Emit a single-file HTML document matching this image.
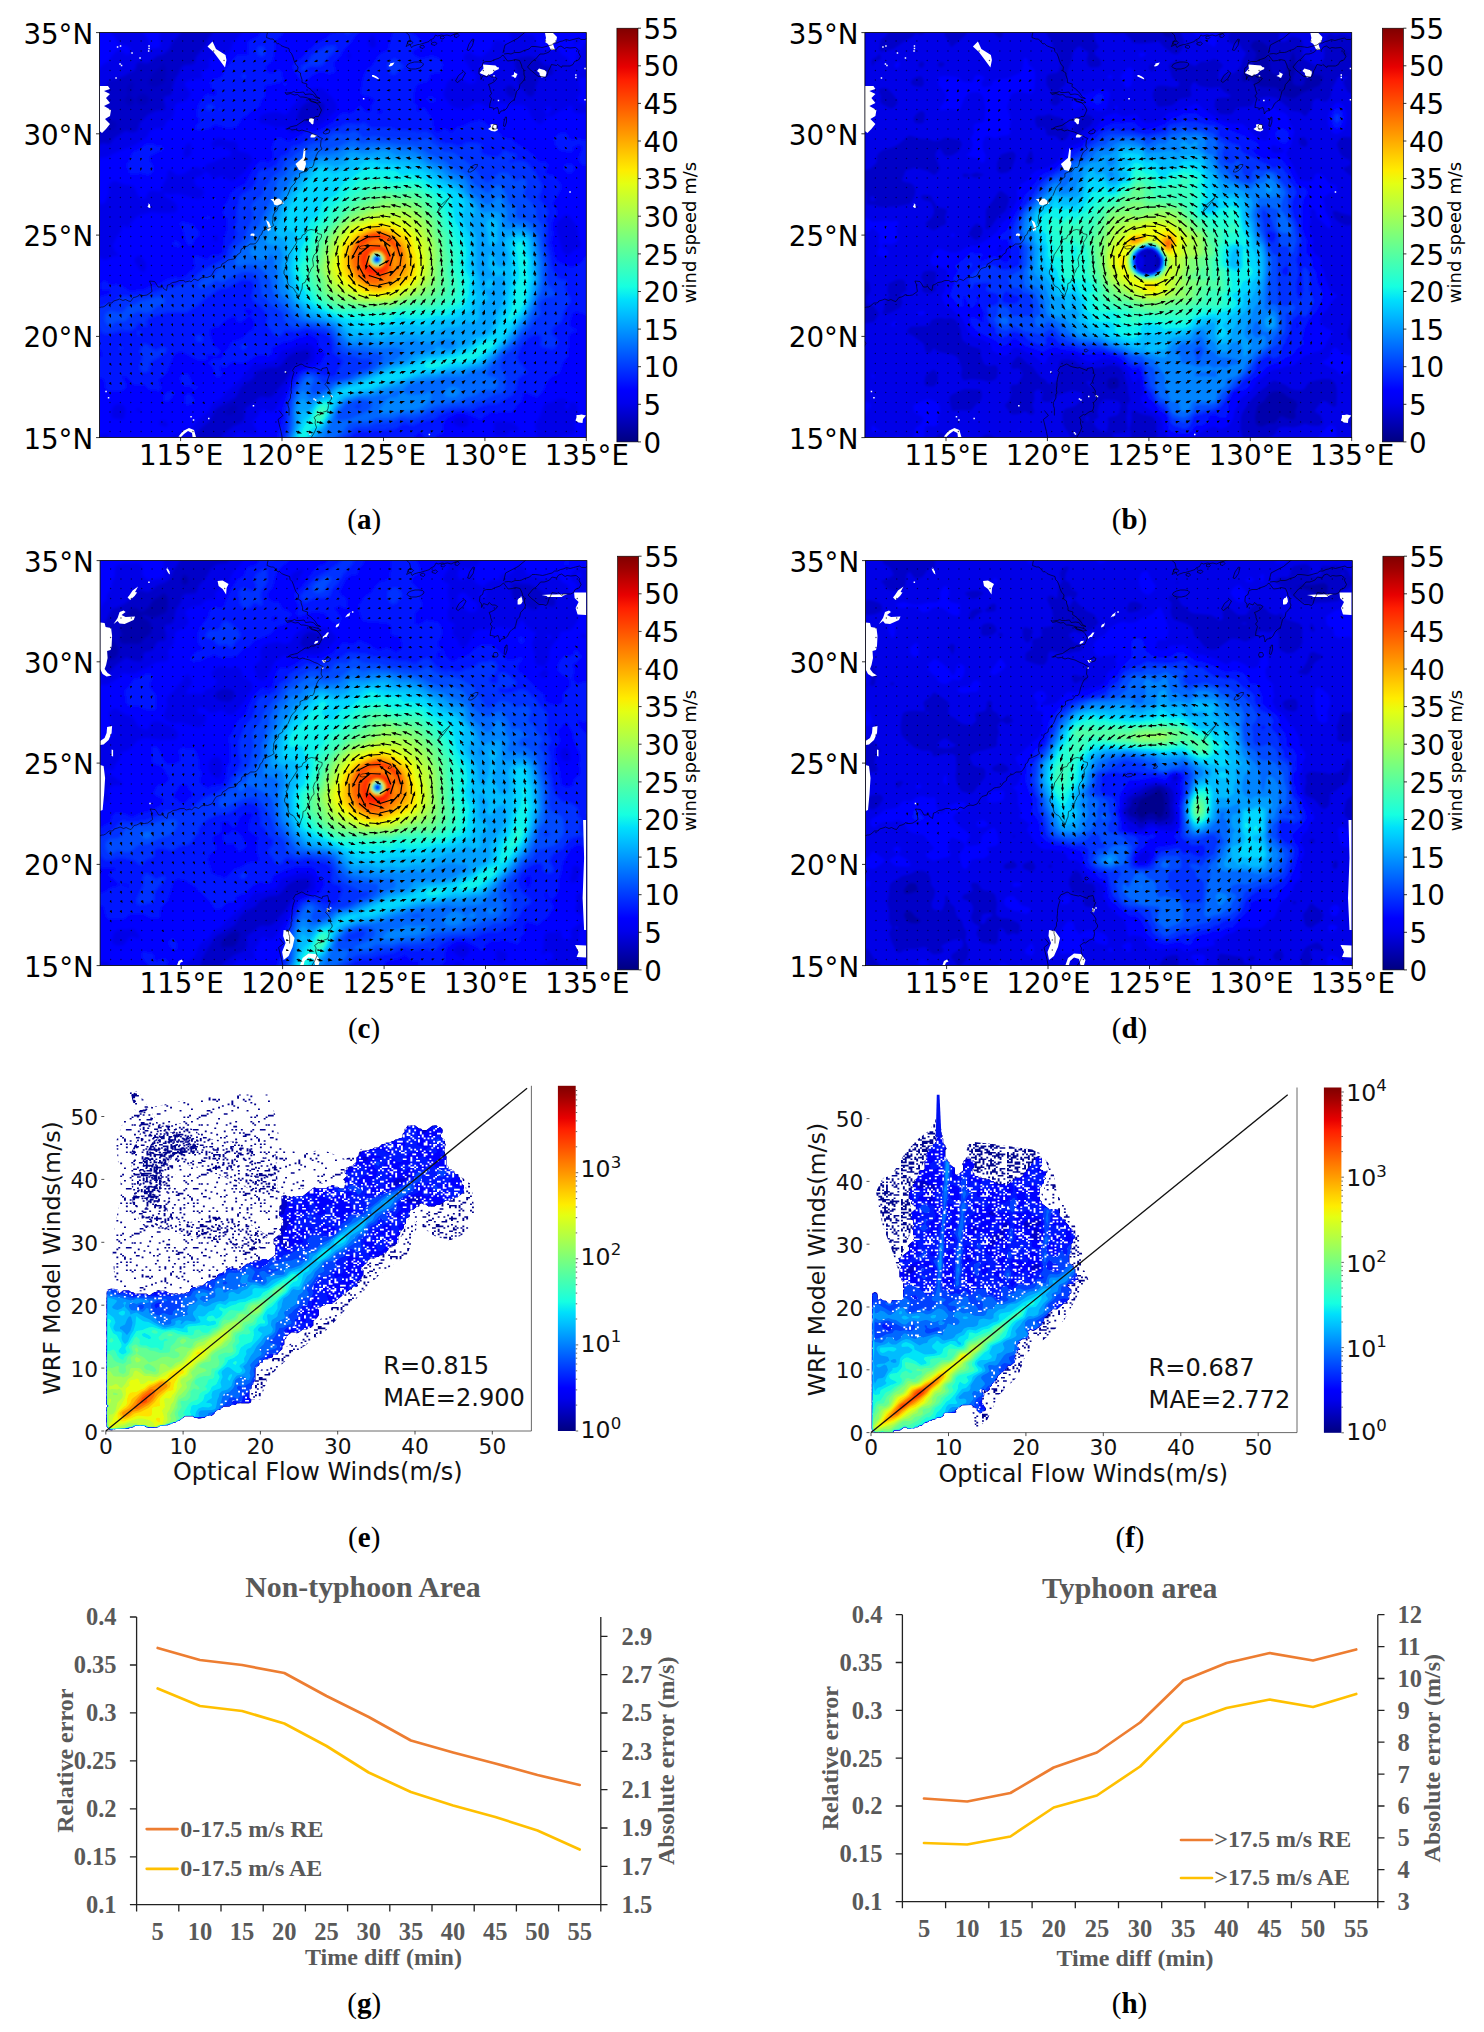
<!DOCTYPE html><html><head><meta charset="utf-8"><title>Figure</title><style>html,body{margin:0;padding:0;background:#fff}svg{display:block}</style></head><body><svg width="1484" height="2032" viewBox="0 0 1484 2032"><defs><linearGradient id="jg" x1="0" y1="0" x2="0" y2="1"><stop offset="0%" stop-color="#800000"/><stop offset="3.1%" stop-color="#9f0000"/><stop offset="6.2%" stop-color="#c40000"/><stop offset="9.4%" stop-color="#e80000"/><stop offset="12.5%" stop-color="#ff1e00"/><stop offset="15.6%" stop-color="#ff3b00"/><stop offset="18.8%" stop-color="#ff5900"/><stop offset="21.9%" stop-color="#ff7700"/><stop offset="25%" stop-color="#ff9400"/><stop offset="28.1%" stop-color="#ffb200"/><stop offset="31.2%" stop-color="#ffd000"/><stop offset="34.4%" stop-color="#feed00"/><stop offset="37.5%" stop-color="#e4ff13"/><stop offset="40.6%" stop-color="#caff2c"/><stop offset="43.8%" stop-color="#b1ff46"/><stop offset="46.9%" stop-color="#97ff60"/><stop offset="50%" stop-color="#7dff7a"/><stop offset="53.1%" stop-color="#63ff94"/><stop offset="56.2%" stop-color="#49ffad"/><stop offset="59.4%" stop-color="#30ffc7"/><stop offset="62.5%" stop-color="#16ffe1"/><stop offset="65.6%" stop-color="#00e0fb"/><stop offset="68.8%" stop-color="#00c0ff"/><stop offset="71.9%" stop-color="#00a0ff"/><stop offset="75%" stop-color="#0080ff"/><stop offset="78.1%" stop-color="#0060ff"/><stop offset="81.2%" stop-color="#0040ff"/><stop offset="84.4%" stop-color="#0020ff"/><stop offset="87.5%" stop-color="#0000ff"/><stop offset="90.6%" stop-color="#0000ed"/><stop offset="93.8%" stop-color="#0000c8"/><stop offset="96.9%" stop-color="#0000a4"/><stop offset="100%" stop-color="#000080"/></linearGradient></defs><rect width="1484" height="2032" fill="#fff"/><g transform="translate(0 0)">
<clipPath id="cpa"><rect x="99.5" y="32.6" width="486.79999999999995" height="405.0"/></clipPath><filter id="bla" x="-5%" y="-5%" width="110%" height="110%"><feGaussianBlur stdDeviation="1.6"/></filter><g clip-path="url(#cpa)"><g filter="url(#bla)" fill-rule="evenodd"><rect x="85.5" y="18.6" width="514.8" height="433" fill="#0000bb"/><path fill="#0000c8" d="M89.5 450l509 0 0-429.5-511 0 0 429.5zM204.5 443.5l0-2 .5-.5 1.5 .5zM225.5 413.5l.5-2 3.5-4.5 2-1.5 2-.5 2.5 0 1 2-.5 2.5-3 4-2 1.5-2 0-2 0zM108 130l-2.5-2-1-2 .5-2.5 2.5-3.5 2-.5 2 .5 3 1.5 2 2 0 2.5-1 2-2.5 2-3.5 0zM129 105.5l-1-.5-2-2-1-1.5-.5-2 1.5-2.5 1.5-1.5 .5-2-1.5-4 1.5-4 2-2 2-1 1 .5 .5 2.5-.5 2-3 5.5-1 .5 4.5 6 .5 2-.5 2-1.5 2-2 .5zM138.5 103.5l-2-2 0-2 .5-2 1.5-2 3.5-1.5 2 0 3 1.5 1.5 2 0 2 0 2-1.5 2-3 1.5-2 .5-2-.5zM153.5 87.5l-1.5-.5-2.5-1.5-1-2.5 .5-2 3-6.5 2.5-2.5 4-3 4-5 2 0 2 9-2 9-2 2-2 1-4 2z"/><path fill="#0000e8" d="M89.5 450l98 0-1.5-6.5 .5-2 2-3 8.5-6 4-4.5 8-7 2-2.5 4-8 2-2.5 18.5-10.5 5.5-10.5 4.5-4 7-4 1.5-2 1.5-4.5 2-1.5 10.5-3 2-.5 6 0 2-.5 4-3 5.5-7.5 3-2 5.5-2.5 10.5-2 2 1 1 1.5 .5 4-1.5 3-4 2.5-8.5 3.5-3.5 3.5-3 4-5.5 9.5-6 6.5-4.5 6-1.5 1.5-4 1-6-1-2.5 .5-2 1.5-4.5 4.5-6.5 4-1.5 2.5-.5 8-1.5 4-3.5 2-6 2.5-6 5-4 2.5-4.5 8.5-4 4.5-4 3.5 387.5 0 0-429.5-372.5 0-2.5 2-6.5 2.5-2.5 5.5-6.5 8-3.5 8.5-7 8-1.5 2-1.5 6-1.5 1-2 .5-6.5 .5-3 2-1 2-1.5 4-4.5 7-2.5 9.5 0 4-1.5 1.5-4 1-2.5 1.5-.5 2 2 8-1 2.5-8 .5-8.5 4-7 7-1.5 2-1.5 6.5-2 1.5-4 1-6-2-2 1-9.5 6.5-2 2-3 4.5-6-1.5-2 .5-6 3-2 .5-2-.5-1-.5 .5-6-3.5-2 0 312zM303 121.5l-5.5-2-.5-2 3.5-9.5 4-4 2-1.5 4-1.5 10 1 2 .5 1.5 1 1 2-1.5 6-1 2-6 6.5-4 2.5-4 0zM510.5 97.5l-2.5-2-2.5-4-.5-2 .5-2 3.5-2.5 2.5 .5 4 4 1 2 0 2-1 3-2 1zM527.5 95.5l-4-6-3.5-2-1-2-1-4.5 1-8-3.5-5.5-1-4.5 1-3.5 2-1.5 8-1.5 4-.5 9 3 5 5.5 2 1 4.5 .5 1.5 1 1 2 1 4-1.5 2-2 .5-2.5-.5-4-2-2 .5-2 3-3.5 9-1.5 8-1 2-2 1-2 0zM88.5 117.5l2-2 .5-2-1.5-6 1-2 7-4 2-2 5.5-10 2.5-6.5 1.5-2 2.5-1.5 6.5-1 6-2.5 6-3.5 3.5-1.5 2-2 .5-4 2-2.5 2-.5 6 1.5 2-.5 2-1 6.5-6 6-1.5 2.5-1.5 4.5-4 3-7.5 5.5-5 5.5-8 1-1 2-1 4.5-.5 1.5-1.5 1.5-4-106.5 0 0 98.5z"/><path fill="#0000ff" d="M97.5 450l71.5 0-.5-8.5 1-2 1.5-2 2-2 5.5-2 4-3.5 8.5-2 2-1.5 7.5-9 6.5-4.5 1.5-1.5 4.5-8.5 8-4 4.5-6 15.5-14 4.5-6 8-9 2-1 6.5 1 6-2 6-1 3-2.5 3-6 2-1.5 8-2.5 8.5-4 4-1 8 1 2 1 2 3 .5 2 .5 6-1 4-1.5 2-6.5 4-8 3-4 3.5-6 10-4.5 12-4.5 6-3.5 7.5-2 2.5-2 1-2 .5-6-3.5-2 .5-2.5 1.5-1.5 4.5-3.5 4-1 2 0 3 3 5 0 2-1 3.5-14-3-4 0-6 6-8.5 6-2 2.5-1.5 3.5 130 0 5.5-2.5 2.5 0 2.5 2.5 97.5 0 1-3.5 2-2 2.5-1 3.5 0 2 .5 1.5 1.5 0 4.5 65 0 2-6.5 1-4-1.5-4 .5-4-2-6 .5-2 4-6 4-12 2-2.5 6.5-1 6-3 4-.5 3 .5 2.5 2 .5 2-2 1.5-1 2.5 1 1.5 2 .5 1.5-2-1-4 5.5-1 2 1 1 2 1 4.5-.5 4 1 6-.5 .5-4 2.5-.5 1 1.5 4 0 4-1 2-2 1-10 1.5-2 1.5-3 4-5 3.5-2 1-4.5-1-2 0-2 2.5-.5 2.5 57.5 0 0-68.5-1.5-.5-1-2 2.5-2 0-303.5-8 3-10.5 2-1.5 2.5 2 8.5 .5 2-1 2-2 4-1 2 .5 2 2.5 .5 4.5 3 2 2.5 1 2-.5 2-2.5 1.5-2.5 .5-6-.5-2.5-1.5-1-2 0-4-2.5 0-5.5 4-4.5 1-2 1.5-6 4.5-2 0-2-1 2.5-4 .5-4-1-1-2 0-2 1-1.5 2 1 3.5 2.5 2.5-2.5 1.5-2 4.5-2 2.5-2 0-2-1-4-3.5-2-2-3-8-3-3-2-1.5-4-.5-6 1-12.5-2.5-2 .5-6 3.5-4 0-2 0-6-3.5-4-.5-2.5 .5-6 4.5-2 .5-8 0-5-1-3-2-2.5-4-3.5-4-1-4 3.5-10.5 1.5-2 4-3 2-.5 4 1 10 5 2 .5 3.5-1 2-2 .5-2-.5-4-1.5-2-4-3-4-7.5-3-3.5 0-2 1-2.5 4-2.5 2 0 3 3 3.5 1 4 1 2-1 8-7 2.5-6.5 1.5-2 2-.5 4 1 5.5 4 2.5 0 2.5-2.5 .5-2-2.5-6 0-2 2-2 5-2 5-4 2 0 2 2 0 2-1.5 2 0 2 1.5 1.5 2 1 4-.5 3 2 1 3 .5 5.5 1.5 2.5 2 1.5 6 1 12.5-1 2 2 .5 2 1.5 2 5 2 1 2 1 4 1 1 2 0 2 0 1-1 1-2 .5-6 1-2 4-4 3-5.5 1.5-1 4.5-.5 4 .5 1 2.5 .5 2 .5 6-.5 2-5 4-1 2 0 2 1 2 2 2 5.5 2 0-48.5-45 0-1.5 4-4 4-6.5 1.5-2-.5-1-3 1-2 3-4-60 0-5.5 8-2.5 1-2-.5-2-1.5-2-2.5-2-.5-7.5 4-4.5 5-4-2-6-4.5-1.5-2.5-.5-4-145.5 0-.5 2-1.5 2-3 1-2.5-1-1.5-2-.5-2-38 0 .5 6-.5 1.5-.5 .5-5.5 2.5-2 1.5-2.5 4-6 6-3 8.5-2.5 3-2 .5-4.5-.5-2 .5-4 2.5-4 1-1.5 1-.5 2 .5 6-.5 1-1.5 1-6 2-.5 2 1 2 0 2-1 1.5-2 .5-4 0-4 .5-4 1.5-2.5 2 .5 2.5 4.5 6 1 2-.5 2-3 4-2.5 1.5-6 1.5-2 1-1.5 2-.5 2-1 8-1 2-4 2.5-2 1.5-2 5-1 1.5-7 0-4.5 1.5-2 1-2.5 5.5-1.5 2-6 3.5-4 3-3 1.5-9 3-10.5 4.5-6 3.5-7.5 1-2 2-2.5 5-4 2-4 0 0 32.5 2-.5 4 .5 4 2 4 2.5 2 0 2-2 2.5-5.5 1-4-.5-6 .5-2 2.5-2.5 4-1 8.5 3.5 8 1 2 1 1 2 3 7.5 2 2 4 1 2-1 2-5.5 2-1.5 2-.5 8.5 1 1.5-1 1-6 3.5-6 .5-2 .5-4 1-2.5 2 0 5.5 4.5 2.5 .5 2 0 4-1.5 7-5 3.5-1.5 4 .5 4 3 4-6.5 6-1.5 6-3.5 8.5-2 2-.5 1.5-2.5 .5-2-2-2-6.5-3-4-.5-4 1-2 0-1.5-1.5 0-2 1.5-2.5 2-2 2-1.5 4 0 6.5 3 6 0 2 .5 2 2.5 .5 2-.5 4 2 1.5 6 1 3 1.5 3 3 1 3-1 2-8 11-10 7.5-2 .5-2-.5-6-4-2.5-.5-8 3-1-.5-1.5-4-5.5-3.5-2 3.5-2 1.5-4 1-2 1-1 2.5 .5 2 2 4 5 2 2.5 2 0 2-1 3-2 2.5-2 1-2 0-18.5-5.5-8 1-6-1.5-1 1.5 1.5 2 7.5 4 4 4 1 4.5-1 2.5-2 1-4 .5-10 0-8.5-1-12 3-2 .5-5.5 5.5-4.5 7-4-2.5-2 1-1 4.5-1 2-3.5 4-3 6.5-1 1.5 .5 2.5 2.5 4.5 3.5 3.5-5.5 .5-8 4-2-.5-6-3-4-6-6-5 0 196 4-1 4-4 4-1.5 8-1 2 1.5-1 4-1.5 2-7.5 2.5-3 1.5-.5 4.5zM256.5 441.5l-.5-2 1.5-2 2 2 .5 2-.5 1-2 .5zM496 435.5l-1.5-2-.5-10 1-2 4-.5 12.5 1 7 5.5 .5 2-1.5 1.5-2 0-4-1-3.5 3.5-3 2-6 .5zM461 427.5l-4.5-2-3-2-.5-2 .5-2 3-2 6-1 3 1 2.5 2 1 2-.5 2-1 2-3 1.5zM161 425.5l-2-2 0-2 3.5-1 2 0 2 1.5 1 1.5 .5 2-1.5 1-2 0zM112 417.5l-.5-2 0-4 1.5-4.5 2-2 3-1 2 0 2.5 1 2 2 1 2.5 0 2-1.5 6.5-2 1.5-8.5-1.5zM138 411.5l-2-2 2-1.5 2.5 1.5 .5 2-1 .5zM141.5 271.5l-2-2-5-8 0-2 1-2 2.5-2 2 0 2 2 3 4 1 3 0 3-1.5 4-2.5 .5zM564 253.5l-2-3.5-4.5-17-1-6 1-4 1-2 5.5-5.5 2-1 2 .5 2 1.5 7 10.5 1 4 0 6 3 6 0 2-1 2.5-2 1-4 1.5-4 4-2 1-2-.5zM214.5 241l-1.5-2 0-2 2-2.5 2 1 1 3.5-1 2-2 1zM183.5 156l0-2 1-6.5 2-3 2-1.5 2.5 1 0 8 0 2-1.5 2-3 1.5-2 0zM289.5 132l-3.5-4-2-1.5-8 1-8-3-7-1-1.5-2-.5-4 2-2 4-2 9-1.5 4 0 6 2.5 2 0 1.5-1 2-2 1.5-4 6-6 1.5-6 6-2 6-4 4-1.5 8 .5 2 1.5 7.5 7.5 4.5 6 .5 4-.5 2-1.5 2-6.5 6.5-9.5 8-2.5 1-4 1-8-.5-4 1.5-6.5 3.5-2 .5-2-.5zM347 57l.5-2 1.5-2 2 1.5 0 2.5-2 1.5zM370 47l-1-2-1-2.5 1-4 2.5-3 2 0 2 3.5 .5 6-.5 1.5-2 1.5-2-.5zM573.5 45l.5-2.5 2-3 2-1.5 2 .5 .5 2-.5 1-5.5 3.5-.5 .5zM89.5 91.5l1.5-2-.5-2-1-1.5-2-1.5 0 8zM91.5 73.5l2 1 2 0 1.5-1.5 3-6 2.5-2 6.5-4 3.5-6 5.5-5 2 0 6 4.5 2 .5 2-2 .5-4-1.5-2-3-1.5-6-1-2-2-3.5-6-3-2.5-1-3.5 1.5-4 .5-2-1-4-9.5 0-2.5 1.5-1-1.5-11 0 0 52zM580 71.5l1-2.5-1-.5-2 0 0 1.5zM481 70l2 0 2-3 0-2-2-2.5-2 1.5-1.5 3 0 2zM152 49l6.5-1.5 1.5-.5 .5-1 0-3.5-1-6 1.5-10-1.5-6-18.5 0 2 12 6 8-.5 4.5 1 2zM128 31l2 .5 2-.5 1-.5 1-2-1-8-12 0 3 7 2 2z"/><path fill="#0014ff" d="M227.5 450l2 0 4.5 0-2.5-2.5-2.5 0-3 2.5zM276 450l64 0 2.5-4.5 2.5-2 10-4.5 6-1 6 1 2.5 1.5 7 9.5 45.5 0 5-4.5 .5-2-.5-2-1-1-2-.5-4-.5-4-1-1.5-1 .5-2 5-3.5 2 1.5 2 3.5 2 1 6 1 2-1 4-3.5 4.5-1 1-2-1-4 1.5-6 1.5-2 2-2 5-3 4-1.5 8 0 12.5 4.5 4 2 4-4 6-3.5 6 .5 8-1.5 4 1 3-.5 9-10.5 2.5-8 2-1 2 .5 8 4 2 0 2-1.5 4.5-6 2-6 4-5 2-2 6-2 2-2.5 3-9 4.5-6 1-10 0-6 .5-4 1-2 2-2 4-1 2-1-6-2.5-2-2-.5-4 3-8 1.5-1.5 2-.5 4 .5 4.5 1 6 3.5 2 .5 1.5-1.5-.5-4-3.5-8-2.5-8 1-2 4.5-4 .5-2 1-8.5 2-3.5 2-1 0-14.5-6 0-2-1-2-3-2 0-2 2-2 3-2.5 2.5-6 3-2 1-2-.5-8-3.5-4-2.5-2-2-2-4-1-6-2-6.5 1.5-8-.5-12 1-4 3.5-4 .5-2 0-2-4-6.5 0-2 1-2 3-4 4-8 0-2-1-4-8-7.5-4-.5-2-2 0-2 1.5-4 0-2.5-2-1.5-6-.5-2-1.5-3.5-4.5-4.5-4-13-8-5-5-6.5-.5-2-.5-4-5.5-2-2-8-4-6-5-4-1-8.5 2-6 3.5-6 1-2 .5-4 5-2 0-1.5-.5-4.5-4-2 1.5-2 2.5-2.5 1-2.5-1-1.5-2-.5-2-.5-6.5-1-2-6-9.5-2-2-2-.5-2 4-2 .5-.5-.5-1-2 0-4-3-4 0-6 2-8 1-2 3.5-2.5 6-1.5 2-1 2.5-5.5 1.5-1.5 6-.5 2.5-1 1.5-3 .5-4-.5-2-1-2-1.5-2-5.5-2.5-2-.5-10 2.5-4-.5-4-3-1-2 0-2 1.5-2 5.5-2.5 1.5-1.5 0-2.5-.5-2-2-2-5-4-2-1-6.5-1-8-2.5-2 .5-2 1-3 9-1.5 6.5-1.5 3.5-2 1.5-6.5 3-6.5 10-6.5 6-1 2-2.5 8-1.5 10.5 .5 2 1.5 1.5 8.5 2 2.5 2.5 0 2-2.5 4-1 6-1 1-2.5 0-2-1-4-6-10 8.5-2 0-4-1-2 0-2 1.5-4 3-5 6-11.5 7-6 1.5-8-.5-2 .5-6 5.5-8.5 4-4-.5-6-3-2 0-2 1-1 1-1 2-2 6 1.5 8-1.5 4-2 1.5-2 .5-6-1-2.5 1-7 8.5-7 13-4 3-6 3-4 3-4 9-2.5 3-1 2.5-.5 6 .5 2 3.5 4 0 10-3 8-1.5 14.5-2 3-2 .5-7 .5-5 4-2 0-8-3.5-2 0-1.5 1.5 1.5 8-.5 2-1.5 2.5-4.5 3-4 4-2 1-8-.5-4 1-6 2.5-6 4-8.5 2-6 3-12 1-4-.5-8-5.5-4.5-.5-4 1.5-2-1-1-1.5-2.5-2-2.5 0-2 2-1 2 .5 2.5 2.5 2 2 0 4-.5 .5 2.5-1 2-1.5 .5-6 2-4 3-2 .5-8 .5 0 67.5 3.5 1 2.5 1.5 4 6.5 4 .5 2 1 1 2.5 1 6.5 2 2.5 2 1 10.5-.5 2 0 2-1.5 2-2 .5-2-2-4-2.5-4 2-1 2 .5 2 1.5 4 5 2 1.5 4 .5 6-.5 6 5 8.5 1 2-1.5 0-2-1.5-6 0-2 2-2 3.5-2 2-2 6.5-16.5 1.5-2.5 2-1.5 4-.5 4 .5 14.5 7.5 2 0 4 .5 2-1.5 0-4.5 2-.5 6 2 2-.5 3-3 0-2-3-2.5-4-2-1-5.5-2-6-.5-4 1.5-2 2-1.5 6-.5 4-4.5 2.5-2 8-4.5 2 1.5 2 5 2 .5 2-1 4.5-3.5 1.5-1.5 1-.5-1-.5-3-5.5 1-1.5 2-.5 4.5 2 0 2-2 4 3.5 4 .5 2-.5 6.5-1 2-5 2.5-5.5 5.5-2.5 1.5-6 1-2 1.5-2 4-5 6-1.5 3.5-2 3-2 .5-4-.5-6 3.5 1 2 4 4.5 1 6 2 2 2 0 2-2 0-3-1.5-3-.5-2.5 2-1 4.5 2 2-1 .5-2 2.5-2 3-.5 6 1 4-.5 2-.5 10-6.5 4-1 8.5 1 2-.5 .5-.5 1-2 .5-4 1.5-2 8.5-4 8-1.5 6-3 6.5-1.5 4-2 2 0 2 .5 4 1.5 2 1 1.5 3 .5 4 1 2 5 6 .5 2-.5 2-4.5 8-1.5 1.5-2 .5-14 4.5-3.5 2-2 2-5 8-8.5 24-1 14.5-4 12 0 6-3 10.5zM97.5 356.5l-4-2 0-2 2-2.5 2-1.5 2 .5 1.5 1.5 1 2 .5 2-1 2.5-2 0zM217 314l-2-2 2-2 2 2zM375.5 259.5l2-1.5 1 1.5-1 1zM377.5 113.5l0-2 2-3 2 .5 .5 2.5-.5 2.5-2 .5zM434 450l6 0-2-3.5-2-2-2-1-.5 2zM495 450l2 0 4.5 0-1-2.5-1.5-1-2-1-2 .5-1.5 1.5 0 2.5zM507 450l2 0 9 0-1-2.5-1.5-1.5-4-1-2.5 .5-1.5 2-1 2.5zM596.5 429.5l2 1 0-4.5-2.5 1.5zM596.5 411.5l2 1 0-20.5-2 1-1 2-1.5 4-2.5 4-.5 2 1 2 1.5 2.5zM186.5 405l4.5-1 1-1 2-2-.5-2-1.5-2-1-1.5-2.5-1.5-2 .5-1.5 2.5 0 6zM166.5 401.5l2-.5 2-2 2.5-4 1.5-2-1.5-2-4.5 1-4 3-1 4 1 2zM195 389.5l1-.5 1-2-2-1.5-2 .5-1-1-1.5-6-2-4-2-1-2 0-2.5 1-1.5 2 0 2 1 4 1 1.5 4 1.5 4.5 0 2 3zM598.5 304.5l0-.5 0-8-5 2 0 2 1.5 2 2 2zM174.5 246l4 .5 2-1.5-.5-2-1.5-1-2-.5-2 0-2 1.5 1 2zM191 245.5l2-2 .5-2.5 4-4 1.5-2 0-2-.5-2-2.5-2-3-4.5-8.5-2-2-.5-2 .5 0 .5 0 2 3 6 2.5 10 1 2 1.5 2zM596.5 233.5l2 0 0-7-3.5 .5-4.5 2 0 2 2 1.5zM207 219.5l1.5-.5 1.5-2-1-1-3.5 1 0 2zM215 200l1.5-1.5-1.5-1-1.5 1zM146 174.5l2 .5 2-1 2-1.5 1-2 0-4-3.5-6.5-.5-2 1-2 4.5-3 8-3 1-2-1-1.5-6-.5-4.5-2-4 0-4 1.5-4 4-6 2.5-2 2-2 6-3 4 0 2.5 3 7 2 .5 10-1zM590.5 175l4 1 4-.5 0-16.5-3-3-2-4 .5-4-1-4 0-4-.5-2-2-.5-2.5 .5-2.5 2-1 1.5-2.5-1.5-4-1-6 1.5-2-1-1.5-1.5-1.5-4-3-1.5-4 1-3.5 2.5-1.5 2-.5 2 .5 4 3 4 4 3 4 0 4 1.5 2-.5 1-4 1-1.5 2-1.5 4 0 2.5 1-.5 4-2.5 6 0 4 .5 2 2 2.5 6.5 0 3.5 2 0 2-2.5 4 0 2zM568 173l2 0 2-1 1.5-1.5 1-2-.5-2-2-2-2-1-4 .5-2 2.5 0 2 1 2 1 1.5zM197 130l4 0 6-1 3-1 3-2.5 2-.5 4 .5 6.5 2 6 0 4-.5 2-1.5 5-8 5-3 4-4 6-3 2-2 2-6 2.5-2 1-2 .5-2-1.5-6 2-2 8-1.5 8-2.5 .5-2.5-.5-6-2-3-2 0-6 4-2 0-2-1.5-2.5-3.5 .5-2 1-2 5-4 1-2 1.5-8 0-6 1.5-4.5 2-2.5 4-3 2-3 .5-1.5 0-2-2.5-8-21.5 0 1 8-.5 4-3 4-2.5 2-6 2-1.5 2 .5 10.5-.5 2-8.5 0-4 2-4 4-6 8.5-4 7.5-2.5 1.5-6 1-2 1.5-.5 2 .5 4.5 4 2 1.5 2 0 2-1.5 2.5-2 0-4-1.5-2 0-2 1.5-4.5 5.5-2 4-1.5 6 0 4 2.5 4 0 2-2.5 3-1.5 3.5zM430 102l4 0 1-.5 .5-2-1.5-1.5-1.5-.5-5 0-1 2 2.5 2zM284 85.5l2.5 0-.5-2.5-2-.5-.5 .5zM302.5 80.5l2 0 3-1.5 7-5.5 2-1 6-1 6 2 2 0 2.5-.5 2-1.5 .5-.5-.5-2-1.5-4 .5-2 1-2 4.5-4 5.5-9 6-5.5 4-6 7.5-8 4.5-4 2-2 .5-2-27.5 0-1 7-2 4-2 1-6.5 1.5-6 6-8 4-8 6.5-8 8.5-6 4-1 2-.5 2 1.5 4 6 8zM89.5 54.5l2-.5 .5-1-.5-6-1-4.5-3-1 0 13.5z"/><path fill="#0030ff" d="M282 450l51.5 0 7.5-8.5 8-4.5 8-5.5 4-.5 6 .5 6.5-1 6 0 14-1.5 4-1.5 4-3 2-1 2.5 0 6 2 10-4 4-1 6-1 2-.5 6.5-4.5 12-4 10-1 8 1 2-.5 8.5-4 10-2.5 6 .5 2-1 4-3 6-3 3-2 4-6 2-10 3.5-3.5 5.5-2.5-.5-2-8-10.5-1-2 0-2 2.5-8 3.5-5 4.5-5 3.5-2.5 4-1.5 2 0 2 .5 1.5 1.5 .5 2-1 6 .5 2 11 2.5 2-.5 2-2 2-4-.5-2-1-2-4-4-1-2 .5-2 2-3.5 6-4.5 2-2.5 1.5-6 1.5-4 2-4 3.5-4 0-2 0-2-2.5-3-2-5-.5-4.5 .5-2 1-2-1-1.5-6-.5-2-1.5-4-6-2-5-3-15.5-2.5-8.5 1-14 0-4-2-6 3-6-.5-2-4.5-7-3-3.5-1-2 0-3.5 1.5-2.5 .5-3 .5-5-3.5-6-3-6-4-3.5-2.5-5-1.5-1-4-2-6-.5-4 .5-2 1.5-2.5-.5 1.5-2 5-2 1-2-1-2-6.5-1.5-4-2-2 0-2 3.5-2 2-2 1-4 0-10-2.5-1-.5-1-2 1-6-1-1.5-2-1-8.5-1-4 .5-2 .5-2.5 2.5-1.5 .5-2 0-8-3-6 0-2-.5-6.5-4-6-6-2-1.5-2-.5-8 .5-12-1.5-8.5 0-10-2.5-14 1-4-1.5-4.5-4-2 0-4 1.5-10-1-4 .5-4 2.5-10.5 3.5-8 4.5-4.5 1.5-5.5 2-6 1.5-6 5-6.5 1.5-2 1-3.5 5-2 2-4.5 2-2 2-3.5 6-2.5 2.5-6 3-6 0-2.5 1.5-2 3.5-2 8-2.5 4-3.5 3.5-8 4.5-1.5 2-1 4-2.5 12.5 .5 8-2 6 1.5 6-.5 4-2.5 4.5-4 4.5-1.5 3.5-1 6-1 2-3 2.5-14 7-6 2.5-12 10.5-4.5 2-12 5-10 1-4 2-14.5 5-8 .5-8 1-8-.5-2 1-6 5-2.5 1-8 2-8 6-1 3 .5 4 5.5 12.5 1 2 2 1 2 .5 6-.5 9.5-3 7 .5 2-.5 4-1.5 1-.5 3-5.5 2-1 3 4 1 1 2-.5 1-.5-.5-4 .5-2 2.5-2 5-2 12-3.5 8-.5 12 .5 6-4.5 4.5-2 8.5-8 7.5-4.5 4.5-3.5 1.5-1 8.5-1.5 10-5 4-2.5 4-.5 6 1.5 2 2.5 0 4.5-1.5 8 1 4 1.5 2 5.5 4 5 6 3 3 .5 1-2 6 0 2 5.5 8 2 2.5 4 1.5 2 0 2-1.5 2-2.5 2-1.5 10 1.5 10.5-3 16 4 4.5 1.5 2 2 2.5 4 1 4 .5 8 7.5 6 2 2 .5 2-4.5 6.5-1 4-.5 1-1 1-3 1.5-2.5 .5-4-1-6-1.5-6-3-4-.5-4 1-4 1.5-3.5 3.5-6.5 12-4.5 14-1 8.5-.5 12-.5 6-1.5 6-3.5 8-.5 4-.5 2.5zM375.5 261.5l-.5-4 3 0 1.5 2-1.5 2zM142 372l2 .5 2-.5 2.5-1 1-2 1-6.5 2-2 4-1.5 9-6.5 1.5-2-.5-2-2-1-2-.5-6 3-2-.5-8.5-5.5-2 0-2 2-2 4.5 0 2 2 4 0 2-2.5 8 .5 3zM120 349l2 0 .5-.5-.5-1.5-2-.5-1 2zM241.5 349l2 .5 2-1.5 1-1.5-.5-2-2.5 0-2.5 2zM197 340.5l2 1.5 2-.5 1-1 .5-2-1.5-2.5-2-1-2 .5-1 1-.5 2zM138 335l2 1 .5-1.5-.5-3-2-.5-1 1.5zM207 110l4-.5 4-2-2-2-4-1-2 1-1 2zM219 110l2 0 .5-.5-.5-1-2 0-.5 1zM243.5 78.5l2-1.5 0-2-2-1-1 1-.5 2zM391.5 74.5l2 .5 2-1 4-4 2.5-1 2-2-5-6-3.5-2-2 0-3.5 2-2 2-.5 2 1.5 6zM302.5 71l2 0 4-4 2-1 6 .5 4-1 2-.5 2-2 4-6 6.5-5 .5-1 .5-4-1-1.5-8.5 .5-12 7-2.5 2-1.5 2-3 6-4 2-2.5 2 0 2zM259.5 56l2.5 .5 2-1 1.5-2.5 0-2-1-2-.5-1.5-2-1.5-2.5 .5-2.5 2.5 0 2 0 2zM347 34.5l2-1 7-7 1-4 0-2-10 0-2 10 0 2z"/><path fill="#004cff" d="M284 450l44.5 0 10.5-11 8.5-5.5 3.5-4 4-2.5 4-.5 8 0 10.5-3.5 10 0 6-1.5 8-3.5 10.5 1 6-1.5 22.5-8.5 12-2.5 16-1.5 8.5-3.5 9-2.5 7-4 8-1.5 3-2.5 1.5-4 0-10-1.5-4-3.5-4-.5-2.5 1-4 1-4 3-4 6.5-4.5 6-6.5 6-9 6.5-6 3.5-6.5 2-3 3.5-3 1.5-2 0-2-1-4 0-3.5 2-4 4-2.5 8.5-2 1-2-2-4-3-3-1.5-1.5-1.5-4-.5-6 1-8-.5-4-4-20.5-.5-16-1-2-5.5-8 .5-6-1-2-6-8.5-5-4-1-2 3-10 0-2-1-2.5-2-1-2 0-4 1.5-3 0-1-.5-4-5.5-2.5-1.5-4-.5-2 0-3.5 2-6.5 6.5-2 1-2 .5-2-1-3.5-3-4.5-7-4.5-3-3-4.5-15-10.5-4-1.5-6 0-2-1-4.5-4.5-6-3.5-4-4-2 0-10 2.5-4-1-6-2-8.5 .5-14-1-8-2-10.5 1.5-2 0-6-5.5-4-1-6 3-2 .5-6-1-4 0-4.5 2.5-4 5-2 1-8 .5-8 2.5-6 5-6.5 3.5-4 4-5 2.5-1.5 2-3.5 6-1.5 2.5-8 6-3.5 6-5 6-1 6-9.5 8-1.5 2-.5 2.5 1.5 6 0 4-6 14-2 6-11.5 14-2.5 6.5-1.5 2-11.5 10-5 7-6 .5-6 3.5-2 3 0 3.5 2 1.5 2-.5 8.5-4.5 3.5-3 2 0 4 1.5 2 0 6.5-4 12-5.5 6-.5 6 1 3.5 2.5 2 4 2 8.5 .5 6 1 2 3.5 2.5 4 5.5 2 1.5 10 6.5 1.5 2 1 6 1.5 2 2.5 2 3.5 2.5 4 1 10.5-1.5 8 1.5 8 .5 4 1.5 4 3 3.5 6 3.5 8 5.5 6 4 2 8 2 6 2.5 8.5 0 2 .5 .5 1 .5 2-.5 2-1.5 2-3.5 2.5-8 2-12 6.5-10 2.5-10.5 3.5-4-.5-5.5-6-4.5-2.5-2-.5-4 .5-4 2.5-3 4-5 10-3.5 10-1.5 12.5-.5 10-.5 8-1.5 4-4 10-.5 4.5zM354.5 407l2.5-2.5 2 0 2.5 .5-1 2-1.5 1-2 .5zM375 261.5l-.5-2 .5-2 2.5-.5 1.5 .5 .5 2-.5 2-1.5 .5zM107.5 325l2 1 2-.5 4-3.5 2.5-.5 6 0 2-.5 4-5 6-3.5 2-1 8 1.5 4-1 6.5-5 7-3 1.5-2 0-2-2.5-2.5-2-.5-4 0-6.5 2-10 2.5-6 3-6 1.5-2 2-2 3-2 1.5-4 0-6.5-1.5-4 1-2 2-1 4 1 4z"/><path fill="#0068ff" d="M286 450l35.5 0 5-4 10.5-10.5 6-4 4-6 2-2 2-1 8-1 6 .5 2 0 8.5-4 14 0 4-.5 8-3 8.5 0 8-1 4-1.5 12-6 6.5-1.5 18-3 8-4.5 6-1 4-1 4.5-3.5 2-1 10-.5 2.5-1 1.5-2 1-4-1-4-2-1.5-6-1-2.5-1.5 .5-2 3.5-6.5 6.5-6.5 4-6.5 8-6.5 6.5-6.5 5-8 5.5-6.5 4-6 5-12 2-8 3.5-6 1.5-4 1-8.5 0-8 .5-8-.5-4-3-16.5-.5-6-5-12-3-3-6-4-7-1-2.5-2-.5-2 .5-6-.5-2-4-2-2.5-1.5-3-9-5-8-2-1.5-2 .5-2 .5-6 7-2 0-12.5-8-7-8.5-3-2.5-4-2.5-8-4-6.5-5.5-10-5-6-2.5-8-5-4-2-8-2-8.5-.5-14-2-8 0-8-1-8.5 2-4-1-4-2.5-2-.5-14 6.5-14.5 4-4 0-4-1-4.5 .5-9 6-7 7.5-6 3.5-4.5 7.5-6 4-1.5 2-3 8-1.5 8-4.5 8-3 6.5-2.5 4-4 10-6 8-2.5 6-1.5 2-12 14.5-2.5 6 .5 2.5 1.5 1.5 2.5 .5 8-1.5 6 .5 2.5 .5 3.5 2 10.5 10.5 1 3.5 1.5 8.5 4.5 10 9 7.5 6 8 5 4.5 5 2 20.5 3 6 2 4.5 3.5 8 12.5 2 2 4 3 4 1.5 4 1 12 1.5 10.5 1 3.5 1.5 2 2 .5 2-1.5 2-5.5 6-6.5 4.5-4.5 2-6.5 1.5-10 5-14 4-7.5 5.5-9 4-4 1-2-.5-2-2.5 0-4 2.5-4 .5-2-.5-2-2.5-2-2 0-3.5 2-2.5 3.5-6 10.5-3 8-1.5 10.5-.5 12-1 8-1 4-4 8-1 4 0 2.5zM337 419.5l-.5-2 0-2 1-2 9.5-10.5 10-3 4-.5 4 .5 4.5 1 2.5 2 0 2-.5 2-2 2.5-8.5 5-7.5 3-4.5 2-8 1-2 0zM374.5 261.5l-.5-2 .5-2 1-1 2 0 2 1 .5 2-.5 2-2 .5-2 0z"/><path fill="#0084ff" d="M288 450l24.5-.5 4-5 4-3 2-2 4-7 2-5.5 4-7.5 2.5-6.5 2-3 8.5-9 13.5-4 14.5-.5 6-1.5 8 0 6-4 4-1 4 1 6.5-6 5.5-2 14.5-2.5 8-1 8.5-3 10 0 8-.5 10-4.5 8.5-2 6-4 7-7 7-8 8-7 4.5-5 5-8 5-6.5 4-6.5 4.5-9.5 5-14 3-12.5 0-18-4-24.5-3-6-3.5-4-4-2.5-4-1.5-10.5-2-3-2-1-2 .5-6-6.5-14.5-2-1.5-2 .5-2.5 3-3.5 3-4 1-2-.5-14.5-12.5-3.5-9-2.5-3-2-1.5-12-5.5-8-7-12.5-4.5-8-6-10-4-4-.5-6.5-.5-14-3-16 0-8.5 2.5-2 0-6-2.5-4 0-4 1-8 4-4 1.5-8.5 1.5-8 .5-12 7.5-6 7.5-8.5 6.5-4 8-6 6-3 7.5-3 4.5-7.5 14-3 10-1.5 4-7.5 12-6 6.5-.5 2 0 2 2 2 3.5 2.5 6.5 2 4 0 1-.5 3-5 2 0 2 2 .5 1 0 6 2.5 8 .5 12 2 8.5 1 2 5.5 5 6 9 6.5 6 5 4 5 2 16 3 8.5 3 2.5 2.5 4 6 5.5 6 4 3.5 4 2 10-.5 10.5 2.5 12 .5 8-1 10 2.5 1 .5 0 2-1.5 2-5.5 3.5-3 2.5-7 3-10 6-10.5 5-8 2.5-8.5 4-13.5 3.5-2 1.5-4.5 4-4 2.5-14 6-2 0-2-1.5-4-6-2 0-2 2-2 3-3 7-1.5 8.5 0 12-1.5 8-6.5 16 0 2.5zM374.5 261.5l-1-2 .5-2 1.5-1 2-.5 2.5 1.5 .5 2-1 2.5-2 .5-2 0zM383.5 413.5l8-.5 10-2 12.5-1 4-1 7-4 3-2 1.5-2 1-2 .5-6-1-2-6 3.5-10 .5-4 0-8.5-3.5-4 5-2 1-6 0-2 1.5-2 2-6 8.5-.5 2 2.5 2zM450.5 397l4 0 3.5-2 2-2 .5-2-1-2-3-1.5-4-1-2 .5-3.5 2-2 2-.5 2 0 2 2 1.5z"/><path fill="#00a0ff" d="M288 450l16.5 0 4-3 8-11 8-7.5 5.5-9 5-10 7.5-8.5 2.5-2 12-3.5 16.5-2.5 6-2.5 22-6 8-3.5 4.5-1.5 14-3 8-.5 10.5-3.5 16-1 8-3.5 10.5-2 4.5-3.5 21.5-20.5 18.5-26 5.5-12 3-10 3-12.5 .5-4-1-8 0-8-3-20.5-1.5-4-2.5-3.5-4-3-4-1.5-4-.5-8.5 1-4-.5-2-2-1-4-1-8-1.5-2-2.5-1-2-.5-10 1-2 0-2-1.5-2-2.5-3.5-6-9-10-4-7-2-2-10-5-10-8-13-6.5-7.5-5-2-1-10-2-10.5-.5-2-.5-6-3-4-1-4 0-10 2-8.5 1-8-2-4 0-4 1.5-4 3.5-4 2-4 .5-14.5 0-2 .5-10 7-6 7-7 6.5-8 12-8 14.5-7.5 14.5-6 19.5 1 2 1 1 10 2 2 2 3 7.5 0 2-2 8 3.5 18 3 8.5 7.5 12 7 6 3 4 2.5 2 19 5 8.5 3 4 3 4 6 5 5.5 3 2.5 2 .5 2 0 6-2 4 0 12.5 3.5 6 0 8-1.5 8 1 14.5-3 3 1 5 2.5 8-.5 4 1.5 2-1 2-2.5 2.5-1 8-.5 6 1.5 2 2 0 2-1.5 2-4.5 2.5-4 .5-8.5-3-2 .5-2 3.5-2 .5-18 4-6 5.5-2 1-16.5 4.5-22.5 10.5-7.5 2.5-6.5 3-16 5-8.5 7-10 4-8 6-2 0-4-4-2-1-2 1.5-2 3-2 6-.5 4 .5 8-2 10-2 6-4.5 9-.5 3.5zM374 261.5l-.5-2.5 .5-1.5 1.5-1.5 2-.5 2.5 2 .5 2-1 2.5-2 1-2-.5z"/><path fill="#00bcff" d="M290 450l11.5 0 4.5-4.5 8.5-11.5 8-6.5 2-2.5 3.5-5.5 5-10 2-3 8-9 14-4.5 14.5-2 10-4 20-6 14.5-4.5 10-2.5 10-.5 16.5-4.5 10-1 8-2.5 8.5-2 4-2.5 12-10 10-10.5 8.5-12 10-13.5 4-9 3.5-10 2-10.5 2-6 0-2-1-8-.5-8-3-20.5-1-2.5-2-2.5-6-3-4 0-8.5 3.5-3.5 2.5-1.5 4 0 2 3.5 8.5 0 6-1.5 4-3 3-2 1-2-.5-2-1.5-1.5-2-2-8-2.5-3-1 1-1 2-1 10 .5 2 6.5 8.5 2 .5 4-1.5 2 0 1.5 2.5 .5 10.5-1.5 10-2 8-5 8-3 8-1.5 6.5-3.5 4-5.5 3.5-8.5 1.5-2 2-2 3.5-2 2-6 2-10 4.5-16.5 4-10 1-6 2-12 6-18.5 4.5-12 5.5-22.5 9-17.5 5.5-7 6.5-10 3.5-3.5 2-8.5 10-2 .5-2.5 0-1.5-1.5-2 4.5-1.5 9-3.5 10-6 14-.5 2.5zM373.5 337l4 1 4 0 8-2.5 8-.5 6-2 8.5 .5 10 1.5 6-2 8-1 8.5-4 4-1 6 0 4-.5 4-2.5 4-3.5 4 2.5 2 .5 2-.5 2.5-2 2-3 .5-2-.5-6 1-4 3-3 4.5-3 1.5-2-4-6-4.5-4 0-6.5-4.5-14 0-4 .5-6-.5-8 0-10.5-.5-4-4-8-1-4 1-4 2.5-4 .5-2-.5-6-3-4.5-12-14-2.5-2-11.5-6-7.5-6-6.5-4-11-6-4-1.5-10-2-10.5-.5-10-2.5-16-.5-10.5 1-6-.5-1.5 0-2.5 2-4 4-10 2.5-8.5-2.5-6 0-4 1.5-5.5 5-19 22-8.5 14.5-3 10-3.5 8-1.5 4 0 4 1 2 7.5 5 1.5 1 1 2 0 6.5 1.5 8-2 8 3.5 12 1 8 6 14.5 2 2 11 10 25.5 9 5 3 7 7 6 5 2 0 10-2 4.5 1zM373.5 261.5l-.5-2 .5-1.5 2-2.5 2 0 2 1 1 1 .5 2-.5 2-1 1-2 1-2-.5zM487 289l2 0 2-1 2-2.5 .5-4-.5-2-2-1-2 .5-3.5 2.5-.5 2 0 2 .5 2.5zM491 246.5l2-.5 3.5-3 1-2 .5-2-1-6 1-6-.5-4-1-2-1.5-1.5-2-.5-4 .5-2 2.5-1 3 2 10 .5 8 .5 2z"/><path fill="#00d8ff" d="M292 450l7 0 7.5-8 6.5-10.5 9.5-6.5 5-7.5 8.5-18.5 5-4.5 8.5-1.5 9.5-3.5 12.5-1.5 10-4 18.5-5 22-7 14-1 16.5-5 10-.5 14.5-4 4-2.5 13.5-10.5 12.5-15.5 4.5-7 10-12 4-8 2.5-8 1-4 1-8.5 2-8-1-6 0-10-2.5-10-1-10-1.5-2.5-4.5-2-4 0-4 2-3 4 0 4.5 2 16-1.5 8 1.5 6-2 8-3.5 22-4.5 6.5-2.5 8-5 10.5-8 5.5-10 4-7.5 6.5-15 5-16.5 4.5-8 .5-4 1-16 7-17.5 4.5-25 10-10.5 5-6.5 1-10 4-1.5 1-4 4.5-2 1.5-8.5 1.5-4 1.5-4 3-6 9.5-2 2.5-4.5 3.5-1.5 2-11 26-.5 2.5zM373.5 330.5l4 .5 6-2.5 8-1.5 18.5-3 4 .5 6 1.5 6 0 2-1 6-3.5 8.5-1 14-2.5 8-5 4-1 2-2 1.5-6 4-6 .5-2-3-6 0-2 1-6.5 0-4-1.5-4-3-6-.5-2 1.5-12-.5-16.5-4.5-8-3-8 0-8 1-4 1-2-.5-4.5-2-4-6-6.5-9-5.5-7-3.5-6.5-5-9-5.5-3-1.5-6-1-7.5-1.5-7-2.5-14-2-6 0-8-2.5-6.5 0-2 .5-10 6-6 2-8 1-6 2.5-2 0-8-5-4.5 0-4 2.5-4 5.5-6 5.5-4 7-6 5.5-3 6-4 6.5-2.5 6-1 10-1 4 0 2 1 .5 6 1 2 1.5 2 3 .5 4 0 2-3.5 8.5 0 8-1.5 8 0 4 3.5 14 5 14.5 1.5 2 3 2.5 6 4 10 5.5 15 6 19.5 11 4 .5 8-1zM376.5 263.5l-1-.5-2-1.5-1-2 1-2.5 2-1.5 2-.5 2 1 1 1.5 .5 2-.5 2-1 1z"/><path fill="#0cf4eb" d="M296 448l8.5-7.5 2-3 3-6 1.5-2 3-2 6.5-3 3-3 3.5-6 3-8.5 .5-4-2-1.5-4 0-4 1.5-2 1.5-2.5 2.5-5.5 10.5-4.5 6-7.5 13.5-2.5 6.5-.5 2zM426 367.5l4 .5 4 0 12.5-3.5 6-3 2-.5 6 1 4-.5 10.5-3 3.5-2 6.5-5 6-3.5 2-2 2-3.5-1-2-1-.5-8 2.5-8 4-4.5 4.5-18 6.5-8 1-8.5 3-6-.5-4 1-1.5 .5-2 2 0 2zM373.5 324.5l2 0 6-2 6 0 2-.5 7-4 3-.5 8.5 1.5 10 0 10-.5 8-3 8.5 .5 4-1.5 6-4 7-2.5 3-3 4-9 .5-8 1-6.5-.5-4-3.5-6-1-4 0-4 1.5-8 0-6-2-6.5-.5-6-4.5-6-1-4-3.5-6-3.5-22.5-7-6.5-7-3.5-15.5-10.5-12-4-6.5 1.5-2 0-2-1-1-2-3-1.5-8-1-8 0-8-2-8.5 2-7 4.5-7 5.5-4 2-4 4-3 6.5-1 1.5-6.5 4-6 3-2 2-4 12-2 2-6 3-3 7-1 4 0 6-.5 2-4.5 8.5-1.5 8-3 6-1.5 6 .5 4 2.5 10 1.5 4 5 6.5 1 2 1 4 1.5 2 7.5 6 14.5 7.5 12.5 4.5 10 2 8 0zM375 263.5l-2-2-.5-2 .5-2 2.5-2.5 2 0 2 .5 1.5 2 .5 2-.5 2-2.5 2zM507 321l2 .5 10.5-10.5 4-7 2.5-10 .5-8.5 1.5-8-1.5-8 1-4 .5-4-.5-2-3.5-6 0-6-.5-2.5-2-3-2-.5-2.5 1.5-1 4.5 0 2 1.5 6 0 6 1 6 .5 10-4.5 10.5-.5 10-2 6-.5 6-3 6z"/><path fill="#23ffd4" d="M314.5 424l4-.5 2-1 4-5 3-8 0-4.5-1-.5-2-1-4 1.5-4 4.5-3 6-1 4 0 3.5zM367 316l12.5 0 6 2 2 0 6.5-4 3.5-1 4 0 6.5 1 6 .5 8-1.5 6 0 10-3 6.5 0 6-3.5 8-3 2.5-3.5 2-6 1-10.5-4.5-20 0-4 1.5-6-.5-4.5-6-13-2-7-3.5-8-2-6-8.5-18.5-6.5-4.5-6-4-4-4-2-1.5-10-1.5-8.5 1-10 0-12-5-2 0-8 2.5-6.5-.5-2 .5-4 2.5-6.5 6.5-9.5 11-11.5 9.5-1.5 2-3.5 6-8 8-3 4-1 2-2 8-4 8.5-1 10-4 6-1.5 4 .5 4 2 6 1 6 1 2 5.5 6.5 3 6 3.5 4 4 3 12.5 6.5 10 3 12 0zM375 263.5l-2.5-2-.5-2 .5-2 3-2.5 2-.5 2 1 1.5 2 .5 2-.5 2-1.5 2-2 .5z"/><path fill="#39ffbe" d="M316.5 421l2 0 2-1 2-2.5 2.5-6 .5-2-1-2.5-2-.5-2 1-3 4-2.5 6 .5 2zM365 312l4.5 .5 10-.5 8 .5 12-3 10.5 .5 8-2 8 .5 4 0 14.5-5 6.5-3.5 3-2 2-4 1.5-6 0-4.5-1-6-3.5-8-.5-2 2-6 .5-6-.5-2-3-6-1-10.5-1-4-4.5-8-4-12-7-14-4-3.5-12-8-8-1.5-10.5 1.5-10-.5-4-1-6-3-2 0-10.5 2.5-2 1-4 4.5-6 3-6 5-13.5 12-7.5 10-9.5 8-2.5 4-2.5 10-2.5 6.5-.5 8-5 10 0 2 2 8 0 6 1 2 5.5 6.5 4.5 8 2.5 2 12 6.5 8 2.5 12-.5zM374.5 263.5l-2-2-.5-2 .5-2 1-1.5 2-1.5 2 0 2 .5 2 2.5 .5 2-.5 2-2 2-2 .5z"/><path fill="#50ffa7" d="M318.5 416.5l2-.5 .5-.5 1-2-.5-2-1-.5-1.5 2.5-.5 2zM355 308l14.5 2 10-.5 8 .5 4-.5 10-3 8.5-.5 6-1.5 4-.5 8 1 4-1.5 12.5-7.5 1.5-2 3-8.5 .5-4-2-8 0-4 1.5-10 0-2-2.5-10-1-12.5-4-6-3-12-2-4-4-4-4.5-8.5-8-6.5-4-2-6-1-10.5 2-8-1.5-16-1-4 1-6.5 5-10 5-9 7.5-6.5 8-17 15-2.5 3-1.5 4-4.5 20.5-3 6-1 4 3 14 3.5 4.5 3.5 8 1.5 2 11.5 7.5 6 2zM374 263.5l-2-2 0-2 0-2 1.5-2 2-1 2-.5 2 1 2 2.5 .5 2-.5 2.5-2 2-2 .5-2-.5z"/><path fill="#66ff90" d="M355 306l14.5 1.5 22 0 8-2.5 8.5-2 6-1.5 10-1 4-1 8-5 4-4.5 2.5-6.5 1-6-.5-12 1-10-2.5-16.5-3.5-8-1.5-8-2.5-5-10.5-13.5-5.5-4.5-8-3.5-10.5 .5-10-2.5-6 .5-10 3-14.5 6.5-10 7.5-14 13-7.5 8-3 4-4 9-3 13.5-3 10 .5 4 5.5 12.5 2 6.5 2.5 3.5 10 7 4 1zM373.5 263.5l-1.5-2-.5-2 .5-2 1.5-2 2-1.5 2 0 3 1.5 1.5 2 .5 2-1 2.5-2 2-2 .5-2 0z"/><path fill="#7dff7a" d="M357 304l14.5 1.5 20 0 22.5-7.5 9-2 7.5-4 2-2 3-4.5 1.5-4 1-8 .5-10 1.5-8-.5-4-2.5-12.5-2.5-6-1.5-8-2-4-11-13.5-6-4-6-2.5-8.5 .5-10-3-6 .5-6 3-14.5 5.5-14 8.5-12 10.5-8.5 10.5-5.5 12.5-2 10-2.5 8 0 2 .5 2 3 6 3.5 12.5 1 2 2 2 8.5 5.5 4 1.5 10 1.5zM373 263.5l-1.5-2 0-2 0-2 1.5-2 2.5-1.5 2-.5 3.5 2 1 2 .5 2-.5 2-1.5 2-3 1.5-2-.5z"/><path fill="#94ff63" d="M359 302l14.5 1.5 18 0 8-3 6.5-2 12.5-4.5 9.5-6.5 4.5-6 1.5-4 .5-4 1.5-18-.5-8-1.5-6.5-5-14-2-4-7-8.5-6-5-4-2.5-4-.5-8.5-.5-8-2.5-2 0-18 6-18.5 9-2 1-9 7.5-8 10-5.5 12.5-4 18 .5 4 2.5 6 2 8 1 3 2 2.5 8.5 5 4 1.5 8 2zM373 263.5l-1.5-2-.5-2 .5-2 1-2 3-2 2 0 2 .5 1.5 1.5 1.5 2 .5 2-.5 2-1.5 2-1.5 1-2 .5-2 0z"/><path fill="#aaff4d" d="M359 300l18.5 1.5 10 0 4-.5 24.5-9 8-6.5 4-4 2-4 1-4 1.5-12 0-12-.5-5-1-3.5-7-14.5-5.5-7.5-5-4-3.5-2.5-4-1.5-8.5-1.5-8-.5-4 0-12 2.5-22.5 10-9 7.5-7 9-6.5 15.5-3 14 .5 4 4 12 3 4.5 8 5.5 10 3zM372.5 263.5l-1.5-2 0-2 .5-2.5 2-2.5 2-1 2-.5 2 1 2 1.5 1 2 .5 2-.5 2-1 2-2 1.5-2 .5-2-.5z"/><path fill="#c1ff36" d="M361 298l18.5 2 8-.5 4-.5 12-4.5 12.5-6 5-5 5-6.5 1.5-3.5 1.5-10 0-4-.5-6 .5-8.5-1-2.5-3.5-5.5-3-6-10.5-12-4.5-2-9-3-8 1-8-1.5-6 1-14.5 6-6 2-4 2-5.5 4.5-7.5 10-2 4-2 6.5-3.5 8-2 8 .5 6 3.5 10 3.5 4 7 5.5zM375.5 265.5l-2-1-2-2.5-1-2.5 .5-2 2.5-3.5 2-1 2 0 2 .5 2 1.5 1.5 2.5 .5 2-.5 2-1.5 2.5-2 1z"/><path fill="#d7ff1f" d="M377.5 298l8 0 4-.5 12-5 12.5-6 5-5 3.5-6 1.5-4 2-10-.5-2-1-6-.5-6-1.5-4.5-6-10-10.5-9.5-4.5-2.5-4-1.5-20-2-4 1-18.5 7-4 2-3.5 3.5-8.5 12-3 10.5-3.5 8-1 6 1.5 6 2.5 6 1.5 2 4.5 4 3.5 2.5 16 8zM375 265.5l-1.5-.5-2-2.5-1-3 0-2 1-2 3-2 3-1 2 .5 2 1.5 1.5 3 0 4-1 2-2.5 2-2 .5z"/><path fill="#eeff09" d="M375.5 296l6 0 8-1.5 10-3.5 12.5-6.5 3.5-3 1.5-2 3-8 2-12-2-7-6-15.5-1-2-3-3-12.5-7.5-4-1.5-12-2-6 0-12.5 4.5-10 4.5-3.5 3-7.5 10-2 4.5-3.5 14-.5 8 1 4 2.5 4 5 6 9.5 6.5 7 3.5zM374 265.5l-2.5-2-1-2 0-4 1-2 2-2 2-1 4 .5 2 1.5 2 3 .5 2-.5 2-1 2-3 2-2 .5z"/><path fill="#ffe600" d="M373.5 294l4 .5 5.5-.5 12.5-4 4-2 12.5-7 2.5-3.5 1.5-6 1-8-1-8-4.5-14.5-1.5-4-2-2-12.5-7.5-6-2.5-10-1.5-4 .5-10.5 3.5-6 2.5-5 3-2 2-7 8.5-2.5 6-2 10 0 10 1.5 4 4 6 4 4 11 7.5 4 1.5zM373.5 265.5l-2.5-2-1-2 0-2 1-4 2.5-2.5 2-.5 4 0 2 1.5 2.5 3.5 0 4-2.5 3-2 1.5-4 0z"/><path fill="#ffcc00" d="M373.5 292l4 .5 4-1 12-3.5 4.5-2.5 12-7 1.5-3 1.5-6 0-4-2.5-14-2-8.5-2.5-4-14.5-9.5-12-3-6 .5-8.5 3-4 2-6 4-9 11.5-1 4-1 6 1 12 5.5 10 4.5 4 8 5.5zM373 265.5l-2-2-1-2-.5-2 1-4 3-2.5 2-1 4 .5 2 1 2.5 4 0 4-2.5 3.5-2 1.5-4 0z"/><path fill="#ffb200" d="M375.5 290l4-.5 10-3 4-2 11.5-7 2-2 1-2 1.5-6-2-16-2.5-6.5-1.5-2.5-8-7-4-3-6-2.5-8-1.5-6 1-6.5 2.5-4 2-4 3-3.5 4-4 6.5-2 4-1 6 1 8 1 4 3 6 3 4 2.5 2.5 8 5zM372.5 265.5l-2-2-1-2 0-2 1-4 3-3 2-.5 4 0 2 1.5 3 4 0 4-1 2-4 3-4 0z"/><path fill="#ff9800" d="M375.5 288l4-.5 4-1 8-3.5 12-9.5 1.5-2 1-4-.5-12-.5-4-1.5-4-2.5-4.5-5.5-5.5-4-3-6-2.5-8-2-4 .5-4 1-6.5 3-4 2.5-3.5 4-3 4-2.5 6.5-1 4 0 6 1.5 6 5 10 3.5 3.5 6 4 4.5 1.5zM372 265.5l-2-2-.5-2-.5-2 1-4 3.5-3.5 2-.5 4 .5 2 1 2 2.5 1 2 0 4-1 2-2 2.5-2 1-4 0-2-.5z"/><path fill="#ff7e00" d="M375.5 286l4-.5 6-2 4-2 2.5-2 9.5-11 1-3 0-4 1-6-.5-4-1.5-4-2.5-4.5-3.5-3.5-4-3.5-4-2-6-2-4-.5-4 0-4 1.5-6.5 2.5-4 3-2 2.5-3 4-2.5 6.5-.5 4 0 6 1 4 2.5 6 2.5 5 3.5 3 4.5 3.5 4.5 1.5zM393 269.5l0-14-.5-2-2-4-3-3-4-2.5-9-3 7 0 5.5 2 2.5 2 4 5 2.5 5.5 1.5 6-2 6-2 3zM371.5 265.5l-2-2-1-4 1-4 4-4 4 0 4 1 2.5 3 1 2 0 4-1 2-2.5 3-2 .5-6 0z"/><path fill="#ff6400" d="M367 282l8.5 1.5 3.5-2 4.5-3.5 2 0 4-6.5 2-6 1-4-.5-6-1.5-4-3-3.5-4-2.5-4-1.5-10 .5-1.5-1.5 2.5-2 3-1 6 0 6 1.5 3 1.5 4.5 4.5 1.5 2 3 6 2 3 2-3-.5-6-3.5-6.5-6-5.5-6-3-6-2-4 0-4 .5-4.5 1.5-7 4.5-3.5 4-2 4.5-1.5 6 0 2 .5 6 1.5 5.5 4 8.5 4 4zM375 267.5l-1.5-.5-2.5-1.5-1.5-2-1.5-4 1.5-4 2-3 2-1 4-1 4 1.5 3.5 3.5 .5 2 0 4-1 2-3 3.5-2 .5z"/><path fill="#ff4a00" d="M367 278.5l2.5 0 2-1 10-1.5 4-2 2.5-2.5 2.5-6 1-4 0-4-2-5.5-2-2.5-3-2-5-2.5-2 0-10.5 2-4 2.5-2.5 4-1 4 0 4 2.5 8 .5 4 .5 2zM373 267.5l-3-2-2-4-.5-2 1-4 1-2 4-3 4-.5 4 1 2.5 2.5 2 4 0 4-.5 2-4 4-2 .5-4 0zM357 251.5l8.5-8.5 4-2.5 4-1.5 4 0 6 .5 4 2 2 1 5 5 3 4 2 0-2-6.5-3-4-3-2.5-4-2-4-2-8-1-6.5 1.5-4.5 2-3.5 2.5-4 5.5-.5 4.5z"/><path fill="#ff3000" d="M369.5 274.5l4 .5 8-1 4-2 2-2.5 2-5.5 .5-6.5-1-4-1.5-2.5-2-2-4-2-6 0-8.5 2.5-2 1.5-2 2.5-1.5 4 .5 6 3 8 2 2zM372 267.5l-2.5-2-1.5-2-1.5-4 2-6 3-3.5 6-.5 4 .5 5 5.5 .5 4-.5 4-3 3-2 1.5-2 .5-4 .5zM361 243.5l8.5-5 10-1 6 1 .5-1.5-6.5-2-4-.5-3 .5-8.5 4-2 2z"/><path fill="#ff1600" d="M369.5 272l6 .5 5.5-1 3-2 .5-2-1 0-2 1.5-3.5 .5-.5 1-2-1-4-.5-2-2-2.5-.5 0 3z"/></g><path d="M99.5 86l8.5 0 2 3-6 2 6 3-4 4 4 5-6 3 7 4-1 6-5 3 5 5-4 5-4 4-2.5-2zM207.5 46.5l5-5 3.5 7.5 9.5 6 1 5-1.5 7.5-5.5-7.5-6-8zM304 148l1.5 2-.5 8 1 6-2 7-5-1-3.5-6 3.5-3 3.5-3zM266 220l3 2 2 5-1 4-2-5zM178.5 436.5l4.5-5.5 6-3 5 2 2 7-3.5 0-.5-4-4-2-4 3-3 3zM545 33l8 0 4 4-1 5-3 2 2 6-4 0-3-6-3-2 1-4zM284 203.5l-4.5 1-2.5 1-3-1-.5-2.5-3-3 5 0 3.5-.5 2.5 2zM494.5 71l-2 2.5-6 2.5-7-3 4-4.5-.5-4 6.5 .5 6 .5 3.5 3.5zM516.5 76l-.5 1.5-1.5 .5-.5-1-3-1 3-1.5 0-2.5 1.5 1 2 1zM546.5 73l-1 3.5-4 1-2-3 0-1.5-2.5-2 2-2.5 3.5 1 3.5 1zM498 130l-3 1.5-3.5-.5-3.5-2 3-2-.5-2.5 3-.5 3.5 1-.5 2.5zM393.5 64l-.5 1-1.5 1-2 .5-1-.5 1.5-1.5 0-1 2-.5 2.5-.5zM379 79.5l-2.5-1-2-1-2.5-1 0-1.5 1.5 0 2 1 1 .5 2 1.5zM313.5 122l0 1.5-1 1-1.5-1-.5-1-1.5-1 0-3 2.5-.5 2.5 1zM315.5 136.5l-1 1-1.5 0-2.5 0 0-1.5 1-1.5 2-.5 1.5 1 2.5 .5zM583 419l-.5 4-4-.5-3-2 1-3 0-2.5 2.5 0 2.5-.5 4.5 1zM254.5 235l-.5 1.5-2-1-1 .5-.5-.5 0-1 1-1 2 0 1 .5zM269.5 230l-.5 .5-1 1-.5-1.5-.5-.5 .5-1 .5-.5 1 .5 .5 .5zM150 205.5l.5 2-1 .5-1-.5-1-1 1-1.5 0-2 1 1.5 .5-.5zM116.8 46.3h1.5v1.5h-1.5zM119.8 45.3h1.5v1.5h-1.5zM131.3 52.3h1.5v1.5h-1.5zM139.3 57.3h1.5v1.5h-1.5zM148.3 45.3h1.5v1.5h-1.5zM148.3 47.8h1.5v1.5h-1.5zM147.9 50.3h1.5v1.5h-1.5zM119.3 63.3h1.5v1.5h-1.5zM120.8 64.8h1.5v1.5h-1.5zM115.3 77.3h1.5v1.5h-1.5zM362.9 98.1h1.5v1.5h-1.5zM497.7 99.7h1.5v1.5h-1.5zM575.1 74.3h1.5v1.5h-1.5zM575.1 76.8h1.5v1.5h-1.5zM584.3 67.7h1.5v1.5h-1.5zM584.3 98.9h1.5v1.5h-1.5zM569.3 191.3h1.5v1.5h-1.5zM105.3 390.7h1.5v1.5h-1.5zM107.8 397.1h1.5v1.5h-1.5zM190.3 416h1.5v1.5h-1.5zM192.8 419.3h1.5v1.5h-1.5zM208 417.7h1.5v1.5h-1.5zM252.7 405h1.5v1.5h-1.5zM284.7 371.3h1.5v1.5h-1.5zM313.3 398.3h1.5v1.5h-1.5zM314.8 399.3h1.5v1.5h-1.5zM322.6 395.8h1.5v1.5h-1.5zM330.1 394.9h1.5v1.5h-1.5zM331.3 395.8h1.5v1.5h-1.5zM308.3 432h1.5v1.5h-1.5zM309.3 433.3h1.5v1.5h-1.5zM428.6 433.7h1.5v1.5h-1.5zM497.3 67.3h1.5v1.5h-1.5zM485.3 73.3h1.5v1.5h-1.5zM493.3 75.3h1.5v1.5h-1.5z" fill="#fff"/><path d="M97.5 308l4-1 1.5 0 2-1 3.5-3 3.5 0 1.5-2 3.5-1 2.5-1 3.5 1.5 2.5-1 3 1.5 2 .5 3-4 2.5-.5 3-1.5 .5-1 2 1 2.5 0 3-.5 5-3.5-.5-3-.5-4-1.5-3.5 5 .5 1.5 2 2 3.5 2 0 2.5-.5 1 2 3 2 1-5.5 2-.5 3-2 3.5-.5 3.5-1.5 4 0 2 1.5 4-1 1.5 1 3-3 4 1.5 3-2.5 3-1 3 .5 4-1.5 1.5-2 1.5-3 2-2.5 5-1.5 1-3 3-1.5 3-2.5 2.5-.5 3.5-.5 2-2 1-2 3.5-2.5 .5-3 3.5-2.5 3-1 2.5-2 3.5 0 2-.5 2-2.5 1.5-2.5 .5-2.5 2-1.5 1.5-4 3-1 1-.5 3.5-1.5 3-2-1-3 .5-3 0-3.5 1.5-3.5 1-.5 2-2.5 .5-3 4-2.5 .5-3 4-4.5 1-1 1.5-3.5 1.5-4 2-2.5 2.5-2.5 1-3.5 3.5-2.5 0-3.5 3.5-1.5 3.5-.5 3-4 2.5 0 1.5-2.5 1-5 1.5-3.5 0-.5 2-4 4-3-1.5-3 .5-5.5 1.5-2-2.5-1-3-2-3-1-2-1-3-1.5-4-1-3-1-3 1-3.5-1.5-4 .5-1.5-1.5-3 .5 3-2 4-1 2.5-.5 3.5-2.5 1-.5 3.5-2.5 3.5 0 2.5-2 3.5 0 1.5-1.5 3 0 1.5-3 1.5-3.5-2.5-4.5-1.5-1.5-1.5-1.5-5.5-2 0-1.5-4.5-1.5-3-.5-2.5 0-3-2.5-3 .5-4-1.5-4 1-1.5-2 1.5 .5 5-.5 2.5-1 1.5 1 4 0 4-.5 1.5 2.5 4.5-.5 3 .5 2 1.5 1 1.5 4.5 1-3-1.5-3-4.5-2-1.5-1-1.5-4.5-3 .5-2.5-5-1.5 0-3-1.5-4.5 0-2-3-2 .5-4-2.5-3-1.5-3.5-1-3.5-1.5-3.5-2-2-.5-3-4.5-1.5-2.5-1-1-.5-2-2-1.5 .5-4.5-5-2.5 0-4-1.5 .5-3.5 .5-1-1.5-3.5-.5-3.5M302.5 235l2.5-1 2.5-3.5 3.5-1 2.5 .5 2.5 0 1.5 3.5 4 1 0 2.5-1.5 2.5-2 3 .5 3.5-1 3-1.5 4-2 2-1.5 4.5 .5 2.5 .5 4-2.5 3-1 3-1 1-.5 3-2 3-1.5 3.5-2.5 1-.5 5.5-1 2-.5 1.5-1.5 4.5-1-2.5-2.5-2.5-1-2-2-2.5-2.5-1-2-2.5-1-4.5-1-2.5-2-3.5 0-2.5 2.5-5-1-2.5 1.5-2 1.5-5.5 0-1 1.5-2 1-1.5 3.5-5.5 2-3 .5-3.5 4-1 1.5-3.5M289 415.5l0-3.5 0-3.5-1-3 0-3 2.5-4.5 0-3.5 1-1.5-.5-3.5 .5-4 0-3 .5-3 .5-2.5 1.5-4.5-1.5-2 2.5-4 1 0 5-2.5 1.5 .5 2 1.5 3 1 5 1 1.5-.5 2.5 1 5 2 .5-2 2.5-.5 2.5-.5 .5 1.5 1 4.5 1 1-1.5 4-1 3.5-2 2.5 2.5 2.5 2.5 4-.5 3 2 3 0 2-3.5 4 .5 2.5-.5 3-1 2.5-3.5 1-4 3-1.5-.5-4 3 1.5 2.5-.5 3 1.5 4.5-1.5 3.5-1.5 3-2 3-1 3M279 410.5l4 5-5 4 3 12 2 10M479 71l.5-3 2.5-1.5 1-4 3-1 5 0 2.5-1.5 1.5-.5 4.5-1.5 1-1 2.5-2 1.5 2 3 4 4.5-.5 1.5-.5 1.5-.5 4.5 1 2 4.5 .5 2.5 1.5 2 .5 3 0 2.5 1 2-1 3-2.5 3-1.5 1.5-1 4.5-2.5 2.5-1 4-.5 2-1 2.5-2.5 1.5-2.5 2.5-2 4-2.5 2.5-3.5 .5-2 3-.5-3.5-1-3-3 1-3.5-1-1.5 0 .5-4 1.5-5-2-2.5 2-2.5-1.5-4 0-1.5-1.5-3.5 2.5-1 3.5-2 2.5-3-2.5-1.5-3 0-3-2.5-1.5 2.5-4-1.5-2 4 0-3.5-2-2.5 0-2.5M527.5 67l2.5-3 2.5-3 2.5-1.5 2-2 3-3.5 3.5 0 2-.5 3.5-1.5 2.5-3 4.5 1 2-3 3-1 3.5 2.5 2-1 3.5 .5 5.5-.5 2.5 2 1 1-.5 2 2 4-2 3.5-4 1.5-1.5 3-3 1.5-2.5 0-5.5 0-.5 1.5-4-3-1 1-5-1-2 4.5-1 1.5-1.5 5-1.5 2-3-1-4 0-2-1.5-3.5-3-1.5-1-2-2-2-2M503 53l2-8 12.5-6.5 12-10M504 54l4-.5 3 .5 3.5-1.5 4.5 0 2-.5 3-1.5 2-.5 3-1 2.5-2.5 3.5 0 4 .5 3 .5 4-1 1.5-.5 4-1 2.5-2 3 0 3-1.5 2.5-.5 3.5-1.5 3.5 1 3.5-1 2-.5 4-1 2 1.5 4 0 1.5-1 3.5 1M404 26.5l1.5 3 .5 3 3 2.5 1 4.5-1 1-1.5 2.5-1.5 3.5 4-2 1.5 3 2-1.5 4.5-1.5 1.5 0 1.5-.5 3.5-1 4.5-1.5 1-1.5 3.5-1.5 2-3.5 2 1 4-1 2.5 .5 3-.5 3.5 1 4-2 2 0 3.5-2 3-.5 1.5-3.5 3.5-1M423.5 64l-1.5-1.5-3.5-.5-4 0-4 1-3 1.5-1 2 1.5 1.5 3 1 4.5 0 4-1 3-2 1-2M437 213l3.5-7.5 9-8-6 8-6.5 7.5M477.5 164.5l-2.5 0-3.5 2-3 3.5-.5 2 2.5 0 3.5-2 3-3.5 .5-2M391.5 238l-1.5-.5-2 1.5-.5 1.5 1.5 0 2-1 .5-1.5M367 246.5l-2-1-4 .5-2 2 2.5 1 4-.5 1.5-2M506.5 122l0-5-1 0-1.5 4.5-.5 4.5 1.5 .5 1.5-4.5M497.5 127l-1-2.5-3 0-1 2.5 1 2 3 0 1-2M462.5 78.5l3-5.5-2-1.5-5 4-3 5.5 2 1.5 5-4M472.5 45.5l1.5-6-1.5-.5-3.5 5-2 6 2 .5 3.5-5M330 130.5l-2-1-3.5 1.5-1.5 2 2.5 1 3.5-1 1-2.5M320.5 102.5l-2.5-2-6-1.5-3.5 .5 2.5 2 6 1.5 3.5-.5M97.5 338.5l3 5-3 5M322.5 350.5l-1.5-1.5-2 .5 0 2 2 .5 1.5-1.5M413 42.5l-2-1.5-3.5 .5 0 2.5 3.5 .5 2-2M424.5 47l-1.5-2-3 1 0 1.5 3 1 1.5-1.5M437 43.5l-2-1.5-3.5 1 0 1.5 3.5 1 2-2M459 35.5l-2-2-2.5 1 0 2.5 2.5 .5 2-2M444.5 37.5l-1.5-1.5-2.5 .5 0 2 2.5 .5 1.5-1.5" fill="none" stroke="#000" stroke-opacity=".8" stroke-width=".75" stroke-linejoin="round"/><path d="M110 41h467M110 51h467M110 60.5h467M110 70.5h467M110 80h467M110 90h467M110 100h467M110 109.5h467M110 119.5h467M110 129h467M110 139h467M110 148.5h467M110 158.5h467M110 168h467M110 178h467M110 187.5h467M110 197.5h467M110 207h467M110 217h467M110 226.5h467M110 236.5h467M110 246h467M110 256h467M110 265.5h467M110 275.5h467M110 285h467M110 295h467M110 304.5h467M110 314.5h467M110 324h467M110 334h467M110 344h467M110 353.5h467M110 363.5h467M110 373h467M110 383h467M110 392.5h467M110 402.5h467M110 412h467M110 422h467M110 431.5h467" stroke="#00001c" stroke-width="1.45" stroke-linecap="round" stroke-dasharray="0 10.37" fill="none" opacity=".7"/><path d="M348.5 148.5l-.5 .5M358.5 148.5l-.5 0M369 148.5l-.5 0M379.5 148.5l-1 0M390 148.5l-1 0M317 158.5l-.5 .5M327.5 158.5l-1 .5M338 158.5l-1 .5M348.5 158.5l-1.5 .5M358.5 158.5l-1.5 .5M369 158.5l-1.5 .5M379.5 158.5l-1.5 0M390 158.5l-1.5 0M400 158.5l-1.5 0M410.5 158.5l-1.5 0M421 158.5l-1-.5M307 168l-.5 1M317 168l-1.5 1.5M327.5 168l-1.5 1M338 168l-1.5 1M348.5 168l-2 1M358.5 168l-2 1M369 168l-2.5 .5M379.5 168l-2.5 .5M390 168l-2.5 0M400 168l-2.5-.5M410.5 168l-2-.5M421 168l-2-.5M431.5 168l-1-.5M441.5 168l-1-.5M296.5 178l-.5 1M307 178l-1 1.5M317 178l-2 1.5M327.5 178l-2 1.5M338 178l-2 1.5M348.5 178l-2 1M358.5 178l-3 1M369 178l-3 .5M379.5 178l-3 .5M390 178l-3 0M400 178l-2.5-.5M410.5 178l-3-.5M421 178l-2.5-1M431.5 178l-2-1M441.5 178l-1.5-1M452 178l-1-.5M462.5 178l-.5-.5M286 187.5l-.5 .5M296.5 187.5l-1 1.5M307 187.5l-1.5 2M317 187.5l-1.5 2M327.5 187.5l-1.5 1.5M338 187.5l-2 1.5M348.5 187.5l-2.5 1.5M358.5 187.5l-3 1.5M369 187.5l-3.5 1M379.5 187.5l-4 .5M390 187.5l-3.5 0M400 187.5l-3.5-.5M410.5 187.5l-3.5-1M421 187.5l-3-1.5M431.5 187.5l-2.5-1.5M441.5 187.5l-2-1.5M452 187.5l-1.5-1M462.5 187.5l-1-1M286 197.5l-.5 1M296.5 197.5l-1 2M307 197.5l-1.5 2M317 197.5l-1.5 2M327.5 197.5l-2 2M338 197.5l-2 2M348.5 197.5l-3 2M358.5 197.5l-3.5 1.5M369 197.5l-4.5 1M379.5 197.5l-4.5 .5M390 197.5l-5-.5M400 197.5l-4.5-1M410.5 197.5l-4.5-1.5M421 197.5l-4-2M431.5 197.5l-3-2M441.5 197.5l-2.5-2M452 197.5l-2-1.5M462.5 197.5l-1.5-1.5M473 197.5l-.5-.5M275.5 207l-.5 1M286 207l-.5 2M296.5 207l-1 2M307 207l-1 2M317 207l-1.5 2M327.5 207l-2 2.5M338 207l-2.5 2.5M348.5 207l-3.5 2.5M358.5 207l-4.5 2M369 207l-5 1.5M379.5 207l-5.5 .5M390 207l-6-.5M400 207l-5.5-1.5M410.5 207l-5-2.5M421 207l-4.5-2.5M431.5 207l-3.5-2.5M441.5 207l-2.5-2M452 207l-2-2M462.5 207l-1.5-1.5M473 207l-1-1.5M483 207l-.5-.5M493.5 207l-.5-1M504 207l-.5-.5M275.5 217l-.5 1M286 217l-.5 2M296.5 217l-1 2M307 217l-1 2.5M317 217l-1 2.5M327.5 217l-2 3M338 217l-2.5 3M348.5 217l-4 3.5M358.5 217l-5 3M369 217l-6.5 2M379.5 217l-7 .5M390 217l-7-1M400 217l-6.5-2.5M410.5 217l-5.5-3.5M421 217l-4.5-3.5M431.5 217l-3.5-3.5M441.5 217l-2.5-3M452 217l-1.5-2M462.5 217l-1-2M473 217l-1-1.5M483 217l-.5-1M493.5 217l-.5-1.5M504 217l-.5-1M275.5 226.5l-.5 1.5M286 226.5l-.5 2M296.5 226.5l-.5 2M307 226.5l-1 2.5M317 226.5l-1 3M327.5 226.5l-1.5 3.5M338 226.5l-3 4.5M348.5 226.5l-4.5 5M358.5 226.5l-6 4.5M369 226.5l-7.5 3M379.5 226.5l-8.5 .5M390 226.5l-8-2M400 226.5l-7-3.5M410.5 226.5l-5.5-4.5M421 226.5l-4.5-4.5M431.5 226.5l-3.5-4M441.5 226.5l-2.5-3.5M452 226.5l-1.5-2.5M462.5 226.5l-1-2M473 226.5l-.5-1.5M483 226.5l-.5-1.5M493.5 226.5l-1-2M504 226.5l-.5-1M514 226.5l-.5-1M524.5 226.5l0-.5M265.5 236.5l0 1M275.5 236.5l0 1.5M286 236.5l0 2M296.5 236.5l-.5 2M307 236.5l-.5 2.5M317 236.5l-1 4M327.5 236.5l-1.5 4.5M338 236.5l-2.5 6M348.5 236.5l-4 6.5M358.5 236.5l-6.5 7M369 236.5l-10.5 5.5M379.5 236.5l-12 .5M390 236.5l-10-4M400 236.5l-7-5.5M410.5 236.5l-5.5-6M421 236.5l-4-5.5M431.5 236.5l-3-5M441.5 236.5l-2-4M452 236.5l-1.5-3M462.5 236.5l-1-2.5M473 236.5l-.5-2M483 236.5l-.5-1.5M493.5 236.5l-.5-1.5M504 236.5l-.5-1.5M514 236.5l-.5-2M524.5 236.5l-.5-2M535 236.5l0-.5M255 246l0 .5M265.5 246l0 1M275.5 246l0 1M286 246l0 1.5M296.5 246l0 2M307 246l0 3M317 246l-.5 4M327.5 246l-.5 5.5M338 246l-1.5 7M348.5 246l-2.5 8.5M358.5 246l-5.5 10M369 246l-8.5 7M379.5 246l-11.5-.5M390 246l-8-6M400 246l-6.5-8.5M410.5 246l-4-7.5M421 246l-3-6.5M431.5 246l-2.5-6M441.5 246l-1.5-4.5M452 246l-1-3.5M462.5 246l-1-3M473 246l-.5-2M483 246l-.5-1.5M493.5 246l-.5-1.5M504 246l-.5-1.5M514 246l-.5-2.5M524.5 246l-.5-2.5M535 246l0-1M255 256l0 .5M265.5 256l0 .5M275.5 256l0 .5M286 256l0 1.5M296.5 256l0 2.5M307 256l.5 3M317 256l.5 4.5M327.5 256l.5 6M338 256l.5 7.5M348.5 256l0 9.5M358.5 256l-.5 11M369 256l-3 10M379.5 256l-2-1M390 256l-4.5-10.5M400 256l-3-10.5M410.5 256l-2-8.5M421 256l-1.5-7.5M431.5 256l-1.5-6M441.5 256l-1-5M452 256l-.5-4M462.5 256l-.5-3M473 256l-.5-2M483 256l0-1.5M493.5 256l-.5-1.5M504 256l0-1.5M514 256l-.5-2.5M524.5 256l-.5-2.5M535 256l0-1.5M275.5 265.5l0 .5M286 265.5l.5 1.5M296.5 265.5l.5 2.5M307 265.5l1 3.5M317 265.5l1 4.5M327.5 265.5l1.5 6M338 265.5l2.5 7.5M348.5 265.5l3.5 9M358.5 265.5l5 9.5M369 265.5l8.5 8M379.5 265.5l6.5-3.5M390 265.5l3.5-11M400 265.5l1.5-10.5M410.5 265.5l.5-9M421 265.5l0-7.5M431.5 265.5l0-6.5M441.5 265.5l0-5M452 265.5l0-3.5M462.5 265.5l0-3M473 265.5l0-2M483 265.5l0-1.5M493.5 265.5l0-1.5M504 265.5l0-1.5M514 265.5l0-2.5M524.5 265.5l-.5-3M535 265.5l0-1.5M286 275.5l.5 1.5M296.5 275.5l1 2.5M307 275.5l1.5 3.5M317 275.5l2 4.5M327.5 275.5l2.5 5.5M338 275.5l4 6.5M348.5 275.5l5.5 7M358.5 275.5l8 7M369 275.5l11 3.5M379.5 275.5l11-3.5M390 275.5l7-7.5M400 275.5l4.5-8.5M410.5 275.5l2.5-8.5M421 275.5l1.5-7M431.5 275.5l1-6M441.5 275.5l.5-5M452 275.5l.5-4M462.5 275.5l0-3M473 275.5l0-2M483 275.5l0-1.5M493.5 275.5l0-1.5M504 275.5l0-1.5M514 275.5l0-2.5M524.5 275.5l0-3M535 275.5l0-1.5M286 285l.5 1M296.5 285l1 2M307 285l1.5 3M317 285l2.5 3.5M327.5 285l3.5 4.5M338 285l4.5 5M348.5 285l6 5M358.5 285l8 4M369 285l10 1.5M379.5 285l10-2.5M390 285l8-5.5M400 285l5.5-6.5M410.5 285l4-6.5M421 285l2.5-6M431.5 285l1.5-5.5M441.5 285l1-4.5M452 285l1-4M462.5 285l.5-3M473 285l.5-2M483 285l0-1.5M493.5 285l0-1.5M504 285l0-1.5M514 285l0-2.5M524.5 285l0-3M535 285l0-1.5M286 295l.5 1M296.5 295l1 1.5M307 295l1.5 2M317 295l2.5 3M327.5 295l3.5 3.5M338 295l4.5 3.5M348.5 295l5.5 3M358.5 295l7 2.5M369 295l7.5 .5M379.5 295l8-1.5M390 295l6.5-3.5M400 295l5-4.5M410.5 295l3.5-4.5M421 295l3-4.5M431.5 295l2-4.5M441.5 295l1.5-4M452 295l1-3.5M462.5 295l1-3M473 295l.5-2.5M483 295l.5-1.5M493.5 295l0-1.5M504 295l0-1.5M514 295l.5-2.5M524.5 295l.5-3M535 295l0-1M296.5 304.5l.5 1M307 304.5l1.5 1.5M317 304.5l2 2M327.5 304.5l3 2.5M338 304.5l4 2.5M348.5 304.5l4.5 2M358.5 304.5l5 1M369 304.5l5.5 0M379.5 304.5l5-1M390 304.5l5-2M400 304.5l4-2.5M410.5 304.5l3-3M421 304.5l2.5-3M431.5 304.5l2-3.5M441.5 304.5l1.5-3M452 304.5l1.5-3M462.5 304.5l1-2.5M473 304.5l.5-2M483 304.5l.5-1.5M493.5 304.5l.5-1.5M504 304.5l.5-1.5M514 304.5l.5-3M524.5 304.5l.5-2.5M307 314.5l1 1M317 314.5l1.5 1M327.5 314.5l2 1M338 314.5l2.5 1.5M348.5 314.5l3 1M358.5 314.5l3 .5M369 314.5l3.5 0M379.5 314.5l3-.5M390 314.5l3-1M400 314.5l2.5-1.5M410.5 314.5l2.5-2M421 314.5l2-2M431.5 314.5l2-2.5M441.5 314.5l1.5-2.5M452 314.5l1-2M462.5 314.5l1-2M473 314.5l.5-2M483 314.5l.5-1.5M493.5 314.5l.5-1.5M504 314.5l.5-2M514 314.5l.5-2.5M524.5 314.5l.5-1.5M338 324l1.5 .5M348.5 324l2 .5M358.5 324l2.5 .5M369 324l2.5 0M379.5 324l2.5-.5M390 324l2.5-1M400 324l2-1M410.5 324l1.5-1M421 324l1.5-1.5M431.5 324l1.5-1.5M441.5 324l1-1.5M452 324l1-1.5M462.5 324l1-1.5M473 324l.5-1.5M483 324l.5-1M493.5 324l.5-1.5M504 324l1-2.5M514 324l.5-2M348.5 334l1.5 .5M358.5 334l1.5 0M369 334l1.5 0M379.5 334l2-.5M390 334l1.5-.5M400 334l1.5-.5M410.5 334l1.5-1M421 334l1.5-1M431.5 334l1-1M441.5 334l1-1M452 334l1-1M462.5 334l.5-1M473 334l1-1.5M483 334l.5-1.5M493.5 334l1-2M504 334l1-2M514 334l.5-1M358.5 344l1 0M369 344l1 0M379.5 344l1 0M390 344l1-.5M400 344l1-.5M410.5 344l.5-.5M421 344l1-.5M431.5 344l1-.5M441.5 344l.5-.5M452 344l.5-.5M462.5 344l1-1M473 344l1-1.5M483 344l1.5-2.5M493.5 344l1.5-2.5M504 344l.5-1M410.5 353.5l1-.5M421 353.5l1-.5M431.5 353.5l1-1M441.5 353.5l1-1M452 353.5l1.5-1.5M462.5 353.5l1.5-2M473 353.5l1.5-2.5M483 353.5l1.5-2M493.5 353.5l.5-1M390 363.5l.5 0M400 363.5l1-.5M410.5 363.5l1.5-.5M421 363.5l2-1M431.5 363.5l2.5-1.5M441.5 363.5l2-2M452 363.5l2-1.5M462.5 363.5l1.5-2M473 363.5l1-1.5M483 363.5l1-1M379.5 373l1.5 0M390 373l2-.5M400 373l2.5-1M410.5 373l2-1M421 373l2-1M431.5 373l1.5-1M441.5 373l1-1M452 373l1-.5M462.5 373l.5-.5M348.5 383l1 0M358.5 383l2 0M369 383l2.5 0M379.5 383l2.5-.5M390 383l2-.5M400 383l1.5-.5M410.5 383l.5-.5M327.5 392.5l.5 0M338 392.5l2 .5M348.5 392.5l2 0M358.5 392.5l1.5 0M369 392.5l1.5 0M379.5 392.5l1 0M390 392.5l.5 0M400 392.5l.5 0M431.5 392.5l.5-.5M452 392.5l.5-.5M296.5 402.5l.5 .5M307 402.5l1 .5M317 402.5l2 .5M327.5 402.5l2.5 .5M338 402.5l1.5 0M390 402.5l1 0M400 402.5l1-.5M410.5 402.5l1-.5M421 402.5l1-.5M296.5 412l1 .5M307 412l1.5 .5M317 412l3.5 1M327.5 412l3 .5M379.5 412l.5 0M390 412l.5 0M296.5 422l1 .5M307 422l2.5 .5M317 422l3.5 .5M327.5 422l1.5 0M296.5 431.5l1.5 .5M307 431.5l3 .5M317 431.5l1.5 .5" stroke="#000" stroke-width="1.25" fill="none"/><path d="M254.5 40.5l-1.5 2.5 2.5-1zM264.5 40.5l-1.5 2.5 3-.5zM275 40.5l-1.5 2 2.5-.5zM317 40.5l-2 2 2.5 0zM327 40l-2 2 3 0zM337.5 40l-2.5 2 3 0zM348 40l-2.5 2 3 .5zM389.5 40l-2.5 1 2.5 1zM400 40l-2.5 1 3 1zM410.5 40l-2.5 1 2.5 1zM421 40l-2.5 1 2.5 1zM254.5 50l-1.5 2.5 3-1zM264.5 50l-1.5 2.5 3-1zM275 50l-1.5 2 2.5-.5zM306.5 50l-2 2 2.5 0zM316.5 50l-2 2.5 3 0zM327 50l-2.5 2.5 3.5 0zM337.5 50l-2.5 2 3 0zM389.5 50l-2.5 1 2.5 1zM400 50l-2.5 1 2.5 1zM410.5 50l-2.5 1 2.5 1zM233.5 60l-1 2.5 2.5-1zM244 60l-1.5 2.5 3-1zM254.5 60l-1.5 2.5 3-1zM264.5 60l-1.5 2.5 3-1zM296 60l-1.5 2 2.5-.5zM306.5 59.5l-2 2.5 3-.5zM316.5 59.5l-2.5 2.5 3.5 0zM327 59.5l-2.5 2 3 0zM379.5 59.5l-2.5 1.5 2.5 .5zM389.5 59.5l-3 1.5 3 1zM400 59.5l-3 1 3 1zM410.5 59.5l-3 1 3 1zM421 59.5l-2.5 1 2.5 1.5zM431.5 59.5l-3 .5 2.5 1.5zM442 59.5l-2.5 .5 2.5 1.5zM223 70l-1 2.5 2.5-1zM233.5 69.5l-1 3 3-1zM244 69.5l-1.5 3 3-1zM254 69.5l-1.5 2.5 3-1zM264.5 69.5l-1.5 2.5 2.5-1zM275 69.5l-1.5 2.5 2.5-.5zM296 69.5l-1.5 2.5 3-.5zM306.5 69.5l-2 2.5 3-.5zM316.5 69.5l-2 2 3 0zM327 69.5l-2 2 3 0zM369 69.5l-2.5 1.5 3 .5zM379.5 69.5l-2.5 1.5 3 .5zM389.5 69.5l-3 1.5 3 1zM400 69.5l-3 1 3 1zM410.5 69.5l-3 1 3 1zM421 69.5l-3 1 2.5 1.5zM431.5 69.5l-3 .5 2.5 1.5zM442 69.5l-2.5 .5 2.5 1.5zM212.5 79.5l-1 2.5 2.5-1.5zM223 79.5l-1 2.5 2.5-1.5zM233.5 79.5l-1 3 2.5-1.5zM244 79.5l-1.5 3 3-1zM254 79.5l-1.5 2.5 3-1zM264.5 79.5l-1.5 2.5 2.5-1zM275 79.5l-1.5 2.5 2.5-1zM285.5 79.5l-1.5 2 2.5-.5zM306.5 79.5l-1.5 2 2.5-.5zM369 79l-2.5 1.5 3 .5zM379.5 79l-2.5 1.5 3 .5zM389.5 79l-2.5 1.5 3 1zM400 79l-2.5 1 2.5 1zM410.5 79l-3 1 2.5 1zM421 79l-2.5 1 2.5 1.5zM212.5 89.5l-.5 2.5 2.5-1.5zM223 89.5l-1 3 2.5-1.5zM233.5 89l-1 3 3-1.5zM244 89l-1 3 3-1.5zM254 89l-1 2.5 3-1zM264.5 89.5l-1 2.5 2.5-1zM369 89l-2.5 1.5 3 .5zM379.5 89l-2.5 1.5 3 .5zM389.5 89l-3 1.5 3 1zM400 89l-2.5 1 2.5 1zM410.5 89l-2.5 1 2.5 1zM202.5 99l-.5 2.5 2.5-1.5zM212.5 99l-.5 3 2.5-1.5zM223 99l-1 3 2.5-1.5zM233.5 99l-1 3 3-1.5zM244 99l-1 3 3-1.5zM254 99l-1 2.5 2.5-1zM379.5 99l-2.5 1.5 2.5 .5zM389.5 98.5l-2.5 1 3 1zM400 98.5l-3 1 3 1zM410.5 98.5l-2.5 1 2.5 1zM421 99l-2.5 .5 2.5 1.5zM431.5 99l-2.5 .5 2.5 1.5zM202 109l-.5 3 2.5-2zM212.5 109l-.5 3 2.5-2zM223 109l-1 3 2.5-1.5zM233.5 109l-1 3 2.5-1.5zM244 109l-1 3 2.5-1.5zM254.5 109l-1 2.5 2.5-1zM358.5 108.5l-2 1.5 3 .5zM369 108.5l-2 1.5 2.5 .5zM379.5 108.5l-2.5 1.5 2.5 .5zM389.5 108.5l-2.5 1 3 1zM400 108.5l-2.5 1 2.5 1zM410.5 108.5l-2.5 1 2.5 1zM421 108.5l-2.5 .5 2.5 1.5zM202 119l-.5 2.5 2-1.5zM212.5 118.5l-.5 3 2.5-1.5zM223 118.5l-.5 3 2.5-1.5zM233.5 118.5l-1 3 2.5-1.5zM337.5 118.5l-2 2 3 0zM348 118l-2.5 2 3 0zM358.5 118l-2.5 2 3 .5zM369 118l-2.5 1.5 3 .5zM379.5 118l-2.5 1.5 2.5 .5zM389.5 118l-2.5 1 2.5 1zM400 118l-2.5 1 2.5 1zM410.5 118l-3 1 2.5 1.5zM421 118.5l-2.5 .5 2.5 1.5zM431.5 118.5l-2.5 .5 2 1.5zM192 128.5l0 2.5 2-1.5zM202 128.5l-.5 2.5 2-1.5zM327 128l-2 2.5 3-.5zM337.5 128l-2.5 2.5 3.5 0zM348 128l-2.5 2.5 3.5 0zM358.5 128l-3 2 3.5 .5zM369 128l-3 2 3.5 .5zM379.5 128l-3 1.5 3 1zM389.5 128l-3 1.5 3 1zM400 128l-3 1 3 1.5zM410.5 128l-3 1 3 1.5zM421 128l-3 .5 2.5 1.5zM431.5 128l-3 .5 2.5 1.5zM442 128l-2.5 0 2 1.5zM452.5 128l-2.5 0 2 2zM463 128l-3 0 2 2zM473.5 128l-3-.5 2 2.5zM483.5 128l-3-.5 2 2.5zM494 128l-2.5-.5 1.5 2.5zM275 138l-1 2.5 2.5-1zM296 138l-1 2.5 2.5-1zM306 138l-1.5 3 3-1zM316.5 138l-2 3 3.5-1zM327 137.5l-2.5 3 3.5-.5zM337.5 137.5l-3 3 4-.5zM348 137.5l-3 2.5 4 0zM358.5 137.5l-3 2.5 4 .5zM369 137.5l-3.5 2 4 .5zM379.5 137.5l-3.5 2 4 1zM389.5 137.5l-3.5 1.5 3.5 1.5zM400 137.5l-3.5 1 3.5 1.5zM410.5 137.5l-3.5 1 3 2zM421 137.5l-3.5 .5 3 2zM431.5 137.5l-3.5 .5 3 2zM442 138l-3 0 2 2zM452.5 138l-3 0 2 2zM463 138l-3-.5 2 2.5zM473.5 138l-3-.5 2 2.5zM483.5 138l-3-.5 2 2.5zM494 138l-3-1 1.5 2.5zM504.5 138l-2.5-1 1.5 2.5zM515 138l-2.5-1 1 2.5zM556.5 138l-2.5-1 1 2.5zM567 138l-2.5-1.5 1 2.5zM577 138l-2.5-1.5 1 2.5zM140 148.5l0 2.5 1.5-2zM150.5 148l0 3 2-2zM160.5 148l0 2.5 2-2zM275 148l-1 2.5 2.5-1.5zM285.5 148l-1 3 2.5-1.5zM295.5 147.5l-1.5 3 3-1.5zM306 147.5l-2 3.5 3.5-1.5zM316.5 147.5l-2.5 3.5 4-1zM327 147.5l-2.5 3.5 4-1zM337 147l-3 3.5 4.5-.5zM347.5 147l-3.5 3 5-.5zM358 147l-4 3 5 0zM368.5 147l-4 2.5 4.5 .5zM379 147l-4.5 2 4.5 1zM389.5 147l-4.5 1.5 4.5 1.5zM400.5 147l-4.5 1.5 4.5 2zM411 147l-4.5 1 4 2.5zM421.5 147l-4 .5 3.5 2.5zM431.5 147l-4 0 3 2.5zM442 147.5l-3.5 0 2.5 2.5zM452.5 147.5l-3.5-.5 2.5 2.5zM463 147.5l-3.5-.5 2 2.5zM473.5 147.5l-3.5-.5 2 2.5zM484 147.5l-3-1 1.5 2.5zM494 147.5l-3-1 1.5 2.5zM504.5 147.5l-3-1 1.5 3zM515 147.5l-3-1 1.5 2.5zM525.5 148l-2.5-1 1 2.5zM567 148l-2.5-1.5 1 2.5zM129.5 158l.5 2.5 1.5-2zM140 158l.5 3 1.5-2.5zM275 157.5l-1 3 2.5-1.5zM285 157.5l-1 3.5 3-1.5zM295.5 157.5l-1.5 3.5 3.5-1.5zM305.5 157l-2 4 4.5-1.5zM316 157l-2.5 4 4.5-1.5zM326.5 157l-3 4 4.5-1zM337 157l-3 3.5 4.5-1zM347 157l-3.5 3.5 5-.5zM357 157l-4 3 5 0zM367.5 157l-4 2.5 4.5 .5zM378 157l-4.5 2 4.5 1zM389 156.5l-4.5 1.5 4.5 1.5zM399.5 156.5l-4.5 1 4.5 2zM410 156.5l-4.5 1 4 2.5zM421 156.5l-5 .5 4 2.5zM432 157l-4.5 0 3.5 3zM442.5 157l-4-.5 3 3zM452.5 157l-4-.5 2.5 3zM463 157l-3.5-.5 2 3zM473.5 157.5l-3.5-1 2 3zM484 157.5l-3-1 1.5 3zM494.5 157.5l-3-1 1.5 3zM504.5 157.5l-3-1 1.5 3zM515 157.5l-3-1.5 1.5 3zM525.5 157.5l-3-1.5 1 3zM535.5 157.5l-2.5-1.5 1 2.5zM129.5 168l.5 2.5 1.5-2.5zM140 168l.5 3 1.5-2.5zM150.5 168l.5 3 1.5-2.5zM254 167.5l-.5 2.5 2-1.5zM264.5 167.5l-.5 3 2.5-2zM274.5 167.5l-.5 3.5 3-2zM285 167l-1 4 3.5-2zM295 167l-1.5 4.5 4-2zM305.5 167.5l-2 4.5 4.5-2zM315 168l-2.5 4 4.5-2zM325.5 167.5l-2.5 4 4.5-1.5zM336 167.5l-3 3.5 4.5-1zM346.5 167.5l-3.5 3.5 4.5-.5zM356.5 167l-3.5 3 5 0zM366.5 167l-4 2.5 4.5 .5zM377.5 166.5l-4.5 2 4.5 1zM388 166.5l-4.5 1.5 4.5 1.5zM398.5 166.5l-4.5 1 4.5 2zM409.5 166l-4.5 .5 4 2.5zM420 166l-5 0 4 3zM431 166.5l-5-.5 3.5 3zM442 166.5l-4.5-.5 3.5 3.5zM453 167l-4.5-1 2.5 3.5zM463 167l-4-1 2.5 3.5zM473.5 167l-3.5-1 2 3zM484 167l-3-1 1.5 3zM494.5 167l-3-1.5 1.5 3zM505 167l-3-1.5 1.5 3zM515 167l-3-1.5 1 3.5zM525.5 167.5l-3-1.5 1 3zM536 167.5l-2.5-1.5 1 3zM546 167.5l-2.5-1.5 .5 2.5zM567 167.5l-2.5-1.5 .5 2.5zM577.5 167.5l-2-1.5 .5 2.5zM254 177.5l0 3 2.5-2zM264 177l-.5 3.5 2.5-2.5zM274.5 177l-.5 4 3-2.5zM285 177l-1 4.5 3.5-2.5zM295 177l-1.5 4.5 4-2.5zM305 177.5l-2 4.5 4-2.5zM315 178l-2 4.5 4.5-2zM325 178l-2.5 4 4.5-1.5zM335.5 177.5l-3 4 4.5-1zM346 177.5l-3.5 3.5 4.5-.5zM356 177l-3.5 3 5 0zM366.5 177l-4 2.5 4.5 .5zM376.5 176.5l-4.5 2 4.5 1zM387.5 176l-4.5 1.5 4.5 1.5zM398 176l-4.5 1 4 2zM408.5 175.5l-5 .5 4 2.5zM419.5 175.5l-5 0 3.5 3zM430.5 175.5l-4.5-.5 3.5 3.5zM441.5 176l-4.5-1 3 3.5zM452.5 176.5l-4.5-1 3 4zM463.5 176.5l-4.5-1.5 2.5 4zM473.5 177l-4-1.5 2 3.5zM484 177l-3.5-1.5 1.5 3.5zM494.5 177l-3.5-1.5 1.5 3.5zM505 177l-3.5-2 1.5 4zM515.5 177l-3-2 1 3.5zM525.5 177l-3-2 1 3.5zM536 177l-3-2 1 3.5zM546 177l-2.5-1.5 .5 3zM556.5 177.5l-2-1.5 .5 2.5zM243.5 187l0 3 2-2zM254 187l0 3.5 2.5-2.5zM264 187l0 4 2.5-2.5zM274.5 187l-.5 4.5 3-3zM284.5 187l-1 4.5 3.5-3zM294.5 187.5l-1 4.5 4-3zM304.5 188l-1.5 4.5 4-2.5zM315 188l-2 4.5 4-2.5zM325.5 187.5l-2 4 4.5-2zM335.5 187.5l-2.5 4 4.5-1.5zM345.5 187.5l-3 3.5 4.5-1zM355.5 187l-3.5 3 5 0zM365.5 187l-4 2.5 5 .5zM376 186.5l-4.5 2 4.5 1zM387 186l-4.5 1.5 4.5 2zM397.5 185.5l-4.5 1 4 2.5zM408 185l-5 0 4 3zM419 185l-5-.5 3.5 3zM430 185l-4.5-1 3 3.5zM441 185.5l-4.5-1 3 4zM452 185.5l-4.5-1.5 2.5 4zM463 186l-4.5-2 2.5 4zM474 186.5l-4-2 2 4zM484 186.5l-3.5-2 1.5 4zM494.5 186.5l-4-2 1.5 4zM505 186.5l-3.5-2 1 4zM515.5 187l-3.5-2 1 4zM526 187l-3-2 1 4zM536 187l-2.5-2 .5 3.5zM546.5 187l-2.5-2 .5 3zM556.5 187l-2-2 .5 3zM212.5 197l.5 2.5 1.5-2zM233 197l.5 3 2-2.5zM243.5 197l.5 3.5 2-2.5zM253.5 197l0 3.5 2.5-3zM264 197l0 4 2.5-3zM274 196.5l0 4.5 3-3zM284.5 197l-.5 4.5 3.5-3.5zM294.5 198l-1 4.5 3.5-3zM304.5 198l-1 4.5 4-3zM314.5 198l-1.5 4.5 4-2.5zM325 197.5l-2 4.5 4-2zM335 197.5l-2.5 4 4.5-1.5zM345 197.5l-3 4 4.5-1zM355 197.5l-3.5 3.5 5-.5zM365 197l-4 2.5 5 .5zM375 196l-4.5 2 4.5 1zM385.5 195.5l-4.5 1.5 4.5 2zM396.5 195l-4.5 .5 4 2.5zM407 194.5l-5 0 3.5 3zM418.5 194l-4.5-.5 3.5 3.5zM429.5 194.5l-4.5-1 3 4zM441 194.5l-4.5-1.5 2.5 4zM451.5 195l-4.5-2 2.5 4zM462.5 195l-4.5-2 2 4.5zM473.5 196l-4-2.5 1.5 4.5zM484.5 196.5l-4-2.5 1.5 4.5zM495 196.5l-4-2.5 1 4.5zM505 196.5l-3.5-2.5 1 4.5zM515.5 196.5l-3.5-2.5 1 4zM526 196.5l-3-2.5 .5 3.5zM536 197l-2.5-2 .5 3.5zM546.5 197l-2.5-2 .5 3zM556.5 197l-2-2 .5 2.5zM223 207l.5 2.5 1.5-2.5zM233 207l.5 3 1.5-2.5zM243.5 207l.5 3.5 2-3zM253.5 207l.5 4 2.5-3zM264 206.5l.5 4 2.5-3zM274 207l0 5 3-3.5zM284 207.5l0 5 3-3.5zM294.5 208l-.5 4.5 3.5-3.5zM304.5 208l-1 4.5 3.5-3zM315 208l-1 4.5 4-3zM325 208l-1.5 4.5 4-2.5zM334.5 208l-2 4.5 4.5-2zM344.5 208l-2.5 4 4.5-1.5zM354 207.5l-3.5 3.5 4.5-.5zM364 207l-4 3 5 0zM374 206l-4.5 2 4.5 1zM384.5 205l-4.5 1 4.5 2zM395.5 204l-5 .5 4 3zM406.5 203.5l-5-.5 3.5 3.5zM418 203.5l-4.5-1 3 3.5zM429.5 203.5l-4.5-1.5 2.5 4zM441 204l-4.5-2 2 4zM452 204.5l-4-2 2 4.5zM462.5 205l-4-2.5 1.5 4.5zM473.5 205l-4-2.5 1.5 4.5zM484.5 206l-4-3 1 4.5zM494.5 206l-3.5-3 1 4.5zM505 206l-3.5-3 1 4.5zM515.5 206.5l-3.5-3 .5 4.5zM526 206.5l-3-2.5 .5 4zM536 206.5l-2.5-2.5 .5 3.5zM546.5 206.5l-2.5-2 0 3zM556.5 206.5l-2-2 0 2.5zM202 217l.5 2.5 1-2.5zM212.5 217l.5 2.5 1.5-2.5zM223 216.5l.5 2.5 1.5-2.5zM233 216.5l.5 3 1.5-2.5zM243.5 216.5l.5 3.5 2-3zM253.5 216.5l.5 4 2-3.5zM264 216.5l.5 4.5 2.5-4zM274 217l.5 5 2.5-4zM284 218l0 5 3-4zM294.5 218l0 5 3-3.5zM304.5 218l-.5 5 3-3.5zM315 218l-.5 4.5 3.5-3.5zM324.5 218.5l-1 4.5 4-3zM334.5 218.5l-1.5 4.5 4-2.5zM344 219l-2.5 4 4.5-2zM353.5 218.5l-3 3.5 4.5-1zM363 217.5l-4 3 5 0zM373 216l-4.5 2 4.5 1zM384 214.5l-4.5 1 4 2.5zM395 213l-5 0 3.5 3zM406 212.5l-4.5-1 3 3.5zM418 212.5l-4.5-1.5 2.5 4zM429.5 213l-4.5-2 2 4.5zM441 213.5l-4-2.5 2 4.5zM452 214l-4-2.5 1.5 4.5zM463 214.5l-4-3 1 4.5zM473.5 215l-3.5-3 1 4.5zM484 215.5l-3.5-3 1 4.5zM494.5 215.5l-3.5-3 .5 4.5zM505 216l-3.5-3.5 .5 4.5zM515.5 216l-3-3 .5 4.5zM526 216.5l-3-3 0 4zM536 216.5l-2.5-2.5 0 4zM546.5 216.5l-2.5-2.5 0 3.5zM556.5 216.5l-2-2 0 2.5zM181.5 226.5l1 2.5 1-2.5zM191.5 226.5l1 2.5 1-2.5zM202 226.5l1 2.5 1-2.5zM233 226.5l1 3 1.5-3zM243.5 226.5l1 3.5 1.5-3zM253.5 226.5l1 4 2-3.5zM263.5 226.5l1 4.5 2.5-4zM274 227.5l1 4.5 2.5-4zM284 228l.5 4.5 2.5-4zM294.5 228l.5 5 2.5-4zM304.5 228l0 5 3-4zM315 228.5l0 5 3-3.5zM324.5 229l-.5 4.5 3.5-3.5zM334 230l-1 4.5 3.5-3zM343 230l-1.5 4.5 4-2.5zM352 229.5l-2.5 4 4.5-1.5zM361.5 228l-3.5 3 5 0zM371 225.5l-4.5 2 4.5 1.5zM382.5 223.5l-4.5 .5 4 2.5zM394.5 222l-4.5-.5 3.5 3.5zM406.5 221.5l-4.5-1.5 2.5 4zM418 221.5l-4.5-2 2 4.5zM429.5 222l-4-2.5 1.5 4.5zM441 223l-4-3 1.5 4.5zM452 223.5l-3.5-3 1 4.5zM463 224.5l-3.5-3 1 4.5zM473.5 225l-3.5-3.5 .5 4.5zM484 225.5l-3.5-3.5 .5 4.5zM494.5 225l-3.5-3.5 .5 5zM505 225.5l-3-3.5 .5 5zM515.5 226l-3-3.5 0 5zM526 226l-3-3.5 0 5zM536.5 226l-3-3 0 4.5zM546.5 226l-2.5-2.5 0 3.5zM181.5 236.5l1 2.5 1-2.5zM191.5 236.5l1 2.5 1-2.5zM233 236.5l1 3 1-3zM243.5 236.5l1 3.5 1.5-3.5zM253.5 236.5l1.5 4.5 2-4zM263.5 236.5l1.5 4.5 2-4.5zM274 237l1 4.5 2-4.5zM284.5 237.5l1 4.5 2-4.5zM294.5 237.5l1 4.5 2-4zM305 238l1 4.5 2.5-4zM315 239.5l.5 4.5 2.5-4zM325 240l0 5 3-4zM334.5 241l-.5 5 3-3.5zM343.5 242l-1 4.5 3.5-3zM351.5 241.5l-2 4.5 4-2zM358.5 240l-3.5 3.5 4.5-.5zM368 235l-4.5 1.5 4.5 1.5zM381 231.5l-5 0 3.5 3zM394.5 230l-4.5-1.5 2.5 4zM406.5 230l-4-2.5 2 4.5zM418.5 230.5l-4-2.5 1.5 4.5zM430 231l-3.5-3 1 4.5zM441 232l-3.5-3.5 .5 4.5zM452.5 233l-3.5-3.5 .5 4.5zM463 234l-3-3.5 .5 5zM473.5 234.5l-3-3.5 0 5zM484.5 235l-3-3.5 0 5zM494.5 234.5l-3-3.5 0 5zM505 235l-3-4 0 5zM515.5 234.5l-3-4 0 5zM525.5 234.5l-3-4 0 5zM536.5 236l-3-4 -.5 5zM546.5 236l-2-3 -.5 3.5zM181.5 246l1 2.5 1-2.5zM192 246l1 2.5 1-2.5zM202 246l1 2.5 1-2.5zM223 246l1 2.5 1-2.5zM233 246l1.5 3 1-3.5zM243 246l1.5 4 1.5-4zM253.5 246.5l1.5 4.5 1.5-4.5zM264 246.5l1.5 4.5 1.5-4.5zM274 246.5l1.5 4.5 1.5-4.5zM284.5 247l1.5 4.5 1.5-4.5zM295 248l1.5 4.5 1.5-4.5zM305 248.5l1.5 4.5 2-4.5zM315.5 249.5l1 4.5 2-4.5zM325.5 251l1 4.5 2-4.5zM335 252.5l.5 4.5 2.5-4zM344.5 253.5l0 5 3-4zM352 255l-.5 4.5 3.5-3zM360 251.5l-2.5 4 4.5-1.5zM368.5 244l-4.5 1.5 4.5 2zM383 239.5l-4.5-1.5 2.5 4zM395.5 237.5l-4-2.5 1.5 4.5zM408 238.5l-3.5-3 1 4.5zM419.5 239.5l-3.5-3.5 .5 5zM430.5 240l-3-3.5 0 5zM441.5 241.5l-3-3.5 0 5zM452.5 243l-3-4 0 5zM463 243.5l-3-4 0 5zM474 244.5l-3-4 -.5 5zM484.5 245l-2.5-4 -.5 5zM495 245l-2.5-4 -.5 5zM505 245l-2.5-4 -.5 5zM515.5 244l-2.5-4 -.5 4.5zM525.5 244l-2.5-4 -.5 4.5zM536.5 245.5l-2.5-4 -.5 4.5zM546.5 246l-2-3 -.5 3.5zM192 256l1.5 2.5 .5-2.5zM212.5 256l1.5 2.5 .5-2.5zM223 256l1.5 2.5 1-3zM233 256l2 3.5 1-4zM243 256l2 4 1-4.5zM253.5 256l2 4.5 1-4.5zM264 256l2 4.5 1-4.5zM274 256l2 4.5 1-4.5zM284.5 257l2 4.5 1-4.5zM295 258l2 4.5 1-4.5zM305.5 258.5l2 4.5 1-4.5zM316 260l2 4.5 1-4.5zM326.5 261.5l2 4.5 1.5-4.5zM336.5 263l2 4.5 1.5-4.5zM347 265l1.5 4.5 1.5-4.5zM356.5 266.5l1.5 4.5 2-4.5zM365 265l.5 5 2.5-4zM378.5 254l-4.5-.5 3.5 3.5zM387 245l-3-3.5 .5 5zM399 245.5l-3-4 0 5zM410 247.5l-2.5-4 -.5 4.5zM421 248.5l-2.5-4 -.5 4.5zM431.5 250l-2.5-4 -.5 4.5zM442.5 251.5l-2.5-4 -.5 4.5zM453 252.5l-2.5-4 -.5 4.5zM463.5 253.5l-2.5-4 -1 4.5zM474 254.5l-2.5-4 -1 4.5zM484.5 255l-2.5-4 -1 4.5zM495 254.5l-2.5-4 -1 4.5zM505.5 255l-2.5-4 -1 4.5zM515.5 254l-2.5-4 -1 4.5zM526 253.5l-2.5-4 -1 4.5zM536.5 255l-2.5-4 -1 4.5zM546.5 255.5l-2-3.5 -1 3.5zM202 266l1.5 2.5 .5-3zM212.5 266l1.5 3 .5-3zM222.5 266l2 3.5 .5-4zM232.5 266l2 3.5 1-4zM243 266l2 3.5 1-4zM253.5 266l2.5 3.5 .5-4zM263.5 266l2.5 4 1-4.5zM274 266l2.5 4 .5-4.5zM284.5 267l2.5 4 .5-4.5zM295.5 268l2.5 4 .5-4.5zM306 269l2.5 4 .5-4.5zM316.5 270l2.5 4 .5-5zM327.5 271.5l2.5 4 .5-5zM338.5 273l3 4 0-5zM350 274.5l3 3.5 0-5zM362 275.5l3.5 3.5 -.5-4.5zM376 274.5l4.5 2 -2-4.5zM386.5 263.5l3-3.5 -4.5 1zM394.5 256l0-5 -3 4zM403 256l-1-4.5 -2 4.5zM412.5 257.5l-1.5-4.5 -2 4.5zM422.5 258.5l-1.5-4.5 -1.5 4.5zM432.5 260l-1.5-4.5 -1.5 4.5zM443 261.5l-2-4.5 -1.5 4.5zM453.5 262.5l-2-4.5 -1.5 4.5zM464 263.5l-2-4.5 -1.5 4.5zM474 264.5l-2-4.5 -1 4.5zM484.5 264.5l-2-4.5 -1 4.5zM495 264.5l-2-4.5 -1 4.5zM505.5 264.5l-2-4.5 -1 4.5zM515.5 264l-2-4.5 -1 4.5zM526 263.5l-2-4.5 -1 4.5zM536.5 264.5l-2-4.5 -1 4.5zM547 265.5l-2-3.5 -1 4zM557 265.5l-1.5-2.5 -1 3zM567 265.5l-1.5-2.5 -.5 2.5zM577.5 265.5l-1.5-2.5 -.5 2.5zM191.5 275.5l1.5 2.5 .5-3zM202 275.5l2 3 .5-3.5zM212 276l2 3 .5-3.5zM222.5 276l2.5 3.5 .5-4zM233 276l2 3 .5-4zM243.5 276l2 3 .5-3.5zM253.5 276l2 3 .5-3.5zM264 276l2.5 3.5 .5-4.5zM274 276l3 3.5 .5-4.5zM285 276.5l3 4 0-5zM295.5 278l3 3.5 0-5zM306.5 279l3 3.5 0-5zM317.5 280l3 3.5 -.5-5zM328.5 281l3.5 3.5 -.5-4.5zM340 282.5l3.5 3 -1-4.5zM352 283l4 2.5 -1.5-4.5zM365.5 283l4.5 1.5 -2.5-4zM379 280.5l5 0 -4-3zM390.5 274l4-3 -5 0zM398 269.5l2-4.5 -4 2zM405.5 268l.5-4.5 -3.5 3.5zM414.5 268l0-5 -3 4zM424 269l-.5-4.5 -2.5 4zM433.5 270l-1-4.5 -2 4zM443.5 271.5l-1-4.5 -2 4.5zM454 272.5l-1.5-4.5 -2 4.5zM464 273l-1.5-4.5 -2 4.5zM474.5 274l-1.5-4.5 -1.5 4.5zM484.5 274.5l-1.5-4.5 -1.5 4.5zM495 274.5l-1.5-4.5 -1.5 4.5zM505.5 274.5l-1.5-4.5 -1.5 4.5zM516 273.5l-1.5-4.5 -1.5 4.5zM526 273l-1.5-4.5 -1.5 4.5zM536.5 274.5l-2-4.5 -1.5 4.5zM547 275.5l-1.5-3.5 -1 3.5zM557 275.5l-1.5-3 -1 3zM567 275.5l-1.5-3 -1 3zM577.5 275.5l-1-2.5 -1 3zM109 285.5l1.5 2 .5-2.5zM119 285.5l1.5 2 .5-2.5zM160.5 285.5l1.5 2.5 .5-3zM171 285.5l2 2.5 .5-3zM181 285.5l2 2.5 .5-3.5zM191.5 285.5l2 3 .5-3.5zM202 285.5l2.5 3 .5-4zM212 285.5l2.5 3 .5-3.5zM222.5 285.5l2 2.5 0-3.5zM233 285.5l2 2.5 0-3zM243.5 285.5l2 2.5 0-3zM254 285.5l2 2.5 0-3.5zM264 285.5l2.5 3 0-4zM274 286l3 3.5 0-4.5zM285 286.5l3.5 3.5 -.5-5zM295.5 287.5l3.5 3.5 -.5-4.5zM307 288.5l3.5 3 -.5-4.5zM318 289l3.5 3 -1-4.5zM329 290.5l4 2.5 -1.5-4.5zM341 291l4 2.5 -2-4.5zM353 291l4.5 1.5 -2.5-4zM365 290.5l4.5 .5 -3.5-3.5zM378 288l4.5-1 -4-2.5zM389 284.5l4-2.5 -4.5-.5zM398 281.5l3-4 -4.5 1zM406.5 280l1.5-4.5 -4 2.5zM415.5 280l1-4.5 -3.5 3zM424.5 280.5l0-5 -3 3.5zM434.5 281l0-5 -3 4zM444 281.5l-.5-4.5 -2.5 4zM454 282l-.5-4.5 -2.5 4zM464.5 283l-1-4.5 -2.5 4zM474.5 284l-1-4.5 -2 4.5zM485 284.5l-1-4.5 -2 4.5zM495 284.5l-1-4.5 -2 4.5zM505.5 284.5l-1.5-4.5 -2 4.5zM516 283.5l-1.5-4.5 -2 4.5zM526.5 283l-1.5-4.5 -1.5 4.5zM536.5 284.5l-1.5-4.5 -1.5 4.5zM547 285l-1.5-4 -1.5 3.5zM557 285l-1.5-3.5 -1.5 3.5zM567.5 285l-1-3 -1 3zM577.5 285l-1-3 -1 3zM109 295l1.5 2 .5-2.5zM119 295.5l2 2.5 .5-3zM129.5 295.5l2 2.5 .5-3zM140 295.5l2 2.5 .5-3zM150 295.5l2 2.5 .5-3.5zM160.5 295.5l2.5 3 0-3.5zM171 295.5l2.5 3 0-3.5zM181 295.5l2 2.5 0-3.5zM191.5 295.5l2.5 2.5 0-3.5zM202 295.5l2.5 2.5 0-3.5zM212.5 295.5l2 2.5 0-3zM223 295.5l2 2 0-3zM233 295.5l2 2 0-3zM243.5 295.5l2 2 0-3zM254 295.5l2.5 2.5 0-3.5zM264 295.5l3 2.5 -.5-4zM274.5 295.5l3.5 3 -.5-4.5zM285 296l3.5 3 -1-4.5zM296 297l3.5 3 -1-4.5zM306.5 297.5l4 3 -1.5-4.5zM318 298.5l4 2.5 -1.5-4.5zM329.5 299l4.5 2 -2-4.5zM341 299.5l4.5 1.5 -2.5-4zM352.5 299l4.5 1 -3-3.5zM364.5 298.5l5 0 -3.5-3zM376 297l4.5-1 -4.5-2zM387 295l4-2.5 -4.5-.5zM396.5 293l3-3.5 -4.5 .5zM406 292l2.5-4 -4.5 2zM415 292l1.5-4.5 -4 2.5zM424.5 291.5l1-4.5 -3.5 3zM434.5 292l.5-4.5 -3.5 3.5zM444.5 292l0-5 -3 3.5zM454.5 292.5l0-5 -3 4zM464.5 293l-.5-5 -2.5 4zM474.5 293.5l-.5-4.5 -2.5 4zM485 294l-.5-4.5 -2.5 4zM495 294.5l-1-4.5 -2.5 4zM505.5 294l-1-4.5 -2 4zM516 293l-1-4.5 -2 4.5zM526.5 293l-1-4.5 -2 4.5zM536.5 295l-1-4.5 -2 4.5zM547 295l-1-4 -1.5 3.5zM557 295l-1-3.5 -1.5 3.5zM567.5 295l-1-3 -1.5 3zM577.5 295l-1-3 -1 3zM108.5 305l2 2.5 0-3.5zM119 305l2 2.5 0-3.5zM129.5 305l2.5 3 0-3.5zM139.5 305l2.5 3 0-4zM150 305l2.5 3 0-4zM160.5 305l2.5 3 0-4zM171 305l2.5 2.5 0-3.5zM181 305l2.5 2.5 0-3.5zM191.5 305l2.5 2.5 0-3.5zM202 305l2 2 0-3zM212.5 305l2 2 0-3zM223 305l2 2 0-3zM233.5 305l2 2 0-3zM243.5 305l2 2 0-3zM254 305.5l2.5 2 -.5-3zM264 305.5l3 2 -.5-3.5zM274.5 305.5l3 2.5 -1-4zM285 305.5l3.5 2.5 -1-4.5zM295.5 306l4 2.5 -1.5-4.5zM306.5 307l4 2.5 -1.5-4.5zM317.5 307.5l4.5 2 -2-4.5zM329 308l4.5 1.5 -2.5-4zM340.5 308l4.5 1 -3-4zM351.5 308l5 .5 -3.5-3.5zM362.5 307.5l5-.5 -4-2.5zM373.5 306.5l4.5-1.5 -4.5-1.5zM384.5 305.5l4-2.5 -4.5-.5zM395 304l3.5-3.5 -5 .5zM404.5 303.5l3-4 -4.5 1.5zM414.5 303.5l2-4.5 -4.5 2zM424.5 303l1.5-4.5 -4 2.5zM434.5 302.5l1-4.5 -3.5 3zM444.5 303l.5-4.5 -3.5 3.5zM454.5 303l.5-5 -3 3.5zM464.5 303l0-5 -3 3.5zM474.5 304l0-5 -3 4zM485 304l-.5-5 -2.5 4zM495 304.5l-.5-4.5 -2.5 4zM505.5 304l-.5-4.5 -2.5 4zM516 303l-1-4.5 -2.5 4zM526.5 303l-1-4.5 -2.5 4zM536.5 305l-1-4.5 -2 4zM546.5 305l-1-3.5 -1.5 3zM557 305l-1-3.5 -1.5 3zM567.5 305l-1-3 -1.5 3zM577.5 305l-1-3 -1.5 2.5zM108.5 315l2.5 3 0-4zM119 315l2.5 3 0-4zM129.5 315l2.5 3 0-4zM139.5 315l2.5 2.5 0-3.5zM150 315l2.5 2.5 0-3.5zM160.5 315l2 2.5 0-3zM171 315l2 2 0-3zM181.5 315l2 2 0-3zM192 315l2 2 0-3zM202 315l2 2 0-3zM212.5 315l2 2 0-3zM223 315l2 2 -.5-3zM233.5 315l2 1.5 -.5-2.5zM243.5 315l2 1.5 -.5-2.5zM254 315l2.5 1.5 -.5-3zM264.5 315l2.5 2 -.5-3zM274.5 315l3 2 -1-3.5zM285 315.5l3.5 2 -1-3.5zM295 315.5l4 2 -1.5-4.5zM306 316l4.5 2 -2-4.5zM317 316.5l4.5 1.5 -2.5-4zM328 316.5l4.5 1 -3-4zM339.5 317l4.5 .5 -3.5-3.5zM350 317l5 0 -3.5-3zM361 316.5l4.5-1 -4-2.5zM372 316l4.5-1.5 -4.5-1.5zM382.5 315.5l4-2.5 -4.5-.5zM393 315l3.5-3 -5 0zM403 314.5l3-3.5 -4.5 1zM413.5 314l2.5-4 -4.5 1.5zM423.5 314l2-4.5 -4 2zM434 313.5l1.5-4.5 -4 2.5zM444 313.5l1-4.5 -4 3zM454.5 313.5l.5-4.5 -3.5 3zM464.5 314l.5-5 -3.5 3.5zM474.5 314l0-5 -3 3.5zM485 314.5l0-5 -3 3.5zM495.5 314l0-5 -3 4zM506 313.5l-.5-5 -2.5 4zM516.5 313l-.5-4.5 -2.5 4zM526.5 314l-.5-4.5 -2.5 4zM536.5 315l-.5-4 -2 3.5zM546.5 314.5l-.5-3.5 -2 3zM557 314.5l-1-3.5 -2 3zM567 314.5l-.5-3 -1.5 2.5zM108.5 325l2.5 3 0-4zM119 324.5l2.5 2.5 0-3.5zM129.5 324.5l2.5 2.5 0-3.5zM140 324.5l2.5 2.5 0-3zM150 324.5l2 2 0-3zM160.5 324.5l2 2 0-3zM171 324.5l2 2 0-3zM181.5 324.5l2 2 0-3zM192 324.5l2 2 -.5-3zM202 324.5l2 2 -.5-3zM212.5 325l2 2 -.5-3zM223 324.5l2 1.5 -.5-2.5zM254 325l2.5 1.5 -.5-2.5zM264.5 325l3 1.5 -1-3zM274.5 325l3 1.5 -1-3.5zM285 325l3.5 1.5 -1.5-3.5zM295.5 325.5l4 1.5 -2-3.5zM306 325.5l4 1.5 -2-3.5zM316.5 325.5l4 1 -2.5-3.5zM326.5 325.5l4.5 .5 -3-3.5zM338 326l5 .5 -3.5-3zM349.5 326l5-.5 -4-3zM360.5 326l4.5-1 -4-2zM371 326l4.5-1.5 -4.5-1.5zM381.5 325.5l4-2.5 -4.5-1zM392 325l3.5-3 -5 0zM402.5 325l3-3.5 -4.5 .5zM412.5 324.5l3-4 -4.5 1.5zM423 324.5l2.5-4 -4.5 2zM433.5 324l2-4.5 -4 2.5zM443.5 324l1.5-4.5 -4 2.5zM454 324l1-4.5 -4 3zM464.5 324l1-4.5 -3.5 3zM474.5 324l.5-4.5 -3.5 3.5zM485 324.5l.5-5 -3 3.5zM495.5 324l0-5 -3 3.5zM506 323l0-5 -3 3.5zM516 323.5l0-5 -3 4zM526 324.5l-.5-4.5 -3 3.5zM536 324.5l-.5-3.5 -2 3zM546.5 324.5l-.5-3.5 -2 3zM557 324.5l-.5-3 -2 2.5zM567 324.5l-.5-3 -1.5 2.5zM108.5 334.5l2.5 2.5 0-3zM119 334.5l2 2 0-3zM129.5 334.5l2.5 2 0-3zM140 334.5l2.5 2 0-3zM150.5 334.5l2 2 0-3zM160.5 334.5l2 2 -.5-3zM171 334.5l2.5 2 -.5-3zM181.5 334.5l2 2 -.5-3zM192 334.5l2.5 2 -.5-3zM202 334.5l2.5 2 -.5-3zM254 334.5l2.5 1.5 -1-2.5zM264.5 335l3 1.5 -1-3zM275 335l3 1.5 -1.5-3zM285.5 335l3 1 -1.5-3zM296 335l3 1 -1.5-2.5zM306 335l2.5 .5 -1.5-2.5zM316.5 335l3 .5 -2-2.5zM327 335l3.5 0 -2.5-2.5zM337.5 335.5l4.5 0 -3.5-3zM349 336l4.5-.5 -4-2.5zM359.5 335.5l4.5-1 -4.5-2zM370 335.5l4.5-1.5 -4.5-1.5zM381 335.5l4-2.5 -4.5-1zM391.5 335l4-3 -5 0zM402 335l3.5-3.5 -4.5 .5zM412 335l3-3.5 -4.5 1zM422.5 334.5l2.5-4 -4.5 1.5zM433 334.5l2-4.5 -4.5 2zM443.5 334.5l2-4.5 -4 2.5zM453.5 334.5l1.5-4.5 -4 2.5zM464 334l1-4.5 -4 3zM474.5 334l1-4.5 -3.5 3zM485 334l.5-4.5 -3.5 3.5zM495.5 333.5l.5-5 -3.5 3.5zM506 333l.5-5 -3 3.5zM516 334.5l0-5 -3 3.5zM526 334.5l0-3.5 -2.5 3zM536 334.5l0-3.5 -2 2.5zM546.5 334.5l-.5-3.5 -2 3zM557 334.5l-.5-3 -2 2.5zM567 334l-.5-3 -1.5 2.5zM109 344l2 2 0-3zM119 344.5l2.5 2 -.5-3zM129.5 344.5l2.5 2 -.5-3zM140 344.5l2.5 2 -.5-3zM150.5 344.5l2.5 2 -.5-3zM160.5 344.5l2.5 2 -.5-3zM171 344.5l2.5 2 -.5-3zM181.5 344.5l2.5 2 -.5-3zM192 344.5l2.5 2 -.5-3zM202 344.5l2.5 2 -.5-3zM212.5 344.5l2 1.5 -.5-2.5zM233.5 344.5l2.5 1.5 -1-2.5zM243.5 344.5l3 1.5 -1-3zM254 344.5l3 1.5 -1-3zM264.5 344.5l3 1 -1-3zM275 344.5l2.5 1 -1-2.5zM327 344.5l3 0 -2-2zM337.5 345l4-.5 -3-2.5zM348 345.5l4.5-1 -4-2.5zM359 345.5l4.5-1.5 -4.5-2zM369.5 345.5l4.5-2 -4.5-1.5zM380 345l4-2.5 -4.5-1zM390.5 345l4-3 -5 0zM401 345l3.5-3 -5 .5zM411.5 345l3-3.5 -4.5 1zM422 345l2.5-4 -4.5 1.5zM432.5 344.5l2.5-4 -4.5 1.5zM443 344.5l2-4.5 -4.5 2zM453.5 344.5l1.5-4.5 -4 2.5zM464 344l1.5-4.5 -4 2.5zM475 343.5l1-4.5 -4 3zM485.5 343l1-4.5 -3.5 3zM496 342.5l.5-4.5 -3.5 3zM505.5 343.5l.5-4.5 -3.5 3.5zM515.5 344.5l0-4 -3 3zM525.5 344l0-3 -2 2.5zM536 344l0-3 -2 2.5zM546.5 344l0-3.5 -2 2.5zM557 344l0-3.5 -2 2.5zM567 344l-.5-3 -1.5 2zM109 354l2 2 -.5-3zM119 354l2.5 2 -.5-3zM129.5 354l2.5 2 -.5-3zM140 354l2.5 2 -.5-3zM150 354l2.5 2 -.5-3.5zM160.5 354l2.5 2 -.5-3zM171 354l2.5 1.5 -.5-3zM192 354l2.5 1.5 -.5-3zM202.5 354l2.5 1.5 -.5-2.5zM212.5 354l2.5 1.5 -1-2.5zM223 354l2.5 1.5 -1-2.5zM233.5 354.5l2.5 1.5 -1-3zM244 354.5l3 1.5 -1-3zM254.5 354.5l2.5 1 -1-2.5zM264.5 354.5l2.5 1 -1-2.5zM327 354.5l3 0 -2-2zM337.5 354.5l3.5-.5 -3-2zM348 355l4-1 -3.5-2zM358.5 355l4-1 -3.5-1.5zM369 355l4-1.5 -4-1.5zM379.5 355l3.5-2 -4-1zM390 355l3.5-2.5 -4.5-.5zM401 355l3.5-3 -5 0zM411.5 355l3.5-3.5 -4.5 .5zM422 354.5l3-4 -4.5 1zM433 354.5l2.5-4 -4.5 1.5zM443.5 354l2-4 -4.5 2zM454 353.5l2-4.5 -4 2zM465 353l1.5-4.5 -4 2.5zM475.5 352.5l1.5-4.5 -4 2.5zM485.5 353l1-4.5 -4 3zM495.5 353.5l1-4.5 -3.5 3zM505 354l.5-4 -3 2.5zM515.5 354l.5-3.5 -2.5 2.5zM525.5 354l0-3 -2 2zM536 354l0-3 -2 2.5zM546.5 354l0-3 -2 2zM557 354l0-3 -2 2.5zM567 354l0-3 -2 2zM109 364l2.5 2 -.5-3zM119 364l2.5 2 -.5-3zM129.5 364l2.5 1.5 -.5-3zM140 364l2.5 2 -.5-3zM150.5 364l2.5 2 -.5-3zM161 364l2.5 1.5 -.5-3zM202.5 364l2.5 1.5 -1-2.5zM212.5 364l2.5 1.5 -1-2.5zM223 364l2.5 1 -1-2.5zM233.5 364l2.5 1 -1-2.5zM244 364l2.5 1 -1-2.5zM327 364.5l3 0 -2.5-2zM337.5 364.5l3-.5 -2.5-1.5zM348 364.5l3.5-1 -3-1.5zM358.5 364.5l3.5-1 -3.5-1.5zM369 364.5l3.5-1.5 -3.5-1zM379.5 365l3.5-2 -4-1zM390.5 365l4-2.5 -5-.5zM401 364.5l3.5-3 -5 0zM412 364.5l3.5-3.5 -4.5 .5zM423 364l3-3.5 -4.5 1zM434 363.5l2.5-4 -4.5 1.5zM444.5 363l2.5-4 -4.5 1.5zM454.5 363l2-4.5 -4.5 2zM465 363l2-4.5 -4 2zM475 363l1.5-4.5 -4 2.5zM485 363.5l1.5-4.5 -4 2.5zM495 364l1-4 -3.5 2.5zM505 364l.5-3.5 -3 2zM515.5 364l.5-3.5 -2.5 2zM525.5 364l.5-3 -2.5 2zM536 364l0-3 -2.5 2zM546.5 363.5l0-3 -2 2zM556.5 363.5l0-3 -2 2zM109 373.5l2 1.5 -.5-2.5zM119.5 373.5l2 1.5 -.5-2.5zM129.5 373.5l2.5 1.5 -.5-3zM140 373.5l2.5 2 -.5-3zM150.5 373.5l2.5 1.5 -.5-3zM161 373.5l2.5 1.5 -.5-2.5zM181.5 373.5l2.5 1.5 -1-2.5zM213 373.5l2.5 1 -1-2.5zM223 373.5l2.5 1 -1-2.5zM306.5 374l3.5 0 -2.5-2.5zM317 374l3.5 0 -2.5-2zM327.5 374l3-.5 -2.5-2zM337.5 374l3-.5 -2.5-1.5zM348 374.5l3-1 -3-1.5zM358.5 374.5l4-1.5 -3.5-1.5zM369 374.5l4.5-2 -4.5-1.5zM380.5 374.5l4-2.5 -4.5-1zM392 374l4-2.5 -5-.5zM402.5 374l3.5-3 -5 0zM413 373.5l3.5-3.5 -5 .5zM423 373.5l3-3.5 -4.5 1zM433 373.5l3-4 -4.5 1zM443 374l2.5-4 -4.5 1.5zM453.5 374l2.5-4 -4.5 2zM463.5 374l2-4.5 -4.5 2zM474 374l1.5-4.5 -4 2zM484.5 374l1.5-4.5 -4 2.5zM494.5 374l1-4 -3.5 2zM505 374l1-3.5 -3 2zM515.5 373.5l.5-3.5 -2.5 2zM525.5 373.5l.5-3 -2.5 2zM536 373.5l.5-3 -2.5 2zM546.5 373.5l0-2.5 -2 2zM556.5 373.5l0-2.5 -2 2zM109 383.5l2.5 1.5 -.5-3zM119.5 383.5l2.5 1.5 -.5-3zM129.5 383.5l2 1.5 -.5-2.5zM140 383.5l2.5 1.5 -.5-2.5zM150.5 383.5l2.5 1.5 -.5-3zM181.5 383.5l2.5 1.5 -1-2.5zM192 383.5l2.5 1 -1-2.5zM296 384l3.5 0 -2.5-2.5zM306 384.5l4.5 0 -3.5-3zM317 384l4 0 -3-2.5zM327 384l3.5-.5 -3-2zM337.5 384.5l4.5-1 -4-2zM348.5 384.5l4.5-1 -4.5-2zM360 384.5l4.5-1.5 -4.5-1.5zM371 384l4.5-2 -4.5-1zM381.5 384l4-2.5 -4.5-1zM391.5 384l4-2.5 -4.5-.5zM401.5 384l4-3 -5 0zM411.5 384l3.5-3 -5 .5zM421.5 384.5l3-3.5 -4.5 .5zM432 384l3-3.5 -4.5 1zM442.5 384l2.5-4 -4.5 1zM453 384l2.5-4 -4.5 1.5zM463.5 384l2-4 -4 1.5zM474 384l2-4 -4 2zM484.5 384l1.5-4 -4 2zM495 384l1.5-4.5 -4 2.5zM505 383.5l1-3.5 -3.5 2zM515 383.5l.5-3.5 -3 2zM525.5 383.5l.5-3 -2.5 2zM536 383.5l.5-3 -2.5 2zM546 383.5l.5-2.5 -2 2zM556.5 383l0-2.5 -2 1.5zM109 393l2 1.5 -.5-2.5zM161 393l2.5 1.5 -1-2.5zM171.5 393l2.5 1 -1-2.5zM181.5 393l2.5 1 -1-2.5zM192 393l2.5 1 -1-2.5zM296 394l4 0 -3-3zM306.5 394l4.5 0 -3.5-3zM317 394l4-.5 -3.5-2.5zM327.5 394l4.5-.5 -4-2.5zM339 394.5l4.5-1 -4-2zM350 394.5l4.5-1.5 -4.5-2zM359.5 394l4.5-1.5 -4.5-1.5zM370 394l4.5-2 -4.5-1zM380 394l4-2.5 -4.5-1zM390 394l4-2.5 -4.5-.5zM400.5 394l4-3 -5 0zM411 394l3.5-3 -4.5 0zM421.5 394l3-3.5 -4.5 .5zM432 394l3-3.5 -4.5 1zM442.5 394l3-4 -4.5 1zM453 393.5l2.5-4 -4.5 1.5zM463.5 394l2-4 -4.5 1.5zM474 393.5l2-4 -4 2zM484 393.5l1.5-4 -4 2zM494.5 393.5l1.5-4 -3.5 2zM505 393.5l1-3.5 -3 2zM515 393.5l1-3 -2.5 1.5zM525.5 393l.5-2.5 -2 1.5zM536 393l.5-3 -2.5 1.5zM161 403l2.5 1 -1-2.5zM192 403l2.5 1 -1-2.5zM202.5 403l2.5 1 -1-2.5zM285.5 403.5l3 0 -2-2zM296 404l5 0 -3.5-3zM307 404l5 0 -4-3zM318 404l5-.5 -4-2.5zM329.5 404.5l4.5-.5 -4-2.5zM339 404l4.5-1 -4.5-2zM348 404l4-1.5 -4-2zM358.5 403.5l3.5-1.5 -3.5-1.5zM369 404l4-2 -4-1zM379.5 404l4-2.5 -4.5-1zM390.5 404l4-2.5 -4.5-.5zM401 404l4-3 -5 0zM411.5 403.5l3.5-3 -5 0zM422 403.5l3.5-3.5 -4.5 .5zM432 404l3-3.5 -4.5 .5zM442.5 403.5l2.5-3.5 -4.5 1zM453 403.5l2.5-3.5 -4 1zM463.5 403.5l2-3.5 -4 1.5zM473.5 403.5l1.5-3.5 -3.5 1.5zM484 403l1.5-3 -3.5 1.5zM494.5 403l1-3 -3 1.5zM504.5 403l1-3 -2.5 1.5zM515 403l1-3 -2.5 1.5zM525.5 403l.5-2.5 -2 1.5zM285.5 413l3 0 -2-2zM296.5 414l5 0 -3.5-3zM307.5 414l5 0 -4-3zM320 414.5l4.5-.5 -4-2.5zM329.5 414l4.5-1 -4-2.5zM338 413.5l4-1 -4-2zM348 413.5l3.5-1 -3.5-1.5zM358.5 413.5l3.5-1.5 -4-1.5zM369 413.5l4-2 -4.5-1zM379.5 413.5l4-2.5 -4.5-1zM390 413.5l4-2.5 -4.5-.5zM400.5 413.5l4-3 -4.5-.5zM411 413.5l3.5-3 -4.5 0zM421.5 413.5l3-3 -4.5 0zM432 413.5l2.5-3 -4 .5zM442.5 413l2-2.5 -3.5 .5zM452.5 413l1.5-2.5 -3 .5zM463 413l1.5-2.5 -2.5 1zM473.5 413l1.5-2.5 -3 1zM484 413l1-2.5 -2.5 1zM494 413l1-2.5 -2.5 1zM504.5 412.5l1-2.5 -2.5 1zM515 412.5l1-2.5 -2.5 1zM285.5 423l3 0 -2.5-2zM296.5 423.5l5 0 -4-3zM308.5 424l5-.5 -4-2.5zM319.5 424l4.5-.5 -4-2.5zM328 423.5l4.5-1 -4-2.5zM338 423.5l4-1 -4-2zM348.5 423.5l4-1.5 -4-1.5zM358.5 423.5l4-1.5 -4-1.5zM369 423.5l4-2 -4-1zM379.5 423l3.5-2 -4-1zM390 423l3-2 -4-.5zM400.5 423l3-2 -3.5-.5zM411 423l2.5-2.5 -3.5 0zM421.5 423l2.5-2.5 -3 0zM432 423l2-2.5 -3 .5zM442 423l2-2 -3 .5zM484 422.5l1-2.5 -2.5 1zM285.5 432.5l3.5 0 -2.5-2zM297 433.5l5 0 -4-3zM308.5 433.5l5-.5 -4-2.5zM318 433.5l4.5-.5 -4-2.5zM327.5 433.5l4.5-1 -4-2.5zM338 433l4.5-1 -4-2zM348.5 433l3.5-1.5 -3.5-1.5zM358.5 433l3-1.5 -3-1zM369 433l3-1.5 -3-1zM379.5 433l3-1.5 -3-.5zM390 432.5l2.5-1.5 -3-.5zM400.5 432.5l2.5-2 -3-.5zM411 432.5l2-2 -3 0zM421.5 432.5l2-2 -2.5 0zM431.5 432.5l2-2 -3 0zM442 432.5l1.5-2 -2.5 .5z" fill="#000"/></g>
<rect x="99.5" y="32.6" width="486.79999999999995" height="405.0" fill="none" stroke="#000" stroke-width="0.8"/>
<path d="M99.5 32.6h-3.5M99.5 133.8h-3.5M99.5 235.1h-3.5M99.5 336.4h-3.5M99.5 437.6h-3.5M180.6 437.6v3.5M282 437.6v3.5M383.5 437.6v3.5M484.9 437.6v3.5M586.3 437.6v3.5" stroke="#000" stroke-width="0.8"/>
<g font-family="DejaVu Sans,Liberation Sans,sans-serif" font-size="27.7" fill="#000">
<text x="93.2" y="43.5" text-anchor="end">35°N</text>
<text x="93.2" y="144.8" text-anchor="end">30°N</text>
<text x="93.2" y="246" text-anchor="end">25°N</text>
<text x="93.2" y="347.2" text-anchor="end">20°N</text>
<text x="93.2" y="448.5" text-anchor="end">15°N</text>
<text x="181.1" y="465.2" text-anchor="middle">115°E</text>
<text x="282.5" y="465.2" text-anchor="middle">120°E</text>
<text x="384" y="465.2" text-anchor="middle">125°E</text>
<text x="485.4" y="465.2" text-anchor="middle">130°E</text>
<text x="586.8" y="465.2" text-anchor="middle">135°E</text>
<rect x="616.9" y="28.2" width="21.1" height="413.7" fill="url(#jg)" stroke="#000" stroke-width="0.6"/>
<text x="643.6" y="452.5">0</text>
<text x="643.6" y="414.9">5</text>
<text x="643.6" y="377.3">10</text>
<text x="643.6" y="339.7">15</text>
<text x="643.6" y="302.1">20</text>
<text x="643.6" y="264.5">25</text>
<text x="643.6" y="226.8">30</text>
<text x="643.6" y="189.2">35</text>
<text x="643.6" y="151.6">40</text>
<text x="643.6" y="114">45</text>
<text x="643.6" y="76.4">50</text>
<text x="643.6" y="38.8">55</text>
</g>
<path d="M638 441.9h3M638 404.3h3M638 366.7h3M638 329.1h3M638 291.5h3M638 253.9h3M638 216.2h3M638 178.6h3M638 141h3M638 103.4h3M638 65.8h3M638 28.2h3" stroke="#000" stroke-width="0.8"/>
<text transform="translate(695.8 232.5) rotate(-90)" text-anchor="middle" font-family="DejaVu Sans,Liberation Sans,sans-serif" font-size="18" fill="#000">wind speed m/s</text>
</g>
<g transform="translate(765.4 0)">
<clipPath id="cpb"><rect x="99.5" y="32.6" width="486.79999999999995" height="405.0"/></clipPath><filter id="blb" x="-5%" y="-5%" width="110%" height="110%"><feGaussianBlur stdDeviation="1.1"/></filter><g clip-path="url(#cpb)"><g filter="url(#blb)" fill-rule="evenodd"><rect x="85.5" y="18.6" width="514.8" height="433" fill="#0000ad"/><path fill="#0000c8" d="M89.5 450l509 0 0-429.5-511 0 0 275.5 1 2-1 .5 0 151.5zM492 425.5l-1.5-2-1-6 2-10.5 1-2 6-4 4.5-6.5 4-3 4.5-.5 6 1.5 5 4.5 7 3.5 2 2.5 .5 2-2.5 6.5 1 4-.5 2-2 2-2.5 0-6-2-2-1-2-.5-6.5 7.5-6 0-6 3-2 0zM343.5 389l-1.5-2-.5-2 .5-4 1-2 2-1 4-.5 2 0 1.5 1.5 1 2 0 6-3 2-5.5 .5zM390 267.5l.5-8 1-3 2 1 .5 8-2.5 3zM383 253.5l-1.5-2 2-.5 2 .5-1.5 2zM523 97.5l-5-2-6.5-7.5-2.5-.5-12-.5-4-1-2-.5-4-4.5-2-1-2 0-4 2-2-1.5-1-3.5 .5-2 8.5-7 5.5-11 .5-4-5.5-6 0-2 1.5-2.5 2-1.5 2-.5 6 1.5 6 5 .5 2-.5 2-.5 6 2 8 1 6 1.5 2.5 8.5 3 2-1.5 6-10.5 4-13.5 2 5.5 1 10.5-1 6-2 4-.5 6 3 2.5 3.5 .5 4-.5 1.5-2.5 1-6 3.5-2.5 2-.5 8.5 1 1 0 2.5 2-.5 2-1.5 4-1.5 2.5-16.5 7-8 5.5-2 .5zM578 55l-2-2 0-2 1 0 1-.5 4.5 2.5-.5 2-2 .5zM400 36.5l-2.5-2 0-3.5 2-2.5 4 4 3.5 2 0 2-1 1z"/><path fill="#0000e8" d="M89.5 450l85 0 0-2.5-4.5-6 1.5-6 3-2.5 3.5 .5 4 4 2.5 1 8.5 .5 2 1 1.5 1.5 0 8.5 22.5 0-.5-2.5-5.5-4-1.5-2 5.5-5 4-2 2 0 3.5 1 3 2.5 1 1.5 .5 2-1 8.5 39.5 0 .5-2.5 6-3 2 0 1 5.5 25.5 0 1-8.5-.5-4-1.5-4-3-4-3-6-.5-8 .5-4 3-3 8-2 2-1 4-4 1.5-2.5 1.5-6-7-2-4-.5-12.5 4-4.5 2.5-3.5 4-2 1-4 0-3-1-1-2 1.5-6-1.5-2-2-1.5-2 0-2 1-1.5 2.5 .5 6-2 6 2 6.5-1 2.5-2 1-2-1-4.5-3-4.5 2.5-5.5 1-2 0-2-.5-3-4.5-2-2.5-1-2 4-4 2.5-8-1.5-6 2-2 1-.5 4 0 2-1.5 .5-2 2.5-4 .5-2 0-2-1.5-2.5-2-2-6.5 .5-1.5-2.5 1-4 1-1 4-4.5 2-1 2 1.5 6.5 6 5.5 3 2.5 4.5 5 6 5 3 2 3 2 1 4.5-1 1.5-1 2-2 1-5 .5-10.5 .5-2.5 2-2 6.5-.5 6 1 4 3 6 3 8 1.5 8.5-.5 10-2.5 4 .5 4 1 3 2.5 2 4 4.5 14 0 4 2 8 0 2-3 4 .5 6.5-1 4 0 4 1.5 10-3.5 3-2 .5-8 .5-1 0-1 2 2 2 2 1 12 1 2-1 1-3-.5-2-1.5-4 1.5-6 1-6-.5-4 1-3 2.5 .5 8 3.5 8 1.5 2.5 1.5 1.5 2.5 1.5 3.5 0 6 1 6-1 2-1.5 2-2 1.5-1.5 .5-2 2 1.5 2.5 .5 4 107.5 0 .5-2.5 1-2 2-1.5 2 0 4 .5 1.5 1 1 2 .5 2.5 80 0 .5-4.5 2-2 3 2 2 2 .5 2.5 4.5 0 0-22.5-4-.5-6 1-2-.5-3-2-1-2 2.5-4 1.5-6.5 2-4 6-2 4 .5 0-80.5-2.5 3.5-1.5 8-4 3.5-2 .5-2-.5-2-1.5-1.5-2-1-6 2-6.5 1-6 2-2 1.5-.5 2-.5 4 1 2.5 2 1.5 2.5 0-12.5-4 1-2.5-1 0-2 2.5-1.5 4 1 0-41.5-2 1.5-2 .5-4-.5-2-1-2-4.5-.5-2.5 1-2 5.5-3 2-1 4 .5 0-27-4-2.5-6-2-4 2.5-2.5 .5-3-.5-5-2.5-4-3.5-1.5-2-1.5-6 4.5 0 4 2 13 3.5 4-2.5 6-2.5 0-15-3 8-1 1.5-2 0-3-1.5-1-1-1.5-5-1-6 .5-2 2-2.5 3-3.5 3-1 2 .5 2 1 0-19-2 5-6 5-2 .5-1.5 0-3.5-2-4.5-4-1-2 6.5-3.5 1-3-1.5-2-4.5-2-3.5-2.5-2-3.5-2.5-8 2.5-4.5 2-2 2-.5 6.5 0 4 2.5 2-2.5 1-3 1-8 2-1.5 4 5 0-46-3 8-1 1.5-4 1.5-4-.5-4.5-2.5-4-8.5 0-2 2-2 3-2-7-.5-3.5 .5-1 2-2 4-2.5 4.5-1 2-.5 6-1.5 3-2 2-2 1-2 0-4-2.5-2-.5-2.5 1-2.5 2-.5 6-.5 2-2.5 2-2 3.5-2 1-2-1-2-2.5-2-1-6-.5-2-1-14-12-2.5-.5-6-1-6 1-6 2.5-2 1.5-2 3.5-2 1.5-12.5 1-2 1-4 5.5-4 .5-8-.5-2-2-3-4.5-.5-2 1-6 2.5-1.5 10-.5 1 0 2-2-7-4-4-4.5-10 1-8.5-1.5-3-1-3-3.5-2 .5-1 .5-2 4.5 0 2 1 6-2 2-8 1-2.5 1-5.5 5-2 1-12.5 1.5-2-1.5-2-5-2-3 0-2 0-2 2.5-6 1.5-1.5 4-.5 6 .5 4.5 1 4 0 2 0 1.5-1.5 .5-2.5-1.5-2-4.5-2-1.5-2-1.5-6-1.5-4 0-2 2.5-2 6-2.5 6 1 10 4 2 .5 3.5-3 2.5-1.5 6.5 0 6-2.5 2 .5 5 3.5 2 2-.5 2-2.5 2-1 2-.5 6 .5 2 1 1 2-1.5 2.5-3.5 9.5-2 4-3 3.5-5 1-5 3-5 .5-2-1.5-2-2.5-2-2-4.5-2-1.5-6 1-2-1-1-2.5 0-4 1-4 5.5-4 4.5-6 .5-2-71.5 0 .5 2 2 1.5 5 2.5 2 2 2.5 4 2.5 7 1 1 0 2-2 6.5-3 3.5-2 1.5-2 .5-4-1.5-7.5-6-5-5.5-2-.5-4 1.5-12 1-6-.5-2.5-.5-2-4-6-5.5-2-.5-6 1.5-4-.5-2-1-2-2-.5-2 1-2 1.5-1 6-2.5 6 1.5 6 3.5 6.5-2 6-3 6-.5 4 1 2-.5 .5-2.5-63 0 .5 2 3.5 4 1.5 2-2 6 .5 2 1.5 6 2 2.5 1 2-4 4-.5 2 1 2 4.5 4 1 4 0 2-2.5 2-6.5 .5-2-.5-2-2-1-4 0-2 1.5-6-2-2-3.5-2-3-3-2.5 1-4 4-2.5 12-3 7.5-.5 6.5-2 6-1 2.5-3 2-2 2-.5 6 2 6-3.5 3.5-2 .5-2 0-2-1.5-1.5-2.5 2.5-4 .5-2-.5-2-5.5-8-.5-2.5 0-6 1-2 2-1 6-1 2-.5 1.5-1.5 1.5-6-3-13-4-5-2-6.5-4.5-6-1-4 .5-2 2-2 5-1 10.5 0 6-.5 4-1.5 6 0 1.5-1 .5-2-88 0 .5 2 7.5 6 1 6-.5 2-1.5 1.5-2-.5-2-1.5-6-6-2.5-1-6 0-1-.5 0-2 2-4 0-2-58.5 0 1 8-1.5 4-1.5 2-3 .5-2.5-1.5-2-.5-.5 1.5-3.5 3-8 4.5-10 7-12.5 3-1-1-.5-2 1-8.5 1.5-2 3.5-2 2-2.5 3.5-7.5 5.5-4 .5-2-37.5 0-.5 2-2 3.5-2 2-2 .5 0 48.5 3 0 0 2-1 1.5-2 .5 0 193.5 8-.5 2 2 2 3 3.5 2.5 1 2 1 6.5-.5 2-2.5 4-1 6 1.5 2 6 2 5 8-4 6.5-1.5 1.5-8.5 1.5-4 1.5-6 7.5 3 2 5 2 1 2-1.5 6-1 2-2.5 2.5-2.5 3.5-1.5 1-2 .5 0 16.5 2 .5 2 1 4.5 7 .5 2 0 4-1.5 2-3.5 1.5-4 .5 0 61zM495.5 439.5l-10.5-2-6 .5-1.5-.5-.5-1-2-7 .5-12 1.5-4.5 6-10 10-10.5 7.5-5.5 3.5-4 5-2.5 10.5 4 6 4.5 4 1 6 .5 3.5-1.5 2.5-4 2-2.5 6.5-2 8-1.5 4 0 2 0 4 2 2 2.5 1 3.5 .5 6-.5 12-1 1.5-2 .5-8-6-2 0-3 2-5 6.5-.5 2 5.5 4 2.5 6 0 2-3 2-2.5 .5-6.5-.5-6-2-4.5 2-7.5 2-6-1-6 .5-2 1-4.5 6.5-1 1-9 4-2 .5zM186.5 409.5l-1.5-4.5-1-6 .5-2.5 2-2 12.5-5.5 14 .5 2 .5 1 1 .5 4-.5 4-1 2-4 3-4 5-2 1.5-12-.5-4.5 1-2-.5zM159.5 385l-.5-4 1.5-6 6-4.5 2-1 2 2 2 3.5 0 4 0 2-1 2-3 3.5-2 0-4 0zM221.5 381l-4.5-1-12-1-6 1.5-2-1.5-1-2-.5-2 1-6-3.5-10-2-2.5-4-2-8.5-1.5-6-1.5-4-3.5-3.5 4.5-2.5 1-2-1.5-2-7.5-1.5-2-3.5-2-5.5-4.5-6-3-.5-.5 .5-2 2-3 2-1 12.5-.5 4-.5 2-2 1.5-3.5 6-2 4.5 0 4 1 4-1 2 .5 3.5 1.5 1.5 2 3.5 7 1.5 9.5 1 2 7.5 5.5 9 2.5 1 1.5 .5 6.5 2.5 6 1.5 2 3.5 1.5 6.5-1 2 1.5 1 2.5 0 2-1 6.5-2 2-2 1-4.5 1zM117 314l.5-2 1-2 1-8 4-6-1.5-6 1-6.5 9-4 4 0 2 .5 1.5 1.5 2 8.5-5.5 4-1 2 2 6-.5 2-2 4-8.5 4.5-6 2zM158 292l-1.5-2 1.5-6.5 0-2-2.5-4 1.5-4 1.5-2 2-.5 4-.5 5 1 1.5 2 0 2-1.5 8 1 4.5 0 2-2 2-4 1.5-4-.5zM376.5 271.5l-1-1.5-2-.5 4-2 1-2 0-6-1-2.5-4-3 0-.5 2-2 2-.5 2-1.5 2-.5 4 0 4 2 2 2.5 2.5 4 1 4-.5 4-1 2-2 2.5-4 2-6 .5zM208.5 239l-5-4 0-2 3.5-6 4-3.5 2 .5 3 3 1 2 0 4-1 2-3 4-2 1zM165 229l-3-2-1.5-2 0-2 1.5-2 3-2 1.5-2 2-4 0-4-2.5-6.5-1.5-1-4.5-1-4-2-.5-2 1-1 2-.5 4 0 3.5 1.5 1 2 0 2 1.5 1 3 5.5 9 2 1 2-1 3.5-1 2.5 1 3 0 3.5-1.5 1.5-5 2-5.5 3.5zM220.5 229l-.5-2 .5-4 0-12 .5-2 6.5-8.5 6-9 2-1 6 4.5 2 2.5 0 3-2 7-2 4-7 5.5-7 10-2.5 2zM115 207l-7.5-2-6-.5-.5-12-3.5-6.5-4-4-2.5-5.5 0-2 2.5-2 11.5-4 5-4.5 1.5-2 0-6 2-3 4-3 10.5-3 2-1 3.5-2 8.5-7.5 2-1 10.5 3 8 .5 6 2 6-.5 4-2.5 2-.5 12.5 2 2 1.5 1.5 3-.5 2-3 5.5-6.5 4-6 .5-2-1.5-4-6.5-2 1-2.5 5 0 2 4.5 12.5-1 2-3 3.5-2 1-6-4-12.5-3.5-6 2-2 0-2 1.5-3.5 9.5 1.5 1 8 2 3 3 1 4-.5 4-1.5 4-2 3.5-2 2-2.5 .5-7.5 1.5-14 1zM197.5 176.5l-.5-2 2-1 6 1 6-2 8 2-4.5 2-3.5 1-2 0-2.5-1-1.5-2-1.5 2-4.5 1zM233.5 172.5l-1.5-2-.5-2 .5-6.5 1.5-3.5 2-4 10-3 2 0 2 2 1 2.5-4 12.5-1.5 2-3.5 2-6 1zM260 162l4-10 2-2 1 4 1 6-.5 2-1.5 1.5-2 .5-2-.5zM536 146l-2-2-.5-4 .5-2 1.5-.5 4 0 2.5 4.5 0 2-.5 1.5-2 1.5zM294 140l-2-2.5-2-1.5-6 0-2-.5-1-1.5-1-4.5-2-2.5-4 1-2 0-2-5-.5-3.5 .5-2 2-2 6 .5 6-2 4 2 7 1.5 3 2 3.5 8.5 3 4-1.5 4-3.5 4-3.5 1zM311.5 134l-5-4 2-4 6-7.5 4-3.5 2-1 2 .5 4 2 1 1 .5 2-1.5 4-2 2.5-6.5 4-3.5 3.5-2 .5zM494 128l-.5-2 3.5-1 1 1-1 3-2 0zM149 121.5l-1-2 .5-2 3-4 3-2 2-.5 2 1 .5 1.5 .5 2-.5 4-.5 2.5-2 1.5-4.5 0-2-.5zM99.5 115.5l1-2 1.5 0-.5 2.5zM123 107.5l-7-4-1-2 .5-6-2-3 0-3.5 4.5-1 4 .5 5 5 5 7 0 3-3.5 4-2.5 1zM147.5 85.5l-2-2.5 .5-2 1.5-2 2.5-1.5 4.5-1.5 2 .5 2 4.5 0 2-.5 2.5-1.5 1.5-2 0zM385 71l-1-2-.5-2 1-2 3-2 2.5 2 0 2-2.5 4zM154 67l-1-2 .5-2 3-2 2 1.5 .5 2.5-1.5 2-1 1zM174 67l-2-2 1-2 1.5-1 2 0 2.5 1 0 2-2.5 2zM106.5 65l-.5-4 1-2 2.5-1 3.5-3 .5-1.5 1.5 1.5 .5 2 0 2-6 3-2 4zM186 47l-1.5-1.5-2-6-2.5-3-1-2 .5-2 5-5 6.5-2 6 0 4.5 1 1.5 2-2.5 6-2 2-7.5 6.5-4.5 4zM337 431.5l2 .5 2 0 1-2.5 1-6-.5-6 8.5-2 2.5-2 2-8.5-2.5-3.5-2-1-12-1-4 3.5-1.5 2-1.5 6.5 0 2 1 2 0 2-3.5 2-1 2-.5 2 4.5 6zM320.5 421l2 0 1-1.5 0-2-1-1-2 0-.5 1zM324.5 387l2-.5 .5-1.5-2-4-4.5 0zM107.5 201l2-1 1.5-1.5-3.5-2.5-2 .5-1 2 1 2zM598.5 83l0-62.5-81.5 0 0 2-1.5 1.5-1 2.5-1 12 .5 2 1.5 1 2 .5 4-1 2-3 2-1.5 2 0 6 1.5 1.5 .5 1.5 2 1 4.5-.5 8 1.5 6 2.5 2 9 4.5 2 .5 2-1.5 4.5-5.5 .5-6-.5-6 3-10.5 .5-1 2-2 6 2 6-1.5 2 .5 4 1 6.5 2.5 6 0 2 1 1.5 1.5-1 6.5 .5 24-.5 2-2 4 3 4zM148 27l2 1 2-1 2-2.5 .5-4-14 0 0 2 1.5 1.5zM483 22.5l2 .5 1-2.5-4.5 0z"/><path fill="#0000ff" d="M93.5 450l8.5 0-.5-3.5-2-2-2-.5-2 0-2 1.5-1.5 2 0 2.5zM120 450l39.5 0-.5-12.5 .5-10 1-1.5 2-.5 6 1 2.5-1 2-2-1-6 3-6-1-6.5-1.5-2-4-2.5-6-1.5-11 4-3 2-.5 2 .5 4.5 2.5 2 6.5 4 .5 2-2 4-6 4.5-1.5 7.5-2.5 3-2 1-2 0-10-3.5-6 2-6-1.5-2 1-1.5 2 0 2 1.5 8.5zM284 450l13 0 0-8.5-1-1.5-4-2-2-.5-4 2-2 2.5-.5 8zM513.5 450l30 0 0-8.5-1.5-2-2.5-.5-12 1-10-1-2 .5-2 2 0 2zM564 450l8.5 0-.5-8.5-1-6-.5-6-.5-2-4-2.5-2 0-3 2.5-3 4-2.5 2-4.5 8 3.5 2 6 2 2 2 1 2.5zM403.5 438l2.5 1 4 0 14-.5 2.5-1 3.5-3 6-2.5 6.5-3.5 6-2 2 .5 4 2 4-1 4-2 2-2 2-3 1.5-3.5 1-6 3.5-6.5 2-5.5 13-10.5 4.5-8 5-3 6-5.5 4-2.5 4-1 4.5-.5 6-3 2 0 4 .5 12-10.5 5-1 3.5-2 6-1.5 4-2.5 1.5-2 1.5-4 5.5-8 .5-2-1-2-4.5-2-5.5-4.5-1.5-2 0-2 3-6 4-4 6-10 5-4-2.5-2-4-2-2-3-3.5-9.5-2-8-3-6 0-6-1.5-2-5-4-1-2.5-1.5-3.5 1.5-6.5-4-12 0-2 1.5-10-1-6 1-2 2.5 0 2 1.5 1.5 6.5 10.5 10 2 1.5 2-1.5-1-6-5-10-.5-2 0-4.5-2-6 6.5-5.5 2-.5 4 1 1-1 .5-2-.5-4-1-1.5-6-1.5-2-2-2-3.5-2-2-4-2.5-2 0-2.5 1-1.5 5-.5 1-2 .5-4 0-4-.5-2-.5-2-2-7-14-5.5-10 .5-2 2.5-4 2-4 1.5-7.5 1.5-4.5-.5-2-4-6.5-1-5-2-4-4-2.5-4-1-8.5-5-2-.5-2 2-2.5 6 3 6 4 4 .5 2.5-2 6-1 6-1.5 2-2.5 .5-4-1.5-6-4-10-9.5-2-1.5-4.5-.5-6 .5-12-4-6-4-6-3.5-8.5-7-2-1.5-2-.5-6 3-6 1.5-6 3-8.5 1.5-3.5 3-4.5 4.5-8 2.5-6 .5-2-.5-5-3-2-4-1-1-2 0-12.5 2-2-1-3-2-1-1-2.5 1-7.5 2-2 1-7 9.5-3.5 3.5-10 7.5-4 6-2 1-10 3.5-2 1.5-1 1-2.5 6-7 7-8 4.5-10 2.5-2 1-4 3.5-4 5.5-7 4.5-2 2-1.5 4 0 2 .5 4-.5 4-8 15.5-2 3-5 4-4.5 8-6.5 6-14.5 9-6-.5-2 .5-8 5-4 1.5-6.5 0-10-4-2 .5-4 2.5-4 8 1 4 2 2 11 3 2 1 1.5 2-2.5 18.5-3 6 0 2 4 8.5 2 1 2 0 2 1.5 4.5 5 5.5 4 6.5 14 2 2.5 4 2.5 8 2.5 5 3 2.5 2 1 1 1 5 9 5 6 0 2-2 4-5.5 2-.5 4 .5 6 3.5 8.5 4 6.5 5 1.5 2.5 2 1 2.5-1.5 1.5-4 1.5-2 4.5-2.5 2-.5 18.5 .5 2 .5 10 6.5 6 1.5 10.5-4 2 0 6 .5 6 2 8 5.5 2 2.5 1.5 2 4.5 10 2.5 2 2.5-4 1.5-1 .5 1 1.5 2.5 1 7.5 1.5 4-.5 2-1.5 2-.5 2 1.5 4 3 4 7.5 4.5 8 6 2 6 0 4 .5 2zM381.5 273.5l-6-1.5-3-2.5-1-2-.5-2 0-8 .5-2 3-4 5-2.5 4-.5 3.5 1 4.5 3 3.5 5 .5 5-1.5 5-2.5 3-4 2zM232 249.5l1.5-2.5 2-1 2 .5 0 1.5-2 3-2 .5zM507 152l-1.5-2-.5-2 2-3 2 .5 8.5 4 .5 .5 .5 2-7 1-2.5 0zM107.5 432l5.5-.5 1-2-2.5-.5-4-4-1.5 2.5 0 2zM253.5 431.5l1.5-2-1.5-.5-1 .5zM89.5 429l6-1.5 3-2 .5-2 .5-6 .5-2 1.5-4 3.5-4.5 .5-2-1.5-2-6.5-3-2 0-8 1 0 28.5zM107.5 378.5l1.5-1.5-.5-2-1-1-1.5 1 .5 2zM576 375.5l2-.5 6.5-4 1-2 1-3.5 1.5-3 1.5-2 3.5-2 1.5-2-12.5-1.5-6.5-2.5-3.5-4-2-1-2 .5-2 2.5-1.5 6-2 2-4 2-2.5 2 8 4.5 6 2.5 4 4.5zM126 326.5l3-.5 1-1 1-3-1-1-4 2.5zM152 314.5l2.5 1 2 0 3-1.5 0-2-1-1-2-.5-3.5 1.5-2 2zM118 257.5l2 0 2.5-2 1-2-.5-2-1-2-5.5-2 0-2.5 1.5-1 2-.5 4 1 2 0 3.5-1.5 3-2 0-2-1.5-10 2.5-6-1-2-2.5-.5-4 1-4-1-4 0-10.5 1.5-8-5-1-6-1-2-4-3-2-3.5-2-1.5-2-.5 0 52.5 2-.5 2-2 2-5 4-3.5 .5-7 1.5-2 4.5-2 3.5-3.5 2 1.5 4.5 6-1 6 .5 4 1 0 0 2.5-1 0-1.5 4-.5 2 2 2.5zM186.5 237.5l2-1 1-1.5-1-1-2-1-1 2zM217 163l2-1.5 1.5-5.5-2.5-6-1-4 .5-4 1.5-4 2-2 2 0 6.5 2.5 6-2.5 6-.5 3-1.5 .5-2-.5-6 1-6.5-2-7-2-5 4-12.5 2-1.5 6-2 10.5 2 2 0 2.5-2 .5-2 1-12.5-.5-6-1.5-2.5-4.5-3.5-1.5-6-2.5-1.5-1.5 1.5-.5 6-1.5 6-1.5 2-13 5.5-8 .5-4 1-1.5 1-2 4.5-3 1-4 .5-2-.5-1-3.5 .5-2 2.5-2 0-2-4-2-4 0-2 2-2 4.5-2 1-6-1-2-.5-4-3.5-4.5-1-10-.5-5 1-1 2 .5 4 .5 2.5 6.5 8 1 2-3 8-3.5 4 0 3 10-1.5 8.5 1.5 1.5-1 4.5-11.5 4-4.5 2-1 8-.5 4 3.5 1 2 2 10-1 12-2 3-7 1-2 2.5 .5 6-.5 2-2.5 4 1.5 4.5 .5 3.5-2.5 6-4.5 4 4.5 .5 6 2 2 1 2 2.5zM87.5 148l4-.5 2-2 2.5-7.5-.5-5.5-2-.5-2 1-4 0zM570 134l2 0 2-1 4-3 1.5-4 1.5-6.5 0-6-2-6-3-4-2-1-2 0-2 1-2 2-4 6-1.5 6 0 6 2.5 6.5 3 3.5zM308.5 110l2-.5 4-2 4-2.5 2 0 4 2.5 8.5 3.5 6-.5 1.5-1 1-2 3-12 0-2-1-2-2.5-1.5-6-1-2 .5-8.5 3-4 2.5-2 0-6-2-4-3-2 3-.5 2.5 1 6-.5 6zM351 110.5l1.5-3-1.5-2.5-2 2.5 0 2zM95.5 106l6.5-2.5 2-2 1.5-6-2-6-2-2-2-.5-4 0-8 1 0 15.5 2 0zM363 87.5l2-1.5 1-.5 1.5-8.5 0-6 0-2-2.5-1.5-2 0-2 1-2 3.5-3 3-1 2 4 8.5 2 2zM343 78l2 1 2.5-2-1.5-2-1-.5-2 1.5-1 1zM89.5 68.5l3-1.5 1.5-2 0-2-2.5-5-2-1.5-2 0 0 12.5zM130 67.5l2 .5 2-2 .5-3-.5-1.5-2 0-2 2-1 1.5 .5 2zM375.5 57.5l4.5-2.5 .5-2-5-.5-1.5 .5-.5 2zM93.5 49l2 0 2-2 0-6-2-1-1.5 .5-2.5 3.5-2 1.5-2 .5 0 1.5zM448.5 47l2-2 1-4.5 1-12-1-8-35.5 0 0 2 2 3 6 4 6 5.5 8 3.5 3 4z"/><path fill="#0014ff" d="M416 433.5l4 .5 4-1 2-1.5 4-5.5 2-.5 4 0 4.5-2 2.5-2 .5-4 1.5-2 5.5-.5 4 2.5 4 .5 2-.5 1-2 1-4 2-12.5 3-6 3-2 6.5-.5 4-2 2-1.5 2.5-6 11.5-9.5 4-4.5 4-2 8.5-2.5 8-5.5 4-1.5 2-1 3-4 3-3 4.5-3 .5-2-1.5-4 .5-1 1.5-9 4.5-8.5 8.5-10 3-6 2.5-8-1.5-6-3.5-6.5-2-12-4-6 0-6-3.5-4-1.5-2-.5-6 1-6.5-3-6-2-6-.5-20 2-10.5 3-4 .5-2-1.5-4-3-1.5-2 0-2-1.5-3-3-8.5-16-5-6.5-3.5-1.5-10.5-.5-4 1-2-1-3.5-2-7-6 .5-.5 4-.5 2-2 .5-1-.5-2-2-1.5-12-6.5-12.5-5-4-3-14-7-6.5-1.5-5-2-5-3.5-2-1-12 1-6 3-6 1.5-6.5 5.5-12 4.5-6 1-6-1.5-6-5-6.5-1-6 1.5-6-1-6 1.5-6 2.5-6 4-10.5 8-6 7.5-2 1.5-6 2-2 1.5-10.5 12-5.5 5.5-14 6-2 2-4.5 6-3.5 4-2.5 4-4.5 4.5-4 9.5-6.5 10.5-7.5 15-6 5-1 2 .5 2 .5 1 2 0 4-1 1 2 2 6.5 .5 6-.5 4-1 2-2 2.5-2 0-4-2-3.5-2.5-2.5-1-12.5 4-2 1-.5 0 0-2 1-2 1.5-2 0-1.5-2-.5-4 .5-4-1.5-2 0-6 6-9 7 0 2 1.5 2 .5 2-4 6 0 2 1 4-2 4.5-2 6 0 2 6.5 8 3.5 3.5 2-.5 .5-1 .5-8 1-2.5 3.5 8.5 2.5 3.5 2 .5 3.5-4 .5-2 2 0 0-2-2-1 0-1 0-1.5 2-.5 1.5 2-1.5 2 0 2 4 8 1.5 4-1 4 0 4-6.5-3.5-4-1-2 .5-.5 2 1 4 1.5 2 4 5 18.5 9.5 6 5.5 2 0 4-1.5 6-5.5 2 0 4 2 6 5 16.5 5.5 2 0 6-3 6-1.5 6 2.5 12.5 1 12 4 6 0 4-1.5 8.5 .5 11.5 3 4.5 2 5.5 6 6.5 4.5 2.5 .5 4-1 2.5 4.5 1.5 6 1.5 10 3.5 8 1.5 2 5.5 5 4 6 6 4 1.5 1.5 1 2 .5 8 1 4 2.5 2zM531 326l0-2 .5-.5 1 .5 .5 2-1.5 2zM378.5 273.5l-4.5-2-2-2-1-2-1.5-6 1-6 3.5-4 3-2 4.5-1.5 4 0 4 2 2 1.5 3 4 1.5 4 0 2-.5 4-2 4-4 3-6 1.5zM515.5 142.5l4 1 2-1 1.5-2.5 .5-6-2-3.5-4-2-2 0-2 .5-2 1.5-1 1.5-.5 2 1 4 1 2zM570 128l2 .5 2-1 2-3 1.5-5 0-4-1-4-2.5-2.5-2-.5-2 .5-2 2.5-2 6 0 2 1 4 1 2.5zM330.5 104l2.5 .5 2-1 1.5-2 1-2 .5-2-.5-2-.5-1-2-1-2 .5-3 1.5-1.5 2-1 2 0 2 2 2z"/><path fill="#0030ff" d="M414 427.5l4 1.5 4-1 2-1.5 2-3 2-6 2-2 6-1 12.5-3.5 6-3 6-6.5 4-8.5 2-2 6.5-4 6-7 6-4 2-2 3.5-5 1-4.5 2-2 5-4 4.5-2.5 2 .5 2 1.5 2 0 3.5-1.5 2.5-2 2-8 3-4 1-4 3.5-6 1-7.5 1.5-5 6.5-6 2 .5 2 2.5 2-.5 1-.5 2-2 2-4 4-8-.5-2-1-4-3-6 .5-10.5-1-8-2-2.5-2-1.5-2 0-1 4 1 18.5-2 8.5-2 .5-2-6-.5-9.5 1.5-6 .5-6-2-12 2-6 .5-7.5 2-3 .5-2-4.5-18-3-6-2-10 1-6.5 3-6 .5-2-2.5-6-3.5-4-1.5-2-2-7-6-6.5-2-1-2 .5-2.5 2-8-5-4-1-4-2.5-14-6.5-3.5-3.5-1-4-2-1.5-6-1.5-12-6.5-1-2.5 .5-2-2.5-4-3-2.5-6-.5-12.5-3-6 0-6-1-6 2-6 1-2.5 1-4 5.5-12 3-6 1-12.5-2.5-4-1.5-2-.5-6 1-6-2-6 .5-4 1-3 1.5-5 3.5-18.5 16-4 2-4 3.5-12.5 12.5-14.5 9-7 8-3.5 6-12.5 16.5-7.5 14-2.5 8 .5 10 .5 2 6 4 1 2.5 0 8-.5 6-1 2-3.5 2-6 1.5-4 .5-6-1-4-3-2-.5-8.5 1-4 1.5-8 5.5-3.5 4.5-.5 2 1.5 4 .5 5.5 2 0 .5-3.5 1.5-2 14-.5 3 .5-1.5 2-3.5 1.5-.5 1 0 2 3 2 8 2 1.5 2 .5 4-.5 2-1.5 2-2 1-6.5 1-1.5 2 1.5 6-1 4 1 3.5 6.5 7 .5 2-.5 2 4 3.5 2 1 2 .5 4-1.5 4-3.5 2-.5 2 0 7 2.5 3 2 1.5 2 3 2 9 4 5 1 2.5-1 .5-2-.5-4 3.5-3 6 3.5 3 3.5 3 2.5 12.5 1.5 6 2.5 4 .5 10-.5 10.5 1.5 18 5.5 3 2.5 2.5 4 3.5 2 3.5 1 6 0 2 3.5 4 19.5 4.5 4.5 2.5 6 3 4 2 2.5 6 4.5 3.5 5.5 3 8.5 2 1.5zM238 302l-1-2 0-2 .5-2 2-3.5 2-1 6 3.5 5 1 1 .5 1 1.5-1 3-4 2.5-8-.5zM377 273.5l-3.5-2-3.5-4-1-6 1-6 3-4 4.5-3 4-1 4 0 2 1 4.5 3 4 6 .5 4-1 5-1.5 3-2 2-4 2-6.5 1zM517 273.5l-.5-2 .5-2 4-4 .5-5.5 0 5.5 1.5 4-.5 4-1 2-2 0zM505 241l-2-2-1.5-4 0-2 1.5-1.5 2-.5 2 1 2 1 1.5 2-1.5 5.5-2 2zM203 266.5l2 1 1.5-2-.5-2-1-1-2.5 3zM570 122l2 1 2.5-3.5-.5-4-2-2-2 1-1 3 0 2z"/><path fill="#004cff" d="M416 422l2 1 2-1 4-3.5 4-4.5 2-1.5 18.5-4.5 4-3 6-6 5-8 5.5-4 4.5-6 7-6 4.5-5 4-7 2-2.5 8-6 4-4 9-6 1.5-2 .5-4 5-6 1.5-8.5 0-10 1-1 2 0 2 .5 2-1.5 1.5-2 1-2-.5-2-2-2-2 .5-4 2-6-1.5-2-1-1-2-.5-18.5 0-26-.5-2-4.5-2-6-13-1.5-5.5-1-6-.5-6-1.5-6 0-4 .5-3 2 0 1.5 1 1.5 2 4.5 8 2.5 8 3.5 4 1 2 0 8 2 3 2 .5 4-.5 1.5 1.5 2 6 2.5 0 3.5-12.5-2-14-1.5-5-2.5-5-2-8-.5-6.5 1-8-.5-4-2.5-4-5-6-3-6-2-2-3.5-1.5-6-1-4 1-6-1.5-2 .5-2 2.5-2 8-2 0-2-2-4-6-1-8.5-1.5-2.5-2-1.5-2 .5-2 2.5-2 1-6-2-2-2-1.5-4 .5-6 2.5-4-1.5-2-4-2.5-6-8-12.5-4-6-1-6 0-6-2.5-2 .5-4 1.5-6 .5-4.5 5-2 1.5-8 .5-10 2.5-5.5-2-11-1.5-20 0-4 1.5-6 4-5.5 4-9 5.5-5.5 6.5-6.5 3-2 1.5-6 6.5-4.5 5.5-6 2.5-7.5 5.5-6 6-3.5 6-7.5 10-6 6-1.5 2.5-3.5 8-3 12 2 10 3.5 4 1 2.5 0 10-.5 8-2 4-2 1.5-8.5 4.5-1.5 2 0 2 2 6 2 2 6 0 4 4.5 2 1.5 2.5 0 3 2.5 1.5 4 0 2 2 4-1 6-1.5 3.5-2 .5-16.5 0-2-2-3-6-5-2-2 0-3 2-.5 6-.5 2-2.5 2-.5 2 5 7.5 2 2 2 .5 4.5 .5 1.5-1 4-4 2 .5 10 5.5 6.5 .5 6 2 2 0 4 0 4-3.5 2-1 2 0 4 2 4 5 2 1.5 10 4.5 8.5 3 6 0 6-.5 8.5 1.5 10 4 12 3 2.5 1 7.5 6 2.5 1 6 .5 2 1 3 6 4.5 16 .5 2 4 4.5 2 8 2 2.5 6 2 6.5 12.5 2 1.5 5 1.5zM376 273.5l-4.5-3-2-4-1-5 1-6 3-4 5-3.5 4-1 6 1 5 3.5 4 6 .5 4-1 6-3.5 4-5 2.5-6 1z"/><path fill="#0068ff" d="M418 417.5l6-3 3-3 3-6 2-.5 14.5-.5 4-1.5 2-2 2-4.5 2-3 6-4.5 6.5-8 6-4 6-6.5 8-12 2-2 6-4.5 8.5-7.5 2.5-6 5.5-8 1-4.5 .5-4-2.5-14-1-2-2.5-1.5-5.5-.5-1-2 0-16.5 .5-4.5 2.5-9.5 0-6 .5-6-3-5-4-14.5-4.5-11-.5-6-2-6 0-4 .5-2 2.5-4 2-1 2-.5 11.5 3.5 3 2-1 4-.5 4 0 4 .5 6 1.5 2 1.5 1 2 1 6 0 2 2 .5-6-2-6-6.5-11-1.5-1-.5-2 .5-4.5 1.5-6 2-4 .5-2-3.5-6-3-4-3.5-6-3-3-4-1-2 .5-4 4-4 .5-2 1.5-.5 1.5-2.5 2-3 1.5-7.5-1.5-10-6-13-12.5-2.5-6-1-8 1-4-.5-2-1-3-2-2-6-2.5-3.5-2.5-3-1.5-6-1-6 1-6-1.5-6 2.5-6 .5-6.5 5-6-.5-2 1-8 4.5-2 .5-2-1.5-2-2.5-2-1.5-10.5-2-8 0-10 2-2.5 1-3.5 4-2 1-6 1.5-7.5 3.5-7.5 8-9.5 4.5-5 6-5 8-2.5 2-4-.5-2 1-8 6-2 2.5-3 5-5 5.5-4.5 6.5-8 8-2 4.5-2 12 2 12 1 2 4 4.5 0 2-.5 10-.5 6-2.5 4-1 4 .5 10 1 2.5 2.5 2.5 7.5 5.5 3 6 3 14-3.5 2-2 2-1 2 1 4 2 3 2 0 4-1 4-4 2 0 8 6 4 5 6.5 2.5 10 5.5 4 1 10 .5 6.5 1 12 4.5 12 3.5 10 4 8.5 1 2 1.5 4.5 6.5 5.5 3 1 1.5 1.5 6 .5 12 4 10 1 1 4 2 2 2 4.5 9.5 1.5 2 8.5 3.5zM430.5 360.5l0-4-2-4 0-2 1.5-2.5 4-2 2 0 2 4.5 0 2-4 8-2 1zM375 273.5l-3-2-2-2-1.5-4-.5-6 2-6 4.5-4 5-2.5 6 0 4 1.5 2 1.5 3 3.5 3 6 0 4-2 5.5-2 2.5-2 1.5-6 2-6 0zM237.5 324.5l2 0 2.5-.5 1-2 .5-2-2-2.5-4-.5-2.5 1-1 2 1 2z"/><path fill="#0084ff" d="M418 412l2-1 3-1.5 1-1 2.5-5.5 1.5-1.5 2-.5 12.5 .5 6-.5 2-2 1.5-8 2.5-2 4-2 1.5-2 .5-4 1.5-2 6.5-2 4-2.5 5.5-5.5 3-6.5 5.5-6 2.5-3.5 2-2.5 6-2.5 2-2 1-1.5 .5-2 0-4-1.5-3.5-2 0-4 2.5-2 .5-2-1.5-2.5-4 0-2 2-6.5 2.5-3 2 1 2.5 6.5 1.5 2 2 1.5 6 0 2-.5 2-1.5 2.5-2 .5-4 0-4-.5-4.5-2.5-4.5-2-1-4 1-2-.5-2-2.5 .5-14 2-20.5 .5-14-3-14.5-4.5-8-3.5-8-.5-6-2-8 .5-4 .5-2 2.5-4.5 .5-4 .5-2 4-1 6 .5 6-1 5-2.5 1-2-1.5-4-2-4-4.5-4.5-2-1.5-2-.5-4 4.5-8.5 2-2.5 2-1 2-2 1-4-3-11.5-4-4.5-2-8-6-2.5-2.5-2-4-4-12-2-1.5-4-1-2-1.5-1.5-2 0-2 2-4-2.5-6-3-2-5.5-1-6 1-6-1-6 3.5-6 0-2.5 1.5-2 2.5-2 1.5-6-.5-4 3-6 1.5-2 0-6-4-10.5-3.5-2-.5-6 .5-7.5 3.5-5.5 4-11 2.5-2.5 1.5-2.5 4-1.5 1.5-6 3-6 4-4 1.5-2 1.5-1.5 3 .5 2-.5 2-4.5 9-4 3.5-2.5 .5-4-5-2 .5-2.5 1.5-2.5 2-3.5 6-6.5 6-13 16-2 4.5-2 10 0 2 3.5 10 4.5 4 .5 2.5 0 12-.5 4.5-1.5 3.5-2 4 0 2 1.5 4 0 4 2 3 4 2 2 1.5 3 4 4 10 1.5 10 1.5 3.5 14 8.5 11 10.5 7.5 4 18.5 2.5 12 4.5 12 3.5 10 4.5 10 1 4.5 3 6 2 2 1 2 4 7.5 10.5 .5 2 0 2 .5 8 2.5 4 2 8 1.5 2.5 2 .5 4-.5 2 3 1 5 1 1zM445 377l-2.5-1-6.5 .5-4 0-2-.5-1.5-1 1.5-2 2-.5 4-.5 6.5 .5 6-2.5 2 1 1.5 4-1 2-2.5 0zM430.5 366.5l-6.5-2.5-6-.5-2.5-1-.5-6-1-2-2-1.5-2-.5 0-2 6-6.5 2-.5 6 1 2-1 4-4 4-3 2 0 2 3.5 4.5 9.5 2 1 4 1.5 4 4.5 2 1 8 0 8 1.5 2 1 2 2.5-2 1.5-8 1.5-4 2.5-6-1.5-2 0-2 1-2 .5-6-3-6.5 2zM380.5 275.5l-6.5-2-3-2-1.5-2-2-6 0-4 2-6 4-4 6-3 6 0 4 1 4 4 4 6 .5 2 0 4-.5 2-1.5 4-4.5 4-6 2z"/><path fill="#00a0ff" d="M393.5 357l6 .5 2-2.5 2-5.5 2.5-4 1-1 4-2 5-2 8-1 2-2 3-5 3-2 4-1 3 1 3.5 7.5 6 4 2 2.5 2 6 2 1.5 6 0 2-1 2-5.5 2-2.5 6-1.5 2 .5 3.5 8.5 0 2-.5 2 1 2 .5 0 2-2 0-2 1-2 3-3.5 1-2.5-1-2-4-4-1.5-2-1-4 3-8.5 3.5-6.5 3.5-9.5 4-6 1-4 3.5-8 2-11 1-7.5 0-12-1-6.5-2-8-4.5-4-1.5-3-2-7-1-8-2.5-6 .5-6 1.5-6.5-1.5-6-1.5-2-7.5-6-2.5-.5-4-3.5-4-1.5-6-1-6-5.5-2-3-4-8.5-3-5-7.5-8.5-5.5-3.5-1.5-2 0-2 1.5-2-1-2-1.5-.5-4 3.5-2 0-4-3-2-.5-2 1-1 1.5-.5 2 1 2 0 2-1.5 2-2 1-6-2.5-10.5 1.5-12 1-2 0-4-5-2-1-12.5-2.5-6 0-2 1-6 6-4 3.5-6 0-2 .5-3 2.5 0 2-1 1.5-6.5 1-6 3-2 1.5-1.5 3.5-.5 5-2 4-2.5 3-3 8-2 2-11 2-2.5-2-1.5-3-2-2-1 1-2.5 4-7.5 6-11 12.5-3.5 6-.5 2-.5 4-1.5 6 1 2 3 2 1 2 0 6 2.5 6.5-1 24 .5 2 10 12 2 4.5 2.5 8 2 4-1 4-.5 2 1.5 4 2 2 2.5 2 6 1 2.5 1 8.5 8 4 6.5 3.5 2 20.5 4 10 4.5 12 3 12.5 6 8 .5 12 3zM378 275.5l-5-2-4-4-2-6 .5-6 1.5-4 1.5-2 5-3.5 6-2 6 .5 4 2 4 5 2.5 4 .5 2-.5 6-2.5 4.5-4 4-6 2zM344.5 176.5l-1-2 0-2 1.5-1.5 2.5 1.5 1 2-1.5 2-2 .5zM344.5 166.5l-2.5-2.5-1-2 0-2 2-1.5 2-.5 4.5 2 1 2-3.5 3.5-2 1zM501 327l2 1 2 0 2-.5 2-1.5 .5-2 0-4-.5-2-2-2-2 0-2 .5-2.5 1.5-1.5 2 .5 4zM501 191l2 1.5 2-.5 1.5-1.5 0-2-1-2-2.5-.5-1.5 .5-1 2z"/><path fill="#00bcff" d="M383.5 351l4 .5 2 0 4-2.5 4 1 2-.5 2-3.5 2-5.5 2.5-2.5 14-3 4-1.5 4-4 2-1 6.5-2.5 6-2.5 6-1.5 1 2 .5 2-1 6.5 2 6 1.5 3.5 2 2 2 0 4-1 2-1.5 2-3 2-7.5 3-5 5-9.5 5-4.5 4.5-8 2-6 4.5-8 2-6.5 3.5-4 .5-2 1-6-.5-16-2-7-5-5.5-4-14-1-6-4-6-.5-6 .5-6.5-2-4-2-3-4.5-2-6-2-6 .5-2.5-1.5-5-8-2.5-6-2-4-6-4.5-4.5-11-2-3-6-1.5-6 1-6 0-2 1-4 4-2 0-4-3-2.5 .5-2 1.5-2 .5-10-2-8 0-2-2-2-4-2-2.5-6-1-10.5-.5-2 .5-2 1.5-2.5 6 2 6-2.5 6.5 2.5 6-1 4-1 2-3.5 2-4 0-2-1.5-4-7.5-2 0-4 1-2.5-1-2-3.5-2-.5-2 1-4 5-2 3.5-2.5 13.5-1.5 2.5-6 3.5-6-1.5-6.5 .5-4-2-2-.5-2 .5-3.5 3-3 4-9.5 7-2 2.5-2 5-1 12 3 6 0 6 1 2 3 4.5-1.5 16 0 2 .5 2 12 16 3 8.5 2 4 2 1 2-.5 2 .5 2.5 3 1 2 .5 2-1 2 .5 2 1 1 2 1.5 2-.5 1-2 .5-2-.5-2 .5-2 .5-1 2-.5 1 1.5 .5 2-1 2 .5 2 4.5 6-.5 2-2 2-1 2 4 3 5.5 5.5 5 4 3.5 1.5 6.5 1.5 10 4.5 6 1.5 12 4 4 1.5 4.5 1 4 0 1.5-1.5 1.5-2 3-1.5 .5 1.5-.5 1.5-3.5 2.5zM377 275.5l-5.5-3-2-2-2-3-1-6 1-6 2.5-4 5.5-4 4-1.5 4-.5 6 1.5 4 3 4.5 7.5 1 4-1.5 6-2 3.5-2 2-4 2-6 1.5z"/><path fill="#00d8ff" d="M359 340.5l8 1.5 4.5-.5 2-1.5 6-6.5 2-1 2 0 4 3 2-1 2-3 2-.5 4 3.5 2 1 6.5-3 6-.5 8-1.5 6-2 4-4.5 4-2.5 8.5-3 6-1 2.5 .5 2 2 .5 2 1 4-2 6.5 2 5 2 .5 2-1.5 2-2 .5-2-.5-2.5-4-4 1.5-2 4.5-4 .5-2-.5-1-1.5-1 3.5 0 2-.5 6.5-5.5 3.5-4 2-4 0-2-1.5-4 7-6 2-6.5 4.5-6 2-4 0-4-1-4-.5-8-2-6-2.5-4-.5-6.5-1-6-3.5-6-4-10-1.5-10-1-2-4.5-6.5-2-2-2-.5-2 0-2 1.5-2 .5-8.5-3.5-3.5-7.5-3.5-2.5-.5-2 1.5-2-1.5-2-2-2-2-3.5-4.5-11-2-1.5-6-1.5-10 0-2 1.5-2 3-2 1.5-6 0-6.5 3-2-1-8-7-2-.5-6 1-2-1-4-6-2-1-8.5-1.5-6 .5-2 1-.5 1.5 .5 2 6 1 2 1 0 2-2 3-4.5 1.5-1.5 .5-.5 1.5 .5 2 5 2 .5 2-2.5 4-5 3.5-4 3.5-2 .5-4 .5-2-1.5-4-5-2 0-4 1-2.5-.5-2-2-2-.5-2 1.5-2 3-6 16.5-2 3-4 3.5-2 1-6-1.5-6.5 .5-2-1-2-4-2-1.5-3 5.5-2.5 2.5-6 2-3.5 2-3 4-1.5 4-1 10 1 2 4.5 4 0 6 3.5 4 1 2.5-1 6 1.5 12 1 2 3.5 4 2.5 6 6.5 12.5 3 2 6 2 2 0 2-2 2-.5 2 2 5.5 8.5 0 6 2.5 6 0 4 1 2 6.5 6 2.5 1.5 8.5 2 2 1 4 4.5 2 1.5 6 0 4 2.5zM376 275.5l-4-2-2.5-2-2.5-4-1-6 1-6.5 2.5-3.5 2-2 4-2.5 4-1.5 4-.5 6 1.5 4 3 3 4 2 4 1 4-1.5 6-2.5 4-2 2-4.5 2-5.5 1-4 0zM467 267.5l-2.5-2 0-2 1.5-10 2.5-4.5 2-1.5 2-.5 1.5 2.5 1 16-1 2-1.5 .5-2 .5zM442.5 211l-3-2 1-3 6-5.5 2-1.5 2-.5 3 4-.5 2-4.5 5.5-2 1z"/><path fill="#0cf4eb" d="M359 336.5l4 0 4 1.5 2.5-.5 5.5-5 .5-4 1-2.5 3-1 4-.5 6 1 4-.5 6 4.5 6.5-1.5 12 0 6-2.5 4-5.5 3-2 13.5-3.5 10-1 6-2.5 6-1.5 2-1.5 3-4 0-2-1-1.5-4-4.5 1-2 7-4 2.5-7 1-1.5 5-2.5 4-5.5 .5-2-.5-2-3-4 0-6-.5-2-2-6-2.5-4 2.5-4.5 0-2-.5-3.5-3.5-6.5-3.5-20-1.5-2-6-3.5-2 .5-2 1-8 1.5-6 5-2 .5-8.5-1-1.5-2-.5-2 1.5-4.5 3.5-6 .5-2-1-4-2.5-6 1-6-1-3-2-3.5-2-2-4-2-10-3.5-2 0-4 4-2 1-6 .5-2.5 1.5-2 2-2 1.5-2 0-4-2-4-5-2-1.5-6 1-2-1-2-3-2-1.5-4-1-2 0-2.5 2.5-1 3-.5 6-1 6-1.5 1.5-6 1.5-2 1.5-4 6.5-1.5 1-4.5 1.5-2-1-2-4.5-1.5-2-2 0-4.5 4.5-2.5 .5-2 0-2 1-3.5 6-6 8.5-8.5 5.5-2-1.5-2-2-1.5 0-2.5 0-4.5 1.5-2-1-2-1.5-2-.5-2.5 1.5-7.5 4.5-2 2-2 3.5-2 6 0 4 5.5 4 1.5 2-.5 6 2.5 6.5-1 6 .5 2 5 10 3.5 4 1 2 1 6 1 2 6.5 7.5 2 1.5 2-1.5 2-4 2-1 2.5 1.5 2 6.5 3 4 2.5 5 2.5 3 0 2-1 2 0 2 .5 1.5 5.5 4.5 1 2 0 2 1.5 2 6.5 2 10 0 4.5 4 .5 2.5-1 2 6 4.5zM375 275.5l-3.5-2-2-1.5-3-4.5-1-6 .5-4 1-3.5 2-2.5 2.5-2.5 2.5-1.5 5-2.5 4.5-.5 6 1.5 4 3.5 3.5 4 2 4 .5 4-1 6-3 4.5-2 1.5-4 2.5-4 1-4 0zM466.5 269.5l-3.5-2-1.5-2-.5-6 1-8 1.5-4 3-2 4-1 4 0 2 .5 2 2.5-1 4-.5 6 .5 8-.5 2-2.5 2.5-2 1-2 .5z"/><path fill="#23ffd4" d="M367 332l2-1.5-2-1.5-1 1.5zM367 327.5l2.5-.5 8-5.5 4-1 8 1 4-.5 6 2.5 8.5-1.5 10 1.5 2-1 10-7.5 12.5-4 12-1.5 10-4 1.5-1.5-.5-2-4.5-4-1-2 1.5-2 2.5-2 1.5-2 .5-2 .5-4.5-1.5-6 0-4 0-2-7.5-6-.5-2 0-10 1.5-6 1.5-2.5 2.5-1 4-1 5-2 1-2-.5-4 2.5-4 0-2-1.5-8-2.5-4-2-6-2-1.5-2 .5-1 1-1 2 0 2-1.5 4-.5 2.5-.5-2.5-.5-2-3-2-2-.5-4 2.5-2 .5-4-1-6.5-1-2-.5-2-2-1-2 0-2 1.5-6.5 0-4 1.5-4 0-2-5-6 .5-2 2-2 1-2-2-2-8.5-5-6-1.5-2 1-4 3-6 1.5-2.5 1.5-2 2.5-2 1-2 0-4-1-6-6-6-1-6-4-4-1.5-2 .5-4.5 13.5-2 2-6 2-2 2.5-2 4-1 1-7 2-6-1-2 1-7.5 6-8 8.5-6.5 4-5.5 4-1 .5-2-1-2-2-2-1-3.5 3.5-3 1.5-2 0-4-3-6 3.5-2 3.5-.5 4.5 1.5 2 4 4-1.5 6 4.5 6.5-2.5 6 2.5 3 2 .5 2-.5 2 1 1 2 0 12 2 6 3.5 2.5 2-.5 2-1.5 2-.5 6 3 2 0 2-1 2 .5 4.5 3.5 1 2 1 4.5 0 2-3.5 2-.5 2 6 6 0 2-.5 2 .5 2 4 3 4 1.5 2 .5 6-1.5 7.5 2.5 2 2-1 2 .5 2 1 2 2 2 6 .5 3.5 1.5zM374 275.5l-4.5-3-3-5-1-6 .5-4 1-4 4.5-5 6.5-3.5 5.5-.5 6 1 4.5 4 3 4 2.5 4 .5 6-2 6-4.5 4.5-6 2.5-6 1-4-1zM308 261.5l-1.5-2-1-12 1-1.5 2-.5 3 2 .5 4-1.5 8zM294 249.5l-.5-2 .5-1 3 1-1 2z"/><path fill="#39ffbe" d="M365 320.5l2 1 2.5 .5 3-2 2-2 0-2 1-.5 2-.5 10 1.5 6 0 6 1.5 6.5-1.5 2-.5 10 1.5 5.5-3.5 6.5-5.5 10.5-2 12-.5 4.5-2 1-2-2.5-4-.5-2 6-6 .5-2 .5-4.5-1.5-6 .5-6-2-2-6.5-3.5-.5-2.5 1.5-16 1-2.5 2.5-2 1-2-.5-6 .5-6-3.5-3-2 0-2 1.5-2 0-2-2-3-4.5-1-1-6.5-2-2.5-1-2.5-2-2-4-.5-6.5-2.5-6 1-2 2-2 0-2-5-4.5-3-1.5 1-2 3-2 .5-2-3.5-2-4-1-2 1.5-1.5 3.5 .5 2-1 1.5-2 0-6-1.5-6.5 3.5-4 1-2 0-6-7.5-2-1-10-4.5-4 .5-2 1.5-1 2.5-5.5 8.5-6 3-4 4.5-2 1-6 3.5-4 .5-3 1-6.5 6.5-5 6-6 5-2 .5-4 .5-3 2-3 3.5-2-1.5-2-3.5-2-.5-3 2-3.5 4.5-2 1-2-1.5-2 1-.5 1 2.5 1.5 2-1 2 2 2 3.5 .5 4 1 2 1 .5 2 1.5 2-1 2-4 2-1 2 4 2 2 2 1 4 .5 2 2 2.5 13-1.5 12 3 6 4 4.5 4 8 0 2-1.5 2 0 2 3.5 4 3 2 1 2 .5 2.5 2 .5 2-.5 2 .5 6 2.5 10 1.5 3.5 1 1.5 2 0 2-1.5 2zM373.5 275.5l-3.5-2-2-2-2-4-1-6 .5-4 1.5-4 2.5-3.5 2-2 6-3 6-1 6 1.5 5 4 3 4 2 4 1 6-2.5 6-4.5 5-6 2.5-4 .5-4 0zM464.5 232.5l2 .5 2-1.5 2-2.5-.5-2-1.5-2-2-1.5-2 1.5-1.5 4 0 2z"/><path fill="#50ffa7" d="M381.5 312l6 .5 12 0 6.5-2 6 0 6 .5 6-4 8-3 6.5-4 2.5-6 3.5-2.5 4-3.5 2 1 2 2 2 0 2-2 1-5.5-.5-2-2-4 1.5-4-.5-2-1.5-1-2 0-1 1 .5 6-1.5 3-2 .5-2-1.5-.5-2 1-6-.5-6 .5-4 .5-2 2.5-4 .5-2 .5-12.5-1-6-6-4-2-2-4-6-8-4.5-8-9.5-10-8.5-6-1-6.5-.5-8-1.5-2.5-1-1.5-5-6-5-4-4-2-1-2 .5-4 1.5-6.5 10-6 2-1 1-2 2-3 5-10 4-3.5 3.5-10.5 18-1.5 6-2.5 4-.5 2 3 6.5 0 6 1.5 6-.5 12 11 18.5 0 2-1 2 .5 2 2.5 2 11.5 7 6 1 6 .5 6.5 5 6-.5zM379 277.5l-6.5-2-5-4-1-2-1.5-4-.5-4 .5-4 2.5-6 4.5-4 5.5-2.5 4-1 6 0 5.5 3.5 5 6 2.5 6 0 6-3 6-5 4-7 2zM406 195.5l2.5-1-1-2-2 0-.5 2z"/><path fill="#66ff90" d="M377.5 308l4 1 6 1 10-1 14.5-4.5 6 .5 6-3.5 6-2 3-3.5 1-6 1.5-2 2.5-1.5 3.5-1 1.5-2 0-2-.5-1-2-1-2.5 1-2.5-1-2-2 .5-2 1-4 3-6 1.5 2 1 6 2-.5 0-3.5-1.5-2-.5-6 .5-2 5.5-4.5 1-1.5 0-2-.5-4-3.5-6.5-1.5-6-1-2-7-7-10.5-9-8-8-1.5-1.5-4-2-16.5-3-8-.5-4-1-2.5-2.5-.5-2 .5-4-.5-2-1-3-2-1.5-3.5 .5-2.5 1.5-2.5 3.5-2 5-6 2.5-1.5 1.5-2.5 4-2 2-8 2.5-2.5 2-9 18-2 6-4 6 2.5 6.5-.5 6 1.5 6 .5 8 5 14 5 8.5 1.5 4.5 1 1.5 7 4 12 1.5 2 1 4.5 4.5zM377.5 277.5l-6-2.5-2.5-1.5-3-4-1.5-6 0-4 .5-4 2-4 2-2 4.5-3 8-3 6 .5 3.5 1 2.5 2.5 6 8 1 2 .5 4-1 6-4 6-4.5 3-6 1.5-4 0z"/><path fill="#7dff7a" d="M385.5 306l5.5 0 21-6 6 1 10-5 .5-2-1-2 1-2 1.5-1 2-2.5 1.5-3-1-2-2.5-1.5-4-.5-2-1.5 0-1 2-3 2-1 4-5.5 1-2 0-6 2-2 5.5-2 1.5-2 0-4-1.5-6.5-1.5-8-1-1.5-2-1.5-6.5-3-3.5-6-2-2-6-4-4-5.5-2-2-3-.5-15.5-2.5-6 1-6-.5-2-1.5-2-2.5-2-1-4 0-4.5 .5-4 2-6 5-6 1-4 1.5-2 1.5-2 3-4 12.5-1 6-4 6 1.5 6.5-2 6 1.5 6 0 6 2 6 1 6 2 4 3 5 7 7.5 3 1.5 10 3 6.5 3 6 1 6 3zM376.5 277.5l-3-1-4-2.5-4-4.5-1.5-6 0-4 .5-4 2-4 2-2 2.5-2 4-2.5 4.5-1.5 4-.5 6 1 4.5 3.5 6 8 1.5 6-1 6-2 4-2 2-5 3.5-4 1-4 .5-4 0z"/><path fill="#94ff63" d="M385.5 302l4 0 14-3 8.5-2.5 6 .5 2-1 .5-2-2.5-2 0-2 5.5-6.5-1-2-3-2-1-2 5.5-12 0-5 .5-1 1.5-.5 2 0 2-.5 4.5-3 2.5-2 .5-2 0-10.5-1.5-6-10-5-1-1-4-6-5-3.5-4-5-6-2.5-10.5-2-4 .5-4 2-6 .5-6 2.5-6 0-6.5-2.5-6 2.5-6 .5-2 1.5-2 1.5-2 3-2 5-1 8-2.5 6 .5 6.5-2 6 1 12 2 12 2 4 2 3 10 7.5 8 3.5 6.5 3.5zM375 277.5l-3.5-1.5-2-1.5-3-3-1.5-2-1.5-6 0-4 1-4 2.5-5.5 4.5-3.5 4-2 6-2 4 0 2 .5 4 1.5 2 2 7 9 1.5 6-1 6-2 4-5.5 5-8 2.5-6 0z"/><path fill="#aaff4d" d="M387.5 300l8-1.5 8-2 2.5-.5 2.5-2 3.5-6 5-4.5-.5-2-2-2 0-2 4.5-12 .5-6 2-2 2.5-1.5 6-.5 2.5-2 0-2-.5-4 1.5-6.5-1.5-2.5-2-3-6-3-4.5-3.5-4.5-6-5-4.5-4-2-10.5-1.5-2-.5-5 2.5-7 .5-6 1.5-6 .5-6.5-1.5-6 6-6 .5-3 2.5-1.5 2-.5 6-2.5 6-2.5 12.5 0 12 3 12 1 2.5 12 9 12.5 7.5 12 3zM374 277.5l-2.5-1-2-1.5-5-5.5-1.5-8 1.5-8 3-4 6-4 8-3 6 0 4 1.5 2 2 7.5 9.5 .5 2.5 1.5 1.5 0 2 0 2-2 6-7.5 8-2 0-2 1-4 .5-6 0-4-.5z"/><path fill="#c1ff36" d="M385.5 298l4 0 9.5-2 4-2 3-4 3.5-6.5 .5-2-1-2 0-2 3-4.5 2-5.5 .5-8 2-2 3.5-2 2-2-1.5-6 1-2.5 3-2 1.5-2-4-6-6-4.5-6-6.5-4-3-2.5-.5-10-1-6 .5-6 0-6 2-8.5 1-4 1.5-5 4.5-2 2-.5 2-2.5 .5-2 2-4 7-4 11-.5 6 .5 6 .5 2 2.5 4 1 4 1.5 2 6.5 6 14.5 10 10 3.5zM373.5 277.5l-2 0-4.5-4-3-4-1.5-8 1.5-8 2.5-4 7-4.5 8-3 6-.5 4 2 4 4 6 8 0 1 3 3 .5 4-1 4-6 8-4.5 3-6 1-8 0-4-.5z"/><path fill="#d7ff1f" d="M383.5 296l4 .5 4-.5 5.5-2 2-2 3.5-4 .5-2.5-1-6 .5-2 4-6 .5-2-1-1.5-3.5 5.5-2 2-3 2.5-4 2-12 .5-7-1-5-2-2.5-2-3.5-4-1.5-8 0-6 2.5-6 1-2 2.5-2 11.5-5.5 8-1.5 2 1 4 3 8 10.5 6 4.5 .5 3.5 .5-3.5 2.5-2 6.5-4-.5-2-1.5-4 1.5-2.5 2.5-2 1-2-.5-2-3.5-4-2.5-2-6-6.5-4.5-2-12-1.5-10 0-6 3-5.5 1-5 2-2 1.5-1 2.5-5 6.5-2 2-2 0-2 2-5 10-1 6 .5 6 1.5 2 4.5 4 2 6 1.5 2 8 4 6.5 6.5 10 5z"/><path fill="#eeff09" d="M385.5 294.5l2 0 3-.5 5-4 1-2-3-4-1-2.5-17 0-4-1-4.5-2-2-2-2.5-3-1.5-4 0-14 .5-2 1.5-3.5 2-2 12.5-5.5 3.5-1.5 2.5-1.5 4-1 2 1 4 3.5 4 6.5 4 4 4.5 2.5 2 0 .5-.5 2-2 1.5-7.5 3-5-3-6-4-5-4.5-2-4-1-8-.5-10 1-2 1-2 2.5-6 1.5-6.5 2-3 2.5-1.5 2-3.5 6.5-6 7.5-1.5 4.5 0 4 1.5 4 4.5 6 1.5 4 1.5 2 8.5 4 12 10.5z"/><path fill="#ffe600" d="M383.5 290l4 1.5 2.5-1.5 .5-2-2-4.5-5-.5-5 .5 2 4.5zM359 269.5l0-12-1-2-1-1-2.5 3-.5 2 0 4 .5 2 1 2zM406 254l1-.5 4.5-10.5 .5-2-.5-2-1.5-3.5-2-2.5-2-1-2.5-.5-4 0-8 5.5 .5 2 1.5 2 6 10zM361 249l4-2.5 5-1.5 9-4 4.5-4-2-1.5-2-.5-6-.5-4 .5-4.5 1.5-2.5 2.5-1 2-1 6.5z"/><path fill="#ffcc00" d="M403.5 252l2.5-.5 4-8.5 .5-2-1.5-4-1-1.5-2-1.5-2.5 0-5.5 3-2 2-.5 2 2.5 6.5 1.5 2zM365 245l4.5-.5 4.5-1.5 3.5-2 1.5-2 .5-2-2-1-4-.5-4 .5-2.5 1-2.5 2-1 2 0 2z"/><path fill="#ffb200" d="M401.5 250l2 .5 2-1 3-6.5 0-4-1-2-1.5-1-2.5 0-2 .5-3 2.5-1.5 2 0 2 2 4.5zM367 243.5l4.5-.5 4.5-2 1-2-1-2-4.5 0-4.5 1.5-1 .5-1 2 .5 2z"/><path fill="#ff9800" d="M403.5 249.5l3-4.5 1-4-.5-2-1-1-2.5-.5-4 2.5-1 1-.5 2 2 4.5 1.5 1zM367 241.5l2.5 1 2-.5 2-1 1.5-2-1.5-1-2 0-2 .5-2.5 2 0 .5z"/><path fill="#ff7e00" d="M401.5 247.5l2 0 3-4.5 0-2-.5-1-2.5-1-3 2-1.5 2 1 2z"/><path fill="#ff6400" d="M401.5 246l2-.5 1-2.5-1-2-2 1-.5 1z"/></g><path d="M99.5 86l8.5 0 2 3-6 2 6 3-4 4 4 5-6 3 7 4-1 6-5 3 5 5-4 5-4 4-2.5-2zM207.5 46.5l5-5 3.5 7.5 9.5 6 1 5-1.5 7.5-5.5-7.5-6-8zM304 148l1.5 2-.5 8 1 6-2 7-5-1-3.5-6 3.5-3 3.5-3zM266 220l3 2 2 5-1 4-2-5zM178.5 436.5l4.5-5.5 6-3 5 2 2 7-3.5 0-.5-4-4-2-4 3-3 3zM545 33l8 0 4 4-1 5-3 2 2 6-4 0-3-6-3-2 1-4zM284 203.5l-4.5 1-2.5 1-3-1-.5-2.5-3-3 5 0 3.5-.5 2.5 2zM494.5 71l-2 2.5-6 2.5-7-3 4-4.5-.5-4 6.5 .5 6 .5 3.5 3.5zM516.5 76l-.5 1.5-1.5 .5-.5-1-3-1 3-1.5 0-2.5 1.5 1 2 1zM546.5 73l-1 3.5-4 1-2-3 0-1.5-2.5-2 2-2.5 3.5 1 3.5 1zM498 130l-3 1.5-3.5-.5-3.5-2 3-2-.5-2.5 3-.5 3.5 1-.5 2.5zM393.5 64l-.5 1-1.5 1-2 .5-1-.5 1.5-1.5 0-1 2-.5 2.5-.5zM379 79.5l-2.5-1-2-1-2.5-1 0-1.5 1.5 0 2 1 1 .5 2 1.5zM313.5 122l0 1.5-1 1-1.5-1-.5-1-1.5-1 0-3 2.5-.5 2.5 1zM315.5 136.5l-1 1-1.5 0-2.5 0 0-1.5 1-1.5 2-.5 1.5 1 2.5 .5zM583 419l-.5 4-4-.5-3-2 1-3 0-2.5 2.5 0 2.5-.5 4.5 1zM254.5 235l-.5 1.5-2-1-1 .5-.5-.5 0-1 1-1 2 0 1 .5zM269.5 230l-.5 .5-1 1-.5-1.5-.5-.5 .5-1 .5-.5 1 .5 .5 .5zM150 205.5l.5 2-1 .5-1-.5-1-1 1-1.5 0-2 1 1.5 .5-.5zM116.8 46.3h1.5v1.5h-1.5zM119.8 45.3h1.5v1.5h-1.5zM131.3 52.3h1.5v1.5h-1.5zM139.3 57.3h1.5v1.5h-1.5zM148.3 45.3h1.5v1.5h-1.5zM148.3 47.8h1.5v1.5h-1.5zM147.9 50.3h1.5v1.5h-1.5zM119.3 63.3h1.5v1.5h-1.5zM120.8 64.8h1.5v1.5h-1.5zM115.3 77.3h1.5v1.5h-1.5zM362.9 98.1h1.5v1.5h-1.5zM497.7 99.7h1.5v1.5h-1.5zM575.1 74.3h1.5v1.5h-1.5zM575.1 76.8h1.5v1.5h-1.5zM584.3 67.7h1.5v1.5h-1.5zM584.3 98.9h1.5v1.5h-1.5zM569.3 191.3h1.5v1.5h-1.5zM105.3 390.7h1.5v1.5h-1.5zM107.8 397.1h1.5v1.5h-1.5zM190.3 416h1.5v1.5h-1.5zM192.8 419.3h1.5v1.5h-1.5zM208 417.7h1.5v1.5h-1.5zM252.7 405h1.5v1.5h-1.5zM284.7 371.3h1.5v1.5h-1.5zM313.3 398.3h1.5v1.5h-1.5zM314.8 399.3h1.5v1.5h-1.5zM322.6 395.8h1.5v1.5h-1.5zM330.1 394.9h1.5v1.5h-1.5zM331.3 395.8h1.5v1.5h-1.5zM308.3 432h1.5v1.5h-1.5zM309.3 433.3h1.5v1.5h-1.5zM428.6 433.7h1.5v1.5h-1.5zM497.3 67.3h1.5v1.5h-1.5zM485.3 73.3h1.5v1.5h-1.5zM493.3 75.3h1.5v1.5h-1.5z" fill="#fff"/><path d="M97.5 308l4-1 1.5 0 2-1 3.5-3 3.5 0 1.5-2 3.5-1 2.5-1 3.5 1.5 2.5-1 3 1.5 2 .5 3-4 2.5-.5 3-1.5 .5-1 2 1 2.5 0 3-.5 5-3.5-.5-3-.5-4-1.5-3.5 5 .5 1.5 2 2 3.5 2 0 2.5-.5 1 2 3 2 1-5.5 2-.5 3-2 3.5-.5 3.5-1.5 4 0 2 1.5 4-1 1.5 1 3-3 4 1.5 3-2.5 3-1 3 .5 4-1.5 1.5-2 1.5-3 2-2.5 5-1.5 1-3 3-1.5 3-2.5 2.5-.5 3.5-.5 2-2 1-2 3.5-2.5 .5-3 3.5-2.5 3-1 2.5-2 3.5 0 2-.5 2-2.5 1.5-2.5 .5-2.5 2-1.5 1.5-4 3-1 1-.5 3.5-1.5 3-2-1-3 .5-3 0-3.5 1.5-3.5 1-.5 2-2.5 .5-3 4-2.5 .5-3 4-4.5 1-1 1.5-3.5 1.5-4 2-2.5 2.5-2.5 1-3.5 3.5-2.5 0-3.5 3.5-1.5 3.5-.5 3-4 2.5 0 1.5-2.5 1-5 1.5-3.5 0-.5 2-4 4-3-1.5-3 .5-5.5 1.5-2-2.5-1-3-2-3-1-2-1-3-1.5-4-1-3-1-3 1-3.5-1.5-4 .5-1.5-1.5-3 .5 3-2 4-1 2.5-.5 3.5-2.5 1-.5 3.5-2.5 3.5 0 2.5-2 3.5 0 1.5-1.5 3 0 1.5-3 1.5-3.5-2.5-4.5-1.5-1.5-1.5-1.5-5.5-2 0-1.5-4.5-1.5-3-.5-2.5 0-3-2.5-3 .5-4-1.5-4 1-1.5-2 1.5 .5 5-.5 2.5-1 1.5 1 4 0 4-.5 1.5 2.5 4.5-.5 3 .5 2 1.5 1 1.5 4.5 1-3-1.5-3-4.5-2-1.5-1-1.5-4.5-3 .5-2.5-5-1.5 0-3-1.5-4.5 0-2-3-2 .5-4-2.5-3-1.5-3.5-1-3.5-1.5-3.5-2-2-.5-3-4.5-1.5-2.5-1-1-.5-2-2-1.5 .5-4.5-5-2.5 0-4-1.5 .5-3.5 .5-1-1.5-3.5-.5-3.5M302.5 235l2.5-1 2.5-3.5 3.5-1 2.5 .5 2.5 0 1.5 3.5 4 1 0 2.5-1.5 2.5-2 3 .5 3.5-1 3-1.5 4-2 2-1.5 4.5 .5 2.5 .5 4-2.5 3-1 3-1 1-.5 3-2 3-1.5 3.5-2.5 1-.5 5.5-1 2-.5 1.5-1.5 4.5-1-2.5-2.5-2.5-1-2-2-2.5-2.5-1-2-2.5-1-4.5-1-2.5-2-3.5 0-2.5 2.5-5-1-2.5 1.5-2 1.5-5.5 0-1 1.5-2 1-1.5 3.5-5.5 2-3 .5-3.5 4-1 1.5-3.5M289 415.5l0-3.5 0-3.5-1-3 0-3 2.5-4.5 0-3.5 1-1.5-.5-3.5 .5-4 0-3 .5-3 .5-2.5 1.5-4.5-1.5-2 2.5-4 1 0 5-2.5 1.5 .5 2 1.5 3 1 5 1 1.5-.5 2.5 1 5 2 .5-2 2.5-.5 2.5-.5 .5 1.5 1 4.5 1 1-1.5 4-1 3.5-2 2.5 2.5 2.5 2.5 4-.5 3 2 3 0 2-3.5 4 .5 2.5-.5 3-1 2.5-3.5 1-4 3-1.5-.5-4 3 1.5 2.5-.5 3 1.5 4.5-1.5 3.5-1.5 3-2 3-1 3M279 410.5l4 5-5 4 3 12 2 10M479 71l.5-3 2.5-1.5 1-4 3-1 5 0 2.5-1.5 1.5-.5 4.5-1.5 1-1 2.5-2 1.5 2 3 4 4.5-.5 1.5-.5 1.5-.5 4.5 1 2 4.5 .5 2.5 1.5 2 .5 3 0 2.5 1 2-1 3-2.5 3-1.5 1.5-1 4.5-2.5 2.5-1 4-.5 2-1 2.5-2.5 1.5-2.5 2.5-2 4-2.5 2.5-3.5 .5-2 3-.5-3.5-1-3-3 1-3.5-1-1.5 0 .5-4 1.5-5-2-2.5 2-2.5-1.5-4 0-1.5-1.5-3.5 2.5-1 3.5-2 2.5-3-2.5-1.5-3 0-3-2.5-1.5 2.5-4-1.5-2 4 0-3.5-2-2.5 0-2.5M527.5 67l2.5-3 2.5-3 2.5-1.5 2-2 3-3.5 3.5 0 2-.5 3.5-1.5 2.5-3 4.5 1 2-3 3-1 3.5 2.5 2-1 3.5 .5 5.5-.5 2.5 2 1 1-.5 2 2 4-2 3.5-4 1.5-1.5 3-3 1.5-2.5 0-5.5 0-.5 1.5-4-3-1 1-5-1-2 4.5-1 1.5-1.5 5-1.5 2-3-1-4 0-2-1.5-3.5-3-1.5-1-2-2-2-2M503 53l2-8 12.5-6.5 12-10M504 54l4-.5 3 .5 3.5-1.5 4.5 0 2-.5 3-1.5 2-.5 3-1 2.5-2.5 3.5 0 4 .5 3 .5 4-1 1.5-.5 4-1 2.5-2 3 0 3-1.5 2.5-.5 3.5-1.5 3.5 1 3.5-1 2-.5 4-1 2 1.5 4 0 1.5-1 3.5 1M404 26.5l1.5 3 .5 3 3 2.5 1 4.5-1 1-1.5 2.5-1.5 3.5 4-2 1.5 3 2-1.5 4.5-1.5 1.5 0 1.5-.5 3.5-1 4.5-1.5 1-1.5 3.5-1.5 2-3.5 2 1 4-1 2.5 .5 3-.5 3.5 1 4-2 2 0 3.5-2 3-.5 1.5-3.5 3.5-1M423.5 64l-1.5-1.5-3.5-.5-4 0-4 1-3 1.5-1 2 1.5 1.5 3 1 4.5 0 4-1 3-2 1-2M437 213l3.5-7.5 9-8-6 8-6.5 7.5M477.5 164.5l-2.5 0-3.5 2-3 3.5-.5 2 2.5 0 3.5-2 3-3.5 .5-2M391.5 238l-1.5-.5-2 1.5-.5 1.5 1.5 0 2-1 .5-1.5M367 246.5l-2-1-4 .5-2 2 2.5 1 4-.5 1.5-2M506.5 122l0-5-1 0-1.5 4.5-.5 4.5 1.5 .5 1.5-4.5M497.5 127l-1-2.5-3 0-1 2.5 1 2 3 0 1-2M462.5 78.5l3-5.5-2-1.5-5 4-3 5.5 2 1.5 5-4M472.5 45.5l1.5-6-1.5-.5-3.5 5-2 6 2 .5 3.5-5M330 130.5l-2-1-3.5 1.5-1.5 2 2.5 1 3.5-1 1-2.5M320.5 102.5l-2.5-2-6-1.5-3.5 .5 2.5 2 6 1.5 3.5-.5M97.5 338.5l3 5-3 5M322.5 350.5l-1.5-1.5-2 .5 0 2 2 .5 1.5-1.5M413 42.5l-2-1.5-3.5 .5 0 2.5 3.5 .5 2-2M424.5 47l-1.5-2-3 1 0 1.5 3 1 1.5-1.5M437 43.5l-2-1.5-3.5 1 0 1.5 3.5 1 2-2M459 35.5l-2-2-2.5 1 0 2.5 2.5 .5 2-2M444.5 37.5l-1.5-1.5-2.5 .5 0 2 2.5 .5 1.5-1.5" fill="none" stroke="#000" stroke-opacity=".8" stroke-width=".75" stroke-linejoin="round"/><path d="M110 41h467M110 51h467M110 60.5h467M110 70.5h467M110 80h467M110 90h467M110 100h467M110 109.5h467M110 119.5h467M110 129h467M110 139h467M110 148.5h467M110 158.5h467M110 168h467M110 178h467M110 187.5h467M110 197.5h467M110 207h467M110 217h467M110 226.5h467M110 236.5h467M110 246h467M110 256h467M110 265.5h467M110 275.5h467M110 285h467M110 295h467M110 304.5h467M110 314.5h467M110 324h467M110 334h467M110 344h467M110 353.5h467M110 363.5h467M110 373h467M110 383h467M110 392.5h467M110 402.5h467M110 412h467M110 422h467M110 431.5h467" stroke="#00001c" stroke-width="1.45" stroke-linecap="round" stroke-dasharray="0 10.37" fill="none" opacity=".7"/><path d="M348.5 139l-1 .5M358.5 139l-1 .5M369 139l-1 .5M390 139l-.5 0M400 139l-1 0M410.5 139l-1.5 0M421 139l-2-.5M431.5 139l-2-.5M441.5 139l-1-.5M327.5 148.5l-.5 .5M338 148.5l-1 .5M348.5 148.5l-1.5 1M358.5 148.5l-2.5 1M369 148.5l-2.5 .5M379.5 148.5l-2 .5M390 148.5l-1.5 0M400 148.5l-2 0M410.5 148.5l-2 0M421 148.5l-2-.5M431.5 148.5l-2-.5M441.5 148.5l-1-.5M452 148.5l-.5-.5M317 158.5l-.5 .5M327.5 158.5l-1.5 1M338 158.5l-2 1M348.5 158.5l-2 1M358.5 158.5l-3 1M369 158.5l-3.5 1M379.5 158.5l-3 .5M390 158.5l-3 0M400 158.5l-2.5 0M410.5 158.5l-2.5-.5M421 158.5l-3-.5M431.5 158.5l-3-1M441.5 158.5l-2-1M452 158.5l-1-.5M307 168l-1 1M317 168l-1.5 1.5M327.5 168l-2 1.5M338 168l-2 1.5M348.5 168l-2 1M358.5 168l-3 1.5M369 168l-4 1M379.5 168l-4 .5M390 168l-3.5 0M400 168l-3 0M410.5 168l-3.5-.5M421 168l-4-1M431.5 168l-3.5-1.5M441.5 168l-2.5-1M452 168l-1.5-1M462.5 168l-.5-.5M296.5 178l-.5 .5M307 178l-1 1M317 178l-1.5 1.5M327.5 178l-2.5 2M338 178l-2.5 2M348.5 178l-2 1M358.5 178l-3 1.5M369 178l-5 1.5M379.5 178l-5 1M390 178l-4.5 0M400 178l-4-.5M410.5 178l-4.5-1M421 178l-5-1.5M431.5 178l-4-1.5M441.5 178l-3-1.5M452 178l-2-1.5M462.5 178l-1-1M473 178l-.5-.5M493.5 178l-.5-.5M504 178l-1-1M286 187.5l-1 1.5M296.5 187.5l-1 1.5M307 187.5l-1 1.5M317 187.5l-2 2M327.5 187.5l-2.5 2.5M338 187.5l-3 2.5M348.5 187.5l-3 2M358.5 187.5l-4 2M369 187.5l-6 2M379.5 187.5l-6 1M390 187.5l-5.5 0M400 187.5l-5-.5M410.5 187.5l-5-1M421 187.5l-5-1.5M431.5 187.5l-4-2M441.5 187.5l-3-2M452 187.5l-2.5-1.5M462.5 187.5l-2-1.5M473 187.5l-1.5-1.5M483 187.5l-1-1M493.5 187.5l-1-1.5M504 187.5l-1.5-1.5M514 187.5l-1-1M275.5 197.5l-.5 1.5M286 197.5l-1 2.5M296.5 197.5l-1.5 2.5M307 197.5l-1.5 2M317 197.5l-2 2.5M327.5 197.5l-2.5 3M338 197.5l-3.5 3M348.5 197.5l-4 3M358.5 197.5l-5.5 3M369 197.5l-6 2M379.5 197.5l-6 1M390 197.5l-5.5 0M400 197.5l-5.5-.5M410.5 197.5l-5.5-1.5M421 197.5l-5-2M431.5 197.5l-4-2.5M441.5 197.5l-3-2M452 197.5l-2.5-2M462.5 197.5l-2.5-2M473 197.5l-2-2M483 197.5l-1.5-1.5M493.5 197.5l-1-1M504 197.5l-1-1.5M514 197.5l-.5-1M265.5 207l-.5 1M275.5 207l-1 2.5M286 207l-1.5 3.5M296.5 207l-1.5 3M307 207l-1.5 3M317 207l-2 3.5M327.5 207l-3 3.5M338 207l-3.5 4M348.5 207l-4.5 4M358.5 207l-6 3.5M369 207l-6.5 2.5M379.5 207l-7 1.5M390 207l-7 0M400 207l-6.5-1M410.5 207l-6-2M421 207l-5-2.5M431.5 207l-4-2.5M441.5 207l-2.5-2M452 207l-2.5-2.5M462.5 207l-2.5-3M473 207l-2.5-3M483 207l-1.5-2M493.5 207l-.5-1M504 207l-.5-.5M514 207l-.5-1M265.5 217l-.5 2M275.5 217l-1 3.5M286 217l-1.5 4M296.5 217l-1.5 4M307 217l-1.5 4M317 217l-2 4.5M327.5 217l-2.5 4.5M338 217l-3.5 5M348.5 217l-5 5.5M358.5 217l-6 4.5M369 217l-7 3M379.5 217l-8 1.5M390 217l-8 0M400 217l-8-2M410.5 217l-7-3.5M421 217l-5.5-3.5M431.5 217l-4-3.5M441.5 217l-3.5-3.5M452 217l-3-3.5M462.5 217l-2.5-3.5M473 217l-2.5-3.5M483 217l-1.5-2M493.5 217l-.5-.5M514 217l-.5-1M255 226.5l0 .5M265.5 226.5l-.5 2.5M275.5 226.5l-.5 4M286 226.5l-1 4.5M296.5 226.5l-1 5M307 226.5l-1.5 5M317 226.5l-2 5M327.5 226.5l-2.5 5M338 226.5l-3.5 6M348.5 226.5l-5 6.5M358.5 226.5l-6.5 5.5M369 226.5l-8 4.5M379.5 226.5l-9.5 2M390 226.5l-10-.5M400 226.5l-9.5-3M410.5 226.5l-7.5-4.5M421 226.5l-6-5M431.5 226.5l-4.5-4.5M441.5 226.5l-3.5-4.5M452 226.5l-3-4M462.5 226.5l-2.5-4M473 226.5l-2.5-4M483 226.5l-1.5-2.5M493.5 226.5l-.5-1M514 226.5l-.5-1M524.5 226.5l-.5-1M255 236.5l0 .5M265.5 236.5l0 2M275.5 236.5l-.5 3.5M286 236.5l-.5 4.5M296.5 236.5l-.5 5M307 236.5l-1 5M317 236.5l-1 5.5M327.5 236.5l-1.5 6M338 236.5l-2.5 6.5M348.5 236.5l-4 7.5M358.5 236.5l-6 7M369 236.5l-9 6.5M379.5 236.5l-10.5 2.5M390 236.5l-10-1.5M400 236.5l-10-5M410.5 236.5l-8-7M421 236.5l-6-7M431.5 236.5l-4.5-6.5M441.5 236.5l-3.5-5.5M452 236.5l-2.5-5M462.5 236.5l-2-4.5M473 236.5l-2-4M483 236.5l-1.5-3.5M493.5 236.5l-.5-1.5M524.5 236.5l-.5-1M265.5 246l0 1.5M275.5 246l0 3M286 246l0 4.5M296.5 246l0 4.5M307 246l-.5 4.5M317 246l-.5 5M327.5 246l-1 6M338 246l-1.5 7M348.5 246l-2.5 9M358.5 246l-4.5 9M369 246l-6.5 7.5M379.5 246l-2 .5M390 246l-3.5-1M400 246l-9.5-8.5M410.5 246l-6-8.5M421 246l-4.5-7.5M431.5 246l-3.5-7.5M441.5 246l-2.5-6.5M452 246l-2-5M462.5 246l-1.5-4M473 246l-1-3.5M483 246l-1-3.5M493.5 246l-.5-2.5M265.5 256l0 1.5M275.5 256l.5 3M286 256l.5 4M296.5 256l.5 4.5M307 256l.5 4.5M317 256l.5 4.5M327.5 256l0 6M338 256l0 7.5M348.5 256l0 9.5M358.5 256l-1 10.5M369 256l0 .5M400 256l-3-6M410.5 256l-3-9M421 256l-2.5-8M431.5 256l-2-7.5M441.5 256l-1.5-6.5M452 256l-1-5M462.5 256l-1-3.5M473 256l-.5-3M483 256l-.5-4M493.5 256l-.5-3M504 256l0-1M265.5 265.5l.5 1.5M275.5 265.5l.5 3M286 265.5l.5 4M296.5 265.5l1 4.5M307 265.5l1 4.5M317 265.5l1 5M327.5 265.5l1.5 5.5M338 265.5l1.5 7M348.5 265.5l2.5 9.5M358.5 265.5l3.5 10M400 265.5l.5-5.5M410.5 265.5l0-9M421 265.5l0-8M431.5 265.5l-.5-7M441.5 265.5l-.5-6M452 265.5l-.5-5M462.5 265.5l-.5-4M473 265.5l-.5-3M483 265.5l-.5-4M493.5 265.5l-.5-3M504 265.5l0-1M265.5 275.5l.5 1.5M275.5 275.5l.5 2.5M286 275.5l1 3M296.5 275.5l1.5 4M307 275.5l1.5 4.5M317 275.5l1.5 4.5M327.5 275.5l2 5M338 275.5l3 6.5M348.5 275.5l4.5 7.5M358.5 275.5l6.5 8M369 275.5l7 5M379.5 275.5l1.5 0M390 275.5l3-2M400 275.5l4.5-8M410.5 275.5l2.5-8M421 275.5l1.5-7M431.5 275.5l1-6.5M441.5 275.5l.5-6M452 275.5l.5-5.5M462.5 275.5l0-5M473 275.5l0-4M483 275.5l0-4M493.5 275.5l0-3M504 275.5l0-1M265.5 285l.5 1.5M275.5 285l.5 2M286 285l1 2.5M296.5 285l1.5 3.5M307 285l1.5 3.5M317 285l2 3.5M327.5 285l2.5 4M338 285l3.5 5M348.5 285l5.5 5.5M358.5 285l7 5.5M369 285l9 3.5M379.5 285l10.5 0M390 285l9.5-4.5M400 285l6.5-6.5M410.5 285l4.5-7M421 285l3-7M431.5 285l2-6.5M441.5 285l1.5-6M452 285l1-6M462.5 285l.5-5M473 285l.5-4M483 285l.5-3.5M493.5 285l0-2.5M504 285l0-.5M275.5 295l.5 1.5M286 295l1 2M296.5 295l1.5 2.5M307 295l1.5 2.5M317 295l2.5 3M327.5 295l3 3.5M338 295l4 4M348.5 295l5.5 4M358.5 295l6.5 3.5M369 295l8 2M379.5 295l9.5-.5M390 295l9-3.5M400 295l7-5M410.5 295l5-6M421 295l4-6M431.5 295l3-6M441.5 295l2-5M452 295l1.5-5M462.5 295l1-4M473 295l1-3.5M483 295l.5-3M493.5 295l.5-2M504 295l0-1M275.5 304.5l.5 1M286 304.5l1 2M296.5 304.5l1.5 2M307 304.5l1.5 2M317 304.5l2.5 2.5M327.5 304.5l3 3M338 304.5l4 3M348.5 304.5l5 3M358.5 304.5l5.5 2M369 304.5l6.5 1M379.5 304.5l7-.5M390 304.5l6.5-2M400 304.5l6-3.5M410.5 304.5l5-4M421 304.5l4-4.5M431.5 304.5l3-4.5M441.5 304.5l2.5-4.5M452 304.5l2-5M462.5 304.5l1.5-4.5M473 304.5l1-3.5M483 304.5l.5-2.5M493.5 304.5l.5-2M504 304.5l0-1M275.5 314.5l.5 1M286 314.5l1 1.5M296.5 314.5l1.5 2M307 314.5l1.5 1.5M317 314.5l2.5 2M327.5 314.5l3 2.5M338 314.5l3.5 2.5M348.5 314.5l4 2M358.5 314.5l4.5 1.5M369 314.5l5.5 .5M379.5 314.5l5-.5M390 314.5l5-1.5M400 314.5l5-2.5M410.5 314.5l4.5-3M421 314.5l4-3.5M431.5 314.5l3-3.5M441.5 314.5l2-3.5M452 314.5l2-3.5M462.5 314.5l1.5-3M473 314.5l1-2.5M483 314.5l1-2M493.5 314.5l.5-1.5M504 314.5l.5-2M514 314.5l0-1M234 324l.5 .5M244.5 324l.5 .5M275.5 324l.5 1M286 324l.5 .5M296.5 324l1 1M307 324l1.5 1.5M317 324l2 1.5M327.5 324l3 2M338 324l3.5 1.5M348.5 324l3.5 1.5M358.5 324l4.5 1M369 324l4.5 .5M379.5 324l4-.5M390 324l4-1M400 324l4-2M410.5 324l3.5-2.5M421 324l3.5-2.5M431.5 324l2-2.5M441.5 324l1.5-2M452 324l1.5-2.5M462.5 324l1.5-2.5M473 324l1-2.5M483 324l1-2M493.5 324l.5-1.5M504 324l1-2.5M514 324l.5-1M296.5 334l.5 .5M307 334l1 1M317 334l2 1M327.5 334l2.5 1.5M338 334l3 1M348.5 334l3.5 1M358.5 334l4 .5M369 334l4.5 0M379.5 334l3-.5M390 334l3-1M400 334l3-1.5M410.5 334l2.5-1.5M421 334l2.5-1.5M431.5 334l1.5-1M441.5 334l1.5-1.5M452 334l2-2.5M462.5 334l2-2.5M473 334l1-2M483 334l1-1.5M493.5 334l.5-1M504 334l.5-1.5M317 344l.5 .5M327.5 344l.5 .5M338 344l1 .5M348.5 344l2 .5M358.5 344l2.5 .5M369 344l3 0M379.5 344l2.5-.5M390 344l3-.5M400 344l3-1M410.5 344l2-1M421 344l1.5-1M431.5 344l1-.5M441.5 344l1-1M452 344l1.5-2M462.5 344l1.5-2M473 344l1-1.5M483 344l1-2M493.5 344l1-1.5M504 344l.5-1M369 353.5l1.5 0M379.5 353.5l2 0M390 353.5l2.5-.5M400 353.5l2-1M410.5 353.5l1.5-.5M421 353.5l1-.5M431.5 353.5l.5-.5M441.5 353.5l1-1M452 353.5l1-1M462.5 353.5l1-1.5M473 353.5l1-1.5M483 353.5l1-1.5M493.5 353.5l.5-1M379.5 363.5l.5 0M390 363.5l1.5-.5M400 363.5l2-.5M410.5 363.5l1.5-.5M421 363.5l1.5-.5M431.5 363.5l1-.5M441.5 363.5l1-1M452 363.5l1-1M462.5 363.5l1-1M473 363.5l1-1M483 363.5l.5-1M390 373l1 0M400 373l1.5-.5M410.5 373l2-.5M421 373l1.5-1M431.5 373l1.5-1M441.5 373l1-1M452 373l1-1M462.5 373l1-1M473 373l1-1M390 383l1 0M400 383l1.5-.5M410.5 383l1.5-.5M421 383l1.5-1M431.5 383l1.5-1M441.5 383l1.5-1M452 383l1.5-1M462.5 383l1-1M400 392.5l1-.5M410.5 392.5l1.5-.5M421 392.5l1.5-.5M431.5 392.5l1.5-1M441.5 392.5l1.5-1M452 392.5l1-1M400 402.5l.5 0M410.5 402.5l1.5-.5M421 402.5l1.5-.5M431.5 402.5l1-.5M441.5 402.5l1-.5M452 402.5l.5-.5M410.5 412l1-.5M421 412l1.5-.5" stroke="#000" stroke-width="1.25" fill="none"/><path d="M442 40l-2.5 .5 2.5 1.5zM264.5 69.5l-1.5 2.5 2.5-1zM181.5 79.5l-.5 2.5 2-1.5zM192 79.5l-.5 2.5 2.5-1.5zM212.5 79.5l-1 2.5 2.5-1.5zM233.5 79.5l-1 2.5 2.5-1zM244 79.5l-1 2.5 2.5-1zM254.5 79.5l-1 2.5 2.5-1zM264.5 79.5l-1.5 2.5 2.5-1zM358.5 79.5l-2 1.5 2.5 .5zM181.5 89.5l-.5 2.5 2.5-1.5zM192 89.5l-.5 3 2.5-1.5zM202.5 89.5l-.5 2.5 2.5-1.5zM223 89.5l-1 2.5 2.5-1.5zM233.5 89.5l-1 2.5 2.5-1.5zM244 89.5l-1 2.5 2.5-1zM254.5 89.5l-1 2.5 2.5-1zM264.5 89l-1 2.5 2.5-1zM337.5 89l-2 2 2.5 0zM181.5 99l-.5 2.5 2-1.5zM192 99l-.5 3 2.5-2zM223 99l-1 3 2.5-1.5zM233.5 99l-1 3 2.5-1.5zM316.5 99l-1.5 2 2.5-.5zM327 98.5l-2 2.5 3-.5zM337.5 98.5l-2 2 3 0zM192 109l-.5 2.5 2-1.5zM223 109l-.5 3 2.5-1.5zM233.5 109l-1 3 2.5-1.5zM421 108.5l-2.5 .5 2.5 1.5zM431.5 108.5l-3 .5 2.5 1.5zM504.5 108.5l-2.5-.5 1.5 2zM567 109l-2.5-1 1 2.5zM577 108.5l-3-1 1.5 3zM223 118.5l-.5 3 2.5-1.5zM233.5 118.5l-1 3 2.5-1.5zM337.5 118.5l-2 2 2.5 0zM348 118.5l-2 2 3 0zM358.5 118.5l-2 2 3 0zM369 118l-2.5 1.5 3 .5zM400 118l-2.5 1 2.5 1zM410.5 118l-3 1 3 1.5zM421 118l-3.5 1 3 2zM431.5 118l-3.5 .5 3 2zM442 118l-3 .5 2.5 2zM452.5 118.5l-2.5 0 2 1.5zM504.5 118.5l-2.5-.5 1.5 2zM515 118.5l-3-.5 1.5 2.5zM567 118.5l-3-1.5 1.5 3zM577.5 118.5l-3-1.5 1.5 3zM212.5 128.5l-.5 2.5 2-1.5zM223 128.5l-.5 3 2.5-2zM233.5 128.5l-.5 3 2.5-1.5zM337.5 128l-2.5 2.5 3.5-.5zM348 128l-3 2.5 4 0zM358.5 128l-3 2.5 3.5 0zM368.5 128l-3 2 3.5 .5zM379 128l-3 1.5 3 .5zM389.5 128l-3 1.5 3 1zM400 127.5l-3.5 1.5 3.5 1.5zM410.5 127.5l-4.5 1.5 4 2zM421 127.5l-4.5 1 4 2.5zM431.5 127.5l-4.5 .5 4 2.5zM442 127.5l-4 .5 3.5 2.5zM452.5 127.5l-4 0 3 2.5zM463 128l-3.5 0 2.5 2.5zM473 128l-3 0 2 2zM515 128l-3-1 1.5 3zM525.5 128l-2.5-1 1.5 2.5zM567 128.5l-2.5-1 1 2.5zM577 128.5l-2.5-1 1 2.5zM212.5 138.5l-.5 2.5 2-2zM327 137.5l-2 3 3.5-.5zM337 137.5l-3 3.5 4.5-.5zM347.5 137.5l-3.5 3 5-.5zM357.5 137.5l-3.5 3 5 0zM368 137.5l-4 2.5 5 .5zM379 137l-4 2.5 4.5 1zM389.5 137l-4.5 2 4.5 1zM400 137l-4.5 1.5 4.5 1.5zM409.5 137l-4.5 1 4.5 2zM420 137l-4.5 1 4 2.5zM430.5 137l-4.5 .5 4 2.5zM441.5 137l-5 0 4 3zM452.5 137.5l-4.5 0 3.5 3zM463 137.5l-3.5-.5 2.5 2.5zM473.5 137.5l-3.5-.5 2 2.5zM483.5 138l-3-.5 2 2.5zM494 138l-2.5-.5 1.5 2zM515 138l-3.5-1 1.5 3zM525.5 138l-3-1 1.5 2.5zM212.5 148l0 2.5 2-2zM306 147.5l-1.5 2.5 3-1zM316.5 147.5l-2 3.5 3.5-1zM326.5 147.5l-3 4 4.5-1zM336.5 147.5l-3 3.5 4.5-1zM346.5 147.5l-3.5 3.5 5-.5zM356 148l-3.5 3 5 0zM366.5 147.5l-4 2.5 5 .5zM378 147l-4 2.5 4.5 1zM388.5 147l-4.5 2 4.5 1.5zM399 147l-4.5 1.5 4.5 1.5zM409.5 147l-4.5 1 4.5 2zM419.5 146.5l-4.5 .5 4 2.5zM430 146.5l-5 .5 4 2.5zM441.5 147l-5 0 3.5 3zM452.5 147l-5-.5 3.5 3.5zM463 147l-4.5-.5 3 3zM473.5 147.5l-4-.5 2.5 3zM484 147.5l-3.5-.5 2 3zM494 147.5l-3-1 1.5 2.5zM504.5 148l-2.5-1 1.5 2.5zM212.5 158l0 2.5 2-2zM295.5 157.5l-1 2.5 2.5-1zM306 157.5l-1.5 4 4-1.5zM316 157.5l-2.5 4 4.5-1.5zM326 157.5l-2.5 4 4.5-1.5zM335.5 158l-3 3.5 4.5-1zM346 157.5l-3.5 3.5 4.5-.5zM355.5 158l-3.5 3 5 0zM365.5 157.5l-4 2.5 5 .5zM377 157l-4 2.5 4.5 1zM387.5 157l-4.5 2 4.5 1.5zM398 156.5l-4.5 1.5 4.5 1.5zM409 156.5l-4.5 1 4.5 2zM419 156l-4.5 .5 4 2.5zM429.5 156l-5 0 4 3zM441 156.5l-5 0 3.5 3zM452.5 157l-4.5-.5 3.5 3.5zM463 157l-4.5-.5 2.5 3.5zM473.5 157l-4.5-1 2.5 3.5zM484 157l-4-1 2 3.5zM494.5 157.5l-3.5-1 2 3zM504.5 157.5l-3-1 1.5 3zM515 157.5l-3-1 1.5 3zM285 167.5l-.5 3 2.5-1.5zM295.5 167l-1 4 3.5-2zM305 167.5l-2 4.5 4-2zM315 168l-2 4 4.5-2zM325 168l-2.5 4 4.5-1.5zM335.5 168l-3 4 4.5-1zM346 167.5l-3 3.5 4.5-.5zM355.5 167.5l-3.5 3 5 0zM365 167.5l-4 3 5 .5zM376 167l-4 2.5 4.5 1zM386.5 166.5l-4.5 2 4.5 1.5zM397.5 166.5l-4.5 1.5 4.5 2zM408 166l-4.5 1 4 2.5zM418 165.5l-5 .5 4 2.5zM429 165.5l-5 0 3.5 3zM440.5 166l-5-.5 3.5 3.5zM452 166l-4.5-1 3 3.5zM463 166.5l-4.5-1 3 4zM473.5 166.5l-4.5-1 2.5 4zM484 167l-4-1.5 2 3.5zM494.5 167l-4-1.5 2 4zM505 167l-4-1.5 1.5 4zM515.5 167l-3.5-1.5 1.5 3.5zM525.5 167.5l-2.5-1.5 1 3zM264.5 177.5l-.5 2.5 2-1.5zM274.5 177l-.5 3.5 2.5-2zM284.5 177l-1 4.5 3.5-2.5zM295 177l-1.5 4.5 4-2.5zM305 177.5l-1.5 4.5 4-2.5zM315 178l-2 4.5 4.5-2zM324.5 178.5l-2.5 4 4.5-2zM335 178l-2.5 4 4.5-1.5zM346 177.5l-3 3.5 4.5-1zM355.5 177.5l-3.5 3.5 5-.5zM364.5 177.5l-4 3 5 0zM375 177l-4 2.5 4.5 1zM386 176.5l-4.5 2 4.5 1.5zM397 176l-4.5 1.5 4.5 2zM407 175.5l-4.5 .5 4 2.5zM417 175l-5 0 4 3zM428.5 175l-5 0 3.5 3zM440 175l-4.5-.5 3.5 3.5zM451.5 175.5l-4.5-1 3 3.5zM462.5 176l-4.5-1.5 2.5 4zM473.5 176.5l-4.5-1.5 2.5 4zM484 176.5l-4-1.5 2 4zM494.5 176.5l-4.5-2 2 4.5zM504.5 176l-4-2 2 4.5zM515.5 177l-4-2 1.5 4zM525.5 177l-3-2 1 3.5zM556.5 177.5l-2-1.5 .5 2.5zM254 187l0 2.5 2-2zM264.5 187l0 3 2.5-2zM274.5 187l-.5 4.5 3.5-3zM284 188l-1 4.5 3.5-3zM294.5 187.5l-1 4.5 4-3zM305 187.5l-1.5 4.5 4-2.5zM314.5 188l-1.5 4.5 4-2.5zM324 188.5l-2 4.5 4.5-2zM334.5 188.5l-2.5 4 4.5-1.5zM345 188l-3 4 4.5-1zM354.5 188l-3.5 3.5 4.5-.5zM363 188l-4 3 5 0zM374 187l-4 2.5 4.5 1zM385 186l-4.5 2 4.5 1.5zM396 185.5l-4.5 1 4.5 2zM406.5 185l-4.5 .5 4 2.5zM417 184.5l-5 0 3.5 3zM428.5 184.5l-4.5-.5 3.5 3.5zM440 184.5l-4.5-1 3 3.5zM451 185l-4.5-1.5 2.5 4zM462 185.5l-4.5-1.5 2.5 4zM473 185.5l-4.5-2 2 4zM483.5 186l-4.5-2 2 4.5zM494 185.5l-4-2.5 2 4.5zM504 185.5l-4-2.5 1.5 4.5zM515 186l-4-2.5 1.5 4.5zM526 186.5l-3.5-2.5 1 4zM536 187l-2.5-2 .5 3zM546.5 187l-2.5-2 .5 3zM556.5 187l-2.5-2 .5 3zM567 187l-2-1.5 .5 2.5zM254 197l0 3 2-2zM264 197l0 4 2.5-3zM274 197.5l-.5 5 3-3.5zM283.5 198.5l-.5 4.5 3.5-3.5zM294 198.5l-1 4.5 3.5-3zM304.5 198l-1 4.5 3.5-3zM314.5 198.5l-1.5 4.5 4-2.5zM324 199l-2 4.5 4-2.5zM334 199l-2 4 4.5-2zM344 198.5l-2.5 4 4.5-1.5zM353 198.5l-3 3.5 4.5-.5zM363 198l-3.5 3 5 0zM373.5 197l-4 2.5 4.5 .5zM384.5 196l-4.5 1.5 4.5 1.5zM395.5 195l-4.5 1 4 2zM406 194.5l-5 .5 4 3zM417 194l-5-.5 3.5 3zM428.5 194l-4.5-1 3 3.5zM440 194l-4.5-1.5 3 4zM451 194.5l-4.5-1.5 2.5 4zM461.5 194.5l-4.5-2 2 4zM472.5 194.5l-4-2 2 4.5zM483.5 195l-4-2.5 1.5 4.5zM494 195.5l-4-2.5 1.5 4.5zM504.5 195.5l-4-2.5 1.5 4.5zM515 196l-4-3 1 4.5zM526 196.5l-3.5-2.5 1 4zM536 196.5l-2.5-2 .5 3.5zM546.5 197l-2.5-2 .5 3zM556.5 197l-2-1.5 .5 2.5zM254 207l.5 3.5 2-2.5zM263.5 207l0 5 3-4zM273.5 208.5l0 5 3-3.5zM283.5 209l0 5 3-3.5zM294 209l-.5 5 3.5-3.5zM304 209l-.5 4.5 3.5-3zM314 209l-1 4.5 3.5-3zM324 209.5l-1.5 4.5 4-2.5zM333.5 209.5l-2 4.5 4-2zM343 209.5l-2.5 4 4.5-1.5zM352.5 209l-3 3.5 4.5-1zM362.5 208l-3.5 3 5 0zM373 207l-4 2.5 4.5 .5zM383.5 205.5l-4.5 1.5 4.5 1.5zM394.5 204.5l-4.5 1 4 2.5zM405.5 203.5l-5 0 3.5 3zM417 203.5l-4.5-.5 3.5 3.5zM428.5 203.5l-4.5-1 3 4zM440.5 204.5l-4.5-1.5 2.5 4zM451 204l-4.5-2 2 4.5zM461.5 203.5l-4-2.5 2 4.5zM472 204l-4-2.5 1.5 4.5zM483 204.5l-4-2.5 1.5 4.5zM494.5 206l-4-3 1 4.5zM505 206l-3.5-3 1 4.5zM515.5 206l-3.5-3 1 4.5zM526 206.5l-3-2.5 .5 4zM536 206.5l-2.5-2 .5 3.5zM546 206.5l-2-2 0 2.5zM556.5 206.5l-2-2 0 3zM243.5 216.5l.5 3 1.5-2.5zM253.5 216.5l.5 4.5 2.5-3.5zM263.5 218l.5 4.5 2.5-4zM273.5 219.5l.5 5 2.5-4zM283.5 220l0 5 3-4zM294 219.5l0 5 3-3.5zM304 219.5l-.5 5 3-3.5zM314 220l-.5 4.5 3.5-3.5zM324 220l-1 4.5 3.5-3zM333.5 220.5l-1.5 4.5 4-2.5zM342.5 220.5l-2 4.5 4.5-2zM352 220l-2.5 4 4.5-1.5zM362 218.5l-3.5 3.5 5-.5zM372 217l-4 2.5 4.5 .5zM382.5 215l-4.5 1.5 4.5 1.5zM393 213.5l-4.5 .5 4 2.5zM404.5 212.5l-5-.5 3.5 3.5zM416.5 212.5l-4.5-1 3 4zM428.5 212.5l-4.5-1.5 2.5 4zM440 213l-4.5-2 2 4.5zM450.5 213l-4-2.5 1.5 4.5zM461.5 213l-4-2.5 1.5 4.5zM472 213l-4-3 1 4.5zM483.5 214.5l-3.5-3 1 4.5zM495 216l-3.5-3 1 4.5zM505.5 216l-3.5-3 .5 4.5zM515.5 216l-3.5-3.5 .5 4.5zM526 216l-3.5-3 .5 4.5zM536 216.5l-2.5-2.5 0 3.5zM556.5 216.5l-2-2 0 3zM119 226.5l1 2.5 1-2.5zM243.5 226.5l1 3.5 1.5-3zM253.5 226.5l1 4.5 2-4.5zM263.5 228l1 4.5 2-4zM273.5 229.5l1 4.5 2.5-4zM283.5 230.5l.5 4.5 2.5-4zM294 230.5l.5 5 2.5-4zM304 230.5l0 5 3-4zM314 230.5l0 5 3-3.5zM324 230.5l-.5 5 3.5-3.5zM333.5 231l-1 4.5 3.5-3zM342.5 231.5l-1.5 4.5 4-2.5zM351.5 231l-2.5 4 4.5-2zM360.5 229.5l-3 3.5 4.5-1zM370 227l-4 2.5 4.5 .5zM380.5 224.5l-4.5 1.5 4.5 2zM392 222l-5 0 3.5 3zM404 221l-4.5-1 3 3.5zM416.5 221l-4.5-1.5 2.5 4zM428.5 221l-4-2 2 4.5zM440 221.5l-4-2.5 1.5 4.5zM451 222l-4-3 1 4.5zM461.5 222l-3.5-3 1 4.5zM472 222l-3.5-3 1 4.5zM483.5 223.5l-3.5-3.5 .5 4.5zM495 225.5l-3.5-3.5 .5 4.5zM505 226l-3-3 0 4zM515.5 225.5l-3-3.5 .5 5zM526 225.5l-3-3.5 0 5zM536 226l-2.5-2.5 0 3.5zM119 236.5l1 2.5 1-2.5zM129.5 236.5l1 2.5 1-2.5zM233 236.5l1 3 1-3zM243.5 236.5l1 3.5 1.5-3.5zM253.5 236.5l1.5 4.5 2-4.5zM263.5 237.5l1.5 4.5 2-4.5zM274 239l1 4.5 2-4.5zM284 240l1 4.5 2-4.5zM294.5 240.5l1 4.5 2-4zM304.5 240.5l1 4.5 2.5-4zM314.5 240.5l.5 4.5 2.5-4zM324.5 241l0 5 3-4zM334 242l0 5 3-3.5zM343 242.5l-.5 4.5 3.5-3zM352 242l-1.5 4.5 4-2.5zM359.5 241.5l-2.5 4 4.5-1.5zM369 237.5l-4 2.5 5 .5zM380.5 233.5l-4.5 1 4 2.5zM391.5 230l-4.5-.5 3.5 3.5zM404 229l-4.5-1.5 2.5 4zM416.5 229l-4-2.5 1.5 4.5zM428.5 229.5l-4-3 1.5 4.5zM440 230.5l-3.5-3 1 4.5zM451 231l-3.5-3 .5 4.5zM462 232l-3.5-3.5 .5 4.5zM472.5 232l-3-3.5 .5 5zM483.5 233l-3-3.5 0 5zM494.5 235l-3-3.5 0 5zM505 236l-2.5-2.5 0 3.5zM516 236l-3-3.5 0 4.5zM526 235.5l-3-4 0 5zM536.5 236l-2.5-3 -.5 4zM546.5 236l-1.5-2 0 2.5zM212.5 246l1 2.5 1-2.5zM223 246l1 2.5 1-3zM243.5 246l1.5 3 1-3zM253.5 246l1.5 3.5 1.5-4zM264 247l1.5 4.5 1.5-4.5zM274 248.5l1.5 4.5 1.5-4.5zM284.5 250l1.5 4.5 1.5-4.5zM294.5 250l1.5 4.5 2-4.5zM305 250l1.5 4.5 2-4.5zM315 250.5l1 4.5 2-4.5zM325.5 251.5l1 4.5 2-4.5zM335 252.5l.5 4.5 2.5-4zM344.5 254l.5 5 3-4zM353 254l-.5 4.5 3.5-3.5zM362 252l-2 4.5 4-2.5zM377.5 245l-4 3 5 0zM387 243.5l-5 0 4 3zM392 237l-4.5-2 2.5 4zM406 237.5l-4-2.5 1.5 4.5zM418.5 238.5l-3.5-3 1 4.5zM429.5 238.5l-3.5-3.5 .5 4.5zM440.5 240l-3-3.5 0 5zM452 241l-3-3.5 0 5zM462.5 242.5l-3-3.5 0 5zM473.5 243l-3-4 0 5zM484 243l-3-4 0 5zM494.5 244l-3-4 -.5 5zM505.5 245.5l-2.5-3.5 -.5 4.5zM516 246l-2.5-3.5 -.5 4.5zM526 246l-2.5-4 -.5 4.5zM536.5 246l-2-3 -.5 3.5zM546.5 246l-1.5-2 -.5 2.5zM119 256l1.5 2.5 .5-2.5zM171 256l1.5 2.5 .5-2.5zM181.5 256l1.5 2.5 .5-2.5zM191.5 256l1.5 2.5 .5-2.5zM202 256l1.5 3 1-3.5zM212.5 256l1.5 3 1-3zM223 256l1.5 2.5 1-3zM233 256l1.5 2.5 1-3zM243.5 256l1.5 3 1-3zM253.5 256l1.5 3.5 1-3.5zM264 257l2 4.5 1-4.5zM274.5 258.5l2 4.5 1-4.5zM285 259.5l2 4.5 1-4.5zM295 260l2 4.5 1-4.5zM305.5 260l2 4.5 1.5-4.5zM316 260l2 4.5 1.5-4.5zM326 261.5l2 4.5 1.5-4.5zM336.5 263l1.5 4.5 1.5-4.5zM346.5 265l1.5 4.5 1.5-4.5zM356 265.5l1 4.5 2-4.5zM367.5 255.5l.5 5 2.5-4zM399 249.5l-3.5-3.5 .5 4.5zM409 247l-3-3.5 0 5zM420 248l-3-4 -.5 5zM431 248.5l-2.5-4 -.5 5zM442 249.5l-2.5-4 -.5 4.5zM452.5 251l-2.5-4 -.5 4.5zM463.5 252.5l-2.5-4 -.5 4.5zM474 253l-2.5-4 -.5 4.5zM484 252.5l-2.5-4 -.5 4.5zM494.5 253l-2.5-4 -.5 4.5zM505.5 255.5l-2.5-4 -.5 4.5zM516 255.5l-2.5-3.5 -1 4.5zM526 255.5l-2-3.5 -1 4zM536.5 255.5l-2-3 -.5 3.5zM546.5 255.5l-1.5-2.5 -.5 3zM171 266l1.5 2.5 .5-2.5zM181.5 266l1.5 2.5 .5-3zM191.5 266l1.5 3 .5-3.5zM201.5 266l2 3.5 1-4zM212 266l2 3 .5-3.5zM222.5 266l2 3.5 1-4zM233 266l2 3 .5-3.5zM243.5 266l2 3 .5-3.5zM253.5 266l2 3.5 1-4zM264 267l2.5 4 1-4.5zM274.5 268l2.5 4 1-4.5zM285 269l2.5 4 .5-4.5zM295.5 269.5l2.5 4 .5-4.5zM306 270l2.5 4 .5-4.5zM316.5 270l2.5 4 .5-4.5zM327 271l2.5 4 .5-4.5zM338 272.5l2.5 4 .5-4.5zM349 275l2.5 4 .5-5zM360.5 275.5l3 4 0-5zM367.5 266.5l3 3 -.5-4.5zM402 261l-1-4.5 -2 4.5zM412 257l-1.5-4.5 -1.5 4.5zM422.5 258.5l-1.5-4.5 -1.5 4.5zM432.5 259l-2-4.5 -1.5 4.5zM443 260l-2-4.5 -1.5 4.5zM453 261l-2-4.5 -1 4.5zM463.5 262.5l-2-4.5 -1 4.5zM474 263.5l-2-4.5 -1 4.5zM484.5 262l-2-4.5 -1 4.5zM495 263l-2-4.5 -1 4.5zM505.5 265l-2-4.5 -1 4.5zM515.5 265.5l-2-3.5 -1 4zM526 265.5l-2-3.5 -1 4zM536.5 265.5l-1.5-3.5 -1 3.5zM546.5 265.5l-1.5-3 -1 3zM181.5 275.5l1.5 2 .5-2.5zM191.5 275.5l2 3 .5-3.5zM202 275.5l2 3 .5-3.5zM212 276l2.5 3.5 .5-4.5zM222.5 276l2.5 3.5 .5-4.5zM232.5 276l2.5 3.5 .5-4.5zM243 276l2.5 3.5 .5-4.5zM253.5 276l3 4 .5-5zM264 277l2.5 4 .5-5zM274.5 277.5l2.5 4 .5-5zM285.5 278.5l3 4 .5-5zM296 279.5l3 4 0-5zM306.5 280l3 4 0-5zM317 280l3 3.5 0-5zM328 280.5l3 3.5 0-5zM339 282l3.5 3.5 -.5-4.5zM351 283.5l3.5 3 -1-4.5zM363.5 284l4 2.5 -1.5-4.5zM374.5 281.5l4.5 1.5 -3-4zM380 277l4.5-1.5 -4.5-2zM393 275l2.5-4 -4.5 1.5zM406 269l1-4.5 -3.5 3zM414.5 268.5l0-5 -3 4zM424 269l-.5-4.5 -2.5 4zM433.5 270l-1-4.5 -2 4zM443.5 270l-1-4.5 -2 4.5zM454 270.5l-1.5-4.5 -2 4.5zM464 271.5l-1.5-4.5 -1.5 4.5zM474.5 272l-1.5-4.5 -1.5 4.5zM484.5 272l-1.5-4.5 -1.5 4.5zM495 273l-1.5-4.5 -1.5 4.5zM505.5 275l-1.5-4.5 -1.5 4.5zM515.5 275.5l-1.5-4 -1.5 4zM526 275.5l-1.5-4 -1.5 4zM536.5 275.5l-1.5-3.5 -1 3.5zM546.5 275.5l-1.5-3.5 -1 3.5zM557 275.5l-1-2.5 -1 2.5zM181.5 285.5l1.5 2 .5-2.5zM191.5 285.5l2 2.5 .5-3.5zM202 285.5l2.5 3 .5-4zM212 285.5l2.5 3 .5-4zM222.5 285.5l2.5 3 .5-4zM233 285.5l2.5 3.5 .5-4zM243 285.5l3 3.5 0-4.5zM253.5 285.5l3 3.5 0-4.5zM264 286.5l3 3.5 0-5zM274.5 287l3 3.5 0-5zM285.5 288l3 3.5 0-5zM296.5 288.5l3 3.5 -.5-5zM306.5 288.5l3.5 3.5 -.5-4.5zM317.5 289l3.5 3 -.5-4.5zM328.5 289.5l3.5 3 -1-4.5zM340 290.5l4 2.5 -1.5-4.5zM352 291.5l4 2 -2-4.5zM364.5 291.5l4.5 1.5 -2.5-4zM377 290l5 0 -3.5-3zM389.5 286.5l4.5-1.5 -4.5-1.5zM399.5 282.5l3.5-3.5 -4.5 .5zM407.5 280l2-4.5 -4.5 2zM416 279.5l1-4.5 -3.5 3zM425 279.5l.5-5 -3.5 3.5zM435 279.5l0-5 -3 4zM444.5 280l-.5-4.5 -2.5 4zM454.5 280l-.5-4.5 -2.5 4zM464.5 281l-1-4.5 -2 4zM474.5 282l-1-4.5 -2 4.5zM485 282.5l-1-4.5 -2 4.5zM495 283.5l-1.5-4.5 -2 4.5zM505.5 285l-1.5-4.5 -2 4.5zM515.5 285.5l-1.5-4 -1.5 4zM526 285l-1.5-4 -1.5 4zM536.5 285l-1.5-3.5 -1.5 3.5zM546.5 285l-1.5-3.5 -1.5 3.5zM557 285l-1-3 -1 3zM181.5 295.5l2 2.5 0-3zM191.5 295.5l2.5 3 0-3.5zM202 295.5l2.5 3 0-3.5zM212.5 295.5l2 2.5 0-3.5zM222.5 295.5l2.5 2.5 0-3.5zM233 295.5l2.5 3 0-4zM243.5 295.5l2.5 2.5 0-3.5zM253.5 295.5l3 3 0-4zM264 295.5l3.5 3.5 -.5-4.5zM274.5 296.5l3.5 3.5 -.5-4.5zM285.5 297.5l3.5 3.5 -.5-4.5zM296 297.5l3.5 3 -1-4.5zM307 298l3.5 3 -1-4.5zM318 298.5l4 3 -1.5-4.5zM329 299l4 2.5 -1.5-4.5zM340.5 300l4.5 2 -2-4.5zM352 300l4.5 1.5 -2.5-4zM364 299.5l4.5 .5 -3.5-3.5zM376.5 298.5l4.5-.5 -4-2.5zM388 296l4.5-2 -4.5-1.5zM399 293l3.5-3 -5 0zM407.5 291.5l2.5-4 -4.5 1.5zM416.5 290.5l2-4.5 -4 2.5zM426 290l1-4.5 -4 3zM435.5 290.5l.5-4.5 -3.5 3.5zM445 291l0-5 -3 3.5zM455 291l0-5 -3 4zM465 292l-.5-5 -2.5 4zM475 292.5l-.5-4.5 -2.5 4zM485 293l-.5-4.5 -2.5 4zM495.5 293.5l-1-4.5 -2.5 4zM505.5 295l-1-4.5 -2 4.5zM515.5 295l-1-4 -2 3.5zM526 295l-1-4 -2 3.5zM536.5 295l-1-3.5 -1.5 3.5zM547 295l-1-3.5 -1.5 3.5zM557 295l-1-3 -1.5 3zM567 295l-1-2.5 -1 2.5zM181.5 305l2 2 0-2.5zM191.5 305l2 2.5 0-3.5zM202 305l2 2.5 0-3zM212.5 305l2 2.5 0-3zM222.5 305.5l2.5 2.5 0-3.5zM233 305.5l3 3 0-4zM243.5 305.5l3 2.5 -.5-4zM253.5 305.5l3 2.5 -.5-4zM264 305.5l3.5 3 -.5-4.5zM274.5 306l3.5 3 -1-4.5zM285.5 307l3.5 3 -1-4.5zM296 307l4 3 -1.5-4.5zM307 307.5l4 2.5 -1.5-4.5zM318 308l4 2.5 -2-4.5zM329 308.5l4.5 2 -2-4.5zM340.5 308.5l4.5 1.5 -2.5-4zM352 308.5l4.5 1 -3-3.5zM363 308l5 0 -3.5-3zM374.5 307l4.5-1 -4-2.5zM386 306l4.5-2 -4.5-1zM396.5 304l4-3 -5 0zM406.5 303l3-3.5 -4.5 1zM416 302l2.5-4 -4.5 2zM425.5 301.5l1.5-4.5 -4 2.5zM435.5 301.5l1-4.5 -4 3zM445.5 301.5l.5-4.5 -3.5 3zM455.5 301l.5-5 -3.5 3.5zM465.5 301.5l0-5 -3 3.5zM475 302l0-5 -3 4zM485 303l-.5-5 -2.5 4zM495.5 304l-.5-4.5 -2.5 4zM505.5 304.5l-.5-4.5 -2.5 4zM516 305l-1-4.5 -2.5 4zM526 305l-1-4.5 -2 4zM536.5 305l-1-4 -2 3.5zM547 305l-1-4 -2 3.5zM557 305l-1-3 -1.5 3zM192 315l2 2 0-2.5zM202 315l2 2 0-3zM212.5 315l2 2 0-3zM222.5 315l3 2.5 -.5-4zM232.5 315.5l3.5 3 -.5-5zM243 315.5l3.5 3 -.5-4.5zM253.5 315.5l3.5 2.5 -.5-4.5zM264 315.5l3.5 2.5 -1-4.5zM274.5 315.5l4 3 -1-4.5zM285.5 316.5l4 2.5 -1.5-4.5zM296.5 317l4 2.5 -1.5-4.5zM307 317l4 2 -2-4.5zM318 317.5l4.5 2 -2-4zM329.5 318l4.5 1.5 -2.5-4zM340.5 318l4.5 1 -3-3.5zM351 317.5l5 .5 -3.5-3.5zM362 317l5-.5 -4-3zM373.5 316.5l4.5-1 -4.5-2zM384 315.5l4.5-2 -4.5-1zM395 314.5l4-3 -5-.5zM405 313.5l3.5-3.5 -4.5 .5zM415.5 313l2.5-4 -4.5 1.5zM425.5 312.5l2-4.5 -4.5 2zM435 312.5l1.5-4.5 -4 2.5zM445 312.5l1-4.5 -4 3zM455 312.5l1-4.5 -3.5 3zM465 312.5l.5-4.5 -3.5 3.5zM475 313l0-5 -3 3.5zM485 313.5l0-5 -3 3.5zM495.5 314l0-5 -3 4zM505.5 313.5l-.5-5 -2.5 4zM516 314.5l-.5-4.5 -2.5 4zM526 315l-.5-4.5 -2.5 3.5zM536.5 314.5l-.5-4 -2 3.5zM546.5 314.5l-.5-3.5 -2 3zM556.5 314.5l-.5-2.5 -1.5 2.5zM202 324.5l2.5 2 -.5-3zM212.5 325l2.5 2 -.5-3.5zM222.5 325l3 2.5 -.5-3.5zM233 325l3.5 3 -1-4.5zM243.5 325l4 3 -1-4.5zM253.5 325l4 2.5 -1-4.5zM264 325l4 2.5 -1.5-4.5zM274.5 325.5l4 2.5 -1.5-4.5zM285 325.5l4 2.5 -2-4.5zM296 326l4.5 2 -2-4.5zM307 326.5l4.5 2 -2.5-4zM318 327l4.5 1.5 -2.5-4zM329 327l4.5 1 -3-4zM340 327l4.5 .5 -3.5-3.5zM351 327l5 0 -3.5-3zM362 326.5l4.5-.5 -4-2.5zM373 326l4.5-1.5 -4.5-2zM383 325.5l4.5-2 -4.5-1zM393.5 325l4-2.5 -5-.5zM404.5 324l3.5-3.5 -5 .5zM414.5 323.5l3-3.5 -4.5 1zM424.5 323l2.5-4 -4.5 1.5zM434 323.5l2-4.5 -4.5 2zM444 323.5l1.5-4.5 -4 2.5zM454.5 323l1-4.5 -4 3zM465 323l1-4.5 -3.5 3zM475 323l.5-4.5 -3.5 3.5zM485 323.5l.5-5 -3.5 3.5zM495.5 324l0-5 -3 3.5zM506 323l0-5 -3 3.5zM516 324.5l0-5 -3 4zM526 324.5l-.5-4 -2.5 3zM536 324.5l-.5-3.5 -2 2.5zM546.5 324.5l-.5-3 -1.5 2.5zM212.5 334.5l2.5 2 -.5-3zM223 334.5l3 2 -.5-3.5zM233 335l3.5 2.5 -1-4zM243.5 335l3 2 -1-3.5zM254 335l3.5 2 -1-3.5zM264 335l3.5 2 -1.5-4zM274.5 335l4 2 -1.5-4zM285 335l3.5 1.5 -1.5-3.5zM295.5 335.5l4.5 2 -2.5-4zM306.5 336l4.5 1.5 -2.5-4zM317.5 336l4.5 1 -3-4zM328.5 336.5l4.5 1 -3-3.5zM339.5 336.5l5 .5 -3.5-3zM350.5 336.5l5 0 -4-3zM362 336l4.5-1 -4-2.5zM372.5 335.5l4.5-1.5 -4.5-2zM382 335.5l4.5-2 -4.5-1zM393 335l4-2.5 -4.5-.5zM403.5 334.5l3.5-3 -5 0zM413.5 334l3-3.5 -4.5 1zM423.5 334l2.5-4 -4.5 1.5zM433 334.5l2.5-4 -4.5 2zM444 334l2-4.5 -4 2zM455 333l1.5-4.5 -4 2.5zM465 333l1-4.5 -4 3zM475 333.5l1-4.5 -3.5 3zM485 333.5l.5-4.5 -3.5 3zM495 334l.5-4.5 -3.5 3.5zM505.5 334l.5-5 -3 3.5zM516 334.5l0-5 -3 3.5zM526 334.5l0-4 -2.5 3zM536 334.5l0-3.5 -2 2.5zM556.5 334.5l-.5-2.5 -1.5 2zM233.5 344.5l3 1.5 -1-3zM243.5 344.5l2.5 1.5 -1-3zM254 344.5l2.5 1.5 -1-3zM264.5 344.5l3.5 1.5 -1.5-3.5zM274.5 345l3.5 1.5 -1.5-3.5zM285 344.5l3.5 1 -1.5-3zM295.5 345l4 1 -2-3.5zM306 345l4 1 -2.5-3.5zM316.5 345l4.5 1 -3-3.5zM327 345l4.5 .5 -3.5-3.5zM338 345.5l5 0 -3.5-3zM349.5 345.5l5-.5 -4-2.5zM360.5 345.5l4.5-1 -4-2zM371.5 345.5l4.5-1.5 -4.5-1.5zM381.5 345l4.5-2 -4.5-1zM392.5 345l4-2.5 -4.5-.5zM403 344.5l3.5-3 -5 0zM412.5 344.5l3.5-3.5 -4.5 .5zM422.5 344.5l3-4 -4.5 1zM432.5 344.5l2.5-4 -4.5 1.5zM443.5 344l2-4.5 -4.5 2zM454.5 343.5l2-4.5 -4 2.5zM465 343l1.5-4.5 -4 2.5zM475 343.5l1-4.5 -4 3zM485.5 343l1-4.5 -3.5 3zM495.5 343.5l1-4.5 -3.5 3zM505.5 344l.5-4.5 -3.5 3.5zM515.5 344.5l0-4.5 -3 3zM526 344.5l0-4 -2.5 3zM536 344l0-3.5 -2 2.5zM546.5 344l0-3 -2 2zM556.5 344l0-2.5 -1.5 2zM233.5 354l2.5 1.5 -1-2.5zM264.5 354l2.5 1 -1-2.5zM275 354.5l3 1 -1.5-2.5zM285.5 354.5l2.5 1 -1.5-2.5zM306.5 354.5l2.5 .5 -1.5-2zM316.5 354.5l3 .5 -2-2.5zM327 354.5l3.5 0 -2.5-2.5zM337.5 354.5l3 0 -2.5-2zM348 355l4-.5 -3-2zM358.5 355l4.5-1 -4-2zM370 355l4.5-1.5 -4.5-1.5zM381 355l4.5-2 -4.5-1zM392 354.5l4-2.5 -4.5-.5zM402.5 354.5l3.5-3 -5 0zM412 354.5l3.5-3.5 -4.5 .5zM422 354.5l3-3.5 -4.5 1zM432.5 354.5l2.5-4 -4.5 1.5zM443 354l2.5-4 -4.5 1.5zM454 354l2-4.5 -4.5 2zM464.5 353.5l2-4.5 -4 2.5zM474.5 353.5l1.5-4.5 -4 2.5zM485 353.5l1-4.5 -4 3zM495 354l1-4.5 -3.5 3zM505 354l.5-4 -3 2.5zM515.5 354l.5-4 -3 2.5zM525.5 354l0-3.5 -2.5 2.5zM536 354l0-3 -2 2zM358.5 364.5l3-1 -3-1.5zM369 365l4-1.5 -4-1.5zM379.5 365l4.5-2 -4.5-1zM391 364.5l4-2.5 -4.5-.5zM402 364.5l4-3 -5 0zM412 364.5l3.5-3.5 -5 .5zM422.5 364.5l3-3.5 -4.5 1zM432.5 364.5l3-4 -4.5 1zM443 364l2.5-4 -4.5 1.5zM453.5 364l2.5-4 -4.5 2zM464 364l2-4.5 -4.5 2zM474.5 363.5l1.5-4.5 -4 2.5zM485 363.5l1.5-4.5 -4 2.5zM494.5 364l1-3.5 -3 2zM505 364l.5-3.5 -2.5 2zM515 364l.5-3 -2.5 2zM525.5 363.5l.5-2.5 -2 2zM567 363.5l0-2.5 -2 2zM577.5 363.5l0-2.5 -2 2zM369 374l2.5-1 -3-1zM379.5 374.5l3.5-2 -4-1zM390.5 374.5l4-2.5 -4.5-.5zM401.5 374.5l4-3 -5 0zM412.5 374l3.5-3 -5 0zM423 374l3.5-3.5 -4.5 .5zM433 374l3-3.5 -4.5 1zM443.5 374l2.5-4 -4.5 1.5zM454 373.5l2.5-4 -4.5 1.5zM464 373.5l2-4.5 -4.5 2zM474.5 373.5l2-4.5 -4 2zM484.5 374l1.5-4 -4 2zM494.5 374l1-3 -3 1.5zM577.5 373.5l0-2.5 -2 2zM379.5 384l3-1.5 -3.5-1zM390.5 384.5l4-2.5 -4.5-.5zM401.5 384l4-3 -5-.5zM412.5 384l3.5-3 -5 0zM422.5 383.5l3.5-3.5 -4.5 .5zM433.5 383.5l3-3.5 -4.5 1zM443.5 383.5l3-4 -4.5 1zM454 383.5l2.5-4 -4.5 1.5zM464 383.5l2.5-4 -4.5 2zM474 384l2-4 -4 2zM484 383.5l1-3 -3 1.5zM379.5 393.5l2.5-1.5 -3-1zM390 394l4-2.5 -4.5-.5zM401 394l4-3 -5-.5zM412 393.5l3.5-3 -5 0zM422.5 393.5l3.5-3.5 -5 .5zM433 393.5l3-3.5 -4.5 1zM443.5 393l3-3.5 -4.5 1zM453.5 393.5l2.5-4 -4.5 1.5zM463.5 394l2-4 -4.5 1.5zM473.5 393.5l1.5-2.5 -3 1zM161 403l2.5 1.5 -1-2.5zM379.5 403.5l2.5-1.5 -2.5-.5zM390 403.5l3-2 -3.5-.5zM400.5 404l4-2.5 -5-.5zM412 403.5l3.5-3 -5 0zM422.5 403.5l3.5-3 -5 .5zM432.5 403.5l3.5-3.5 -4.5 .5zM443 403.5l3-3.5 -4.5 1zM453 403.5l3-4 -4.5 1zM463 403.5l2-3 -3.5 1zM473.5 403l1-2.5 -2.5 1zM161 413l2.5 1.5 -1-3zM171.5 413l2.5 1 -1-2.5zM390 413l2.5-1.5 -2.5-.5zM400.5 413.5l3-2 -3.5-.5zM411.5 413.5l4-3 -5 0zM422 413l3.5-3 -5 0zM432 413.5l3-3.5 -4.5 .5zM442.5 413.5l2.5-3 -4 .5zM452.5 413l2-3 -3.5 .5zM463 413l1.5-2.5 -3 1zM161 422.5l2.5 1 -1-2.5zM400.5 423l2.5-1.5 -3-.5zM411 423.5l3.5-2.5 -4 0zM421.5 423.5l3.5-3 -4.5 0zM432 423l2.5-2.5 -3.5 0zM442 423l2-2.5 -3 .5zM452.5 423l2-2.5 -3 .5zM463 422.5l1.5-2.5 -3 .5zM150.5 432.5l2.5 1 -1-2.5zM400.5 432.5l2-1.5 -2.5-.5zM411 433l2.5-2 -3.5 0zM421.5 433l2.5-2.5 -3.5 0zM431.5 432.5l2-2 -3 0zM567 432l.5-3 -2.5 1.5z" fill="#000"/></g>
<rect x="99.5" y="32.6" width="486.79999999999995" height="405.0" fill="none" stroke="#000" stroke-width="0.8"/>
<path d="M99.5 32.6h-3.5M99.5 133.8h-3.5M99.5 235.1h-3.5M99.5 336.4h-3.5M99.5 437.6h-3.5M180.6 437.6v3.5M282 437.6v3.5M383.5 437.6v3.5M484.9 437.6v3.5M586.3 437.6v3.5" stroke="#000" stroke-width="0.8"/>
<g font-family="DejaVu Sans,Liberation Sans,sans-serif" font-size="27.7" fill="#000">
<text x="93.2" y="43.5" text-anchor="end">35°N</text>
<text x="93.2" y="144.8" text-anchor="end">30°N</text>
<text x="93.2" y="246" text-anchor="end">25°N</text>
<text x="93.2" y="347.2" text-anchor="end">20°N</text>
<text x="93.2" y="448.5" text-anchor="end">15°N</text>
<text x="181.1" y="465.2" text-anchor="middle">115°E</text>
<text x="282.5" y="465.2" text-anchor="middle">120°E</text>
<text x="384" y="465.2" text-anchor="middle">125°E</text>
<text x="485.4" y="465.2" text-anchor="middle">130°E</text>
<text x="586.8" y="465.2" text-anchor="middle">135°E</text>
<rect x="616.9" y="28.2" width="21.1" height="413.7" fill="url(#jg)" stroke="#000" stroke-width="0.6"/>
<text x="643.6" y="452.5">0</text>
<text x="643.6" y="414.9">5</text>
<text x="643.6" y="377.3">10</text>
<text x="643.6" y="339.7">15</text>
<text x="643.6" y="302.1">20</text>
<text x="643.6" y="264.5">25</text>
<text x="643.6" y="226.8">30</text>
<text x="643.6" y="189.2">35</text>
<text x="643.6" y="151.6">40</text>
<text x="643.6" y="114">45</text>
<text x="643.6" y="76.4">50</text>
<text x="643.6" y="38.8">55</text>
</g>
<path d="M638 441.9h3M638 404.3h3M638 366.7h3M638 329.1h3M638 291.5h3M638 253.9h3M638 216.2h3M638 178.6h3M638 141h3M638 103.4h3M638 65.8h3M638 28.2h3" stroke="#000" stroke-width="0.8"/>
<text transform="translate(695.8 232.5) rotate(-90)" text-anchor="middle" font-family="DejaVu Sans,Liberation Sans,sans-serif" font-size="18" fill="#000">wind speed m/s</text>
</g>
<g transform="translate(0.6 528)">
<clipPath id="cpc"><rect x="99.5" y="32.6" width="486.79999999999995" height="405.0"/></clipPath><filter id="blc" x="-5%" y="-5%" width="110%" height="110%"><feGaussianBlur stdDeviation="1.6"/></filter><g clip-path="url(#cpc)"><g filter="url(#blc)" fill-rule="evenodd"><rect x="85.5" y="18.6" width="514.8" height="433" fill="#0000ad"/><path fill="#0000c8" d="M89.5 450l509 0 0-429.5-386.5 0-1 4-2 2-4 1.5-2-1.5 .5-2 1.5-4-117.5 0 0 105 4-2.5 6-1.5 4-4 2-4 2-1.5 4-1 2.5 .5 2 2 4 8 0 2-.5 2.5-1 2-3 2.5-2 1-4 1-8-.5-6-.5-6 .5 0 318zM221 419.5l-.5-4 .5-2 1.5-2 7-6.5 4-1.5 2-.5 2 .5 2 1.5-1.5 6.5-3 6-1.5 1-2 .5-6 0-4.5 1zM121.5 115.5l-3-2 0-2 2.5-4 0-2-1.5-2-.5-2 1-2 4-6 1.5-6 2.5-4.5 2.5-2 3.5-1 3 1 3 3 4-1.5 4-3.5 4-6 2-2 4-2 4.5-3.5 2 0 2 3 1 4.5-1 9.5-2 2.5-10 4.5-4.5 0-6-2.5-2.5 .5 0 2 6.5 3 2 3 1 6-1 4-2 2-4 2.5-4 5-2 1-8-.5-6 .5zM181.5 55l0-2 .5-4 .5-2 2 0 2.5 2 .5 4-.5 2-2.5 2-2-.5z"/><path fill="#0000e8" d="M89.5 450l105 0-2-4.5 0-2 2.5-2 4-2 1-2 1-6 3-6 11-17 2-1.5 6-3 11-7 6.5-10 5-4 8.5-4 2-2 2.5-4 9.5-4.5 2-.5 6-.5 2-1 4-3.5 5-6.5 5-3 4-1.5 8.5-1 2 0 2 1.5 1 4-1 3-4 3-8.5 3.5-3 3-4 6-5 8.5-6 6-4 5.5-4 2.5-4 .5-4-.5-2.5 .5-2 1-4 4-6 4-1.5 2.5 .5 8-1 2-2 3-10.5 5-3.5 3-6.5 4-3 5-3 3.5-4 3-4.5 1.5-2.5 2.5 392.5 0 0-429.5-136 0-2 2-2 .5-2.5-.5-1.5-2-217.5 0 0 4-.5 2-1 2-5 2-3.5 4-1.5 1-8.5 .5-4 2.5-2.5 2-4.5 8.5-7.5 8-2 6-1.5 2-2 .5-8.5 .5-2 1.5-1 1.5-1.5 6-4.5 6-3 13.5-2 1.5-4 .5-2 1-.5 2 1.5 8 0 2-1 3-2 .5-4 0-1 .5-2 2-3.5 6.5-2 1-6 1-1.5 2-.5 6-2 1.5-2 0-6-1-6-3-2 1-9.5 7.5-5 6-6-.5-8 2-2-.5-4-5-2-.5 0 310.5zM218.5 172.5l-3-2-1-2 0-2 1.5-2.5 3-2 4-1.5 2.5 0 6.5 1.5 1.5 1.5 .5 3 0 2-1 2-3.5 3-2 .5zM302.5 119.5l-3-2 0-2 2-6 1.5-2 2.5-2 3-1.5 4 0 5.5 1.5 3.5 2 0 4-1 2-4 5-2 1.5-4 1zM531 81l-3.5-1.5-4.5-4.5-3-2-6.5-2-1.5-2-.5-2-1-10 1-1.5 2-.5 16 1.5 8 4 6 5.5 6.5 .5 2 .5 2 3 1 3 0 2-1 2.5-2 1.5-4-1-4.5-2.5-2-.5-6 6-2 1zM88.5 115.5l2-2 2-6 5-3.5 2.5-2.5 7-12 2.5-6 2-2.5 6.5-2 7.5-4 6.5-6 2-4 2-2 4-.5 6 1.5 2 0 2-1 6.5-5.5 8-3 4.5-3.5 1.5-2 2-6.5 6-8 5-14-96 0 0 96z"/><path fill="#0000ff" d="M103.5 450l70 0 1-4 1.5-2.5 6.5-5 4.5-5 6-4 1.5-2 3-8 2.5-4 7-4.5 2-2.5 2-4 2-2 6-2.5 2-1.5 6.5-7 14-12.5 12-14 2-1 6.5 .5 6-2.5 6-1 2.5-2.5 3-6 2.5-2 4-1.5 4-1 8.5-3 4-.5 8 1.5 3 2.5 .5 2 1 6-.5 4-1 2-7 4-8 3.5-2.5 1.5-7 11.5-5 11.5-5 6.5-3 6-2 2.5-2 1.5-2 1-6-3-2 .5-2.5 1.5-1.5 4.5-4.5 6-.5 2 1.5 6-1 1.5-2 .5-12 0-2 .5-14.5 11.5-2 2-2.5 4.5 130 0 2.5-2.5 6-1.5 2 .5 4 3 1.5 .5 82 0 .5-4.5 3.5-4 2.5-4 1.5-1.5 2-1 2-.5 6 4 6 1.5 2 1.5 0 8.5 60 0 5-12 2-.5 4-1 2-1 5.5-4 1.5-2-.5-4-2-2-3.5 0-3 2.5-2 .5-.5-1 .5-2 1-2 1-13.5 1.5-3 .5-.5 2.5-.5 6 0 6-1.5 .5 4.5 1.5 3 2 2 2 0 2-.5 2-1 1-1-.5-6.5 1-2 8.5-6 2 1.5 .5 .5-.5 2-3 4-1 10.5 .5 2 3 4 .5 2-1.5 6 .5 2 3.5 5.5 0 1.5-2.5 1.5-4-1-8 2.5-6 4.5-4-.5-2 .5-4 2-4 4 48.5 0 0-62-4 1-2.5 0-3.5-8-2 0-6.5 5.5-2-.5-2-2-1.5-3 2-6-1-6 .5-2.5 2-1 4-.5 4.5 1 2 2 2 5 2 1 6 0 0-220-2-2-.5-2 .5-7 2-3 0-84.5-8 2.5-3 3-1.5 2-1.5 1.5-4.5-.5-2-1-2-7-2-2.5-2 0-.5-.5-1-4 1.5-4.5 4-4 2-1 6.5 1 8-2 6 .5 0-16-.5-2.5-52 0 2 1 0 1 .5 2-.5 2-2.5 1.5-2 .5-2 0-.5-2 .5-2 4-4-63.5 0-2.5 6-1 8-1.5 2.5-8.5 4-6-1.5-2 .5-3 2.5-.5 4.5 1.5 4.5 2 .5 2-.5 4-2 2-2.5 2-1.5 2 .5 1.5 1-.5 6 1.5 2 6 3 2 .5 3.5-3.5 4.5-2.5 2-.5 4 1 2-2 1-4 1-1 6 .5 4.5-1.5 2-2.5 4-5.5 2 0 3 1.5 1.5 2 1.5 5 2 2 6 0 6 3.5 4 0 4.5 0 10-2 2 1.5 .5 2.5 1.5 1.5 5.5 2.5 .5 2 0 4.5 1.5 1.5 4 2 1 2 1 6 0 6 2.5 8.5-.5 2-4.5 8-2.5 2-4.5 1.5-6 .5-1 2 0 2-1 2-3.5 4-5.5 8-1 9.5-2.5 5.5-2 2.5-9-3-.5-10-2-6.5-.5-4 2-6.5 2-3.5-2-2-2-.5-4.5-3.5-2-2-2-4-1.5-1.5-2 1-1.5 4.5-2 2-2.5 1-4.5 0-10-1.5-4 .5-4 2-10-.5-4 1-3 1.5-2 2-3 8-2.5 3.5-2 2-2 1-2-1-1.5-1.5-2-6-4-4-1-2 0-2 2-6-1.5-2.5-4-1.5-1-2-.5-8.5 2.5-6-1.5-6-1-10 1.5-3.5 1-.5-5-3-1.5-1-.5-2 1.5-4 4-6.5 1-2-.5-2-2-.5-4 0-2-1.5-1.5-6 2-8-192 0 .5 6-1 2-5 3-4 5.5-6 5.5-6 11.5-12.5 10-.5 1 .5 4-.5 2-1.5 .5-6 0-2 1-1.5 .5-2.5 4-8 1.5-4.5 1.5-3.5 3 0 2.5 3 8-.5 2-3 4-8 3-2 2.5-1.5 10.5-1 2-3.5 3.5-1 2.5 1 6.5-1 2-3 1.5-8 .5-2 .5-6.5 4.5-14 6.5-6 .5-6-1-4 5-10.5 6.5-2 .5-8-.5-6-2.5-4-.5 0 54 4-3 2 0 4 6.5 2 1.5 2 1 2-.5 4-3 4-1.5 1-1.5 .5-2.5-2.5-6-2-14 1.5-2 3.5-2 2 0 8.5 5.5 7 2.5 2 2 3 5.5 2 2.5 6 3 2 .5 2-1 2-5.5 2-2 4.5-.5 4 .5 5 3 5 1.5 5 4.5 1.5 2 .5 2.5-1 3.5-2 1-2 .5-6-.5-6 .5-14.5-2-6 1-4 2-4 5-4 4-6 1.5-2 2.5-1 5-4.5 6-1.5 4-1.5 1-6-1-1.5 2 1.5 2 8 4 3 2.5 3.5 2 2 2 0 .5-2 1.5-4.5-.5-4 1-4.5 3.5-1 2 .5 2 2.5 4 0 2-3 2-4.5 1-1 1-3 7.5-7 7-3 1.5 0 148.5 2-.5 4-4 4-1.5 4-.5 6 .5 2 1.5 .5 2-.5 4-2 2.5-3.5 1.5-2 2-.5 2.5zM497 433.5l-1-2-1-8 2-1.5 2 0 5 1.5 2.5 2 0 2-1 4-1.5 2-3 1-2 0zM460 429.5l-5.5-4-1.5-2 0-2 1-2 2.5-2 4-1 4 .5 3.5 2.5 1 2-.5 2.5-2 3-2 2-2 1-2 0zM117.5 417.5l-4-1-1-1-1-2 1-6.5 1-2.5 2-1.5 4.5-1.5 6 .5 6-1.5 2 1 4.5 5.5 1 2.5-1.5 1-6-1.5-2 0-2 1-4 6-2 1.5zM571.5 354.5l-1.5-1-.5-3 2-6 0-4 .5-2 2-1 2 0 1.5 1 2 2 .5 2-2.5 4 0 4-1 2-4.5 2.5zM214 249.5l-3-3-2-3-1-6.5 1-3.5 2-3 2-1.5 4-.5 2 1.5 2 3.5 1 5.5-1 6-2 5-2 .5zM563.5 233l-1.5-1-2-3-.5-4 .5-2 2-2.5 2-1 2 0 1.5 1.5 1 2 1.5 8-1.5 2-2.5 .5zM194 198.5l-13.5-4-2 0-6 1-2-.5-6-3.5-1-3 0-2 3-8 .5-2-1-6 1-2 7-6.5 2.5-4 4-3.5 4-6.5 2-2 2 1 3 7-.5 2-1 2-3.5 4-1 2 1 2 8.5-.5 6 .5 2-1 2-3.5 6-1.5 2-1.5 3.5-4.5 0-2-3.5-2-1.5-2-.5-2 .5-2 3.5-4 4-2 10.5 2 6-1.5 3.5 1.5 1.5 2 2 6 7.5 6 1.5 2 .5 2 0 2-1 2-3.5 4.5-4 7-6 8-4 4-2 1-2 .5-4-1.5-3-3-1.5-.5-2 .5-4 2-4 .5-2.5-.5-3.5-3.5-2-1-4-.5-2 1-.5 2 .5 2 2 1.5 4 .5 2 1 .5 3-1.5 4-3 4-2 1-2 0zM259 152l-2.5-2-1.5-6-1.5-4 0-2 4.5-4 1.5-2 .5-2-.5-4 .5-4.5 1-2 1.5-2 5.5-2 8-1.5 2 0 6 2 4-1 2.5-1.5 3-6 2-2 7-5 6-2.5 2-.5 6 1.5 8 .5 4.5 2 2 2 2 3 2 1 1 2-1 2-5 6-2 2-9.5 6.5-4 1-8-.5-4 0-8.5 3.5-2 .5-2 0-4-3-2-.5-4 3-4 2-2 2-4 8.5-6 9.5-2 .5zM543 150l-1.5 0-2.5-2-.5-2 5-5 2 .5 2 2.5 0 2-2 3.5zM581.5 109.5l-1.5-2 2-2 3.5 2 .5 2-1.5 .5zM292 55l-1-4-.5-4 2-2 8-4 2-.5 .5 2-7 11.5-2 1.5zM95.5 269.5l2 1 2-.5 3.5-4.5 .5-2-1-2-5-4-1-2-.5-4-2.5-6.5-1.5-6-1.5-2-3-1.5 0 31 4 1zM548 111.5l2-1 .5-1-.5-2.5-2 0-2 .5-.5 1 0 1zM89.5 100.5l4-1.5 2-1.5 1.5-2 2-6 .5-7.5 1-3 3-5 3.5-3-1-2 .5-2 4-6 1-6 3-8-.5-6.5 1.5-3 8.5-2.5 6 .5 6-.5 2 0 2 1.5 1.5 2 .5 2-.5 4.5 .5 2 2 2.5 2 2 2 1 2 0 10.5-2.5 2-1 1.5-2-1-12.5 2-8-.5-6-76 0 .5 4-1.5 2.5 0 74zM468.5 84l4 .5 3-1.5 1.5-2 0-2-.5-4-2-1.5-4.5-2.5-3.5-4-2-2-2-.5-2 .5-3 2-.5 2 0 6 1 2zM481 71l2 0 2-2 .5-2 0-2-.5-3-2-1 0-.5-2 2.5-2 4 0 2zM576 52.5l2-1 2.5-2.5 .5-2-1-3-2 0-2 1-.5 2-.5 4z"/><path fill="#0014ff" d="M154.5 449l0 1 12 0-.5-4.5-2-4 .5-2 2-4 .5-2-.5-1.5-2-1-2 0-6 2-2 0-1-1.5 0-4-1.5-1-1-1-5-1-2-.5-2 .5-.5 1 0 2 .5 2 2 3 5 5 0 6 1 2zM225.5 450l21.5 0 1-4.5 0-2-2.5-2-4-1-2 1-2 2.5-6 1-4 1.5-2 1.5-1.5 2zM272 450l68 0 2.5-4.5 2.5-2 10-4.5 6-1 6 .5 2.5 1 10.5 10.5 12.5 0-1.5-2.5-5.5-1-1.5-1-.5-2 0-2 1-6 1-2 2-1 8-1.5 8-4 2.5 .5 4 4 2 1 6 0 .5 1 0 2-.5 2-7 6-1 2 0 4.5 30 0-1.5-6.5 0-4 1-2 4.5-4 .5-1 0-7 .5-4 3.5-4 4-3 2-1 4-.5 4 0 4 .5 8.5 4 4 3.5 2 1 2-.5 1.5-4 1.5-2 5-3 6 .5 6-1.5 14.5 4.5 1-.5 1-6 4-4.5-.5-6 1.5-4 1-1 2 0 4 1 4 1.5 2 0 2-1 9-8.5 1.5-3.5 2-2.5 .5-2-2.5-6 1-2 3-2 2-3 2.5-7.5-.5-6 3-10 1-8 8-13.5 3.5-3 2.5-1 4-.5 6.5 3.5 12 5.5 0-39-2-2-.5-3 1-2 1.5-1 0-77.5-3 1.5-3 5.5-2 1.5-2-.5-8.5-8.5-3-6 0-2 1 0 4 1 2.5 0 5.5-3 2.5 0 2 .5 4 3 0-31.5-2-1-4-3.5-6-4-2-.5-6.5 2.5-2 0-3.5-4-1-2 .5-2 1.5-4 .5-2-2-2.5-.5-1.5 1-2 5.5-4 2-2 0-2-1-2-3-4.5-.5 0-1.5 1-1 3.5-2.5 2-6.5 .5-2.5 1.5-1.5 2-2 4.5-1 3.5 1 3 2 2 5.5 3 2.5 2 1 2 1 6-1.5 2-5 4-.5 2.5-.5 6-.5 2-2 2-2 1-2 0-8-2-2.5-1-1-2-1.5-6-6-4.5-7.5-8.5-10.5-9.5-1.5-2-.5-4 4-6 .5-2.5-2 0-2 1.5-6 1.5-4.5 0-2-1.5-8.5-9.5-3.5-3-4-1.5-6 0-4 1.5-7.5 5-5 4.5-8 2.5-4 2.5-2 .5-2-.5-2-1-5-6-1-4.5-2-1.5-2.5-.5-1-2-.5-2 3.5-6 1.5-6-1-4-2.5-4.5-2-1-10-1.5-6 4-2 .5-2-.5-1.5-1-.5-2 .5-8 1.5-2.5 5-4 1-2-2.5-6 .5-6-.5-2-8-8-1-2 0-2 1.5-2.5 6.5-3.5 1-2.5 0-2-4-10-1.5-2-4.5-2-1-2-.5-4-12.5 0 .5 2-.5 2-2 1-2 .5-2-.5-1.5-1-.5-2 0-2-60 0 0 4 1 4-1 4-3 3.5-2 1-4 1-3.5 2.5-14 18.5-4.5 4-1.5 2-.5 2 .5 4 3 8-.5 2-2 4.5 1.5 2 3.5 0 10-3.5 4-.5 2 0 8 2 4.5 6 4 2.5 4 1 2-1 .5-.5 .5-2 0-2-1-2.5-5-6 1-2 4-1.5 2 .5 4 2 2 0-1-7-.5-2-4.5-4-1.5-2 0-2 5.5-12 4-3.5 2-.5 5.5 0 1-6.5 4.5-4 2-4 3-3 4.5-2.5 4-1 6 0 4 1 4 4 1.5 3.5-1.5 14.5-2 2.5-2 1-6 1.5-2 1-7.5 10-6 4-1.5 2-4 6-.5 4 3 9.5 2 2.5 22.5 2 2 .5 2 1 .5 1 .5 2-.5 4 .5 2 1 1.5 6 1 3 1.5 1 8 0 2-2 3-2 1-2 .5-2-.5-6-3-2 0-6 1.5-4 0-5.5-4.5-11-4.5-2 .5-4 3-2 .5-6-2-2 0-4 2.5-5 6-2 2.5-9.5 4.5-8 1-8-1-2 0-14.5 9-2 1-8-.5-2 1.5-1.5 2.5-2.5 6.5-2 8.5-2 1.5-2 .5-6-.5-2.5 .5-6.5 7.5-3.5 6-4 11-2.5 3-5 4-1.5 2-4.5 10-3 4.5-.5 2 0 2 1.5 6-1 6 1 8-3 6-2 12.5-2 4-2 1.5-8 1-4 2-2 .5-4-2-3-3-1-2-.5-2 2-4 0-2.5-2-4 0-8-3.5-10-2-1.5-10.5-1-3 .5-1.5 2 2 6 0 2-1 2-2 2-2.5 1-4 1-4-1-2-1.5-2-3-3.5-8.5-1.5-2-2.5-2-3-.5-1 2.5 .5 4 0 6 0 2 3 3 6 2 2 2 6 9.5 0 2-4 4.5-2 1-4 0-2 1-2.5 5.5-.5 2 1 1.5 6 2.5 2.5 2 0 2-1.5 2-5 4.5-8.5 3.5-6 1.5-6.5 3-3.5 1-4-.5-6-3-2-.5-4.5 0-2 1-1.5 2-2 6-2 2-4.5 2-6 4-6 2-3.5 2 .5 6-1 3 0 27 4-3.5 2-1 2-.5 8 3 2 .5 6-1.5 2 .5 2 1-1 2-7 4 2 2 2 1 6.5 6.5 2 .5 6-.5 1.5 .5 2 2-1.5 1-8-3-2 1-1.5 1-5 1-2 1-4 3-7 3-1.5 2.5 .5 6.5 1.5 1.5 2.5 .5 2 2.5 2 8 2 2.5 2 .5 12.5 0 3.5-2 4.5-3.5 6 .5 8 0 4.5 3 3.5 1 4.5 0 2-.5 1-2.5 0-4 1-3.5 6.5-6.5 5.5-18.5 2-2.5 2-1 8 1 8.5 5 4 4.5 6 5 6 6 4 6.5 2 1.5 2 .5 2-.5 2-1 4.5-4.5 2-1 6-.5 1-.5 1-2 0-2 2-2 6-1.5 2-1 6-6.5 4-3 4-1 8.5 1 2 0 1-2.5 1-4 2-2 8-4 8-2 6-2 14.5 0 4 2 4 8 5 4 1 2-.5 2-4 8-1.5 1.5-1.5 .5-12.5 4-4 1.5-3 3-5 8-4.5 12-4.5 10-1 4.5-.5 13-2 6.5-2.5 4.5-1.5 8-3.5 6zM545.5 371l-1.5-4.5 1.5-2.5 3.5 7-1 .5zM526 358.5l-1.5-4 0-4 1-1.5 2-1.5 2 0 1.5 3 0 2-1.5 6-2 2zM219.5 348.5l-7-2-1.5-2-3-10-.5-4 .5-2 1.5-2.5 5-4 1-2 0-2-4-6 .5-2 3-3.5 5.5-2.5-1-8 1.5-2 4.5-1 2 .5 4 5.5 2 .5 2-1.5 2-6 2-3.5 4-3 6-1 1.5 1 .5 2.5-2 4.5-1 5.5 0 4 1.5 2 5.5 3.5 2 2.5-1.5 6 1 10 1.5 4.5 0 2-3 2-6 0-10 5.5-6 1.5-2 1.5-2.5 3.5-3.5 3-2.5 1zM180.5 275.5l-7.5-6-.5-2 6.5-10 1.5-1 4-.5 2.5 1.5 2 4 3 4 .5 2-1.5 2-3 2-3.5 3.5-2 1zM565 259.5l-3-1.5-2-3.5-.5-9.5-5-16-.5-6 0-2 4.5-6 .5-2 0-2-2.5-6.5 .5-2 3-2.5 2-3 2-2 2-.5 .5 0 1.5 2 1.5 4 2.5 4 1 6.5 6.5 16 0 4-1 6 1.5 6-.5 2-1 2.5-3.5 2-1.5 2-1 6-2.5 1.5-2 1zM436 130l-.5-2 .5-2.5 2-2.5 2.5 1 1 2-2 4-1.5 .5zM481 450l2 0 0-1-2-1-1 2zM491 450l10 0 1.5 0-.5-2.5-1.5-2-3.5-1.5-2 0-4 .5-1.5 1 .5 4.5zM507 450l10.5 0 .5 0-.5-2.5-1.5-2-2.5-1-2 0-2.5 1-2 2-.5 2.5zM590.5 450l8 0 0-5.5-4 0-3.5 1-1.5 2-1 2.5zM174.5 422l1.5-.5 .5-2-1-6-1.5-2-1.5-.5-2 0-1.5 2.5-.5 2 .5 2 1.5 2 2 2zM598.5 412l0-.5 0-9-4 1.5-1 1 0 2 1 2.5 2 1.5zM89.5 365.5l2 0 1.5-1-1-2-2.5-1.5-2-.5 0 5zM237.5 322.5l2 0 2-.5 2.5-2 1.5-2 0-2-5-8-2-2-5-3-2 0-4 3.5-4.5-.5-.5 2 1 8 2 .5 6-1 2 .5zM152 182.5l2.5-1 1-3 0-8-1-4-6-8.5 0-2 3.5-6-.5-2-1.5-1.5-2-.5-2 0-6 4-6 1.5-2 1.5-3 5-4 4-.5 2 1.5 10.5 2 3.5 2 .5 6-.5 4 .5 6 3zM191 132.5l2 1 6-.5 4-2.5 10-4 2 0 6 3 2 0 12.5-1.5 2-1.5 6-6.5 6-2.5 4-5 16.5-7 6-6.5 2-1.5 6-1.5 1.5-.5 1.5-4 3-4 .5-2-2.5-2.5-6-1.5-2-4.5-2-2.5-6-.5-2-1-2-2-1-2 0-2 .5-2 4.5-6 3-12 2-4.5 11-10 .5-2-3.5-10-27 0 1.5 8 0 2-2 4-2 2.5-2 1-4 .5-2 1-2.5 3-1.5 5-1 1.5-5 3-2 2-4.5 7-5.5 12-2 6-2.5 1-6-.5-2 .5-2.5 1-1 2-2 6.5-7.5 10-2.5 6-.5 8 1 2 4 4 0 2-1 1-4 .5-4 3.5-2.5 3.5-.5 2zM273 93.5l-1-.5-1.5-1.5 0-2 3.5-1.5 2 0 1.5 1.5-.5 2-1 1zM521.5 115.5l2-2-.5-2-1.5-2.5-2 0-1 .5-.5 2 1.5 3zM89 89.5l.5-2-2-2.5 0 5.5zM89.5 70.5l2.5-1.5 .5-2-1.5-2-3.5-1.5 0 7zM89.5 56l2-.5 1-.5 0-2-2.5-6-.5-1.5-2-1.5 0 12zM564 37l2 .5 1-1 1-2-1-2-1-.5-.5 .5zM495 28.5l2 .5 3-2.5 .5-2 .5-4-10 0 0 4 2 3zM564 25.5l2.5-5-6 0 1.5 4zM509 24l2.5 .5 2-1.5 1-2.5-7.5 0 1 2z"/><path fill="#0030ff" d="M280 450l53.5 0 7.5-8.5 10-5.5 4-3 4-1.5 8 0 11-4 9.5-1.5 6-1.5 8-4 4.5 0 6 2 2 0 8-1.5 4 0 6 2 3.5-1.5 5.5-6 11.5-5 10-1 10 1 8.5-4.5 10-2.5 6 .5 2-.5 4-3.5 7.5-3 3-2 5.5-8 4.5-8 7-4 0-2-8.5-8.5-4-6-.5-4 1-4 2-4 3-3.5 6-5 4-2 4-1 2 0 2 1.5 1 2 0 4 1 1 4.5 1.5 2 0 1.5-.5 1.5-2 0-2-3.5-6 0-2 1.5-4 1.5-2.5 9.5-5.5 6-8 2.5-2.5 9.5-2.5 2 .5 3.5 0-1-2-2.5-.5-2.5-3.5-.5-2 2-6-1-3.5-2.5-2.5-.5-2.5 .5-4-1-2-4.5-3.5-4-1.5-6-1-2-1.5-4-4-2-3.5-2-7-1-8-2-6.5 .5-10-.5-6-2-8 3.5-6-3.5-8.5-1-20-1.5-2-4.5-4-4.5-7-4.5-3-3-4.5-2.5-1.5-4-1-4 .5-6 2.5-4.5 .5-6 0-2.5-1-1-2 1.5-2 2-.5 4 1 8.5-2.5 2.5-2 0-2-4.5-3.5-4.5-4.5-2-1-4-.5-2 .5-2 1 .5 6-1 2-1.5 1.5-2 0-3.5-1.5-1-2 1-2 7-6 0-6-.5-2-1.5-2-3.5-1.5-6 1.5-4 0-2 .5-4.5 3.5-3 2-7 1-6 3-2 0-6-2-6 .5-3-.5-5.5-3.5-8-8-2-.5-5.5 2-4.5 3-2 .5-8-2.5-8.5 0-16-3.5-8-1-3.5-.5-5-2.5-6 0-10-1-4 1.5-4 3-10 3-6.5 3.5-12 1.5-6-1-2 .5-4 3.5-8.5 4-3 2-4 6-5 2.5-1.5 1.5-3.5 6-3 3-4 2-6 1-2.5 1-2.5 3.5-1.5 2.5-1 7.5-1.5 4-2 4-6 6-6.5 16.5 0 12 1.5 8-.5 4-3 6-6 6.5-2 6-3 4-10.5 6-12 4.5-10 9-4.5 2.5-6 1-16 0-2 .5-7 5-13.5 5-14 1-8-1-2 1-8.5 8.5-8 3.5-7 6-1 2 .5 4 4.5 10.5 3 3 2 .5 4 0 8.5-2 4 0 12 2.5 4 3.5 2 1 2-.5 2.5-4 7.5-3 1.5-1 .5-2.5 0-4 2.5-1.5 8 0 6 2 4-1 4-3.5 8-1 2.5-1 2-2 2-4 4-4 2-7 8-8 10-4.5 6 0 4.5-1 4-2.5 4-2 4.5-3.5 3.5-1.5 4-.5 4 0 4 2 2 2 1.5 4 1 6.5 0 6 1 2 3 3 4 7 4.5 4 .5 2-.5 2-3 4-1 2 0 2 .5 2 5 7.5 2 2 2 .5 2 0 2-1.5 2-3.5 2-1 10 2.5 10.5-1.5 2 0 8 2.5 10 2 3 3 2 4 0 2-.5 6 1 4 1 1.5 4 .5 2 1.5 2.5 2.5 .5 2-3 6.5-1 4-2 2-3 1.5-2.5 0-4-.5-6-1.5-6-3-4 0-6 1.5-3.5 2-1.5 2-6.5 12-5 14-1.5 8.5 0 10-1 6-1.5 7-4.5 11-.5 4.5zM377 261.5l-1.5-.5 0-3.5 2.5 0 1 2-1.5 2zM138 377l12-2 2-1 1.5-1 .5-2 0-6.5 1-2 5.5-6.5 4-4 .5-1.5-.5-2-3 0-5 2.5-2-.5-6.5-4.5-2-1-2 1-2 4.5 .5 6-.5 2-6 12.5 0 4zM241.5 350.5l2 0 2-2 .5-2-.5-1-2-1-3.5 2-1 2zM586.5 286.5l2 0 0-1 .5-2-.5-3-2 1.5-.5 3.5zM586.5 257.5l2 0 .5-2-1 0zM596.5 233l2 .5 0-5.5-4.5 1-1.5 2zM229.5 119.5l2 1 .5-1 1.5-4 5.5-6 1-2 0-2-2.5-3.5-10-8.5-2-.5-2.5 .5-1.5 2-1.5 4-3 2.5-8 0-2 1.5-2 4 1 2 7 2.5 4 5 2 .5 6.5-1 2.5 1zM243.5 80l4 .5 2-1.5 4-4.5 2 0 2 2 2 1 2.5-1 0-1.5-1.5-4-.5-4 1-4 5-7.5 1-2.5 0-4-1-8-2-.5-2 1-7 5.5-1.5 4 2 8-.5 2-1.5 1.5-2 .5-8-3-3 1-2 2 0 4 1 8 2 4zM391.5 76l2 0 2-1 5-6 1-2-2-4-2-2.5-2-1-2 0-3.5 1.5-2.5 2-.5 2 0 4 1.5 4 1 1.5zM302.5 73.5l2 1 2-.5 5.5-3 2.5-.5 14-1 3.5-8.5 5.5-6 5.5-9.5 6-6 4-6 6.5-7 2-4 .5-2-17.5 0-2.5 10-2.5 4-12 8-7 4-8 5.5-3 3-4 6-4 4-1.5 2 0 2 .5 2zM270 33l10-4.5 0-2-1-6-12 0-1 4 .5 4 1.5 3.5z"/><path fill="#004cff" d="M282 450l46.5 0 10.5-10.5 9-6 3-3.5 4-2.5 4-1 8-.5 10.5-4.5 8-.5 6-1 10-3.5 8.5 .5 10-1 20.5-6.5 10-2.5 18-1.5 8.5-3.5 10-3 6-3.5 8-1 3-1.5 4.5-4 1.5-2 .5-2 0-6 1-8-1-4.5-4-4-1-2 .5-2 1-2 18.5-22 6-4 4-7 2-1.5 14.5-4 3.5-2 6.5-8 1.5-4-.5-10-1.5-4-1.5-2.5-8.5-4-1.5-1.5-1-2.5-.5-16-1.5-12-3-8.5-.5-14.5-1-3.5-4-6 0-2 2.5-4 .5-2-2-3.5-4-5-2-4-4.5-4-1.5-2 2.5-8 0-2-.5-2-2-2-2-1-2 0-8 2-2-.5-4.5-4.5-6-1.5-4 .5-2 1-6 4.5-2 1-2 0-2-1.5-2-2.5-6.5-9.5-3-6.5-2.5-2-9.5-6-9-3-8 0-2-1-10.5-5-4-3.5-2 0-4 2-4 1-4 .5-8-2.5-8.5-.5-12-2-8-2.5-14.5-.5-5.5-3-2.5-1-2 0-2 1-4 3-2 .5-6-.5-4 1-2.5 2-2 4-2 2-2 .5-4 0-6-2-8 .5-8 5-6.5 2-3.5 4-6 4-2 2-4.5 7-7.5 7.5-7 10-4 10-4.5 6-2.5 4-.5 4.5 1 6 0 2-4.5 22-13 13-3 5.5-3 3.5-5.5 4.5-4 4-2 4 0 2 1 2.5 2 1.5 2 0 10.5-4.5 6-3 4-1.5 8-1.5 4.5 .5 3.5 3.5 4.5 6.5 4 5 4 9.5 2.5 8 2.5 4 6.5 6 1 2 1 6 1 2 2 2 3.5 2.5 4 1.5 4.5 0 6-.5 8 1.5 8 .5 4 1 3.5 2 1.5 2 2.5 4 4 10 5 5.5 4 2.5 8 3.5 4 3 2 .5 6 0 1.5 1-.5 2-1 1-2.5 1.5-3.5 .5-11.5 7.5-6.5 2-8 1.5-6.5 2-4 .5-2-1-5.5-5-4.5-2.5-2-.5-4 1-4 2.5-2.5 3.5-5.5 10-3.5 10-2 12.5 0 10-1 7-1.5 5-3.5 8-1 4zM344 411.5l3-5 2-1 4-1 4-2 4-.5 2 1 1 0 1 2-1 2-2 2.5-3 1.5-12 2-2 0zM544.5 308l-1.5-2 .5-2 2-1 2.5 .5 1 2.5-1 2-2.5 1zM375 261.5l-.5-2 .5-2 2.5-.5 1.5 .5 .5 2-1 2-1 .5zM107.5 325l2 1 2-.5 4-2.5 2.5-.5 6 1.5 4 0 3.5-2 6.5-5 2-.5 6 0 2-.5 10.5-5.5 10-3 2.5-1.5 3.5-4 2-5 .5-3-2.5-2.5-6 0-12 2.5-8.5 3-10 .5-12 3-2.5 1.5-3 6-2.5 2-8.5 1-2 1-2 2-.5 2 0 4zM316.5 65l4-.5 3-1.5 3-6 3.5-4 1-2-1.5-2-3-.5-2 1-9 5.5-2 2-1 2 0 3 2 2.5z"/><path fill="#0068ff" d="M284 450l38 0 2.5-2 12.5-12 6.5-4.5 1.5-2 3-6-1-1-2-1-8 .5-1.5-2.5 0-2 1.5-4.5 9-10 11-4 4-.5 7 .5 5 2 1.5 2 0 2-.5 2-2.5 3.5-18 9 .5 2 5-.5 6 1 2.5-.5 6-4 2-1 16 0 10-3 16.5-1.5 14-6 6-1.5 20.5-2.5 8-3 8.5-2 8-4.5 10.5-1.5 4.5-2 3-4 2-6-.5-4-4.5-6 0-2.5 3.5-10 3-4 6.5-6 6.5-7.5 4-5.5 7-7.5 8-14 1-8.5 1.5-3.5 4.5-6 .5-2 .5-6.5-.5-12 .5-10-4-18.5-1.5-8-4.5-10-1.5-2-7.5-6-2-.5-4-.5-1.5-1 0-2 1.5-3 2-2 2-1.5 4 1.5 .5-1-.5-1-4-2-3-3.5-3-2-6 1-2-3-1-4-1-2-4.5-6.5-2-2-2-.5-4 .5-6 4.5-2 .5-4-1.5-4.5-3-4.5-4-9-14-2.5-3-2-1.5-4-1-2-1-2-2-2 0-4 1.5-2 .5-2-.5-12.5-4.5-10-5.5-10-3-6.5-.5-16-3.5-8-.5-6-1-10.5 2.5-2 0-6-3.5-2 0-14 9-4 1.5-6.5 1.5-6 .5-8-3.5-4 0-10 5-6.5 5-6.5 3-5.5 8.5-6 5.5-2 2.5-2 6-2.5 4-.5 2 0 6-3.5 6-1 6.5-3 6-1 6 0 6-5 13-2 3.5-6 5.5-2 5.5-4 1-2.5 2-1 2 0 2 1.5 1.5 2-.5 2-1.5 2-4.5 6 2 8 4 10.5 6.5 2 4.5 3.5 16.5 2.5 6.5 8 11 5.5 8.5 4.5 6 4.5 1.5 6 .5 8 1.5 8 .5 6 1.5 4.5 3 8 13 6 5.5 4 2 4 1.5 10 2 10.5 1 1.5 1 1 2-.5 4-2.5 4-6 4.5-4 1.5-6 2-10 5-14 3.5-8.5 6-8 4-4 .5-2-.5-1.5-2-.5-2 0-2 2.5-4 .5-2-.5-2-2.5-1.5-2 0-3 1.5-2 2-7.5 12.5-2.5 7.5-2 10.5-.5 14-.5 6-1.5 4-4.5 10zM410 389l2-2 2-.5 4-.5 2 .5 1 .5-1 2-2 .5-6 .5zM374.5 261.5l-.5-2 .5-2 1-1 2 0 2 1 .5 2-.5 2-2 .5-2 0zM144 310.5l2 0 2 0 2-2 1.5-2.5-.5-2-3-.5-2 0-2 .5-2.5 2-.5 2z"/><path fill="#0084ff" d="M286 450l27 0 3.5-5 4.5-3.5 1-2 4.5-8 8.5-20 10-10.5 12-4 16.5-1.5 12-2.5 8-4 8-2 7.5-4 7-1.5 12-1.5 8 0 8.5-3 2 0 6 1.5 8 .5 8-2 6 .5 6.5-2 2-1.5 12-13 5.5-8.5 8.5-8 5.5-6 4-6 6-6.5 4-6 5-12 2-8 3-8 2.5-10.5-.5-18-1.5-10-2.5-8.5-.5-4-1.5-4-4-6-5-3.5-4-2-8-1-4.5-.5-1.5-1-.5-2 1.5-6 .5-2-.5-2-2.5-4-2.5-8.5-4.5-5.5-2-1-1.5 .5-1 2-1.5 4-2 3.5-2 1.5-2 .5-2 0-2-2-2.5-3.5-8-7-4.5-11-3.5-4-2-1.5-6-3-6-2-8-5-12.5-4-10-6.5-10-3.5-8.5-1-8-2.5-8-1.5-14 0-8.5 3.5-2 0-6-1.5-4 0-4 1.5-8 5.5-4 1-8.5 1-8-.5-8 3-4 0-2.5 .5-3.5 5-2 1.5-6.5 1.5-2 1.5-4 5.5-5.5 5.5-3.5 8-2 8-4 8-4.5 12.5-.5 10-3 14 0 4 0 2.5 1 .5 6 0 3 1.5 3 2.5 2.5 3.5 .5 2-2 6 0 2 1.5 8 .5 8 1 6.5 2 6 4 5.5 4 7 6 8 4 3.5 3.5 2 9 2.5 12 1 8.5 3 2.5 2 5.5 7.5 4 5 6 5.5 4 1 6 .5 10.5 2 8 0 6 1 6-.5 2.5 2 1.5 4-.5 2-2.5 2-7 3-8 5.5-10.5 5-8 3-8 4-14 3.5-2 1-4.5 4-4 3-12 4.5-4 1-2-1.5-2-3.5-2-2-2 0-2 2-2 3-3.5 7-1.5 8.5-.5 12-.5 8-2.5 6-4 8-.5 4.5zM374.5 261.5l-1-2 .5-2 1.5-1 2-.5 2.5 1.5 0 2-.5 2-2 1-2 0zM383.5 411.5l10-.5 12.5-3 10-.5 8.5-4.5 2.5-2 1-2-2-1.5-6 0-6 1-8-1.5-2.5 .5-4 3.5-2 .5-6-.5-4 2-4 4-1.5 2.5zM448.5 397.5l6 0 2.5-.5 3.5-2 6-6-8-5-4-1-4 1-6 5-1 2-.5 2 1.5 3 2 1zM468.5 389.5l2 .5 2 0 2-1 .5-2-.5-1.5-2-1-2 .5-2 2-1.5 2zM489 385.5l2 0 2-.5 1-2-1-2-4-.5-2 1.5-.5 1 1.5 2zM259.5 253.5l2-2-2-1-1 1z"/><path fill="#00a0ff" d="M288 450l17.5 0 3-2.5 2-2 6-9 8-8.5 5-8.5 3.5-7.5 2-3.5 7-7.5 3-2 12-4 16.5-2.5 38.5-13 16-3.5 8 0 10.5-3.5 16 0 10-3.5 8.5-1 6-4 14-15 6-5.5 10-13 5.5-6.5 4.5-8 4-10 7-24.5 .5-4-1.5-8 0-8-1.5-8-3-12.5-3-6-4-3-6-1.5-4 .5-6.5 2-6-.5-1-1.5-1-2.5 0-13.5-2-3-2 0-8 2-6 3-2-.5-5.5-14-8.5-10-1.5-4-1-4-.5-2-2-2-11.5-4-8-6-12.5-5-12-7.5-10-3-10.5-.5-10-4.5-4 0-6 .5-14.5 3-8-.5-4 0-2 1-6 6-6 1.5-18.5-1-10 5-8 7.5-6.5 4-2 2.5-3.5 7-4.5 4-1.5 2-1.5 4-3.5 6-5 10.5-2 8-.5 14 .5 2 1.5 2 2 1.5 6 2 2.5 2.5 2 10.5-.5 4-1.5 4 0 4 2 16 1.5 6.5 7 14 6 6 5 6 4.5 2.5 18 3 8.5 3 4.5 4 3.5 4.5 6 7 4 2.5 2 0 8-1 12.5 3.5 10 0 6-1 8 1 4-.5 6.5-2 4-.5 8 2.5 2 0 8-3 4-3 4.5-2 10-1.5 8 1.5 6-.5 2 1 1 1.5 0 2-1 1-4 1.5-7.5 5.5-6.5 2.5-8 .5-6.5 1-6 0-14 1-2 2-3.5 5-2.5 1.5-18.5 4.5-20.5 10-12 5-18 5-8.5 7.5-10 4-8 5-2 0-4-4-2-.5-2 1-2 3-2.5 6-.5 5 0 10-1 6-1.5 6-5 10-1 4.5zM374 261.5l-.5-2.5 .5-1.5 1.5-1.5 2 0 2.5 1.5 .5 2-1 2.5-2 1-2-.5zM480.5 229l-1.5-1-1.5-5 1.5-3 1.5-1 .5-1.5 .5 5.5z"/><path fill="#00bcff" d="M290 450l12 0 4.5-4.5 8-11.5 9.5-8.5 4-6 5.5-12.5 3.5-4 6-5.5 16-5.5 14.5-2 20-7.5 20.5-6 12-2.5 10-1 8.5-2.5 8-1.5 10 0 8-2.5 8.5-1 2-1 4-3 20-19.5 9-11.5 5.5-6.5 5-8 4.5-10 3-12 1-6 2.5-8.5 0-2-1-6-1.5-12-3.5-18.5-2-3-4-2.5-4-.5-4 1-5 3-2.5 4-.5 2 1.5 8.5-.5 8-1.5 2.5-2 1.5-2 1-2-.5-2-1-1-1.5-3-8-3.5-6-.5-2 4-6.5 0-2.5-1.5-3.5-.5-2 2.5-4 .5-4-1-2.5-2-1-2 0-1.5 1.5-1 2 .5 3.5 1.5 4.5-1.5 6-1 8.5-2 4-1 4-2 3.5-2-1.5-3-6-1-10.5-1-4-5.5-10-2-4 0-4.5 4.5-7.5 0-4-2-4.5-12.5-16-12.5-6-11.5-8-18.5-10-8-2.5-12.5-.5-3.5-1.5-4.5-2.5-2-.5-4-.5-16.5 2.5-6 1.5-6 .5-2 1-4 4-2 1-8 2.5-4-.5-6.5-2-4-1-4 .5-6 3-3.5 3-13 12-7.5 10-7.5 12-3 8.5-2.5 14 .5 4 2 3.5 4 2.5 4.5 2 2.5 2 0 2 0 6.5 .5 8-2 6 0 4 1.5 10 0 6 2.5 8.5 4.5 10 12.5 12.5 8 1.5 12 3.5 7.5 2.5 6.5 4 10.5 11 2 .5 10-1.5 12.5 3.5 4 0 8-1.5 10 1.5 2 0 12.5-3 8 0 6-3.5 8-2 6.5-3.5 4-2 12-2 6.5-5.5 3 0 4.5 3.5 2 .5 2.5-1 2-1.5 1.5-3.5-1-6 1-4 2.5-3 4.5-3-.5-2-4-4-4-4-1-2 1.5-8.5-1-6 0-6 .5-1 2-2.5 2.5 5.5 3.5 4 1 2-2 6 0 2 1 2.5 2 1 2-.5 2-2 2.5-5 7.5-3.5 1.5 1.5 .5 2 .5 10.5-2.5 7.5-2 3.5-6 8.5-4.5 4.5-1 4 .5 8 0 2.5-1 2-3 4-3 2-8.5 3.5-4 5-2 1.5-20 7.5-10.5 2-10 .5-6 1-4 1.5-6 3.5-4 2.5-20.5 4.5-30.5 13.5-20 6-6.5 6.5-10 3.5-3.5 2-6.5 7-2 1.5-2 0-2-2.5-2-1-2 1-1.5 4.5-1 12-2 8-7 16-.5 2.5zM373.5 261.5l-.5-2 .5-1.5 2-2 2-.5 2 1 1 1 0 2-.5 2-.5 1-2 .5-2 0z"/><path fill="#00d8ff" d="M292 450l7.5 0 7-7.5 7-11 9-7 5-7 8-18.5 5.5-4 8-2 4.5-2 5.5-3 10.5 0 4-1 18-7 26.5-8 6-1 11.5 0 17-5.5 2-.5 8 .5 14.5-3 4-2 12-9.5 10-10.5 15-18.5 5-8 4.5-11.5 2-8.5 .5-8.5 2-6 0-2-1-6-.5-10-1-4-2-4-2-10-1-2.5-3-1.5-2 0-2 .5-2 1-1 2-1 6.5 1 8 0 6-2.5 8 0 2 1.5 4-2 6-2 10.5-3 8-1.5 4-6.5 8-3 8-1.5 8.5-1 2-2 2-5 4-9 4.5-6 5.5-2.5 1-16 6-12 3-10.5 .5-4 .5-16 8-15.5 3.5-13 4-13.5 6-9 5.5-8 .5-11.5 4-4.5 5.5-2 1.5-8.5 1.5-4.5 1.5-3.5 3-8 10.5-6 5-5.5 14-6.5 14 0 2.5zM373.5 333l4 .5 2 0 8-3 4-1 12-.5 8.5-1.5 6 .5 4-.5 6-2 6-4 8.5-1 12-3.5 14-7 1.5-2 1-4 3-6 .5-2-2-4-.5-4 2-6.5 0-4-1.5-4.5-3-5.5 0-2 2.5-12-.5-14.5-1.5-4-5-8-1.5-4-1.5-4-.5-10 0-2 2-4.5 0-2-1-2-2-3-6-6-6-3-8-3-6.5-5.5-8-5.5-4-2.5-10-2-8.5-3-20-2.5-8-2.5-6 0-4.5 1-8 5.5-8 3.5-8 1.5-4 1-2 .5-2-.5-8.5-4.5-4.5 .5-3.5 1.5-3 2.5-8.5 8-5 6-6 5-8.5 13-2.5 6.5-1 14 .5 4 2.5 2 5 .5 4 1.5 7 6 .5 2-2.5 6.5-7 20 1 16 3 10.5 1.5 4 3 3.5 10 7.5 24.5 9.5 10.5 5.5 9.5 6 4 1 8 0zM377.5 263.5l-2-.5-2-1.5-.5-2 .5-2 2-2 2-.5 2 1 1 1.5 .5 2-.5 2-1 1z"/><path fill="#0cf4eb" d="M294 450l2.5 0 8-8.5 7.5-12 2.5-2 4.5-2 3.5-3 4-7 3-8.5 .5-4-1.5-1-2-.5-4 .5-4 2.5-2.5 2.5-5.5 9.5-6 7-4 8-6.5 14.5-.5 4zM428 367.5l4 0 4-.5 10.5-4.5-2-.5-6.5 .5-6-.5-4 .5-2.5 2 .5 2zM460.5 361.5l4 .5 12.5-3 8-6 7-4.5 2.5-2 2.5-4 2-6 4-2 4-3.5 13.5-17 3-6.5 2-7.5 1-6 0-8.5 1.5-6 0-2-.5-2-3.5-6 .5-2 1-1 .5-3-.5-3-2-1-2 2 0 3.5 1 2.5 0 2-1 .5-1.5 3.5 0 4-1 2-4 8.5-2 10-3 6-1 4-5 6-1.5 2-2.5 10-1 6.5 0 4-4 1-10.5 5-6.5 4-5.5 5-8.5 3-3.5 2-2.5 2 .5 2zM369.5 324.5l4 1.5 2 0 6-2.5 8 0 8.5-3.5 1.5 0 6.5 1 10 0 12-2 8-3 6.5 0 4-1 7-5 7-2.5 3.5-3.5 3-8 .5-8 1.5-6.5-.5-4-3-6-1-4-.5-4 3-12-2-14.5-4-6-5-10-4-20.5-1-2-2.5-1.5-4.5-4.5-8-3.5-8-6.5-4-4-2-1-12-4-6.5 .5-4-3.5-2-1-10-1.5-6-.5-8-3-2-.5-2 .5-4.5 2-16 12.5-6.5 1.5-4.5 4-4.5 6-3 2-2 0-8.5-8 1.5-2 3-2 1.5-2 0-2-1.5-2.5-2-.5-2 .5-5.5 6.5-5.5 4-1.5 4-6 6-1.5 2.5-4.5 3-4 4-2.5 5-1.5 6 .5 2 1.5 2 2 .5 6.5-1.5 2 0 1 1 1 2 1 4 5 9.5 .5 2.5-.5 4-3 6.5-1.5 8-5.5 6-2 4-1 4 1.5 14 5.5 14.5 1 2 3 2 11 6 23.5 10 16 5.5 6-.5zM375.5 263.5l-2-1.5-1-2.5 1-2.5 2-2 2 0 2 .5 1.5 2 .5 2-1 2-1 1.5-2 .5z"/><path fill="#23ffd4" d="M312.5 424l2 .5 4-1 4-3.5 2.5-4.5 1.5-4 1-4.5-1-2.5-2-.5-4 1-4 4.5-3 6-1.5 4-.5 4zM509 320.5l6.5-6 4-6.5 1.5-4 0-2-1.5-2-2 1-2.5 3-1.5 6-4.5 6.5-.5 1.5zM385.5 318.5l3.5-.5 4.5-3 4-1 4 0 6.5 2 6 0 8-1.5 8-1 8-3 6.5 0 6-4.5 7.5-4 1.5-2 2-6 1-10.5-4-22 2-12-1.5-8.5-3-6-2.5-8-4-10-2-4-11-16.5-10.5-7.5-4-5-2-1.5-10-1.5-8.5 1-8-1.5-12-6-4-.5-8 2-6.5 0-4 2-6 6.5-6 5-6 7.5-10.5 7-5 5-3 8-5.5 6-2.5 4-1 4-.5 10-3 8.5-1.5 6-2 4-6 6-.5 2-.5 4 .5 10 1 4 5 6.5 3.5 6 9 7 14.5 7 8 2.5 4 .5 10 0 14.5 2.5 10-1zM375 263.5l-2-2-.5-2 0-2 3-2.5 2-.5 2 1 1.5 2 .5 2-.5 2-1.5 1.5-2 1z"/><path fill="#39ffbe" d="M316.5 421l2 0 2-1.5 2-2.5 2.5-5.5 0-2-.5-2.5-2-.5-2 1-2 2-2 3-1.5 5 0 2zM363 312l6.5 1 10-1 8 .5 10-2.5 4-.5 8.5 1.5 8-2 12 .5 14.5-5.5 8-6 1.5-2 2.5-7 .5-5.5-1-6-3.5-8-.5-2 2-8 0-4-2.5-8 .5-8.5-1.5-7.5-4-8.5-4.5-10-4.5-6-3.5-6.5-4-3.5-12-9-8-2-10.5 1-8-2-12-6-4 .5-4 1.5-6.5 1.5-3.5 2-4.5 6-4.5 4-19.5 15.5-2.5 3-3.5 8-6.5 7.5-2 3-1 3.5-1 10-3.5 10.5-2 4-5.5 6-1.5 4 0 12 1 4 10 12.5 3.5 3 14.5 8 4 1.5 6 1 10-.5zM374.5 263.5l-2-2-.5-2 .5-2 3-3 2 0 2 .5 2 2.5 .5 2-.5 2-2 2-2 .5z"/><path fill="#50ffa7" d="M318.5 416l2-.5 1-2-1-2-2 3zM369.5 310l10-.5 10 0 12-2.5 8.5 0 8-2 8 1 3 0 3-1 10.5-6.5 3-2.5 1.5-2 3-10.5 0-4-2-6-.5-4 1-10-2-12 .5-12.5-.5-2.5-3.5-5.5-5-12.5-2-2.5-4-3-4.5-6.5-5.5-5.5-2.5-2.5-3.5-1.5-6-1.5-8.5 1-2-.5-12.5-3.5-9-4-2.5 0-4.5 2-2.5 2-5.5 8-7 4-11.5 8.5-5.5 8-4.5 4-7 8-4 6-8.5 24.5-6 8-1 2-.5 12 1 3.5 2 2.5 4.5 4.5 5 6 2.5 2 10.5 6 4 1.5 16 .5zM374 263.5l-1.5-2-.5-2 0-2 1.5-2 2-1 2-.5 2 1 2 2.5 .5 2-.5 2-2 2-2 1z"/><path fill="#66ff90" d="M355 306.5l14.5 1.5 12-1 8 .5 12-3 12.5-2.5 14 0 4-2 5-4 3.5-4 2.5-6.5 1.5-6-1.5-14 .5-12-1.5-16.5-2.5-6-2-8-3.5-6-6-5.5-8-9-8-5-4-1-8.5 0-6-2.5-6-1.5-8 0-4 .5-2 .5-7.5 7-7 4-4.5 4.5-7.5 4.5-12 11.5-7.5 10-5 12-4 12.5-6.5 10-.5 4 .5 8 1 2 5.5 5.5 3 5 1.5 2 12 7.5 4 1zM373.5 263.5l-1.5-2-.5-2 .5-2 1.5-2 2-1.5 2 0 2 .5 2.5 3 0 2-.5 2.5-2 2-2 .5-2 0z"/><path fill="#7dff7a" d="M355 304l6 1 10.5 .5 20 0 8-3 6.5-1 8-2.5 8-1 6-2 4-2 2-2 2-3.5 1.5-3 1-4 .5-10-.5-8 1-8-1.5-14.5-1-4-2.5-6-1-6-2.5-4-13-13.5-7-5-3-1.5-8.5 0-10-5-4 0-4 1-3.5 1.5-11 8-10 6-6 2.5-4 3-10 9-6.5 9-5.5 13.5-3.5 10-5.5 10 0 2 .5 3.5 7 15 1.5 2 2 2 10 6zM373 263.5l-1-2-.5-2 0-2 1.5-2 2.5-1.5 2 0 3 1.5 1.5 2 .5 2-.5 2-1.5 2-3 1.5-2-.5z"/><path fill="#94ff63" d="M357 302l4 1 30.5 0 30.5-10 6-3 2-2.5 2.5-4 2-4 .5-6 0-24-.5-6.5-1-4-6-14-9.5-10-8-6-4-2-10-2.5-6.5-4-2 0-2.5 0-8.5 6.5-15.5 8-8 3-4 2-8.5 7-7.5 10-6.5 15.5-2.5 9-3 6-.5 2 .5 4 5 12 2.5 4.5 10.5 6.5 4 1.5 8 2zM373 263.5l-1.5-2-.5-2 .5-2 1-2 3-2 2 0 2 .5 1.5 1.5 1.5 2 0 2 0 2-1.5 2-3.5 1.5-2 0z"/><path fill="#aaff4d" d="M359 300.5l18.5 1 10 0 4-.5 18.5-7 8-2.5 8-6 3.5-4 1.5-4 .5-4 .5-12-.5-8 .5-6-.5-4.5-1.5-3-7-13-7-8-6-4.5-4-2-8.5-2.5-8-2.5-4 0-12 5-12.5 6-10 3.5-9 7-6 8-7.5 18.5-4.5 12 0 4 3.5 10 1 3 2.5 3.5 9.5 6zM372.5 263.5l-1-2-.5-2 .5-2.5 2-2.5 2-1 2 0 2 .5 2 1.5 1 2 .5 2-.5 2-1 2-2 1.5-2 .5-2-.5z"/><path fill="#c1ff36" d="M359 298l4 1 16.5 .5 8 0 4-1 24.5-10 5.5-5 6-8 .5-3.5 .5-10.5-2-8 1-6 0-2.5-1-2-3-4-3-6-2-2-5-4-5-6-9-5-4-1-6 0-6-1-4 0-6 2-10 5-10.5 3-4 2.5-3 2.5-8.5 12-3 8.5-4 8-2 6-1.5 6 1 4 3 8 3 4 9 6.5zM376.5 265.5l-3-1-1.5-1-1-2-.5-2 .5-2 1-2 3-2 2.5-.5 2 .5 2 1.5 1.5 2.5 0 2 0 2-1.5 2-2 1.5z"/><path fill="#d7ff1f" d="M377.5 298l6-.5 6-1 12-4.5 14.5-7 3-3.5 4.5-8 1-12-.5-3.5-6.5-19-2-4-1.5-2-6-5-10.5-7-4-1-12-1.5-6 .5-8.5 3.5-14 4.5-4 3-10 13-2.5 8.5-5 10-1.5 8 1 4 4 8 10 8 16 7zM375 265.5l-1.5-1-2-2-1-3 0-2 1-2 3-2 3-.5 2 .5 2 1 1.5 3 0 4-1 2-2.5 2-2 .5z"/><path fill="#eeff09" d="M375.5 296l6 0 6-1.5 10-3.5 14.5-7 3-2.5 1.5-2 3-8 .5-8-.5-4-4.5-12-2.5-10.5-1.5-2-3-2.5-12.5-7.5-4-2-10-1-6 0-23.5 9-2 2-8 10-7.5 20.5-1 6 2 6 2.5 4 6.5 6 11 6.5 5.5 2zM374.5 265.5l-3-2-1-2 0-4 1-2 2-2 2-1 4 .5 2 1.5 2 3 0 4-1.5 2-2.5 2-2 .5z"/><path fill="#ffe600" d="M373.5 294l4 .5 4-.5 16-6 14.5-8 1.5-2.5 1.5-4 .5-4 0-4-2.5-14-3.5-12.5-1.5-2-2-2-10.5-6.5-6-2.5-8-1.5-6 .5-12.5 4-10 5.5-8 8.5-1.5 2-4 14.5-1.5 8 .5 4 1.5 4 5 6 5 4 11 6.5 4 1zM373.5 265.5l-2-2-1.5-2 0-4 1-2 2.5-2.5 2-.5 4 0 2 1.5 2 3.5 0 4-1 2-3 2.5-4 0z"/><path fill="#ffcc00" d="M373.5 292l4 0 6-1.5 10-4 12.5-7 3-2 1.5-2 1.5-6 0-4-3-16-1.5-6.5-1.5-3-10.5-7.5-4-2.5-6-2-6-1-6 .5-6.5 2.5-8 4-4.5 3-7.5 8-1 2.5-2 6-1.5 8-.5 6 .5 4 4 6 3 4 5.5 4 7.5 4.5zM373 265.5l-2-2-1-2-.5-2 1-4 3-2.5 2-1 4 .5 2 1 2.5 4 0 4-2.5 3.5-2 1-4 .5z"/><path fill="#ffb200" d="M373.5 290l4 0 4-1 8-3 4-2.5 12.5-8.5 2-3.5 .5-4-1.5-16-3.5-8.5-3.5-4-8.5-6-6-2.5-6-1.5-6 .5-4 1-6.5 3-6 4-5 5.5-4 6.5-2 8-.5 8 .5 4 2 4 4 6 3 3 8 4.5 4 1.5zM372.5 265.5l-2-2-1-2 0-2 1-4 3-3 2-.5 4 0 2 1.5 3 4-.5 4-2.5 3.5-2 1.5-4 0z"/><path fill="#ff9800" d="M373.5 288l6-.5 10-4 12.5-10 2-2 1.5-4-.5-14-1.5-6-2.5-4.5-5.5-5.5-4-3-6-2.5-6-1.5-4 0-6 1.5-6.5 3-4 2.5-3.5 3.5-3 4-3 6.5-1 4-.5 6 .5 6 1.5 4 3.5 6 3.5 3.5 6 3.5 4 2zM372.5 265.5l-2.5-2-.5-2-.5-2 1-4 3.5-3.5 2-.5 4 .5 2 1 3 4.5 0 4-1 2-2 2-2 1-4 .5z"/><path fill="#ff7e00" d="M373.5 286l6-.5 5.5-2 4-2 2.5-2 4-5 5.5-5 1.5-4 1-12-1-4-3-6.5-4-4-4-3-4-2-8-2-4-.5-4 1-6.5 2.5-6 4-2 2-3 4-2.5 6.5-1 4 0 6 .5 6 2.5 6 3 4 2.5 2.5 6 3.5zM372 265.5l-2-2-1.5-4 1-4 4-4 4 0 4 1 2.5 3 1 2 0 4-1 2-2.5 2.5-2 1-4 0-2-.5zM394.5 265.5l-.5-6 .5-2 1-1.5 1.5 5.5-1.5 4.5zM381.5 243l2-.5 2.5 .5-.5 1zM374 241l5.5 0 1.5 0-1.5 1z"/><path fill="#ff6400" d="M371.5 284l6-.5 9.5-6 3-6 2.5-6 .5-8-.5-2-1.5-4-1.5-2-4-3.5-6-2-10 .5-2-1.5 2.5-2 3.5-1 6 0 4 1 4 2 5 4.5 2.5 4 2.5 5.5 2 2.5 2-3.5 0-4.5-1-4-4-6.5-7-5-4-1.5-6-1.5-4-.5-4 1-6.5 2.5-4 2.5-2.5 2.5-3 4-3 8.5 0 8 .5 4 4 10 2 2.5 4 3 4 1.5zM371.5 265.5l-2-2-1.5-4 1.5-4 1-2 3-2 2-.5 2 0 4 1 3 3.5 .5 2 0 4-.5 2-3 3-2 1-6-.5z"/><path fill="#ff4a00" d="M365 280l4.5 1 2-.5 3-3 7-1 4-2 3-3 2-4 1-4 .5-6-2-6-4.5-4.5-6-2-5 0-8 2.5-3.5 2-3 4-2.5 8 .5 2 1 2-.5 6 1.5 4 2 2zM374 267.5l-2.5-1.5-2.5-2.5-1-2 0-4 2-4 3.5-3 4-.5 2 .5 2 1 3.5 4 1 4-1 4-3.5 3.5-4 1zM399.5 254l.5-2.5-.5-2-1.5-4.5-3-4-3.5-2.5-4-2.5-8-2-4-.5-4 1-8.5 4-4.5 4.5-1.5 2-1 4.5 0 2 1 1.5 6-8 6.5-5 6-1 4 0 6 1.5 4 2.5 4.5 4.5 3.5 5.5z"/><path fill="#ff3000" d="M371.5 276l8-1 4-1 3-2.5 3-5 1-7-.5-6-2.5-3.5-4-2.5-4-1-5 1-9.5 3.5-3 4.5-1 6 2 8 2 3.5 2 2zM372.5 267.5l-3-2.5-2-3.5-.5-2 1.5-6 3-3.5 6-.5 4 1 3 3 2 4 0 4-1 2-2 2.5-4 2.5-4 0zM395.5 246l0-1.5-2.5-3.5-2.5-2-5-2.5-5.5-1.5-4.5 0-2 0-2 1.5-3 .5 1 .5 10 0 4 .5 4 2z"/><path fill="#ff1600" d="M371.5 273.5l7.5 0 4.5-1.5 2-2.5 2.5-6 1-6-1-4-2.5-3-2-.5 0 1.5 3.5 4 0 8-5.5 5-6 1-4-1.5-3.5-2.5-1-2.5-1.5-1.5-.5-1-.5 7 .5 1.5 2 3z"/></g><path d="M217 53l5-.5 6 3.5-2 4-.5 6.5-3.5-5.5-4-3zM99.5 94.5l4.5 .5 1 4 5.5 1 1 8-.5 10-1 4-3.5 1 .5 7-1.5 7-1.5 4 3 4 4 2.5-5 1-4-2.5-2.5-5zM113 96l4-6 2-6 4-1.5 2 1.5-4 3 4 2 9.5-.5-1.5 3.5-9 4-5-.5-2-2.5zM106.5 199l5-1-.5 7-3 7-5 4.5-3.5 .5 0-4 4.5-3 2-5zM111 221.5l1.5 .5 0 6.5-1.5-.5zM99.5 237l3.5 1 1.5 12-1 16-1.5 16-2.5 1zM573.5 64.5l12 0 0 22.5-8.5-.5-2-6.5 3-6-4-4zM582.5 292l3 0 0 110-2 0-1.5-32 1.5-40zM574.5 417l11 .5 0 12-9.5-.5 2-5zM283 402l6 1 5 7-2 9-4 9-5 4-1.5-8 3.5-9-2.5-7zM299.5 437l2.5-7 6-4.5 7 .5 4.5 6-1.5 5-3.5 0-1.5-6-5-1.5-4 3.5-1 4zM176.5 437l1.5-4 3-1.5 1.5 2-2.5 1-1 2.5zM134.5 64l2 .5-2.5 3.5-4.5 4-1.5-1.5-1-1 2-2.5 3-4.5 5.5-4zM169 43.5l0 1 .5 2-1.5-1-1.5-2.5-1-2.5 1.5 .5-.5-2.5 1.5 3.5zM522 73.5l-1.5 2.5-1.5 .5-2 0 0-4.5 1.5-2 1 0 1-2 1 2.5zM562 68l-.5 1-7 0-7.5 0-1-1-5-1 8-.5 5.5 0 12.5-.5zM349 86l.5 1-2 1.5-1 0-2 1 1-1.5 1-1.5 1.5-1 2-1.5zM338.5 96l0 1-1 1.5-2 1-.5-.5 .5-1.5 .5-1 1.5-.5 1.5-1.5zM328.5 104.5l-1.5 2.5-1 2-2 0-2 2 0-1.5 .5-1 2-1.5 2-2.5zM317.5 112.5l0 1.5-1 1-1 .5-1.5 .5-.5-.5 .5-1 1-1.5 1.5 0zM325.5 133.5l-1 .5-1 1-1.5-1 0-1-1-1 2 0 1 0 1 0zM328.5 383l-.5 1.5-1.5-1-1 0 1-1.5-.5-1.5 1-.5 1 .5 1 1zM147.6 53.4h1.5v1.5h-1.5zM148.7 274.8h1.5v1.5h-1.5zM329.3 379.3h1.5v1.5h-1.5zM321.3 139.3h1.5v1.5h-1.5zM351.3 83.3h1.5v1.5h-1.5z" fill="#fff"/><path d="M97.5 308l4-1 1.5 0 2-1 3.5-3 3.5 0 1.5-2 3.5-1 2.5-1 3.5 1.5 2.5-1 3 1.5 2 .5 3-4 2.5-.5 3-1.5 .5-1 2 1 2.5 0 3-.5 5-3.5-.5-3-.5-4-1.5-3.5 5 .5 1.5 2 2 3.5 2 0 2.5-.5 1 2 3 2 1-5.5 2-.5 3-2 3.5-.5 3.5-1.5 4 0 2 1.5 4-1 1.5 1 3-3 4 1.5 3-2.5 3-1 3 .5 4-1.5 1.5-2 1.5-3 2-2.5 5-1.5 1-3 3-1.5 3-2.5 2.5-.5 3.5-.5 2-2 1-2 3.5-2.5 .5-3 3.5-2.5 3-1 2.5-2 3.5 0 2-.5 2-2.5 1.5-2.5 .5-2.5 2-1.5 1.5-4 3-1 1-.5 3.5-1.5 3-2-1-3 .5-3 0-3.5 1.5-3.5 1-.5 2-2.5 .5-3 4-2.5 .5-3 4-4.5 1-1 1.5-3.5 1.5-4 2-2.5 2.5-2.5 1-3.5 3.5-2.5 0-3.5 3.5-1.5 3.5-.5 3-4 2.5 0 1.5-2.5 1-5 1.5-3.5 0-.5 2-4 4-3-1.5-3 .5-5.5 1.5-2-2.5-1-3-2-3-1-2-1-3-1.5-4-1-3-1-3 1-3.5-1.5-4 .5-1.5-1.5-3 .5 3-2 4-1 2.5-.5 3.5-2.5 1-.5 3.5-2.5 3.5 0 2.5-2 3.5 0 1.5-1.5 3 0 1.5-3 1.5-3.5-2.5-4.5-1.5-1.5-1.5-1.5-5.5-2 0-1.5-4.5-1.5-3-.5-2.5 0-3-2.5-3 .5-4-1.5-4 1-1.5-2 1.5 .5 5-.5 2.5-1 1.5 1 4 0 4-.5 1.5 2.5 4.5-.5 3 .5 2 1.5 1 1.5 4.5 1-3-1.5-3-4.5-2-1.5-1-1.5-4.5-3 .5-2.5-5-1.5 0-3-1.5-4.5 0-2-3-2 .5-4-2.5-3-1.5-3.5-1-3.5-1.5-3.5-2-2-.5-3-4.5-1.5-2.5-1-1-.5-2-2-1.5 .5-4.5-5-2.5 0-4-1.5 .5-3.5 .5-1-1.5-3.5-.5-3.5M302.5 235l2.5-1 2.5-3.5 3.5-1 2.5 .5 2.5 0 1.5 3.5 4 1 0 2.5-1.5 2.5-2 3 .5 3.5-1 3-1.5 4-2 2-1.5 4.5 .5 2.5 .5 4-2.5 3-1 3-1 1-.5 3-2 3-1.5 3.5-2.5 1-.5 5.5-1 2-.5 1.5-1.5 4.5-1-2.5-2.5-2.5-1-2-2-2.5-2.5-1-2-2.5-1-4.5-1-2.5-2-3.5 0-2.5 2.5-5-1-2.5 1.5-2 1.5-5.5 0-1 1.5-2 1-1.5 3.5-5.5 2-3 .5-3.5 4-1 1.5-3.5M289 415.5l0-3.5 0-3.5-1-3 0-3 2.5-4.5 0-3.5 1-1.5-.5-3.5 .5-4 0-3 .5-3 .5-2.5 1.5-4.5-1.5-2 2.5-4 1 0 5-2.5 1.5 .5 2 1.5 3 1 5 1 1.5-.5 2.5 1 5 2 .5-2 2.5-.5 2.5-.5 .5 1.5 1 4.5 1 1-1.5 4-1 3.5-2 2.5 2.5 2.5 2.5 4-.5 3 2 3 0 2-3.5 4 .5 2.5-.5 3-1 2.5-3.5 1-4 3-1.5-.5-4 3 1.5 2.5-.5 3 1.5 4.5-1.5 3.5-1.5 3-2 3-1 3M279 410.5l4 5-5 4 3 12 2 10M479 71l.5-3 2.5-1.5 1-4 3-1 5 0 2.5-1.5 1.5-.5 4.5-1.5 1-1 2.5-2 1.5 2 3 4 4.5-.5 1.5-.5 1.5-.5 4.5 1 2 4.5 .5 2.5 1.5 2 .5 3 0 2.5 1 2-1 3-2.5 3-1.5 1.5-1 4.5-2.5 2.5-1 4-.5 2-1 2.5-2.5 1.5-2.5 2.5-2 4-2.5 2.5-3.5 .5-2 3-.5-3.5-1-3-3 1-3.5-1-1.5 0 .5-4 1.5-5-2-2.5 2-2.5-1.5-4 0-1.5-1.5-3.5 2.5-1 3.5-2 2.5-3-2.5-1.5-3 0-3-2.5-1.5 2.5-4-1.5-2 4 0-3.5-2-2.5 0-2.5M527.5 67l2.5-3 2.5-3 2.5-1.5 2-2 3-3.5 3.5 0 2-.5 3.5-1.5 2.5-3 4.5 1 2-3 3-1 3.5 2.5 2-1 3.5 .5 5.5-.5 2.5 2 1 1-.5 2 2 4-2 3.5-4 1.5-1.5 3-3 1.5-2.5 0-5.5 0-.5 1.5-4-3-1 1-5-1-2 4.5-1 1.5-1.5 5-1.5 2-3-1-4 0-2-1.5-3.5-3-1.5-1-2-2-2-2M503 53l2-8 12.5-6.5 12-10M504 54l4-.5 3 .5 3.5-1.5 4.5 0 2-.5 3-1.5 2-.5 3-1 2.5-2.5 3.5 0 4 .5 3 .5 4-1 1.5-.5 4-1 2.5-2 3 0 3-1.5 2.5-.5 3.5-1.5 3.5 1 3.5-1 2-.5 4-1 2 1.5 4 0 1.5-1 3.5 1M404 26.5l1.5 3 .5 3 3 2.5 1 4.5-1 1-1.5 2.5-1.5 3.5 4-2 1.5 3 2-1.5 4.5-1.5 1.5 0 1.5-.5 3.5-1 4.5-1.5 1-1.5 3.5-1.5 2-3.5 2 1 4-1 2.5 .5 3-.5 3.5 1 4-2 2 0 3.5-2 3-.5 1.5-3.5 3.5-1M423.5 64l-1.5-1.5-3.5-.5-4 0-4 1-3 1.5-1 2 1.5 1.5 3 1 4.5 0 4-1 3-2 1-2M437 213l3.5-7.5 9-8-6 8-6.5 7.5M477.5 164.5l-2.5 0-3.5 2-3 3.5-.5 2 2.5 0 3.5-2 3-3.5 .5-2M391.5 238l-1.5-.5-2 1.5-.5 1.5 1.5 0 2-1 .5-1.5M367 246.5l-2-1-4 .5-2 2 2.5 1 4-.5 1.5-2M506.5 122l0-5-1 0-1.5 4.5-.5 4.5 1.5 .5 1.5-4.5M497.5 127l-1-2.5-3 0-1 2.5 1 2 3 0 1-2M462.5 78.5l3-5.5-2-1.5-5 4-3 5.5 2 1.5 5-4M472.5 45.5l1.5-6-1.5-.5-3.5 5-2 6 2 .5 3.5-5M330 130.5l-2-1-3.5 1.5-1.5 2 2.5 1 3.5-1 1-2.5M320.5 102.5l-2.5-2-6-1.5-3.5 .5 2.5 2 6 1.5 3.5-.5M97.5 338.5l3 5-3 5M322.5 350.5l-1.5-1.5-2 .5 0 2 2 .5 1.5-1.5M413 42.5l-2-1.5-3.5 .5 0 2.5 3.5 .5 2-2M424.5 47l-1.5-2-3 1 0 1.5 3 1 1.5-1.5M437 43.5l-2-1.5-3.5 1 0 1.5 3.5 1 2-2M459 35.5l-2-2-2.5 1 0 2.5 2.5 .5 2-2M444.5 37.5l-1.5-1.5-2.5 .5 0 2 2.5 .5 1.5-1.5" fill="none" stroke="#000" stroke-opacity=".8" stroke-width=".75" stroke-linejoin="round"/><path d="M110 41h467M110 51h467M110 60.5h467M110 70.5h467M110 80h467M110 90h467M110 100h467M110 109.5h467M110 119.5h467M110 129h467M110 139h467M110 148.5h467M110 158.5h467M110 168h467M110 178h467M110 187.5h467M110 197.5h467M110 207h467M110 217h467M110 226.5h467M110 236.5h467M110 246h467M110 256h467M110 265.5h467M110 275.5h467M110 285h467M110 295h467M110 304.5h467M110 314.5h467M110 324h467M110 334h467M110 344h467M110 353.5h467M110 363.5h467M110 373h467M110 383h467M110 392.5h467M110 402.5h467M110 412h467M110 422h467M110 431.5h467" stroke="#00001c" stroke-width="1.45" stroke-linecap="round" stroke-dasharray="0 10.37" fill="none" opacity=".7"/><path d="M358.5 148.5l-.5 0M369 148.5l-1 0M379.5 148.5l-1 0M390 148.5l-1 0M317 158.5l-.5 .5M327.5 158.5l-.5 .5M338 158.5l-1 .5M348.5 158.5l-1.5 .5M358.5 158.5l-1.5 .5M369 158.5l-2 .5M379.5 158.5l-2 0M390 158.5l-1.5 0M400 158.5l-1.5 0M410.5 158.5l-1.5 0M421 158.5l-1-.5M296.5 168l-.5 .5M307 168l-1 1M317 168l-1.5 1.5M327.5 168l-1.5 1M338 168l-1.5 1M348.5 168l-2 1M358.5 168l-2 1M369 168l-3 .5M379.5 168l-2.5 .5M390 168l-2.5 0M400 168l-2.5-.5M410.5 168l-2-.5M421 168l-2-.5M431.5 168l-1-.5M441.5 168l-1-.5M286 178l-.5 .5M296.5 178l-1 1M307 178l-1.5 1.5M317 178l-2 2M327.5 178l-2 1.5M338 178l-2 1.5M348.5 178l-2.5 1M358.5 178l-3 1M369 178l-3 1M379.5 178l-3.5 .5M390 178l-3 0M400 178l-3-.5M410.5 178l-3-.5M421 178l-2.5-1M431.5 178l-2-1M441.5 178l-1.5-1M452 178l-1-.5M462.5 178l-.5-.5M286 187.5l-.5 1M296.5 187.5l-1 1.5M307 187.5l-1.5 2M317 187.5l-2 2M327.5 187.5l-2 1.5M338 187.5l-2 1.5M348.5 187.5l-2.5 1.5M358.5 187.5l-3.5 1.5M369 187.5l-4 1M379.5 187.5l-4.5 .5M390 187.5l-4 0M400 187.5l-3.5-.5M410.5 187.5l-3.5-1M421 187.5l-3-1.5M431.5 187.5l-2.5-1.5M441.5 187.5l-2-1.5M452 187.5l-1.5-1.5M462.5 187.5l-1-1M275.5 197.5l-.5 .5M286 197.5l-.5 1.5M296.5 197.5l-1.5 2M307 197.5l-1.5 2.5M317 197.5l-2 2.5M327.5 197.5l-2 2M338 197.5l-2.5 2M348.5 197.5l-3 2M358.5 197.5l-3.5 1.5M369 197.5l-4.5 1M379.5 197.5l-5 .5M390 197.5l-5.5-.5M400 197.5l-4.5-1M410.5 197.5l-4.5-1.5M421 197.5l-4-2M431.5 197.5l-3-2M441.5 197.5l-2.5-2M452 197.5l-2-1.5M462.5 197.5l-1.5-1.5M473 197.5l-.5-.5M493.5 197.5l-.5-.5M275.5 207l-.5 1M286 207l-1 2M296.5 207l-1 2.5M307 207l-1.5 2.5M317 207l-1.5 2.5M327.5 207l-2 2.5M338 207l-2.5 2.5M348.5 207l-3.5 2.5M358.5 207l-4 2M369 207l-5 1.5M379.5 207l-6 .5M390 207l-6-.5M400 207l-5.5-1.5M410.5 207l-5-2.5M421 207l-4-2.5M431.5 207l-3-2.5M441.5 207l-2.5-2.5M452 207l-2-2M462.5 207l-1.5-1.5M473 207l-1-1.5M483 207l-.5-.5M493.5 207l-.5-1M504 207l-.5-.5M275.5 217l-.5 1.5M286 217l-.5 2.5M296.5 217l-1 2.5M307 217l-1 2.5M317 217l-1.5 2.5M327.5 217l-2 3M338 217l-2.5 3M348.5 217l-4 3.5M358.5 217l-5 3M369 217l-6 2M379.5 217l-7 .5M390 217l-6.5-1M400 217l-6.5-2.5M410.5 217l-5.5-3M421 217l-4.5-3.5M431.5 217l-3.5-3.5M441.5 217l-2.5-3M452 217l-2-2.5M462.5 217l-1-1.5M473 217l-1-1M483 217l-.5-1M493.5 217l-.5-1M504 217l-.5-1M275.5 226.5l-.5 1.5M286 226.5l-.5 2.5M296.5 226.5l-.5 2.5M307 226.5l-1 2.5M317 226.5l-1 3M327.5 226.5l-1.5 3.5M338 226.5l-3 4.5M348.5 226.5l-4.5 5M358.5 226.5l-6 4.5M369 226.5l-7.5 3M379.5 226.5l-8.5 .5M390 226.5l-8-2M400 226.5l-6.5-3.5M410.5 226.5l-5.5-4M421 226.5l-4.5-4.5M431.5 226.5l-3.5-4M441.5 226.5l-2.5-3.5M452 226.5l-1.5-3M462.5 226.5l-1-2M473 226.5l-.5-1.5M483 226.5l-.5-1M493.5 226.5l-.5-1.5M504 226.5l-.5-1M514 226.5l-.5-.5M265.5 236.5l0 .5M275.5 236.5l0 1.5M286 236.5l0 2M296.5 236.5l-.5 2M307 236.5l-.5 2.5M317 236.5l-1 3.5M327.5 236.5l-1.5 4.5M338 236.5l-2.5 6M348.5 236.5l-4 6.5M358.5 236.5l-6.5 6.5M369 236.5l-10 5M379.5 236.5l-12 .5M390 236.5l-10-4M400 236.5l-7-5.5M410.5 236.5l-5.5-6M421 236.5l-4-5.5M431.5 236.5l-3-5M441.5 236.5l-2-4M452 236.5l-1.5-3M462.5 236.5l-1-2.5M473 236.5l-.5-2M483 236.5l-.5-1M493.5 236.5l-.5-1.5M504 236.5l-.5-1M514 236.5l-.5-1.5M524.5 236.5l-.5-1.5M265.5 246l0 .5M275.5 246l0 1M286 246l0 1.5M296.5 246l0 2M307 246l0 2.5M317 246l-.5 3.5M327.5 246l-.5 5.5M338 246l-1.5 7M348.5 246l-2.5 8.5M358.5 246l-5.5 10M369 246l-8.5 7M379.5 246l-11.5-.5M390 246l-8.5-6M400 246l-6.5-8.5M410.5 246l-4-7M421 246l-3-6.5M431.5 246l-2.5-6M441.5 246l-1.5-4.5M452 246l-1-3.5M462.5 246l-1-3M473 246l-.5-2M483 246l-.5-1.5M493.5 246l-.5-1.5M504 246l-.5-1.5M514 246l-.5-2M524.5 246l-.5-2M535 246l0-1M286 256l0 1.5M296.5 256l0 2M307 256l.5 3M317 256l.5 4M327.5 256l.5 6M338 256l.5 7.5M348.5 256l0 9.5M358.5 256l-.5 11M369 256l-3 10.5M379.5 256l-2-1M390 256l-4.5-11M400 256l-3-10.5M410.5 256l-2-8.5M421 256l-1.5-7M431.5 256l-1-6M441.5 256l-1-5M452 256l-.5-3.5M462.5 256l-.5-3M473 256l-.5-2M483 256l-.5-1.5M493.5 256l-.5-1.5M504 256l0-1M514 256l-.5-2M524.5 256l-.5-2.5M535 256l0-1M286 265.5l.5 1.5M296.5 265.5l.5 2.5M307 265.5l1 3.5M317 265.5l1 5M327.5 265.5l1.5 6.5M338 265.5l2.5 8M348.5 265.5l3.5 9M358.5 265.5l5 10M369 265.5l8.5 8.5M379.5 265.5l7-4M390 265.5l3.5-11M400 265.5l1.5-10.5M410.5 265.5l.5-9M421 265.5l0-7.5M431.5 265.5l0-6M441.5 265.5l0-5M452 265.5l0-3.5M462.5 265.5l0-3M473 265.5l0-2M483 265.5l0-1.5M493.5 265.5l0-2M504 265.5l0-1.5M514 265.5l0-2M524.5 265.5l-.5-2.5M535 265.5l0-1.5M286 275.5l.5 1.5M296.5 275.5l1 2.5M307 275.5l1.5 3.5M317 275.5l2 5M327.5 275.5l3 6M338 275.5l4 7M348.5 275.5l5.5 7M358.5 275.5l8.5 7M369 275.5l11 3.5M379.5 275.5l11-3.5M390 275.5l7-7.5M400 275.5l4.5-8.5M410.5 275.5l2.5-8.5M421 275.5l1.5-7M431.5 275.5l1-6M441.5 275.5l.5-5M452 275.5l.5-4M462.5 275.5l0-3M473 275.5l0-2M483 275.5l0-1.5M493.5 275.5l0-1.5M504 275.5l0-1.5M514 275.5l0-2M524.5 275.5l0-3M535 275.5l0-1.5M286 285l.5 1M296.5 285l1 2.5M307 285l2 3.5M317 285l2.5 4M327.5 285l3.5 5M338 285l4.5 5.5M348.5 285l6 5M358.5 285l8 4M369 285l10 1.5M379.5 285l10-2.5M390 285l7.5-5.5M400 285l5.5-6.5M410.5 285l3.5-6.5M421 285l2.5-6M431.5 285l1.5-5.5M441.5 285l1-4.5M452 285l1-4M462.5 285l.5-3M473 285l.5-2M483 285l0-1.5M493.5 285l0-1.5M504 285l0-1.5M514 285l0-2.5M524.5 285l0-3M535 285l0-1.5M286 295l.5 1M296.5 295l1 2M307 295l1.5 2.5M317 295l2.5 3M327.5 295l3.5 3.5M338 295l4.5 3.5M348.5 295l5.5 3.5M358.5 295l7 2.5M369 295l7.5 .5M379.5 295l8-1.5M390 295l6.5-3.5M400 295l5-4.5M410.5 295l3.5-4.5M421 295l3-4.5M431.5 295l2-4.5M441.5 295l1.5-4M452 295l1-3.5M462.5 295l1-3M473 295l.5-2M483 295l.5-1.5M493.5 295l0-1.5M504 295l0-1.5M514 295l.5-2.5M524.5 295l.5-3M535 295l0-1M296.5 304.5l1 1M307 304.5l1.5 2M317 304.5l2 2M327.5 304.5l3 2.5M338 304.5l4 2.5M348.5 304.5l4.5 2M358.5 304.5l5 1M369 304.5l5.5 0M379.5 304.5l5-1M390 304.5l5-2M400 304.5l4-2.5M410.5 304.5l3-3M421 304.5l2.5-3.5M431.5 304.5l2-3.5M441.5 304.5l1.5-3.5M452 304.5l1-3M462.5 304.5l1-2.5M473 304.5l.5-2M483 304.5l.5-1.5M493.5 304.5l.5-1.5M504 304.5l.5-2M514 304.5l.5-3M524.5 304.5l.5-2.5M296.5 314.5l.5 .5M307 314.5l1 1M317 314.5l1.5 1M327.5 314.5l2 1.5M338 314.5l2.5 1.5M348.5 314.5l3 1M358.5 314.5l3 .5M369 314.5l3.5 0M379.5 314.5l3-.5M390 314.5l3-1M400 314.5l2.5-1.5M410.5 314.5l2.5-2M421 314.5l2-2.5M431.5 314.5l2-2.5M441.5 314.5l1.5-2.5M452 314.5l1-2M462.5 314.5l1-2M473 314.5l.5-2M483 314.5l.5-1.5M493.5 314.5l.5-1.5M504 314.5l.5-2.5M514 314.5l1-3M524.5 314.5l.5-2M327.5 324l.5 .5M338 324l1.5 .5M348.5 324l2 .5M358.5 324l2.5 .5M369 324l2.5 0M379.5 324l2.5-.5M390 324l2.5-1M400 324l2-1M410.5 324l2-1.5M421 324l1.5-1.5M431.5 324l1.5-1.5M441.5 324l1-1.5M452 324l1-1.5M462.5 324l.5-1.5M473 324l.5-1.5M483 324l.5-1M493.5 324l.5-2M504 324l1-3M514 324l.5-2.5M524.5 324l0-.5M348.5 334l1.5 .5M358.5 334l2 0M369 334l2 0M379.5 334l2-.5M390 334l2-.5M400 334l1.5-1M410.5 334l1.5-1M421 334l1.5-1M431.5 334l1-1M441.5 334l1-1M452 334l.5-1M462.5 334l.5-1M473 334l.5-1M483 334l.5-1.5M493.5 334l1-2M504 334l1-2.5M514 334l.5-1M348.5 344l.5 0M358.5 344l1 0M369 344l1 0M379.5 344l1 0M390 344l1-.5M400 344l1-.5M410.5 344l1-.5M421 344l1-.5M431.5 344l1-.5M441.5 344l.5-.5M452 344l.5-.5M462.5 344l.5-1M473 344l1-1.5M483 344l1.5-2.5M493.5 344l1.5-2.5M504 344l.5-1.5M400 353.5l.5-.5M410.5 353.5l1-.5M421 353.5l1-.5M431.5 353.5l1-1M441.5 353.5l1-1M452 353.5l1-1.5M462.5 353.5l1.5-2M473 353.5l1.5-2.5M483 353.5l1.5-2.5M493.5 353.5l1-1.5M390 363.5l1 0M400 363.5l1-.5M410.5 363.5l1.5-.5M421 363.5l2-1M431.5 363.5l2-1.5M441.5 363.5l2-1.5M452 363.5l1.5-1.5M462.5 363.5l1.5-2M473 363.5l1.5-1.5M483 363.5l1-1.5M379.5 373l1.5-.5M390 373l2-.5M400 373l2.5-1M410.5 373l2-1M421 373l1.5-1M431.5 373l1.5-1M441.5 373l1-1M452 373l1-.5M462.5 373l1-1M473 373l.5-.5M483 373l.5-.5M348.5 383l1 0M358.5 383l1.5 0M369 383l2.5 0M379.5 383l2.5-.5M390 383l2-.5M400 383l1-.5M493.5 383l.5-.5M327.5 392.5l.5 0M338 392.5l2 .5M348.5 392.5l2 0M358.5 392.5l1.5 0M369 392.5l1.5 0M379.5 392.5l1 0M452 392.5l.5-.5M462.5 392.5l.5-.5M296.5 402.5l1 .5M307 402.5l1 .5M317 402.5l2 .5M327.5 402.5l2.5 .5M338 402.5l1.5 0M390 402.5l.5 0M400 402.5l.5 0M410.5 402.5l.5-.5M421 402.5l.5-.5M296.5 412l1 .5M307 412l1.5 .5M317 412l3.5 1M327.5 412l2.5 .5M296.5 422l1 .5M307 422l2.5 .5M317 422l3.5 .5M327.5 422l1.5 0M296.5 431.5l1.5 .5M307 431.5l3 .5M317 431.5l1.5 .5" stroke="#000" stroke-width="1.25" fill="none"/><path d="M254.5 40.5l-1.5 2.5 3-1zM264.5 40l-2 2.5 3-1zM275 40.5l-1.5 2.5 3-.5zM317 40l-2 2 3 0zM327 40l-2.5 2 3 0zM337.5 40l-2.5 2 3.5 0zM348 40l-2.5 2 3 .5zM358.5 40l-2 1.5 2.5 .5zM389.5 40l-2.5 1 2.5 1zM400 40l-2.5 1 3 1zM410.5 40l-2.5 1 2.5 1zM244 50l-1.5 2.5 2.5-1zM254 50l-1.5 3 3-1zM264.5 50l-2 3 3-1zM306.5 50l-2 2 2.5 0zM316.5 50l-2.5 2.5 3.5 0zM327 49.5l-3 2.5 4 0zM337.5 50l-2.5 2 3.5 0zM389.5 50l-2.5 1 2.5 1zM400 50l-2.5 1 2.5 1zM410.5 50l-2.5 1 2.5 1zM233.5 60l-1 2.5 2.5-1zM244 60l-1.5 3 3-1zM254 60l-1.5 3 3-1zM264.5 60l-1.5 2.5 3-1zM306.5 59.5l-2 2.5 3.5-.5zM316.5 59.5l-3 3 4-.5zM327 59.5l-2.5 2.5 3.5 0zM337.5 59.5l-2 2 3 0zM379.5 59.5l-2.5 1.5 3 .5zM389.5 59.5l-3 1.5 3 1zM400 59.5l-3 1 3 1zM410.5 59.5l-3 1 2.5 1zM233.5 69.5l-1 3 3-1zM244 69.5l-1.5 3 3-1.5zM254 69.5l-1.5 3 3-1zM264.5 69.5l-1.5 2.5 3-1zM296 69.5l-1.5 2.5 3-.5zM306 69.5l-2 2.5 3.5-.5zM316.5 69.5l-2 2.5 3 0zM327 69.5l-2.5 2 3 0zM337.5 69.5l-2 2 3 0zM369 69.5l-2.5 1.5 3 .5zM379.5 69.5l-2.5 1.5 3 1zM389.5 69.5l-3 1.5 3 1zM400 69.5l-3 1 3 1zM410.5 69.5l-3 1 2.5 1zM212.5 79.5l-1 2.5 2.5-1.5zM223 79.5l-1 2.5 2.5-1zM233.5 79.5l-1 2.5 2.5-1zM244 79.5l-1.5 3 3-1.5zM254 79.5l-1.5 3 3-1zM264.5 79.5l-1.5 2.5 3-1zM275 79.5l-1.5 2.5 2.5-1zM296 79.5l-1.5 2 2.5-.5zM306.5 79.5l-2 2.5 3-.5zM316.5 79.5l-2 2 3 0zM327 79.5l-2 2 3 0zM348 79.5l-2 1.5 2.5 0zM358.5 79.5l-2 1.5 2.5 .5zM369 79l-2.5 1.5 3 .5zM379.5 79l-2.5 1.5 3 1zM389.5 79l-3 1.5 3 1zM400 79l-2.5 1 2.5 1zM410.5 79l-2.5 1 2.5 1zM421 79.5l-2.5 .5 2.5 1zM212.5 89.5l-1 2.5 2.5-1.5zM223 89.5l-1 3 2.5-1.5zM233.5 89.5l-1 3 2.5-1.5zM244 89l-1 3 3-1.5zM254 89l-1.5 3 3-1zM264.5 89l-1.5 2.5 2.5-1zM275 89l-1.5 2.5 2.5-1zM285.5 89l-1.5 2.5 2.5-.5zM327 89l-2 2 2.5 0zM337.5 89l-2 2 3 0zM369 89l-2.5 1.5 3 .5zM379.5 89l-2.5 1.5 3 .5zM389.5 89l-2.5 1.5 3 1zM400 89l-2.5 1 2.5 1zM410.5 89l-2.5 1 2.5 1zM202 99l-.5 3 2.5-1.5zM212.5 99l-1 3 2.5-1.5zM223 99l-1 3 3-1.5zM233.5 99l-1 3 3-1.5zM244 99l-1 3 3-1.5zM254 99l-1 2.5 2.5-1zM264.5 99l-1 2.5 2.5-1zM275 99l-1.5 2.5 2.5-1zM285.5 99l-1.5 2.5 2.5-.5zM389.5 99l-2.5 1 2.5 1zM400 98.5l-2.5 1 2.5 1zM410.5 98.5l-2.5 1 2.5 1zM421 98.5l-2.5 .5 2.5 1.5zM431.5 98.5l-3 .5 2.5 1.5zM202 109l-.5 3 2.5-2zM212.5 109l-1 3.5 3-2zM223 109l-1 3.5 3-2zM233.5 109l-1 3 3-1.5zM243.5 109l-1 3 2.5-1.5zM254 109l-1 2.5 2.5-1zM400 108.5l-2.5 1 2.5 1zM410.5 108.5l-2.5 1 2.5 1.5zM421 108.5l-3 .5 2.5 1.5zM431.5 108.5l-3 .5 2.5 1.5zM504.5 108.5l-2.5-.5 1.5 2zM202.5 119l-.5 2.5 2-1.5zM212.5 118.5l-.5 3 2.5-2zM223 118.5l-.5 3 2.5-2zM233.5 118.5l-1 3 2.5-1.5zM244 118.5l-1 2.5 2.5-1.5zM337.5 118.5l-2 2 3 0zM348 118.5l-2 2 3 0zM358.5 118l-2.5 2 3 .5zM369 118.5l-2.5 1.5 3 .5zM400 118.5l-2.5 1 2.5 1zM410.5 118l-3 1 2.5 1.5zM421 118l-3 .5 2.5 1.5zM431.5 118l-3 .5 2.5 1.5zM442 118.5l-2.5 0 2 1.5zM483.5 118.5l-3-.5 2 2zM494 118.5l-2.5-.5 1.5 2zM577 118.5l-2.5-1 1 2.5zM192 128.5l-.5 2.5 2-2zM202 128.5l-.5 2.5 2-1.5zM223 128.5l-.5 2.5 2-1.5zM327 128l-2 2 3-.5zM337.5 128l-2 2.5 3 0zM348 128l-2.5 2.5 3.5 0zM358.5 128l-3 2 3.5 .5zM369 128l-3 2 3.5 .5zM379.5 128l-3 1.5 3 1zM389.5 128l-3 1.5 3 1zM400 128l-3 1 2.5 1zM410.5 128l-3 1 2.5 1.5zM421 128l-3 .5 2.5 1.5zM431.5 128l-3 .5 2.5 2zM442 128l-2.5 0 2 2zM463 128l-2.5 0 2 2zM473.5 128l-3-.5 2 2.5zM483.5 128l-3-.5 2 2.5zM494 128l-3-.5 1.5 2.5zM504.5 128l-2.5-.5 1.5 2.5zM567 128.5l-2.5-1 1 2.5zM577 128.5l-2.5-1.5 1 2.5zM295.5 138l-1.5 2.5 3-1zM306 138l-1.5 3 3.5-1zM316.5 138l-2 3 3.5-1zM327 137.5l-2 3 3.5-.5zM337.5 137.5l-2.5 3 4-.5zM348 137.5l-3 2.5 4 0zM358.5 137.5l-3 2.5 4 .5zM369 137.5l-3.5 2 4 .5zM379 137.5l-3.5 2 4 1zM389.5 137.5l-3.5 1.5 3.5 1.5zM400 137.5l-3.5 1 3.5 1.5zM410.5 137.5l-3.5 1 3 1.5zM421 137.5l-3.5 .5 3 2zM431.5 137.5l-3.5 .5 3 2zM442 138l-3 0 2 2zM452.5 138l-3 0 2 2zM463 138l-3-.5 2 2.5zM473.5 138l-3-.5 2 2.5zM484 138l-3.5-.5 2 3zM494 138l-3.5-1 2 3zM504.5 138l-3-1 1.5 2.5zM515 138l-2.5-1 1.5 2.5zM567 138l-2.5-1.5 1 2.5zM577 138l-2.5-1.5 1 2.5zM140 148.5l0 2.5 1.5-2zM150.5 148l0 2.5 1.5-2zM275 148l-1 2.5 2.5-1.5zM285 148l-1 3 3-1.5zM295.5 147.5l-1.5 3.5 3.5-1.5zM306 147.5l-2 3.5 4-1.5zM316.5 147.5l-2.5 3.5 4-1zM327 147.5l-2.5 3 4-1zM337 147l-3 3 4-.5zM347.5 147l-3.5 3.5 5 0zM358 147l-4 3 5 0zM368.5 147l-4 2.5 4.5 .5zM379 147l-4.5 2 4.5 1zM389.5 147l-4.5 1.5 4.5 1.5zM400.5 147l-4.5 1.5 4.5 2zM411 147l-4.5 1 4 2.5zM421.5 147l-4 .5 3.5 2.5zM431.5 147l-4 0 3 2.5zM442 147.5l-4 0 3 2.5zM452.5 147.5l-3.5-.5 2.5 2.5zM463 147.5l-3.5-.5 2.5 3zM473.5 147.5l-3.5-.5 2 3zM484 147.5l-3.5-1 2 3zM494 147.5l-3-1 1.5 3zM504.5 147.5l-3-1 1.5 3zM515 147.5l-3-1 1.5 3zM525.5 148l-2.5-1 1 2.5zM567 148l-2.5-1.5 1 2.5zM129.5 158l.5 2.5 1.5-2zM140 158l.5 3 2-2.5zM275 157.5l-1 3 2.5-1.5zM285 157.5l-1.5 3.5 3.5-2zM295.5 157l-1.5 4 4-2zM305.5 157l-2 4.5 4.5-2zM316 157l-2.5 4 4.5-1.5zM326.5 157l-3 4 4.5-1zM337 157l-3 3.5 4.5-1zM347 157l-3.5 3.5 5-.5zM357 157l-4 3 5 0zM367.5 157l-4 2.5 4.5 .5zM378 157l-4.5 2 4.5 1zM388.5 156.5l-4.5 1.5 4.5 1.5zM399.5 156.5l-4.5 1 4.5 2zM410 156.5l-4.5 1 4 2.5zM421 156.5l-5 .5 4 2.5zM432 157l-4.5 0 3.5 3zM442.5 157l-4-.5 3 3zM452.5 157l-4.5-.5 3 3.5zM463 157l-4-1 2.5 3.5zM473.5 157l-3.5-1 2 3zM484 157.5l-3.5-1 1.5 3zM494.5 157.5l-3-1 1.5 3zM504.5 157.5l-3-1 1.5 3zM515 157.5l-3-1.5 1.5 3zM525.5 157.5l-3-1.5 1 3zM577.5 157.5l-2.5-1.5 .5 2.5zM129.5 168l.5 3 1.5-2.5zM140 168l.5 3 1.5-2.5zM150 168l.5 3 1.5-2.5zM254 167.5l-.5 3 2-2zM264.5 167.5l-.5 3 2.5-2zM274.5 167.5l-1 3.5 3-2zM285 167l-1.5 4.5 4-2.5zM295 167l-1.5 4.5 4-2.5zM305 167.5l-2 4.5 4.5-2zM315 168l-2.5 4 4.5-2zM325.5 167.5l-2.5 4 4.5-1.5zM336 167.5l-3 3.5 4.5-1zM346.5 167l-3.5 3.5 4.5-.5zM356.5 167l-3.5 3 5 0zM366.5 167l-4 2.5 4.5 .5zM377 166.5l-4.5 2 4.5 1zM388 166.5l-4.5 1.5 4.5 1.5zM398.5 166.5l-4.5 1 4.5 2zM409.5 166l-4.5 .5 4 2.5zM420 166l-5 0 4 3zM431 166.5l-5-.5 3.5 3zM442 166.5l-4.5-.5 3.5 3.5zM453 166.5l-4.5-1 3 3.5zM463.5 167l-4.5-1 2.5 3.5zM473.5 167l-4-1 2 3.5zM484 167l-3.5-1 1.5 3zM494.5 167l-3-1.5 1.5 3zM504.5 167l-3-1.5 1.5 3zM515 167l-3-1.5 1 3zM525.5 167.5l-3-1.5 1 3zM536 167.5l-2.5-1.5 1 3zM567 167.5l-2.5-1.5 .5 3zM577.5 167.5l-2.5-2 .5 3zM129.5 177.5l.5 2.5 1.5-2.5zM140 177.5l.5 2.5 1.5-2.5zM150.5 177.5l.5 3 1.5-2.5zM254 177.5l0 3 2.5-2zM264 177l-.5 3.5 3-2.5zM274.5 177l-1 4.5 3.5-2.5zM284.5 177l-1 4.5 4-3zM295 177.5l-1.5 4.5 4-2.5zM304.5 178l-2 4.5 4-2.5zM314.5 178l-2 4.5 4.5-2zM325 178l-2.5 4 4.5-1.5zM335.5 177.5l-3 4 4.5-1zM346 177.5l-3.5 3.5 4.5-.5zM356 177l-3.5 3 5 0zM366 177l-4 2.5 4.5 .5zM376.5 176.5l-4.5 2 4.5 1zM387.5 176l-4.5 1.5 4.5 1.5zM398 176l-4.5 1 4 2zM408.5 175.5l-5 .5 4 2.5zM419.5 175.5l-5 0 3.5 3zM430.5 175.5l-4.5-.5 3.5 3.5zM441.5 176l-4.5-1 3 3.5zM452.5 176l-4.5-1 3 4zM463 176.5l-4.5-1.5 2.5 4zM474 176.5l-4-1.5 2 4zM484 177l-3.5-1.5 1.5 3.5zM494.5 177l-3.5-1.5 1.5 3.5zM505 177l-3.5-2 1.5 4zM515.5 177l-3-2 1 3.5zM525.5 177l-3-2 1 3.5zM536 177l-3-2 1 3.5zM546 177l-2.5-1.5 .5 3zM556.5 177.5l-2-1.5 .5 2.5zM567 177.5l-2.5-1.5 .5 3zM577.5 177.5l-2.5-2 .5 3zM243.5 187l0 2.5 2-2zM254 187l0 3.5 2.5-2.5zM264 187l-.5 4 3-3zM274 187l-.5 4.5 3.5-3zM284.5 187l-1 4.5 3.5-3zM294.5 188l-1 4.5 4-3zM304.5 188l-1.5 4.5 4-2.5zM314.5 188l-2 4.5 4-2.5zM325 187.5l-2 4 4.5-2zM335.5 187.5l-2.5 4 4.5-1.5zM345.5 187.5l-3 3.5 4.5-1zM355.5 187.5l-3.5 3 5 0zM365 187l-4 2.5 5 .5zM375.5 186.5l-4.5 2 4.5 1zM386.5 186l-4.5 1.5 4.5 2zM397.5 185.5l-4.5 1 4 2.5zM408 185l-5 0 4 3zM419 185l-5-.5 3.5 3zM430 185l-4.5-1 3 3.5zM441 185.5l-4.5-1 3 4zM452 185.5l-4.5-1.5 2.5 4zM463 186l-4.5-2 2.5 4zM474 186.5l-4.5-2 2 4.5zM484.5 186.5l-4-2 1.5 4zM494.5 186.5l-4-2 1.5 4zM505 186.5l-3.5-2.5 1 4zM515.5 186.5l-3.5-2.5 1 4zM526 187l-3.5-2.5 1 4zM536 187l-3-2 .5 3.5zM546.5 187l-2.5-2 .5 3zM556.5 187l-2.5-2 .5 3zM567 187l-2-2 .5 3zM577.5 187l-2-2 .5 3zM233.5 197l.5 2.5 1.5-2zM243.5 197l0 3 2-2.5zM253.5 197l0 3.5 2.5-3zM264 197l0 4 3-3zM274 197l-.5 5 3-3.5zM284 197.5l-.5 4.5 3.5-3.5zM294 198.5l-1 4.5 3.5-3zM304.5 198.5l-1 4.5 4-3zM314.5 198l-1.5 4.5 4-2.5zM325 198l-2 4.5 4-2zM335 197.5l-2.5 4 4.5-1.5zM345 197.5l-3 4 4.5-1zM355 197.5l-3.5 3.5 5-.5zM365 197l-4 2.5 5 .5zM375 196l-4.5 2 4.5 1zM385 195.5l-4.5 1.5 4.5 2zM396.5 195l-4.5 .5 4 2.5zM407.5 194.5l-5 0 3.5 3zM418.5 194.5l-4.5-.5 3.5 3.5zM429.5 194.5l-4.5-1 3 4zM441 194.5l-4.5-1.5 2.5 4zM451.5 195l-4.5-2 2.5 4zM462.5 195l-4.5-2 2 4.5zM473.5 196l-4-2.5 1.5 4.5zM484.5 196.5l-4-2.5 1.5 4.5zM495 196.5l-4-2.5 1.5 4.5zM505 196.5l-4-2.5 1 4.5zM515.5 196.5l-3.5-2.5 1 4zM526 196.5l-3-2.5 .5 4zM536 196.5l-3-2.5 .5 3.5zM546.5 197l-2.5-2 .5 3.5zM556.5 197l-2-2 .5 3zM567 197l-2-2 0 2.5zM577.5 197l-2-2 0 3zM233 207l.5 3 1.5-2.5zM243.5 207l.5 3.5 2-3zM253.5 207l.5 4 2.5-3zM264 206.5l.5 4.5 2.5-3.5zM274 207l0 5 3-3.5zM284 208l0 5 3-3.5zM294 208.5l-.5 4.5 3.5-3.5zM304.5 208l-1 4.5 3.5-3zM314.5 208l-1 4.5 4-3zM324.5 208l-1.5 4.5 4-2.5zM334.5 208l-2 4.5 4.5-2zM344.5 208l-2.5 4 4.5-1.5zM354 207.5l-3.5 3.5 4.5-.5zM364 207l-4 3 5 0zM374 206l-4.5 2 4.5 1zM384.5 205l-4.5 1 4.5 2zM395.5 204l-5 .5 4 3zM406.5 203.5l-5-.5 3.5 3.5zM418 203.5l-4.5-1 3 3.5zM429.5 203.5l-4.5-1.5 2.5 4zM441 204l-4.5-2 2 4zM452 204.5l-4-2 2 4.5zM462.5 205l-4-2.5 1.5 4.5zM473.5 205.5l-4-2.5 1.5 4.5zM484.5 206l-4-3 1 4.5zM494.5 206l-3.5-3 1 4.5zM505 206l-3.5-3 1 4.5zM515.5 206.5l-3.5-3 .5 4.5zM526 206.5l-3-3 .5 4.5zM536.5 206.5l-3-2.5 .5 4zM546.5 206.5l-2.5-2.5 0 3.5zM556.5 206.5l-2-2 0 3zM577.5 206.5l-2-2 0 3zM192 217l1 2.5 1-2.5zM202 217l.5 2.5 1-2.5zM233 216.5l.5 3 1.5-2.5zM243.5 216.5l.5 3.5 1.5-3zM253.5 216.5l.5 4 2-3.5zM263.5 216.5l.5 4.5 2.5-4zM274 217.5l.5 5 2.5-4zM284 218l0 5 3-4zM294.5 218.5l0 5 3-3.5zM304.5 218.5l-.5 5 3-3.5zM314.5 218l-.5 4.5 3.5-3.5zM324.5 218.5l-1 4.5 4-3zM334.5 218.5l-1.5 4.5 4-2.5zM344 218.5l-2.5 4 4.5-2zM353.5 218l-3 3.5 4.5-1zM363 217l-4 3 5 0zM373 216l-4.5 2 4.5 1zM384 214.5l-4.5 1 4 2.5zM395 213l-5 0 3.5 3zM406.5 212.5l-4.5-1 3 3.5zM418 212.5l-4.5-1.5 2.5 4zM429.5 213l-4.5-2 2 4.5zM440.5 213.5l-4-2.5 2 4.5zM452 214l-4-2.5 1.5 4.5zM463 214.5l-4-3 1 4.5zM473.5 215.5l-3.5-3 1 4.5zM484 215.5l-3.5-3 1 4.5zM494.5 215.5l-3.5-3 .5 4.5zM505 216l-3.5-3.5 .5 4.5zM515.5 216l-3-3 .5 4.5zM526 216.5l-3-3 0 4zM536.5 216.5l-2.5-3 0 4zM546.5 216.5l-2.5-2.5 0 3.5zM556.5 216.5l-2-2 0 3zM577.5 216.5l-2-2 0 3zM150.5 226.5l1 2.5 1-2.5zM160.5 226.5l1 2.5 1-2.5zM181.5 226.5l1 2.5 1-2.5zM191.5 226.5l1 2.5 1-2.5zM233 226.5l1 3 1.5-2.5zM243.5 226.5l1 3.5 1.5-3zM253.5 226.5l1 4 2-3.5zM263.5 226.5l1 4.5 2.5-4zM274 227.5l1 4.5 2.5-4zM284 228l.5 4.5 2.5-4zM294.5 228l.5 5 2.5-4zM304.5 228l0 5 3-4zM315 228.5l0 5 3-3.5zM324.5 229l-.5 4.5 3.5-3.5zM334 229.5l-1 4.5 3.5-3zM343 230l-1.5 4.5 4-2.5zM352.5 229.5l-2.5 4 4.5-1.5zM361.5 228l-3.5 3 5 0zM371.5 225.5l-4.5 2 4.5 1.5zM382.5 223.5l-4.5 .5 4 2.5zM394.5 222l-4.5-.5 3.5 3.5zM406.5 221.5l-4.5-1.5 2.5 4zM418 221.5l-4.5-2 2 4.5zM429.5 222l-4-2.5 1.5 4.5zM441 222.5l-4-3 1.5 4.5zM452 223.5l-3.5-3 1 4.5zM463 224.5l-3.5-3 1 4.5zM474 225l-3.5-3.5 .5 4.5zM484.5 225.5l-3.5-3.5 .5 4.5zM494.5 225l-3.5-3.5 .5 5zM505 226l-3-3.5 .5 5zM515.5 226l-3-3.5 0 5zM526 226l-3-3.5 0 5zM536.5 226l-3-3 0 4.5zM546.5 226l-2.5-2.5 0 3.5zM150.5 236.5l1 2.5 1-2.5zM160.5 236.5l1 2.5 1-2.5zM171 236.5l1 2.5 1-2.5zM181.5 236.5l1 2.5 1-2.5zM191.5 236.5l1 2.5 1-2.5zM233 236.5l1 2.5 1-2.5zM243.5 236.5l1 3 1.5-3zM253.5 236.5l1.5 4 1.5-4zM264 236.5l1.5 4.5 2-4.5zM274 237l1 4.5 2-4.5zM284.5 237.5l1 4.5 2-4.5zM294.5 237.5l1 4.5 2-4zM305 238l1 4.5 2.5-4zM315 239l.5 4.5 2.5-4zM325 240l0 5 3-4zM334.5 241l-.5 5 3-3.5zM343.5 242l-1 4.5 3.5-3zM351.5 241.5l-2 4.5 4-2zM358.5 240l-3.5 3.5 4.5-.5zM368 235l-4.5 1.5 4.5 1.5zM381 231.5l-5 0 3.5 3zM394.5 230l-4.5-1.5 2.5 4zM407 230l-4-2.5 2 4.5zM418.5 230.5l-4-2.5 1.5 4.5zM430 231l-3.5-3 1 4.5zM441 232l-3.5-3.5 .5 4.5zM452 233l-3.5-3.5 .5 4.5zM463 234l-3-3.5 .5 5zM473.5 234.5l-3-3.5 0 5zM484.5 235l-3-3.5 0 5zM494.5 235l-3-3.5 0 5zM505 235.5l-3-4 0 5zM515.5 235l-3-4 0 5zM526 235l-3-4 0 5zM536.5 236l-3-4 -.5 4.5zM546.5 236l-2-3 -.5 3.5zM556.5 236l-1.5-2 -.5 3zM171 246l1.5 2.5 1-3zM181.5 246l1.5 2.5 1-3zM191.5 246l1.5 2.5 1-3zM233 246l1.5 3 1-3zM243 246l1.5 3.5 1.5-4zM253.5 246l1.5 4 1.5-4.5zM264 246.5l1.5 4.5 1.5-4.5zM274 246.5l1.5 4.5 1.5-4.5zM284.5 247l1.5 4.5 1.5-4.5zM295 247.5l1.5 4.5 1.5-4.5zM305 248l1.5 4.5 2-4.5zM315.5 249l1 4.5 2-4.5zM325.5 250.5l1 4.5 2-4.5zM335 252.5l.5 4.5 2.5-4zM344.5 253.5l0 5 3-4zM352 255l-.5 4.5 3.5-3zM360 251.5l-2.5 4 4.5-1.5zM368.5 244l-4.5 1.5 4.5 2zM383 239l-4.5-1.5 2.5 4zM395.5 237.5l-4-2.5 1.5 4.5zM408 238.5l-3.5-3 1 4.5zM419.5 239.5l-3.5-3.5 .5 5zM430.5 240.5l-3-3.5 0 5zM441.5 241.5l-3-3.5 0 5zM452.5 243l-3-4 0 5zM463 243.5l-3-4 0 5zM474 244.5l-3-4 -.5 5zM484.5 245l-2.5-4 -.5 5zM495 245l-2.5-4 -.5 5zM505 245l-2.5-4 -.5 5zM515.5 244.5l-2.5-4 -.5 4.5zM526 244l-2.5-4 -.5 4.5zM536.5 245.5l-2.5-4 -.5 4.5zM546.5 246l-2-3 -.5 3.5zM557 246l-1.5-2.5 -.5 3zM160.5 256l1.5 2.5 .5-2.5zM171 256l1.5 2.5 .5-3zM181.5 256l1.5 2.5 .5-2.5zM191.5 256l1.5 2.5 .5-3zM223 256l1.5 2.5 .5-2.5zM233 256l2 3.5 1-4zM243 256l2 4 1-4zM253.5 256l2 4 1-4.5zM263.5 256l2 4 1-4.5zM274 256l2 4 1-4.5zM284.5 256.5l2 4.5 1-4.5zM295 257.5l2 4.5 1-4.5zM305.5 258.5l2 4.5 1-4.5zM316 259.5l2 4.5 1-4.5zM326.5 261.5l2 4.5 1.5-4.5zM336.5 263l2 4.5 1.5-4.5zM347 265l1.5 4.5 1.5-4.5zM356.5 266.5l1.5 4.5 2-4.5zM365 265l.5 5 2.5-4zM378.5 253.5l-4.5-.5 3.5 3.5zM387 245l-3-3.5 .5 5zM398.5 245.5l-3-4 0 5zM410 248l-2.5-4 -.5 4.5zM421 249l-2.5-4 -.5 4.5zM431.5 250l-2.5-4 -.5 4.5zM442.5 251.5l-2.5-4 -.5 4.5zM453 252.5l-2.5-4 -.5 4.5zM463.5 253.5l-2.5-4 -1 4.5zM474 254l-2.5-4 -1 4.5zM484.5 254.5l-2.5-4 -1 4.5zM495 254.5l-2.5-4 -1 4.5zM505.5 255l-2.5-4 -1 4.5zM515.5 254l-2.5-4 -1 4.5zM526 254l-2.5-4 -1 4.5zM536.5 255l-2.5-4 -1 4.5zM547 255.5l-2-3.5 -1 4zM557 256l-1.5-2.5 -.5 3zM577.5 256l-1.5-2.5 -.5 2.5zM160.5 266l1.5 2.5 .5-2.5zM171 266l1.5 2.5 .5-2.5zM192 266l1.5 2.5 .5-2.5zM202 266l1.5 2.5 .5-3zM212.5 266l1.5 2.5 .5-3zM222.5 266l2 3 .5-3.5zM233 266l2 3.5 1-4zM243 266l2 3.5 .5-4zM253.5 266l2 3.5 .5-4zM264 266l2.5 3.5 .5-4.5zM274 266l2.5 4 1-4.5zM284.5 267l2.5 4 .5-4.5zM295.5 268l2.5 4 .5-4.5zM306 269l2.5 4 .5-4.5zM316.5 270.5l2.5 4 .5-5zM327.5 272l2.5 4 .5-5zM338.5 273.5l3 4 0-5zM350 274.5l3 3.5 0-5zM362 276l3.5 3.5 -.5-4.5zM376 274.5l4.5 2 -2-4.5zM386.5 263.5l3-3.5 -4.5 1zM394.5 255.5l0-5 -3 4zM403 256l-1-4.5 -2 4.5zM412.5 257.5l-1.5-4.5 -2 4.5zM422.5 258.5l-1.5-4.5 -1.5 4.5zM432.5 260l-1.5-4.5 -1.5 4.5zM443 261.5l-2-4.5 -1.5 4.5zM453.5 262.5l-2-4.5 -1.5 4.5zM464 263.5l-2-4.5 -1.5 4.5zM474 264.5l-2-4.5 -1 4.5zM484.5 264.5l-2-4.5 -1 4.5zM495 264.5l-2-4.5 -1 4.5zM505.5 264.5l-2-4.5 -1 4.5zM515.5 264l-2-4.5 -1 4.5zM526 263.5l-2-4.5 -1 4.5zM536.5 264.5l-2-4.5 -1 4.5zM547 265.5l-2-4 -1 4zM557 265.5l-1.5-3 -1 3zM567 265.5l-1.5-2.5 -1 3zM577.5 265.5l-1.5-2.5 -1 3zM160.5 275.5l1.5 2 .5-2.5zM171 275.5l1.5 2.5 .5-3zM181.5 275.5l1.5 2 .5-2.5zM191.5 275.5l1.5 2.5 .5-3zM202 275.5l2 3 .5-3.5zM212 275.5l2 3 .5-3.5zM222.5 276l2.5 3 .5-4zM233 276l2 3 .5-3.5zM243.5 275.5l2 2.5 .5-3zM254 276l2 2.5 .5-3.5zM264 276l2.5 3 .5-4zM274 276l3 3.5 .5-4.5zM285 276.5l3 4 0-5zM295.5 278l3 3.5 0-5zM306.5 279l3 3.5 0-5zM317.5 280.5l3 3.5 -.5-5zM328.5 281.5l3.5 3.5 -.5-4.5zM340.5 282.5l3.5 3 -1-4.5zM352 283l4 2.5 -1.5-4.5zM365.5 283.5l4.5 1.5 -2.5-4zM379 280.5l5 0 -4-3zM390.5 274l4-3 -5 0zM398 269.5l2-4.5 -4 2zM405.5 268l.5-4.5 -3.5 3.5zM414.5 268l0-5 -3 4zM424 269l-.5-4.5 -2.5 4zM433.5 270l-1-4.5 -2 4zM443.5 271.5l-1-4.5 -2 4.5zM454 272.5l-1.5-4.5 -2 4.5zM464 273l-1.5-4.5 -2 4.5zM474.5 274l-1.5-4.5 -1.5 4.5zM484.5 274.5l-1.5-4.5 -1.5 4.5zM495 274.5l-1.5-4.5 -1.5 4.5zM505.5 274.5l-1.5-4.5 -1.5 4.5zM516 274l-1.5-4.5 -1.5 4.5zM526 273l-1.5-4.5 -1.5 4.5zM536.5 274.5l-2-4.5 -1.5 4.5zM547 275.5l-1.5-4 -1.5 4zM557 275.5l-1.5-3 -1 3.5zM567.5 275.5l-1.5-3 -1 3zM577.5 275.5l-1.5-3 -1 3zM119 285.5l1.5 2 .5-2.5zM140 285.5l1.5 2 .5-2.5zM150 285.5l1.5 2.5 .5-3zM160.5 285.5l2 2.5 .5-3zM171 285.5l2 2.5 .5-3.5zM181 285.5l2 2.5 .5-3.5zM191.5 285.5l2 2.5 .5-3.5zM202 285.5l2 3 .5-3.5zM212.5 285.5l2 2.5 .5-3.5zM222.5 285.5l2 2.5 0-3.5zM233 285.5l2 2.5 0-3zM243.5 285.5l2 2 0-2.5zM254 285.5l2 2 0-3zM264 285.5l2.5 2.5 0-3.5zM274.5 286l3 3 0-4.5zM285 286.5l3.5 3.5 -.5-5zM296 287.5l3.5 3.5 -.5-4.5zM307 289l3.5 3 -.5-4.5zM318 289.5l3.5 3 -1-4.5zM329.5 290.5l4 2.5 -1.5-4.5zM341 291l4 2.5 -2-4.5zM353 291l4.5 1.5 -2.5-4zM365.5 290.5l4.5 .5 -3.5-3.5zM378 288.5l4.5-1 -4-2.5zM389 284.5l4-2.5 -4.5-.5zM398 281.5l3-4 -4.5 1zM406.5 280.5l1.5-4.5 -4 2.5zM415.5 280l1-4.5 -3.5 3zM424.5 280.5l0-5 -3 3.5zM434.5 281l0-5 -3 4zM444 281.5l-.5-4.5 -2.5 4zM454 282l-.5-4.5 -2.5 4zM464.5 283l-1-4.5 -2.5 4zM474.5 284l-1-4.5 -2 4.5zM485 284.5l-1-4.5 -2 4.5zM495 284.5l-1-4.5 -2 4.5zM505.5 284.5l-1.5-4.5 -2 4.5zM516 283.5l-1.5-4.5 -2 4.5zM526.5 283l-1.5-4.5 -1.5 4.5zM536.5 284.5l-1.5-4.5 -1.5 4.5zM547 285l-1.5-4 -1.5 4zM557 285l-1.5-3.5 -1.5 3.5zM567.5 285l-1.5-3 -1 3zM577.5 285l-1-3 -1 3zM109 295l1.5 2 .5-2.5zM119 295.5l2 2.5 .5-3.5zM129.5 295.5l2 2.5 .5-3.5zM139.5 295.5l2 2.5 .5-3.5zM150 295.5l2.5 3 .5-3.5zM160.5 295.5l2.5 3 .5-4zM170.5 295.5l2.5 3 0-4zM181 295.5l2.5 2.5 0-3.5zM191.5 295.5l2 2.5 0-3.5zM202 295.5l2 2.5 0-3zM212.5 295.5l2 2 0-3zM223 295.5l2 2 0-2.5zM233.5 295.5l2 2 0-3zM254 295.5l2 2 0-3zM264 295.5l2.5 2.5 -.5-3.5zM274.5 295.5l3 3 -.5-4zM285 296l3.5 3 -1-4.5zM296 297l3.5 3 -1-4.5zM307 298l4 3 -1.5-4.5zM318 298.5l4 2.5 -1.5-4.5zM329.5 299.5l4.5 2 -2-4.5zM341 299.5l4.5 1.5 -2.5-4zM352.5 299.5l4.5 1 -3-3.5zM364.5 298.5l5 0 -3.5-3zM376 297l4.5-1 -4.5-2zM387 295l4-2.5 -4.5-.5zM396.5 293l3-3.5 -4.5 .5zM406 292l2.5-4 -4.5 2zM415 292l1.5-4.5 -4 2.5zM425 291.5l1-4.5 -3.5 3zM434.5 291.5l.5-4.5 -3.5 3.5zM444.5 292l0-5 -3 3.5zM454.5 292.5l0-5 -3 4zM464.5 293l-.5-5 -2.5 4zM474.5 293.5l-.5-4.5 -2.5 4zM485 294l-.5-4.5 -2.5 4zM495 294.5l-1-4.5 -2.5 4zM505.5 294l-1-4.5 -2 4zM516 293l-1-4.5 -2 4.5zM526.5 293l-1-4.5 -2 4.5zM536.5 294.5l-1-4.5 -2 4.5zM547 295l-1-4 -2 4zM557 295l-1-4 -1.5 3.5zM567.5 295l-1-3.5 -1.5 3.5zM577.5 295l-1-3 -1.5 3zM108.5 305l2 2.5 0-3.5zM119 305l2.5 3 0-3.5zM129 305l2.5 3 0-4zM139.5 305l2.5 3.5 0-4.5zM150 305l3 3.5 0-4.5zM160.5 305l2.5 3 0-4zM170.5 305l2.5 3 0-4zM181 305l2.5 2.5 0-3.5zM191.5 305l2.5 2.5 0-3.5zM202 305l2 2 0-3zM212.5 305l2 2 0-3zM223 305l2 2 0-2.5zM233.5 305l2 2 0-2.5zM254 305l2 2 -.5-3zM264.5 305.5l2.5 2 -.5-3zM274.5 305.5l3 2 -.5-3.5zM285 305.5l3.5 2.5 -1-4.5zM295.5 306.5l4 2.5 -1.5-4.5zM307 307l4 2.5 -1.5-4.5zM318 307.5l4.5 2 -2-4.5zM329 308l4.5 1.5 -2.5-4zM340.5 308l4.5 1 -3-4zM351.5 308l5 .5 -3.5-3.5zM362.5 307.5l5-.5 -4-2.5zM373.5 306.5l4.5-1.5 -4.5-1.5zM384.5 305.5l4-2.5 -4.5-.5zM395 304.5l3.5-3.5 -5 .5zM404.5 303.5l3-4 -4.5 1.5zM414.5 303l2-4.5 -4.5 2zM424.5 303l1.5-4.5 -4 2.5zM434.5 302.5l1-4.5 -3.5 3zM444.5 302.5l.5-4.5 -3.5 3.5zM454.5 303l.5-5 -3 3.5zM464.5 303.5l0-5 -3 3.5zM474.5 304l0-5 -3 4zM485 304l-.5-5 -2.5 4zM495 304l-.5-4.5 -2.5 4zM505.5 303.5l-.5-4.5 -2.5 4zM516 302.5l-1-4.5 -2.5 4zM526.5 303l-1-4.5 -2.5 4zM536.5 305l-1-4.5 -2.5 4zM546.5 305l-1-3.5 -2 3.5zM557 305l-1-4 -2 3.5zM567.5 305l-1-3.5 -1.5 3.5zM577.5 305l-1-3 -1.5 3zM108.5 315l2.5 3 0-4zM119 315l2.5 3 0-4zM129 315l2.5 3 0-4zM139.5 315l2.5 3 0-4zM150 315l2.5 3 0-4zM160.5 315l2.5 2.5 0-3.5zM171 315l2.5 2.5 0-3.5zM181.5 315l2.5 2.5 0-3.5zM191.5 315l2.5 2 0-3zM202 315l2 2 0-3zM212.5 315l2 2 0-2.5zM223 315l2 2 -.5-2.5zM233.5 315l2 1.5 -.5-2.5zM243.5 315l2 1.5 -.5-2.5zM254 315l2 1.5 -.5-2.5zM264.5 315l2.5 1.5 -.5-3zM274.5 315l3 2 -1-3zM285 315.5l3.5 2 -1-3.5zM295.5 315.5l4 2.5 -2-4.5zM306.5 316.5l4.5 2 -2-4.5zM317 316.5l4.5 1.5 -2.5-4zM328 317l4.5 1 -3-4zM339.5 317l4.5 .5 -3.5-3.5zM350 317l5 0 -3.5-3zM361 316.5l4.5-1 -4-2.5zM372 316l4.5-1.5 -4.5-1.5zM382.5 315.5l4-2.5 -4.5-.5zM393 315l3.5-3 -5 0zM403 314.5l3-3.5 -4.5 1zM413.5 314l2.5-4 -4.5 1.5zM424 313.5l2-4.5 -4 2zM434 313.5l1.5-4.5 -4 2.5zM444 313.5l1-4.5 -4 3zM454.5 313.5l.5-4.5 -3.5 3zM464.5 314l.5-5 -3.5 3.5zM474.5 314l0-5 -3 3.5zM485 314l0-5 -3 3.5zM495.5 314l0-5 -3 4zM506 313l-.5-5 -2.5 4zM516.5 312.5l-.5-4.5 -2.5 4zM526.5 313.5l-.5-4.5 -2.5 4zM536.5 315l-.5-4.5 -2.5 3.5zM546.5 314.5l-.5-4 -2 3.5zM557 314.5l-1-3.5 -2 3.5zM567.5 314.5l-.5-3 -1.5 3zM577.5 314.5l-.5-3 -1.5 2.5zM108.5 325l2.5 3 0-4zM119 324.5l2.5 2.5 0-3.5zM129.5 325l2.5 2.5 0-3.5zM140 324.5l2.5 2.5 0-3.5zM150 324.5l2.5 2.5 0-3.5zM160.5 324.5l2 2 0-3zM171 324.5l2.5 2 0-3zM181.5 324.5l2.5 2 -.5-3zM192 324.5l2 2 -.5-3zM202 325l2 2 -.5-3zM212.5 324.5l2 1.5 -.5-2.5zM264.5 325l2.5 1.5 -1-3zM274.5 325l3 1.5 -1-3.5zM285 325l3.5 1.5 -1.5-3.5zM295.5 325.5l4 1.5 -2-4zM306 325.5l4 1.5 -2-3.5zM316.5 325.5l4.5 1 -2.5-4zM327 325.5l4.5 1 -3-3.5zM338 326l5 .5 -3.5-3zM349.5 326l5-.5 -4-3zM360.5 326l4.5-1 -4-2zM371 326l4.5-1.5 -4.5-1.5zM381.5 325.5l4-2.5 -4.5-1zM392 325l3.5-3 -5 0zM402.5 325l3-3.5 -4.5 .5zM413 324.5l3-4 -4.5 1.5zM423.5 324.5l2.5-4 -4.5 2zM433.5 324l2-4.5 -4 2.5zM443.5 324l1.5-4.5 -4 2.5zM454 324l1-4.5 -4 3zM464 324l1-4.5 -3.5 3zM474.5 324l.5-4.5 -3.5 3.5zM485 324.5l.5-5 -3 3.5zM495.5 323.5l0-5 -3 3.5zM506 322.5l0-5 -3 3.5zM516.5 323l0-5 -3 4zM526 324.5l-.5-5 -2.5 4zM536.5 324.5l-.5-4 -2 3zM546.5 324.5l-.5-3.5 -2 3zM557 324.5l-.5-3 -2 2.5zM567 324.5l-.5-3 -1.5 2.5zM109 334.5l2 2 0-3zM119 334.5l2 2 0-3zM129.5 334.5l2 2 0-3zM140 334.5l2.5 2.5 0-3.5zM150.5 334.5l2.5 2 0-3zM160.5 334.5l2 2 -.5-3zM171 334.5l2.5 2 -.5-3zM181.5 334.5l2.5 2 -.5-3zM192 334.5l2.5 2 -.5-3zM202 334.5l2.5 2 -.5-3zM254 334.5l2.5 1.5 -1-2.5zM264.5 334.5l2.5 1.5 -1-3zM275 335l3 1.5 -1.5-3zM285.5 335l3 1 -1.5-3zM295.5 335l3 1 -1.5-2.5zM306 335l3 .5 -1.5-2.5zM316.5 335l3 .5 -2-2.5zM327 335l3.5 .5 -2.5-2.5zM337.5 335.5l4.5 0 -3.5-3zM349 336l4.5-.5 -4-2.5zM360 335.5l4.5-1 -4.5-2zM370.5 335.5l4.5-1.5 -4.5-1.5zM381 335.5l4-2.5 -4.5-1zM391.5 335l4-3 -5 0zM402 335l3.5-3.5 -4.5 .5zM412.5 334.5l3-3.5 -4.5 1zM423 334.5l2.5-4 -4.5 1.5zM433 334.5l2-4.5 -4.5 2zM443.5 334.5l2-4.5 -4 2.5zM453.5 334.5l1.5-4.5 -4 2.5zM464 334.5l1-4.5 -4 3zM474.5 334l1-4.5 -3.5 3zM485 334l.5-4.5 -3.5 3.5zM495.5 333l.5-5 -3.5 3.5zM506 332.5l.5-5 -3 3.5zM516 334l0-5 -3 3.5zM526 334.5l0-4 -2.5 3zM536 334.5l0-3.5 -2 2.5zM546.5 334.5l-.5-3.5 -2 2.5zM556.5 334.5l-.5-3 -1.5 2.5zM109 344l2 2 0-2.5zM119 344l2 2 0-3zM129.5 344l2 2 -.5-3zM140 344.5l2.5 2 -.5-3zM150.5 344.5l2.5 2 -.5-3zM160.5 344.5l2.5 2 -.5-3zM171 344.5l2.5 2 -.5-3zM181.5 344.5l2.5 1.5 -.5-3zM192 344.5l2.5 2 -.5-3zM202 344.5l2.5 2 -.5-3zM233.5 344.5l2.5 1.5 -1-2.5zM243.5 344.5l3 1.5 -1-3zM254 344.5l2.5 1.5 -1-3zM264.5 344.5l2.5 1 -1-2.5zM275 344.5l2.5 1 -1-2.5zM316.5 344.5l2.5 .5 -2-2zM327 345l3 0 -2-2zM337.5 345l4-.5 -3-2.5zM348 345.5l4.5-.5 -4-2.5zM359 345.5l4.5-1.5 -4.5-2zM369.5 345.5l4.5-2 -4.5-1.5zM380.5 345l4-2.5 -4.5-1zM391 345l4-3 -5 0zM401.5 345l3.5-3 -5 .5zM411.5 345l3-3.5 -4.5 1zM422.5 344.5l2.5-4 -4.5 1.5zM432.5 344.5l2.5-4 -4.5 1.5zM443 344.5l2-4.5 -4.5 2zM453.5 344.5l1.5-4.5 -4 2.5zM464 344.5l1.5-4.5 -4 2.5zM474.5 343.5l1-4.5 -4 3zM485.5 343l1-4.5 -3.5 3zM496 342.5l.5-4.5 -3.5 3zM505.5 343.5l.5-4.5 -3.5 3.5zM515.5 344.5l0-4 -3 3zM525.5 344l0-3 -2 2.5zM536 344l0-3 -2 2zM546.5 344l0-3.5 -2 2.5zM557 344l0-3 -2 2.5zM119.5 354l2 2 -.5-2.5zM129.5 354l2 2 -.5-3zM140 354l2.5 2 -.5-3zM150 354l2.5 2 -.5-3.5zM160.5 354l2.5 2 -.5-3zM171 354l2 1.5 -.5-2.5zM192 354l2.5 1.5 -.5-3zM202.5 354l2.5 1.5 -.5-2.5zM212.5 354l2.5 1.5 -1-2.5zM223 354l2.5 1.5 -1-2.5zM233.5 354.5l3 1.5 -1-3zM244 354.5l3 1.5 -1-3zM254.5 354.5l2.5 1 -1-2.5zM264.5 354.5l2.5 1 -1-2.5zM327 354.5l3 0 -2-2zM337.5 354.5l3.5-.5 -3-2zM348 355l4-1 -3.5-2zM358.5 355l4-1.5 -4-1.5zM369 355l4-2 -4-1.5zM379.5 355l4-2.5 -4.5-1zM390 355l4-3 -4.5-.5zM401 355l3.5-3 -5 0zM411.5 354.5l3.5-3.5 -4.5 .5zM422 354.5l3-4 -4.5 1zM433 354.5l2.5-4 -4.5 1.5zM443.5 354l2-4 -4.5 2zM454 354l2-4.5 -4 2zM464.5 353l1.5-4.5 -4 2.5zM475.5 352.5l1.5-4.5 -4 2.5zM485.5 352.5l1-4.5 -4 3zM495.5 353.5l1-4.5 -3.5 3zM505 354l.5-4 -3 3zM515.5 354l.5-3.5 -2.5 2.5zM525.5 354l0-2.5 -2 2zM536 354l0-3 -2 2zM546.5 354l0-3 -2 2zM556.5 354l0-3 -2 2zM109 364l2 1.5 -.5-2.5zM119 364l2.5 2 -.5-3zM129.5 364l2 1.5 -.5-3zM140 364l2.5 2 -.5-3.5zM150.5 364l2.5 2 -.5-3.5zM160.5 364l2.5 1.5 -.5-3zM202.5 364l2.5 1.5 -1-2.5zM212.5 364l2.5 1.5 -1-3zM223 364l2.5 1.5 -1-3zM233.5 364l2.5 1 -1-2.5zM244 364l2.5 1 -1-2.5zM327 364.5l3 0 -2.5-2zM337.5 364.5l3-.5 -2.5-1.5zM348 364.5l3.5-1 -3-1.5zM358.5 364.5l3.5-1 -3.5-1.5zM369 364.5l3.5-1.5 -3.5-1zM379.5 365l4-2.5 -4.5-1zM390.5 365l4-2.5 -5-.5zM401 364.5l3.5-3 -5 0zM412 364.5l3.5-3.5 -4.5 .5zM423 364l3-3.5 -4.5 1zM434 363.5l2.5-4 -4.5 1.5zM444 363l2.5-4 -4.5 1.5zM454.5 363l2-4.5 -4.5 2zM465 363l2-4.5 -4 2zM475 363l1.5-4.5 -4 2.5zM485 363.5l1.5-4.5 -4 2.5zM495 364l1-4.5 -4 3zM505 364l.5-4 -3 2.5zM515.5 364l.5-3.5 -2.5 2zM525.5 364l.5-3 -2 2zM536 363.5l0-3 -2 2zM546.5 363.5l0-2.5 -2 2zM556.5 363.5l0-3 -2 2zM109 373.5l2 1.5 -.5-3zM119.5 373.5l2.5 1.5 -.5-3zM129.5 373.5l2.5 2 -.5-3zM140 373.5l3 2 -.5-3.5zM150.5 373.5l2.5 2 -1-3zM161 373.5l2.5 1.5 -.5-3zM212.5 374l2.5 1 -1-2.5zM223 374l2.5 1 -1-2.5zM233.5 374l2.5 1 -1-2.5zM306.5 374l3.5 0 -2.5-2.5zM317 374l3.5 0 -2.5-2zM327.5 374l3-.5 -2.5-2zM337.5 374l3-.5 -2.5-1.5zM348 374.5l3-1 -3-1.5zM358.5 374.5l4-1.5 -3.5-1.5zM369 374.5l4.5-2 -4.5-1.5zM380.5 374.5l4-2.5 -4.5-1zM392 374l4-2.5 -5-.5zM402.5 374l3.5-3 -5 0zM412.5 374l3.5-3.5 -5 .5zM423 374l3-3.5 -4.5 1zM433 373.5l3-4 -4.5 1zM443 374l2.5-4 -4.5 1.5zM453.5 374l2.5-4 -4.5 2zM464 374l2-4.5 -4.5 2zM474 374l2-4.5 -4 2.5zM484.5 374l1.5-4.5 -4 2.5zM495 374l1-4.5 -4 2.5zM505 374l1-4 -3.5 2.5zM515.5 373.5l.5-3.5 -3 2zM525.5 373.5l.5-3.5 -2.5 2zM536 373.5l.5-3 -2.5 2zM546.5 373.5l0-2.5 -2 2zM556.5 373.5l0-2.5 -2 2zM109 383.5l2.5 1.5 -.5-3zM119 383.5l2.5 1.5 -.5-3zM129.5 383.5l2.5 1.5 -.5-2.5zM140 383.5l2.5 1.5 -.5-3zM150.5 383.5l2.5 1.5 -1-3zM296 384l3.5 0 -2.5-2.5zM306 384.5l4.5 0 -3.5-3zM317 384l4 0 -3-2.5zM327 384l3.5-.5 -3-2zM337.5 384.5l4.5-1 -4-2.5zM348.5 384.5l4.5-1 -4.5-2zM360 384.5l4.5-1.5 -4.5-1.5zM371 384l4.5-2 -4.5-1zM381.5 384l4-2.5 -4.5-1zM391.5 384l4-2.5 -4.5-.5zM401.5 384l4-3 -5 0zM411 384.5l3.5-3.5 -5 0zM421.5 384l3-3.5 -4.5 .5zM432 384l3-3.5 -4.5 1zM442.5 384l2.5-4 -4.5 1zM453 384l2.5-4 -4.5 1.5zM463.5 384l2-4.5 -4.5 2zM474 384l2-4.5 -4.5 2zM484.5 384l1.5-4.5 -4 2zM494.5 384l1.5-4.5 -4 2.5zM505 383.5l1-4 -3.5 2.5zM515.5 383.5l1-3.5 -3 2zM525.5 383.5l.5-3 -2.5 2zM536 383.5l.5-3 -2.5 2zM546.5 383.5l.5-3 -2 2zM556.5 383l0-2.5 -2 2zM109 393l2 1.5 -.5-2.5zM296 394l4 0 -3-3zM306.5 394l5 0 -3.5-3zM317 394l4-.5 -3.5-2.5zM327.5 394l4.5-.5 -4-2.5zM339 394.5l4.5-1 -4-2zM350 394.5l4.5-1.5 -4.5-2zM359.5 394l4.5-1.5 -4.5-1.5zM370 394l4.5-2 -4.5-1zM380 394l4-2.5 -4.5-1zM390 394l4-2.5 -4.5-.5zM400.5 394l3.5-3 -4.5 0zM411 394l3.5-3 -4.5 0zM421.5 394l3-3.5 -4.5 .5zM432 394l3-3.5 -4.5 1zM442.5 394l3-4 -4.5 1zM453 393.5l2.5-4 -4.5 1.5zM463.5 393.5l2.5-4 -4.5 1.5zM474 394l2-4 -4.5 2zM484 393.5l1.5-4 -4 2zM494.5 393.5l1.5-4 -3.5 2zM505 393.5l1-3.5 -3.5 2zM515 393.5l1-3 -3 2zM525.5 393l.5-2.5 -2.5 1.5zM536 393l.5-3 -2.5 1.5zM161 403l2.5 1 -1-2.5zM285.5 403.5l3 0 -2-2zM296 404l5 0 -3.5-3zM307 404l5 0 -4-3zM318 404l5-.5 -4-2.5zM329.5 404.5l4.5-.5 -4-2.5zM338.5 404l4.5-1 -4.5-2zM348 404l4-1.5 -4-2zM358.5 403.5l3.5-1.5 -3.5-1.5zM369 404l3.5-2 -4-1zM379.5 404l4-2 -4.5-1zM390 404l4-2.5 -4.5-.5zM400.5 404l4-3 -5 0zM411.5 403.5l3.5-3 -5 0zM421.5 403.5l3.5-3.5 -4.5 .5zM432 404l3-3.5 -4.5 .5zM442.5 403.5l2.5-3.5 -4.5 1zM453 403.5l2.5-3.5 -4 1zM463.5 403.5l2-3.5 -4 1.5zM473.5 403.5l2-3.5 -3.5 1.5zM484 403l1.5-3.5 -3.5 1.5zM494.5 403l1-3 -3 1.5zM504.5 403l1-3 -2.5 1.5zM515 403l1-3 -2.5 1.5zM525.5 403l.5-2.5 -2.5 1.5zM161 413l2.5 1 -1-2.5zM171.5 413l2.5 1 -1-2.5zM285.5 413l3 0 -2.5-2zM296.5 414l5 0 -3.5-3zM307.5 414l5 0 -4-3zM320 414.5l4.5-.5 -4-2.5zM329.5 414l4.5-1 -4-2.5zM338 413.5l4-1 -4-2zM348 413.5l3.5-1 -3.5-1.5zM358.5 413.5l3.5-1.5 -3.5-1.5zM369 413.5l4-2 -4-1zM379.5 413.5l4-2.5 -4.5-1zM390 413.5l4-2.5 -4.5-.5zM400.5 413.5l3.5-3 -4.5-.5zM411 413.5l3.5-3 -4.5 0zM421.5 413.5l3-3 -4 0zM432 413.5l2.5-3 -4 .5zM442.5 413l2-2.5 -3.5 .5zM452.5 413l1.5-2.5 -3 .5zM463 413l1.5-2.5 -3 1zM473.5 413l1.5-2.5 -3 1zM484 413l1-2.5 -2.5 1zM494 413l1-2.5 -2.5 1zM504.5 413l1-2.5 -2.5 1zM515 412.5l1-2.5 -2.5 1.5zM171.5 422.5l2.5 1 -1-2.5zM285.5 423l3 0 -2.5-2zM296.5 423.5l5 0 -4-3zM308.5 424l5-.5 -4-2.5zM319.5 424l4.5-.5 -4-2.5zM328 423.5l4.5-1 -4-2.5zM338 423.5l4-1 -4-2zM348.5 423.5l4-1.5 -4-1.5zM358.5 423.5l4-1.5 -4-1.5zM369 423.5l3.5-2 -4-1zM379.5 423l3-2 -3.5-1zM390 423l3-2 -3.5-.5zM400.5 423l2.5-2 -3-.5zM411 423l2.5-2 -3.5 0zM421.5 423l2.5-2 -3 0zM432 423l2-2.5 -3.5 .5zM442 423l2-2.5 -3 .5zM484 422.5l1-2.5 -2.5 1zM150.5 432.5l2.5 1 -1-2.5zM161 432.5l2.5 1 -1-2.5zM285.5 433l3.5 0 -2.5-2.5zM297 433.5l5 0 -4-3zM308.5 433.5l5-.5 -4-2.5zM318 433.5l4.5-.5 -4-2.5zM327.5 433.5l4.5-1 -4-2.5zM338 433l4.5-1 -4-2zM348.5 433l3.5-1.5 -3.5-1.5zM358.5 433l3-1.5 -3-1zM369 433l3-1.5 -3-1zM379.5 432.5l2.5-1.5 -3-.5zM390 432.5l2.5-1.5 -2.5-.5zM411 432.5l2-2 -2.5 0zM421.5 432.5l2-2 -3 0zM432 432.5l2-2 -3 0zM442 432.5l2-2 -3 .5z" fill="#000"/></g>
<rect x="99.5" y="32.6" width="486.79999999999995" height="405.0" fill="none" stroke="#000" stroke-width="0.8"/>
<path d="M99.5 32.6h-3.5M99.5 133.8h-3.5M99.5 235.1h-3.5M99.5 336.4h-3.5M99.5 437.6h-3.5M180.6 437.6v3.5M282 437.6v3.5M383.5 437.6v3.5M484.9 437.6v3.5M586.3 437.6v3.5" stroke="#000" stroke-width="0.8"/>
<g font-family="DejaVu Sans,Liberation Sans,sans-serif" font-size="27.7" fill="#000">
<text x="93.2" y="43.5" text-anchor="end">35°N</text>
<text x="93.2" y="144.8" text-anchor="end">30°N</text>
<text x="93.2" y="246" text-anchor="end">25°N</text>
<text x="93.2" y="347.2" text-anchor="end">20°N</text>
<text x="93.2" y="448.5" text-anchor="end">15°N</text>
<text x="181.1" y="465.2" text-anchor="middle">115°E</text>
<text x="282.5" y="465.2" text-anchor="middle">120°E</text>
<text x="384" y="465.2" text-anchor="middle">125°E</text>
<text x="485.4" y="465.2" text-anchor="middle">130°E</text>
<text x="586.8" y="465.2" text-anchor="middle">135°E</text>
<rect x="616.9" y="28.2" width="21.1" height="413.7" fill="url(#jg)" stroke="#000" stroke-width="0.6"/>
<text x="643.6" y="452.5">0</text>
<text x="643.6" y="414.9">5</text>
<text x="643.6" y="377.3">10</text>
<text x="643.6" y="339.7">15</text>
<text x="643.6" y="302.1">20</text>
<text x="643.6" y="264.5">25</text>
<text x="643.6" y="226.8">30</text>
<text x="643.6" y="189.2">35</text>
<text x="643.6" y="151.6">40</text>
<text x="643.6" y="114">45</text>
<text x="643.6" y="76.4">50</text>
<text x="643.6" y="38.8">55</text>
</g>
<path d="M638 441.9h3M638 404.3h3M638 366.7h3M638 329.1h3M638 291.5h3M638 253.9h3M638 216.2h3M638 178.6h3M638 141h3M638 103.4h3M638 65.8h3M638 28.2h3" stroke="#000" stroke-width="0.8"/>
<text transform="translate(695.8 232.5) rotate(-90)" text-anchor="middle" font-family="DejaVu Sans,Liberation Sans,sans-serif" font-size="18" fill="#000">wind speed m/s</text>
</g>
<g transform="translate(766 528)">
<clipPath id="cpd"><rect x="99.5" y="32.6" width="486.79999999999995" height="405.0"/></clipPath><filter id="bld" x="-5%" y="-5%" width="110%" height="110%"><feGaussianBlur stdDeviation="1.1"/></filter><g clip-path="url(#cpd)"><g filter="url(#bld)" fill-rule="evenodd"><rect x="85.5" y="18.6" width="514.8" height="433" fill="#00008d"/><path fill="#0000a8" d="M89.5 450l509 0 0-429.5-511 0 0 429.5zM375 290l-2-2-3-4.5 0-2 2.5-4 .5-4 2-2 12.5-6 2-1 2-2.5 2-.5 2 2.5 2 3.5 1 6 0 8-2 6.5-3 2-2-1-2-2.5-2-1.5-6 1-4 3.5z"/><path fill="#0000c8" d="M89.5 450l375 0 1-4.5 1-3 2 1 .5 6.5 129.5 0 0-170-2.5 3.5-1.5 1.5-2 .5-2-.5-1.5-1.5 0-2 1.5-3 4 0 4-1.5 0-256.5-511 0 0 429.5zM144.5 395l-3.5-2-2.5-4-.5-2 1-2 1-1.5 2-.5 2 0 2 1.5 3.5 4.5 3.5 2 1.5 2-2.5 2-2 .5zM138 364.5l0-3 3.5-5 2.5-1.5 4 0 2 1 1.5 4.5 .5 2 1 0-3 .5-3 1.5-3 1-4 .5zM373.5 294l-4-4-4.5-1.5-2-1.5-1.5-3.5 .5-2 3-4 .5-4 1-2 3-2 6-2.5 6-4.5 10-4.5 2 0 4 1.5 2 2 2.5 4 1 4 .5 4-.5 4 1 6-.5 4.5-1 2-3 2-6 2-2-.5-4-2-6 0-4 2.5-2 1zM314.5 95.5l-2.5-2 .5-3 2-.5 1 3.5zM552 67l-8.5-4.5-5.5-1.5-4.5-2-4 0 4-1 1.5-1 2.5-.5 8 .5 12.5-2 2 1 2 3-1 6-.5 2-2.5 1.5z"/><path fill="#0000e8" d="M89.5 450l8.5 0 0-2.5 3-6 0-6-1-2-2.5-4-2-1.5-8 .5 0 21.5zM124 450l35.5 0 .5-2.5 1.5-2 3-1 4 0 2.5 1 1 2 .5 2.5 16.5 0 1-4.5 3-4-.5-2-2.5-4-1-2-2.5-2-1.5-2 .5-2 1-1.5 4.5-3 4-2.5 1-1 1-2 0-2 0-2-1.5-2-2.5-.5-6.5 1-11 5.5 0 2 2 2 0 2-3 2-6 1-2-.5-3-2.5-3-4-2-.5-2 0-6.5 2-8 0-4 1-4 2.5-2 .5-2-2-4.5-9.5-2.5-8.5 1-2 1.5-2 .5-2-2.5-4-.5-6 0-8-2-6 1.5-6 1.5-12.5 2-2.5 6-3 4-3 8-2 6-3 6.5-.5 4.5 2 2 2 1.5 4 .5 6 4 6 0 2-1 4.5-2.5 6 .5 4 1 2 3.5 1.5 4 .5 2-1.5 2.5-6.5 0-6 1.5-2.5 2 3.5 1.5 5 4.5 4 2 8 1 2 4.5 4 1.5 6 2.5 4 .5 2-1 6.5 0 2 1.5 2.5 2 7.5-2 8-4 3.5-4 4.5 0 2 3 4 .5 4.5 72 0 0-2.5 1.5-2.5 2-2 4-.5 2 .5 1.5 2.5 .5 4.5 50.5 0 0-2.5 2-2 3-2 3.5-3 2 0 4 1 2.5 4 .5 4.5 104 0-.5-20.5 1-2.5 2-1.5 20 3.5 1.5 .5 1.5 2 .5 4 1 .5 8 .5 10 1.5 2 1 1.5 2.5 1 8.5 97 0 0-156.5-2.5 2.5-.5 2 1.5 2 0 2-6.5 0-2-.5-3-7.5-6.5-6-1-4.5 2-10 1-2 2.5-2 5-3 6 1 4-1.5 0-61-11 4-1 .5-2 3.5-2.5 1.5-6-.5-3.5-1-1.5-2 1-6.5-1.5-6 2-4 1.5-7 2-3.5 8.5 .5 4-1.5 1 1.5 1.5 8 1.5 3 2 1 2-1 1.5-3 .5-8 0-140-1.5-2-.5-2 2-2.5 0-17.5-169.5 0 0 2-3 3.5-2 1.5-4 .5-2-1-1.5-2.5-.5-4-38 0-.5 3.5-2 4.5-4 1-2 0-3.5-5-3.5-2 0-2-47.5 0-.5 2-8 4.5-1.5 1.5-.5 3-2 1.5-6.5-3-4-4.5-2-.5-6 0-2-1-1-1.5 0-2-62.5 0 0 2-1.5 2-4 .5-4-1-3.5-3.5-1 0-.5 2-3 2.5-2 0-2-1.5-1-3-37 0 .5 2 1 2.5 2 2 4.5 1.5 1.5 2 .5 4-.5 7-2-.5-2-1.5-2 1-6 8.5-4.5 1.5-2 0-2-1-3-4.5-1-1-2 .5-1.5 2.5-1.5 12-5 3-2 1-6-.5-4.5-1.5-2-2-1-2-3.5-4 7-2.5 3-1.5 2.5-2-.5-2-2.5-4.5-2-2-4-2-1.5-2-1-6 .5-8-29 0 0 71.5 8-1 2 1 2 1.5 .5 2-4.5 2-8 .5 0 35 2.5-1 1.5-4 2-2 2-1 5 1 1 .5 1 1.5 .5 4-.5 2-1 .5-2.5 5.5-3.5 4-2 0-4-1.5-2-.5 0 67 8-.5 12 4 2 2 2 4.5 3.5 4-4.5 4-2 6 0 2 3.5 6-1 2-1.5 1-4 .5-4-.5-2-1-1-2-1-3.5-2-2-4 1.5-4 .5 0 133 6-2 2 0 2 5-1 11.5 1.5 8-1.5 8-2.5 4-.5 2-1 6.5 1 4 2 1.5 7 2.5 6 10 7 7 6.5 7 1 2 0 2.5zM392.5 445.5l-1-2 0-3.5 6.5-10.5 8-2.5 4 0 2 .5 .5 2 .5 2-.5 4-.5 2.5-2 2.5-12.5 4.5-4 2.5zM537 439.5l-1.5-1 0-1-1.5-8 3.5-7 2-3 3-2 7.5-3 2 0 4 3 1.5 4-1.5 1-10.5-1.5-1 .5-.5 2 1.5 4 .5 2-1.5 6-3 3-2 1zM481.5 431.5l0-2 3.5-1.5 2 0 2 1.5-.5 2-3.5 2-2-1zM508.5 431.5l-1.5-2 0-2 2-3.5 4.5-2 2 .5 2 5 0 2-1.5 2-2.5 1-4.5-.5zM223 415.5l-6-.5-2-1-4-7-.5-2 .5-2 2.5-4-.5-1-4-2-3-3-1-4 .5-2 1.5-4 0-4-2-4.5-2.5-1.5-5.5-2-1-2 2-2.5 6-2 2.5-2 0-2-1.5-2 0-2 0-.5 2-1.5 4 .5 2 1.5 2 4 2 1.5 8.5 2 3.5 2.5 2 8.5-1 10 .5 2 2 2 3 1.5 6 0 2 .5 8 3.5 2.5 2.5 0 2-.5 5.5-2 2-4-1.5-6 2-4-5.5-2-2-2 2-1 1.5-.5 8.5-.5 2.5-2 2.5-2 0zM594.5 407l-1-2 1-2 1.5 2zM542 399l-2.5-1.5-1-2.5-1.5-8 1-2 3.5-4 2-4.5 2-1.5 4.5 4 4 2.5 2.5 3.5 1 2-.5 2-3 5-5 3-3.5 3zM323.5 379l-3-.5-2.5-1.5-.5-2 .5-6-1-2.5-2.5-.5-6-.5-2-1.5-1-1.5-2.5-6 0-4 .5-2 3-5.5 2-2.5 2 0 3 2 1 1.5 2.5 6.5 1.5 1.5 2 1 6 .5 2 2.5 1 4.5-2 6.5 3.5 6-1 2-1.5 1-2 1zM526.5 375l1-2 2 0 1 2-1 1-2 .5zM262.5 342.5l-4.5-2-1.5-2 1-2.5 6.5-3 2-.5 2.5 4 1 2-.5 2-3 3.5-2-.5zM238.5 340.5l-1-2 1-2 7-3.5 2-.5 3 4 .5 2-3 2-6.5 1zM568 340.5l-2-2 .5-2 1.5-3.5 1-.5 1.5 0 1.5 2-.5 4-1.5 2.5zM282 338.5l2-2 2 1 .5 1-2.5 1.5zM543 314l1-2 1.5-1.5 2.5 .5 .5 1 0 2-.5 1-2.5 .5zM247.5 310l-.5-2 .5-1 2 1zM373 300l-3.5-4-6.5-3-5-7.5-.5-2 .5-2 2.5-4 .5-6 1-2 17.5-10.5 6-2 8-1 6 1.5 4.5 2 3 4 1 4 0 4-1 6 1 6 .5 6.5-2.5 6-2.5 1-2-.5-8 1.5-6-3-4 .5-2 .5-2 1-2 2.5-2 1zM101.5 279.5l-2-2 0-2 0-4 1-2 5-2 6-1 2 0 2 1 1.5 2 0 2-4 6-2 2-3.5 2-2 0zM555 279.5l-6.5-8-8-4-1.5-2 0-6 1.5-6-1-6 2-2.5 4-1.5 14.5 1.5 4 1 8-1.5 2.5-1.5 2-2 1.5-2.5 2-6.5 2-1.5 2.5 2.5 .5 6-.5 4-2.5 10.5-2 2-6 3.5-4 3.5-4 1.5-1.5 1.5-.5 2-.5 8-.5 2-2 2-3 1.5zM203.5 265.5l-7.5-2-2-2-3-5-1.5-9 1-6.5-.5-10 0-2-1.5-2-2-1-6-.5-12 3-2.5-1.5 1-2-3.5-2-1-.5-6 0-8.5-3-10-9.5-2.5-3-1-8.5 1.5-10.5 .5-1.5 1-2 4.5-1.5 8-.5 6.5 1 2-.5 .5-.5 0-2-1.5-4 0-2 1.5-2 5.5-4 2-3 2-1 2 1 12 8.5 .5 2.5-.5 2 0 6 .5 2 1.5 1.5 4 2 5.5 4.5 3 1.5 8 1.5 2-1.5 3.5-3.5-1.5-6 2-2 6-1 2.5-1 1-2 .5-6 2-2.5 2.5 1.5 .5 1-.5 6 1 2 5 3 2 4 2 2 6-4.5 2 1 3.5 4.5-1 2-4.5 1.5-2-.5-4-2.5-3.5 3.5-.5 2 1.5 6-2 6.5 0 6-1.5 2-8 2-4.5 1.5-6 1-6 3.5-1.5 2 .5 2 3 6 4 2 6 .5 2 2.5 .5 3-.5 4.5-8 9.5-3 4.5-2.5 2zM130.5 259.5l-.5-2 0-2 1-2 3-.5 3.5 .5-1 2-3.5 4-1 .5zM407.5 251.5l-.5-2 1-1 2-1 1.5 2-1.5 2.5-2 0zM235 245l-7.5-2-1.5-2 .5-2 3-1.5 4-2 2 0 2 .5 4 2.5 1.5 2.5-1 2-4.5 2zM522 182.5l-3.5-2-1-2-1-4 2.5-2 2.5-1 6-1 2 .5 1 1.5 1 2 0 6-1.5 2-2.5 1zM588.5 176.5l0-2.5 2-1 6 1.5-.5 2-1.5 1-4 0zM93 164l-.5-8 1.5-2 1.5-.5 2 .5 3 2-.5 2-2.5 5-2 2-2 0zM587 162l-.5-2 2-4 .5 2 0 4-.5 1.5zM105.5 158l-2-2 1.5-4-.5-14 1-1.5 2 .5 2 5 .5 4-.5 7-.5 3-1.5 2zM123.5 156l2.5-2 2 1 .5 1-2.5 1.5zM307.5 154l-1-1.5-.5-2.5 .5-2 2-1.5 6 2 6-.5 1.5 2-1.5 3-2 .5-2-1-2 0-4 2.5-2 0zM534 146l-2.5-2 5.5-4 4-6 2.5-8.5 2-1.5 2.5 0 4 2 4 1 .5 1-.5 2-6 3.5-2.5 2.5-3.5 8-2 2-2.5 1zM269.5 136l-10-3.5 0-2.5 0-4 2-2.5 4.5-2.5 .5-3.5-.5-4 .5-2 7.5-2 2-2-1-6 3-2 8-1.5 2-2.5-2-14.5-2-2.5-3-7.5 1-2.5 2-1 2 0 2.5 1.5 1.5 2 1.5-2 1-10 1-2 3-4-2.5-4.5 0-1.5 0-2.5 2-4 4.5-2 1.5 0 .5 .5 0 1.5-2.5 4.5-1 6 .5 2 3 1 2 3 1 4 1 1 2.5 1 2.5 2-.5 2-2.5 4-4-2.5-2-.5-2 1-1.5 2 2 6 1.5 1.5 2-1.5 2-4 2-1.5 5 5.5 7 6 6 2.5 2 1.5 3.5 6.5 0 2-5.5 5.5-12 4.5-6-2.5-4.5 2.5-1.5 2 2 2 4 5.5 6 1 1.5 1.5 .5 2-1 2-1 1.5-6 .5-6 2-8.5-.5-10-2-2 3-.5 6-1 2-2.5 3-4 0zM186 126l-2-4.5-1.5-1.5-1-.5 1.5-2 3.5-2 2 2 .5 2-2.5 8zM517 123.5l-1.5-.5-2-2.5-.5-3 0-10-1.5-3.5-2.5-1.5-6 2-6-1-4 0-2.5 4-2.5 2-7 3.5-2 .5-6.5-2.5-6-.5-2 .5-14.5 10.5-5.5 0-4-1.5-3-2.5-4.5-6-3-2-2-2-1-6-1-2-6-4-10-3-2.5-1-1.5-2-1.5-6.5 1-6 0-2-3-4 .5-2 7-5 2 .5 .5 6.5 3 6 4.5 2.5 4 4.5 4 1.5 16.5 1.5 6 3 2 2 2 .5 1.5-1 1-2-.5-4 .5-4.5 1.5-3 2-1 6.5 6 3.5 3 2 1 6.5 0 2-1 3-5 5-4 2-1 2 .5 6 3.5 4 4.5 2 1 4 1.5 2.5 0 2-1.5 2 0 5 6 13 4 2 2 1 4-.5 6 .5 6-1 3.5-1.5 2.5-6.5 5-2 .5-4 .5zM259.5 113.5l-2.5-4-.5-6 0-2 1-1.5 2-1 7 2.5 .5 2-1.5 4-.5 4-1.5 2-1.5 1-2.5-.5zM216 107.5l-1-2 0-4 0-2.5 2-2.5 3-1 3-.5 3 .5 3.5 3 1 3 0 2-5 4-6.5 .5zM232.5 107.5l0-2 1-.5 2 0 1.5 2.5-1.5 1.5zM544.5 101.5l-.5-4 1-2 .5-.5 3.5 6.5-1 2-2.5 0zM204.5 91.5l-2-2 .5-2 2-4.5 4-2 2-.5 2.5 .5 3.5 2-7 4.5-3 4zM97.5 85.5l-1-6.5 0-2 5-5.5 8 2 3.5 1.5 2.5 2 1 4-1 2-6 3-6 1-4-.5zM218.5 83l4-4 1-2 4-1.5 2 .5 .5 3-.5 3.5-1 .5-5.5 1zM361 83l0-2 2-6 2-1 4.5-.5 3.5 1.5 3.5 2-.5 2-.5 1.5-3.5 2.5-7 1.5-2 0zM537.5 75l-10-5.5-2-1.5-3-5-9-6-3.5-2-1-2 1.5-2 3-1.5 2-.5 6 .5 1-.5 1.5-2 1.5-7 2-2 10-2 2 0 2 .5 3 2 .5 2-1.5 4.5 0 2 2 1 4.5 .5 2 0 3-1.5 .5-2-1-4.5 .5-2 1-.5 2-.5 6 .5 6-1 2 .5 4 2.5 3.5 .5 2.5 2.5 1.5 4 4 4 .5 2-4 6-2 1.5-6 2.5-1 2 0 4 0 2-3 2-12 1.5-8 0-3.5 .5-3 1.5zM203 69l-2.5-2-1.5-2 5.5-2 6.5-.5 2.5 .5 4 2-2 2-4.5 3-4 1-2-.5zM410 55l2-2 0 2 0 1zM95 32.5l-.5-4 1-2.5 2-1 3.5 1.5 .5 2.5-4 3-2 1zM537 30.5l-1-2 1.5-2 2-1.5 4.5 1.5 2.5 2 0 2-1 1-2 .5-4 .5zM130 401l2-.5 0-1.5-2-.5-1.5 .5zM215 396l2 0 2-1 2-4.5 3.5-1.5 2-2-1-1.5-2-.5-2.5 0-4 1-1 1-1.5 6zM89.5 388l2-1 0-4-1-2-3-1.5 0 9zM172.5 219.5l8 1 7-1.5 2.5-2-5.5-3-4-3.5-2 0-4 2-2 2.5-1 2 0 2zM162.5 186.5l0-2-2-.5-.5 .5 1 2zM474.5 95.5l4.5 1 2-1-2-1zM576 47l2 0 0-2.5-2 0-.5 .5-.5 2zM138 29.5l6-4 2-3 .5-2-17 0 .5 2 5 4z"/><path fill="#0000ff" d="M223 450l22.5 0-.5-10.5-1.5-1.5-2-1.5-4-1.5-2 0-4 3-4 2-2.5 1.5-2.5 4-.5 4.5zM290 450l18.5 0 .5-4.5 1.5-4 0-2-2-2.5-4 2-8.5 1-2 1-4 5-1 1.5 0 2.5zM357 450l12.5 0 .5 0-.5-3-2.5-1.5-4-1-4 0-1.5 1-1 2 0 2.5zM416 450l23 0 .5-8.5-1.5-6 1.5-6-1-2-2.5-1-2 0-6 0-2.5 1-.5 2 5.5 6-.5 2-4 7.5-2 .5-2-.5-2-2-2 0-2 3-.5 4zM562 450l22.5 0 1-8.5-.5-2-3-3-6-1.5-4-5.5-6-2-2 0-2 1-1 3 0 18.5zM253.5 442.5l1.5-1 .5-2-.5-2-1.5-1.5-2 3.5 .5 2zM154.5 438l2 .5 2-.5 5.5-2.5-7.5-4.5-2 1-2 1.5-.5 2zM264 427.5l2 0 1.5-2 .5-2 0-2.5-2-6-2 1-2.5 3.5-2 1.5-.5 2.5 .5 2zM296 426.5l6.5-1.5 6 2 4-.5 4-1 1.5-2-2.5-12 1-1.5 6 .5 4 .5 4 4 8.5 2 2 0 .5-1.5 .5-4-.5-2-2.5-3-4-2-8.5-2.5-6 .5-2 .5-3 2-1 2-5.5-6-1.5-6-1-1.5-4-.5-2 1.5-2 2.5-2.5 3.5-1.5 4.5-1.5 14.5 1 5.5zM343 423.5l2 .5 2-.5 .5-2-2.5-2-2 .5-1.5 1.5zM361 424l2 0 1-.5 1.5-4 .5-2-1-2-2-2-7 4 .5 2zM422 423.5l4-1 4-2 6-.5 12-2.5 1-2-1.5-2 1-2 4 0 2-.5 6-5 6-1 6-4 2-.5 6.5-1 4 1 10-.5 4-3 2.5-4 5.5-2.5 1.5-1.5 6-14 7-6 5-6.5 1.5-6 6.5-6 0-12 1-6 2.5-6.5-.5-6-3-6 .5-2 1-4 1.5-2 4.5-4 1.5-6 4-4 1-2-2-6.5-5-6-6-12-.5-8-2-10 3.5-6.5 0-6 3-6-.5-4-2.5-4-3-4 0-6-4-9-2-3-4-3-2-3.5-4.5-6-7.5-6-3-6 0-2 1.5-4-1.5-12.5-5.5-5.5-1.5-6.5 0-2 1.5-3 1.5-1 .5-2-1.5-8-2-4.5-2.5-1.5-2 1-1 3 0 6-1 5-2 2-4 1.5-3.5-.5-4.5-3.5-6.5-3-2-.5-4-.5-4 3-2 1-10-5-14.5-5-6 0-12-10-4 1-8 0-2.5 .5-2 2.5-2 1-4 .5-3-.5-2.5-2 0-2 1-4 2.5-1.5 6 0 2-2 1.5-8.5-1.5-5-6-15.5-2-2-2 .5-4.5 6-3.5 2-8 2.5-4 3-2 1-6.5 1-6-1.5-6 2-6 4-2.5 2-3.5 5-6 3.5-4 3.5-1.5 4 0 4 1.5 4.5 1.5 1.5 2.5 1 2 0 12-1.5 2-1 2 .5 .5 1.5-2.5 4 1.5 4-.5 2-2 2-5.5 4-1.5 2-2 7.5-2 2.5-4 2-6.5 1-6 3-6 .5-6 2-2 0-4-1-2 1-10.5 10.5-8 2-6 .5-.5-1 0-2 2.5-1 2.5-3-.5-4-2-3-4-1-2 .5-2 1-2 2.5-.5 2 1 2 3 4 0 2-2 4 1.5 2 3 .5 2 0 1 1.5-1 8 .5 4-1 6-1.5 4.5-2 3-6 4.5-2 2.5-5 4-3.5 4-6 4 0 2 2 4 3 4 .5 2 0 6.5-1.5 4.5-2 4.5-4 2.5-1.5 .5 3.5 2.5 1.5 1.5 .5 2 .5 10 2.5 8-1 4.5 .5 2 3.5 1.5 6 4.5-.5 2-1.5 2-.5 2 1 2 8 11.5 4 4 4 2 6 0 12 2 4 2.5 1 2.5 .5 2 1 1.5 2 .5 2-.5 2 0 4 1.5 2 1.5 2.5 5.5 5.5 7.5 10.5 7 3 1.5 1.5 2 1 4-1 4 0 2.5 3.5 5.5 .5 2.5 1.5 2 8 7.5 6 4.5 1.5 2 2 6 .5 6 2 4 4-2 8.5 1.5 3 3 1.5 4 1.5 2 6 5 2 0 4-1 6 0 12.5-2 6 3.5zM374 334.5l-2-2-.5-2 2-4 6-3.5 2-.5 2 1.5 1 2-.5 2.5-2.5 4-2 1.5-2 .5zM374 304l-4.5-1-6.5-1-2-2-1-4-3-5-2-7.5 0-2 1.5-4 0-6 1-2 5.5-7.5 2-1 14.5-5.5 8-2 6 0 6 2 3 0 1-.5 1-1.5 0-4 1-2 2.5-1.5 2 0 3 1.5 1 2-.5 2-3.5 4 0 2 2.5 8-.5 6-1.5 6 1.5 10.5 0 4-1.5 6-2 4-2.5 1.5-2.5 0-4-1-6-.5-6-3-6 1.5-4 3zM564 404l2 0 4-2 1-1 .5-2-1.5-1.5-4-1-2.5 .5-1.5 2 .5 2zM566 387.5l2 .5 2 0 2-2.5 2-4.5-1-2-1-1.5-2-1-2 .5-3 2-1 1 0 4zM588.5 387l2-1 4-5 4 0 0-26-4 2.5-6 2-2 1-5.5 6-.5 2.5 2.5 6 0 6 2 4 1.5 1zM257.5 385l2 1 2.5-1 2-2 1-2-3-2-4.5-1-2.5-1-3-4-4.5-5-2 0-4 .5-2 1.5-1.5 3 0 2 1.5 3 2 1.5 6 3.5 6 .5zM296 376.5l4.5-.5 2-.5 .5-.5 1.5-3.5 0-2.5-2-2-2 0-4.5 2-1.5 6zM101.5 359.5l1.5-1 1-2-.5-2.5-2-2-2 2-.5 2.5 .5 1.5zM247.5 359l6-.5 2.5-2-2.5-2-6 0-1.5 2zM596.5 347.5l2 .5 0-7-2.5 1.5-1.5 2 .5 2zM89.5 341l2-.5 3.5-2 .5-2-2-2-.5-2 1.5-6.5-3-5.5-2-2-2-.5 0 23zM103.5 340.5l4 .5 2-1 8-5.5 1.5-2-1.5-2-4-2.5-4-4-2-.5-2 .5-2.5 4.5-4 2-1 2-.5 3-1.5 1 1.5 2zM199 341l2-.5 4-8.5 6-1.5 6 .5 4-2.5 2.5-2.5 0-2-2.5-4 2-1 6.5-1 2-1.5 1.5-2.5-1.5-9-2-4-2-1.5-4.5 2-7.5 6.5-.5 6-1 2-3 1-6 1-2 0-2.5-2 0-2 3.5-6-1-2-4-4-6.5-4-5.5-8 .5-2 3.5-3.5 8-4.5 .5-2.5-.5-2.5-2-1-4 0-8.5 3-4 3.5-4 5-2 0-2-3-2.5-5 0-6-1.5-2.5-6 1-4-1.5-4-.5-4.5 1.5-4 3-2 1-6-1-3.5 3-2.5 3.5-2 1-10 1.5-2 1-3.5 3-5 3.5-2.5 1-2.5 2 0 4 1 2 2 1.5 2-.5 2.5-3 6-2 8 0 6-2 5 2 2 2 3 6 3 2 5 2 6.5 .5 2 1.5 4 6 5.5 6-1.5 2-5 2-1.5 2 .5 2.5 2 1.5 4 2.5 2 0 6-1.5 9-2.5 1-2.5-2.5-6 0-2 1.5-6 1-1.5 2-1 8.5 3.5 1.5 1 1.5 2 .5 2-.5 2-4.5 6 0 2.5 2.5 10 1 1.5zM132 338.5l12 0 .5-2-.5-1.5-2-2.5-2.5-2-7.5-4-7 4-2 2 4.5 4 2.5 1.5zM130 325l2 1 2-2 .5-2 0-2-2.5-2-4.5 2 0 2zM578 319l4 .5 10.5 0 2-1 1.5-4.5-1.5-3.5-3-2.5-5-2-8.5-6-2-1-2 0-1 1-1.5 2 1.5 8 1.5 6 1.5 2zM211 298.5l4 1 4-.5 2-.5 1-2.5-1.5-2-3.5-2.5-6 2.5-.5 2zM223 274.5l6.5 0 6-1.5 2-1.5 1-4-.5-4-.5-.5-2-.5-6 0-3.5 1-3 1.5-2 6.5 1 2zM150 260l2 1 3.5-1.5-.5-2-3-2.5-2 1.5zM178.5 256l2 .5 .5-1-.5-8.5-2 .5-1 4-.5 2zM99.5 197.5l2 1 2-1 2-3 .5-2-.5-2-2-6-6.5-4-1.5-3-1.5 3-2 2-2.5 1-2 0 0 10.5 10 2.5zM556 195l2 0 2-.5 2-2-.5-8 2.5-8 0-4-1.5-6-7.5-6.5-3-1-2 1.5-1 1.5-.5 12.5 1.5 12 2 6zM193 164.5l6 1 6-1.5 6 0 1.5-2 1.5-4 .5-2-1-2-2.5-2-2 .5-2.5 1.5-2 4-11.5 1.5-1 .5-.5 2zM178.5 156l2.5 0 5.5-4.5 2 0 4.5 1 2-1 3-5.5 .5-2 0-4-.5-2-3-2-2 0-2 2-2.5 8-2 1.5-3-5.5-7-6.5-6-4-2-.5-1.5 1-4.5 4-1 2 1 3.5 3.5 4.5 3.5 2 3 5.5 2 1.5zM225.5 146.5l2 .5 2 0 8-6 2.5-3-1-2-3.5-5.5-2 .5-9.5 13zM148 128.5l2 .5 2-1 1-2-.5-8.5-.5-1-2-2-5.5 5-.5 2 .5 4.5zM592.5 111.5l2 .5 4-1 0-24.5-4-1-12.5-1-3.5-1.5-2.5-1.5-2 0-4 .5-9 5.5-1 2 .5 6 1.5 2.5 5.5 3.5 .5 6 4 2 4 .5 6-1.5zM126 110l2-1 1-1.5 .5-6-.5-6-1-2-2-1-2 2-2 7 2 5.5zM188.5 87.5l2.5 .5 2-1 1-4 0-6-1-1-8.5-2-3-3 1.5-4 .5-4-1-3-2-2-2 0-1 1-3 4-.5 2 .5 6-1.5 2-2.5 1.5-8 0-6 1.5-6.5 1-4-.5-8-2.5-5.5 1-3 2 2.5 2 4 1 4 0 4-1.5 2 0 4 1 2 1 2.5 2.5 2 1.5 4-.5 2-.5 4-3.5 2-.5 6 0 2 .5 8 6zM594.5 79.5l4-2.5-2-2-2-.5-2 2.5zM470.5 73.5l2 1 6.5-.5 2-1 1.5-2 0-2-3-6-4-4-1-1.5-2-.5-2 .5-4 3.5-1.5 2-.5 2 1 2zM377.5 65l4 2 2-.5 4-3.5 1.5-2 1-2-1-2-5-8-1.5-4-1-2-2 0-4 1.5-2.5 6.5 0 4 1.5 6 1 2zM227.5 55.5l2 .5 2-2 0-2-2-2-2 .5-1 2.5zM481 54l4 .5 2.5-1.5 0-2-2.5-2-2 .5-2.5 1.5-1.5 2zM495 54l2 0 1-7-1-1-2.5 1-.5 2 .5 4zM262 35l2 1 2 0 .5-1.5-.5-2-2-.5-2.5 .5-.5 2zM333 35l2 .5 2-1 2-1 2.5-3 .5-2-1.5-8-11.5 0-.5 2.5-3.5 5.5 1.5 2zM509 35l2.5 .5 4 0 5-1 1-1 .5-3-.5-4.5-2 .5-4 4-5 2-1.5 1 0 1zM349 31l2 1 2-2.5 0-2-2-3.5-2 1-1 1.5-.5 2zM586.5 24.5l6 1 2-.5 1-2.5 .5-2-13.5 0 .5 2z"/><path fill="#0014ff" d="M395.5 415.5l4 1 10.5-2 4-.5 4 2 4 1 2 0 2-1.5 1.5-4 2.5-2.5 6-2 6.5-1.5 6-2.5 6 0 6-3 6-.5 17-18.5 .5-2 0-2 1-2.5 8-3 6-.5 4 .5 6-.5 2.5-2 1-4.5 4.5-4 4.5-5.5 2.5-4.5 4.5-10 3.5-12 .5-2.5 0-6-1-2-3-4-1.5-4-1-2 1-2 8-8 4.5-6 1-2-1.5-6.5-2-4-2-8-1-2-3.5-4-1-6-2.5-6 0-6 .5-2 2.5-2.5 .5-2-.5-6 1-6-.5-2-3-5.5-2-1.5-2 0-2-1.5-1-1.5 0-6-1-4-1-2.5-5-6 0-6-2-4-2.5-2.5-7-5.5-6-6 0-6-3-8.5 0-2-2.5-2-1.5-.5-2 .5-2-.5-1.5-1.5-5-8-1.5-1-6.5-2-4 0-6 1-2-.5-6-2.5-5-3-11.5-4.5-6-.5-12-8-6-.5-2 .5-5 3-5.5 1.5-6 0-6.5-1.5-7.5-5.5-2-8.5-1.5-2.5-.5-.5-4-.5-2 0-2.5 1-1 2-1 4 1 8.5-1 4-4 4-4 3.5-6 10-6 3.5-4.5 7-5.5 3.5-8.5 3-6 3.5-6 .5-12 3.5-8.5 7-4.5 5.5-6 8-4 16.5-1.5 4-2 3-8 7-3 6-4 6-1.5 18.5 4 12 3 6-.5 12 .5 2 3.5 4 2.5 4.5 1 4 1 8 .5 2 1.5 2 5 4 4.5 2 4 1.5 7 .5 11.5 3.5 6 1.5 2 3.5 2 9 2 4 8 5 4.5 5.5 6 2 1.5 2.5 2 14.5 2.5 4 8 7 10 7.5 2 1 2-.5 2.5 .5 5.5 4.5 3 6 1 4 1 2 9.5 9zM370.5 336.5l-1-2-1-2 0-2 1.5-4.5 3.5-3.5 3.5-2.5 2-2 2.5-6 2-1 4-.5 2-2.5-2-2.5-2 .5-2 1.5-2 .5-12-2.5-9.5-1.5-4-2-.5-6-3-12.5 1-6 0-8 1-4 8.5-13 2-.5 2 .5 6.5-.5 14-2.5 6 .5 6 1.5 2-1.5 2-2.5 2.5-2 4-1 2.5 .5 3 2.5 1 2-2 6 1 10-2.5 12 1 18.5-2 8-4 4 1 2 3 4-2 2-6.5 1.5-12 1.5-1.5 1-2 8.5-4.5 6.5-2 1.5-4 1-4 0zM150 292.5l4.5-.5 4-2-4-3.5-2.5-3.5-2-1.5-2.5 2-.5 4.5 0 2 1 1.5z"/><path fill="#0030ff" d="M397.5 412l4 .5 6.5-2 10-5 6 2 6-4 12.5-2.5 4-2 2-1.5 2-.5 2 0 5.5-4 2.5-1 2 0 2 1 2-.5 9-9.5 2-4 1.5-4.5 2.5-3.5 3.5-3 6-4.5 4-2 2-.5 6 0 4-2 8.5-5.5 4.5-5 2-4 5.5-16 .5-4.5-.5-4-1.5-2-7-4-4.5-4-1-4 0-6 .5-4 1.5-1.5 2-.5 10 1.5 6-3 2-2.5 0-2-3.5-8.5-1.5-8-3-3-1.5-3-1.5-12 0-6 1.5-6.5-1-6-1.5-2.5-5-3.5-1-6-4-6-.5-6-1-2-2-4.5-4-4-1-2 2-4 0-2-2-4-2-2-8-4.5-4-4.5-2-3-.5-6-1.5-3-2-2-6-3-8.5-8-4-1.5-6 0-12-2.5-10.5-7.5-2-1-6 0-12-7.5-12 2.5-18.5-.5-6-1-2 .5-4 2.5-8.5 2.5-10 5.5-6 10-6 3-6 7.5-2 1-7 2.5-19 4-4.5 2-2 1.5-10 8.5-6 8-3 8-6 16.5-5 6-3 6-4.5 6-1 6-1 10.5 0 2 3.5 12 3 6 0 6 1 6 3.5 6.5 3 12 2 6 3 2.5 6 3 16.5 4 10 0 4.5 2.5 1 2 .5 2-.5 8.5 2 4 1.5 2 7.5 5 6 .5 2.5 2.5 3.5 15.5 2.5 7 3.5 3 4 5 2 1 6 3.5 2 .5 2-1 2.5 .5 2 1 8.5 8.5 5 8 1 4 1 2 4.5 4zM368 338.5l-1.5-2-.5-6 1.5-6.5 4-6 .5-6-1-2-3-2-13-3.5-1.5-.5-2-2 .5-10-1-4-2-4.5 1-6-1-5-2-2.5-2-1.5-6-1.5-3-1.5-1.5-4 1-8 0-4 1.5-2 6-2.5 8-.5 6 1 6-2.5 10.5 1 6 1.5 8 0 10 1.5 2 0 4-2 4.5-1.5 8 1 2 1 1 2 0 2-1 6 0 10-1 4-2 8 .5 18.5-.5 12 1 2 8 6.5 2 1 10-.5 2 .5 1 4.5-.5 4-2.5 2.5-2 0-6-1.5-2-1.5-2-1-6 1.5-2-1.5-2-3.5-2-1-8.5 2-6 1-4 2-2 2.5-4 7.5-4 3.5-2 1-4 .5-6-.5zM495.5 200.5l-1-2 .5 0 2-1 2.5 1-1 2-1.5 1z"/><path fill="#004cff" d="M397.5 407.5l2 .5 2 0 6.5-3 8-5.5 2-.5 6 .5 8-3 10.5-2 1.5-1.5 4.5-2.5 6-.5 10-3 7-6 6.5-14.5 .5-2 2.5-1.5 14-6 8-2 5.5-4.5 7-4 2.5-4 1-4 2-4 2.5-8.5-.5-2-2.5-4-5-3.5-2-2.5-3-6 1-12 1-2 3-3.5 6-.5 4 1 2-.5 1.5-.5-1.5-2.5-2-1-4 1-2-2 0-2 4-2 1.5-2 0-2 0-6-1-4-.5-8-1-6 0-10.5-.5-4-2.5-4-2.5-2-4-2-1.5-2-1-6-1.5-2-6-5.5-4 2-2 .5-4 .5-4-1.5-1-2-1-4 0-6.5-1.5-6 4.5-6 1-4-.5-2-5.5-9.5-8-8.5-8.5-4.5-6-4-8-1-6-1.5-8-3-6.5 1-10 2-2-.5-1.5-1-2.5-2.5-1-3.5 0-2 1-1 1.5-1 .5-2-6-3-8-.5-6.5-2.5-12 3-6-1-6 4-6 0-2.5 .5-6 3.5-2.5 2-3.5 5-2 4.5-2 2-4 1-2 1-3.5 5-2.5 1-14.5 1.5-11 3.5-5 2.5-12 9.5-4 6-10.5 24.5-11 18-2 16.5 0 2 3 12 2.5 6 1 8 4 10.5 3 12 2.5 4 2 2 3 2 12.5 3.5 6 1 5-.5 7-2 3.5-4 2.5-1.5 4-.5 2.5 1 2 7 4 3 0 1-.5 2-5.5 .5-2.5 2-3.5 8 0 2 1.5 4 2 2 4.5 2 10 2.5 6-1.5 2.5 1 1 2 0 2-4 8-.5 2 3.5 12.5 1.5 2 3.5 4 4.5 2.5 6.5 .5 6 1.5 7.5 1.5 1.5 2 2.5 10 4 6 1.5 4 2 2zM423.5 375l-5.5-1.5-2-2.5-2-5-2-2.5-6-1-2.5-1.5-1.5-4.5 .5-12 3-2 6.5-1 2-.5 1.5-2.5-.5-6-1-3-2-1.5-12.5-.5-6 2.5-2 2.5-3 8-3 1.5-4 .5-6-.5-6 0-4.5-1-.5-.5-1.5-4 .5-6 2.5-10.5 0-2-5-4-2.5-4-2.5-2-13-4-1.5-2 1-6 3-6-2.5-6.5-.5-6-1-4-1.5-2-3.5-2-6-2-2.5-2 0-4 2-6 1-8 1.5-2.5 8.5-2 15.5-10 4.5-.5 4 .5 4.5 1.5 6 .5 2 1.5 2 3 2 1.5 6 .5 2.5 1.5 3.5 1.5 6 0 8.5-2.5 6 0 4-1 4.5 4 1 2.5 0 2-1.5 4-1 10-3 8-1.5 8 1.5 22.5 1 4 1 2 3 2 3 1 2 .5 6-.5 8.5-3.5 4-.5 2 .5 2 2 1.5 4.5-2.5 6-1.5 6-7.5 4.5-4.5 7-2 .5-2-1.5-2-.5-4-.5-2 1-.5 2 5.5 4 1 2 .5 4 1.5 2 2 .5 2 1 1.5 2.5 .5 2-.5 12.5-1.5 5.5-2 .5-4-.5z"/><path fill="#0068ff" d="M399.5 400.5l14.5-5.5 3-4 .5-8-3.5-9-2-2.5-6-1-6.5-2.5-6 1.5-2-1.5-.5-1.5-1.5-11-2-3-6-2.5-3-3.5-3-2-6 2-1.5 2-5 10.5-2 0-2-3-2 0-.5 2.5 .5 4.5 6 7.5 6.5 3 1.5 1.5 6 2 14.5 1.5 2 1.5 1 1-1.5 4-1.5 6 .5 2 1.5 2.5zM440.5 389l2 .5 6-2.5 6-1 10-7 2-5 4-5-1.5-2.5-4-2-1-2 .5-2.5 2-2.5 6-2 6.5 1 6-1.5 4-2 10-3 6-3.5 5-4 2-2 4-6 2-6-.5-3.5-8.5-13-2.5-2-2-2 0-2 1.5-4 .5-4 1-2 4-4 1-2 1-7 2-2.5 4-3 .5-2 .5-12-.5-4-2-6-.5-6-.5-2.5-5.5-6-2-4-6.5-3-6 .5-2.5-1.5-3-2-1-4-1.5-2-4-2.5-4-3.5-2.5-6-2-12.5 .5-2 1.5-4 0-6-4-9.5-2-3-6-2-6-4-6-2.5-3-3.5-4-2-7-1-10.5 .5-2.5 .5-3.5 2.5-6-2-3-2.5-3-8.5-2-1-4-1-4.5-3-2-.5-6 2.5-4 .5-2 .5-6-1.5-6 2.5-6 0-2.5 1.5-4.5 6-1 2 .5 2-1.5 2-3.5 2.5-4 4-12 2.5-14.5 1.5-6.5 2-13.5 7.5-10.5 9-2 3.5-10 23-6 11.5-3.5 4-1.5 4-1 16.5 2.5 12 3 6 .5 6 5 12.5 2.5 10 4.5 5.5 4 2.5 6.5 1.5 6 .5 4-.5 6-2.5 8.5-5 1.5-2.5 2.5-5.5 2.5-4-.5-6.5 1.5-6 0-4-1-2-7.5-4-1-2 0-2 1-4 3.5-6 .5-6 1-2.5 4-3 6-3.5 4-5 2-1 6-1 6-2.5 8 0 4.5 1 6 1 6 2.5 6 .5 2 1.5 2.5 5.5 1.5 1 4 .5 4-.5 4.5-2.5 6.5-.5 3.5-2.5 2-.5 2 1 5.5 6 1 2 .5 2.5-4 16-3.5 8-1.5 6 .5 10.5 2.5 14 3 4 2 1.5 4 .5 4-1 10.5-3 8-1 1.5 1 1 4 2.5 4 .5 2-1.5 2-2 2-1 2-1.5 6-.5 2.5-8.5 10 0 2 1.5 4-.5 4-2 6-2.5 20.5-1.5 8 .5 4zM337 338.5l8 1.5 6-2.5 4 0 2-1 1.5-2 1-2 2-10.5 .5-2-1-1-1-1-3-1-8 .5-4 1.5-4.5 5-1.5 1-4 1-2 1-2 3.5-.5 2 .5 2 2 2zM395.5 339l4 1.5 3.5-2 0-2-1.5-3.5-2-1-2 1-2.5 3.5 0 2zM337 291l2 .5 1-1.5-1-4.5-2 0-1.5 2.5 0 2z"/><path fill="#0084ff" d="M452.5 377l2 .5 2-1 4-5 1-2.5-1.5-2.5-5.5-2-2 .5-2 1.5-1 2.5zM375.5 362l.5-3.5-.5-2.5-1 2.5zM485 344.5l4 1 4 .5 4-.5 2-1 5-4 5-6 3.5-6 0-2.5-1.5-4-2-2.5-6-6-2-5.5 2-14 0-1 5-3 1-3.5 1.5-5 2-4 .5-18-.5-2-3.5-6-2-2-4-2-2 2-3.5 14-.5 .5-.5-.5-1.5-4-1-12-1.5-6.5-3.5-6-6-6-2-6-3-4-1-3-1.5-5 0-6.5-1.5-6 0-12-1.5-2-6-1.5-1-.5-1-2-2-6.5-2-1.5-6-1-2-1-4-4.5-4-2-4-1-6.5 0-4 .5-3 5-3 2-6-1-2.5-1-3.5-3.5-2 0-2 1-2-1-2.5-5.5-2-7.5-2-2.5-2 .5-4 3.5-4 1-2 0-4-3-2-.5-2 1-2.5 4 3 6-1.5 6.5-.5 4-1 2-1.5 1-6-.5-4.5-4-2-.5-4 .5-14 2.5-17.5 1-19 8.5-2 1.5-8 8-4.5 7.5-3 9-9 17.5-6 8.5-2 16.5 .5 4 3 10 2.5 6 1 6 5.5 12.5 1.5 6 2 4 3.5 4 5 1.5 8 .5 8-1.5 3-2.5 1-6 3-6 1-6.5-2-6 2-6-3.5-4-.5-2 2.5-6 3-6 .5-6 4.5-6.5 3-6 3-2 10-4.5 6-.5 6-2 4 0 14.5 2 6 1.5 6 0 2 1 4 4 4 2 2 .5 6.5-2.5 4-.5 2 .5 4-2.5 2 0 4 3 5 4 3 4 0 2 0 2.5-2.5 6-3.5 11.5-3 6.5-1.5 6 0 6 .5 6.5 1 4 3 7 2.5 3 3.5 1.5 4-.5 4-1.5 6-3.5 6.5-6 3.5-4 .5-4.5 2-1.5 2 .5 .5 1-1.5 2.5 0 2 3 3 2 7 0 2-.5 6 .5 6-1 2-3 4-1.5 6-4.5 6.5-1 6 1 2 2 1 6 2.5 6-1 12.5 .5zM341 337l4 .5 5.5-3 1.5-2 0-2-1-2-2-2-4-1-2 .5-8 4.5-.5 2 1 2z"/><path fill="#00a0ff" d="M466.5 340.5l26.5 1.5 4-.5 2.5-1 3.5-9.5 2.5-2.5 1-2.5-3.5-5-2-5.5-1.5-7.5 1-6 0-8 1.5-4 1-8.5 3-4 0-2-1-5.5-2-2-4 1.5-8-1-2 0-4 3-6.5-4-2.5-6 0-4 2-10 2-2.5 3-2 1-2-1-6-5-6-2.5-6-1-6-2.5-6 1-6.5-1-2-1.5-1.5-5.5-4.5-3-10-1.5-2-6-4.5-2.5-5.5-1.5-2-4-1.5-16.5-.5-2 .5-4 4.5-2 0-10-2.5-6 1.5-3-2-3.5-10-2-.5-4 1.5-2 3-.5 2-.5 6-2 2-1 .5-6 0-6 3.5-6 0-6.5-3.5-12-.5-6 2-6-.5-12.5 1-16 5.5-4 3-10.5 13-2 4-2 6.5-4.5 8-4.5 10-5 6-.5 2-1 14.5 .5 4 3 10 3 6 2 8 5 10.5 2 6 2 4.5 2 1.5 2.5 .5 8 .5 4-1 1.5-2 4.5-16.5-3-6 2-6-1-4 0-2 3-6 3-5 .5-1 .5-6 3.5-6.5 3.5-8 2-2 4.5-2.5 4-2 6-1.5 6 0 6-1 4-.5 14.5 2 6 1.5 6 0 6 3 6 1.5 6.5-1.5 6 .5 4-1.5 2 0 17.5 12 2 2 0 2-.5 2.5-1 1-4 2.5-2 2.5-7.5 18-1.5 6-.5 6 1.5 7.5 3 7 2.5 4 2.5 1 2 0 4-1 3-2 9.5-8.5 1-1.5 1-6.5 2-3 4-1 6.5 0 7.5-3.5 2.5-.5 .5 2-1.5 6-1 2-2.5 .5-2 .5-1 3.5 0 6 .5 2 .5 1.5 2.5 2.5-1 2-1.5 2-.5 8-3.5 6-1.5 8.5-2.5 4-.5 2 0 2 1 2 3.5 1.5zM343 334.5l2-.5 1.5-1.5-.5-2-1-1-2 0-1 1-1.5 2z"/><path fill="#00bcff" d="M485 338.5l8.5 0 3.5-1.5 4-8.5 .5-2.5-2.5-11.5-2-6.5 2-6 0-6 1-10.5 0-4-1-1-2-1-6-2-4 2.5-2 .5-6-.5-2 1-1 .5-2 14.5 1.5 12-.5 6-2.5 2.5-6 2-1 1.5-.5 4 .5 4.5 .5 2 4.5 4 1 2 3 .5 2.5-1.5 2 0 .5 1zM430 300.5l2 0 4-1.5 4.5-3 5.5-6 3.5-12.5 1-6.5 3-1.5 7 .5 2-.5 5.5-4 .5-2-1-4 2-6 .5-2 0-4-1-4.5 .5-2 3-2.5 2.5-1.5 1.5-2-4-3-1.5-3-1.5-6 1-4 0-2-4-6 0-2 1-2-.5-2.5-9.5-6-3.5-6-8.5-6 .5-2 3-2 0-2-.5-2.5-2-1.5-4-1-6.5 .5-4-2-2 0-.5 .5-1.5 1.5-2 4.5 .5 2 1.5 2 2 .5 6-2 2 .5 2 1 0 2-2 2.5-2 .5-6-2-6 .5-2.5-1.5-1.5-2-.5-2-1.5-1.5-4-2-2-.5-6 1.5-6.5-3-4-1-2 .5-2 1.5-2 2.5-2 1.5-6 0-6 3-6 0-6.5-2.5-10-1-2 0-6 2-4-1-8 .5-6.5-.5-10 2-5 2-3 2-12.5 16-1.5 6.5-6 10-3 8-5.5 8-.5 6-.5 8.5 .5 4 2 4 1.5 6 2.5 6 1.5 6 3.5 6 3.5 10.5 2 3 2.5 .5 2-.5 6-2 2-2 2-3 1.5-6.5-3-6 2-6 0-6 7-12 .5-6 3-6.5 4-10 1-2 6.5-3.5 6.5-2.5 5.5-1 6 .5 12-.5 18.5 2.5 6 0 6 2.5 6 1 6.5-1 12-.5 14 9 12 5.5 1.5 2-1 5.5-6.5 4-4 1.5-4 3.5-5.5 12-2 6-.5 8 1 6.5 3 6.5 2 2.5zM447 198.5l0-2 1.5-.5 2 0 1 .5-1 2.5-2 .5z"/><path fill="#00d8ff" d="M477 329l6 1 8-.5 4 .5 2-.5 1.5-1 .5-1.5 0-3-2-5.5-2-3-7.5-3.5-1-2 0-2 4.5-1 4-2.5 2-2.5 .5-18.5-2-2-4.5-.5-2 0-4 2-4 0-2 0-1 .5-1.5 10.5-.5 4 1 6 2 3.5 1 .5 0 2-.5 2-2 4-3 4-1.5 4 .5 2 1.5 2.5zM432 298l4-1.5 6-4.5 1.5-2 1.5-6.5 1-6 .5-6 1-6-2-6-1-2-2-1.5-2 0-6.5 2-4 3-4 8.5-2 6-1 8 1.5 6.5 1.5 3.5 2 3 2 1zM296 291l2.5 .5 2-.5 5.5-5.5 .5-2-2.5-4 0-2 3-6 .5-6 7.5-12 1-8.5 5.5-14 3-4.5 4-3 8.5-2.5 8-1 6 1 12-.5 18.5 2.5 6 0 6 2 6 .5 6.5-1 10-.5 2 0 16 9.5 8.5 2.5 8 .5 4 2.5 2 0 5.5-2 3-2 0-2-3.5-2-1.5-2 1-6 3-4 0-2-1.5-2.5-3.5-3.5-.5-2 1.5-2-1-2.5-4.5-2.5-2 .5-2 1.5-2 0-6-3.5-6.5 0-4-1.5-2.5-2.5 .5-2-2-1.5-4-1-12-6.5-6 1.5-6.5-4-4-1.5-2 0-4 4-2 1-6 .5-6 3-6 0-12.5-1.5-6-1.5-6 1-6-2-6 .5-6.5-1.5-8 1.5-6 3-5 3-8.5 12-2 6.5-7 11.5-2.5 6.5-3.5 6-1.5 6-1 8.5 .5 4 2 4.5 2.5 9.5 6 14 1.5 6zM454.5 250l2 .5 4-1 1-2-1-2.5-4-1.5-2 .5-1.5 1-.5 2.5z"/><path fill="#0cf4eb" d="M489 302.5l2.5-.5 0-2-.5-2-2-.5-1 2.5 0 2zM481 301.5l1-1.5 .5-2-.5-2-1-1-2 .5 0 2.5zM428 294l2 1.5 4 0 2-1 3.5-2.5 2.5-4 2-8.5 .5-14-2-5-2-1-6.5 1.5-2 1.5-4 5-2 4.5-1.5 5.5-.5 6 1.5 6.5zM296 279.5l2.5-2 2.5-4 4-10 7-10 .5-6 1-8.5 1.5-4 5-8 6.5-6 2-1 10.5-1.5 6 0 6 .5 12 .5 18.5 1.5 6 .5 6 1.5 6 .5 6.5-1 10-1 2 .5 6 3.5 8 4 6 1.5 4.5-1 4-2.5 4-3.5 4-3 2-2 .5-2-2.5-3-2-.5-2 0-2-1-3-5.5-1.5-2.5-1.5-1-6.5-.5-6-1.5-4-3-6-5.5-8-3.5-6 1.5-6.5-3-6-.5-4 3-2 1-6 0-6 1.5-12.5 .5-6-.5-6-1.5-6 .5-6-2.5-6 .5-6.5-2-6 1.5-10 4.5-2 1-2 3-4.5 6.5-2 6.5-8 13-6 13-1.5 10.5 .5 6 3 12.5z"/><path fill="#23ffd4" d="M430 293.5l2 .5 4-1.5 3-2.5 2-4.5 1-4 .5-6-.5-8-.5-2-1-1-6.5-.5-2 1-2 2.5-3.5 6-1 6 0 6 2.5 6zM294 268l2 1.5 2.5-2.5 9.5-13.5 .5-6 2-6.5 0-4 1.5-4 2.5-4 4-5 8-7.5 12.5-.5 6 .5 24.5 2.5 18 1 10 1.5 4-.5 4.5-1 10-1.5 2 .5 6 4.5 8 4 4 1 4.5-.5 4-3 2.5-4 .5-4-2-4-3-5-2-1.5-4.5-.5-6-2-14.5-9.5-3.5-1.5-6 1-6.5-2-4 0-2 0-6 2-6 0-6 1-12.5 1-12-1-6 0-6-2-6 1-6.5-2.5-4 1-12 5-4 3.5-2.5 3.5-.5 6.5-5 8-9.5 18-2 8 0 8.5 3 10.5 2 2.5z"/><path fill="#39ffbe" d="M432 292l2-.5 2-1 2-2.5 1.5-2.5 1-4 0-6-1-4-1.5-3-1.5-1-2.5-.5-2 1-2 1.5-2 4-1.5 6 0 4 1.5 5.5 2 2.5zM294 258l2 0 2.5-.5 2-2 1-2 0-4 .5-4.5 2.5-4 0-2-1-4-3-3-2-.5-6.5 6.5-2.5 7-.5 4.5 1 5 2 3zM306.5 231l8-7.5 6-6.5 2.5-4 3.5-2 6.5 2 12 1 10 2 8 .5 6.5 1 28 2 2 0 6.5-2 6-.5 4-1 2 .5 2 1 4.5 3.5 7.5 4 4 1 4.5-1 2-2 2-3 0-3-2-4-2-2.5-10.5-3.5-16-10-2-.5-6 .5-6.5-2-4 0-8 1.5-8 0-10 1-6.5 1-12-1-6 .5-6-.5-6 1-6.5-2-16 4-2 1-2 3-.5 2.5 1 4-3.5 8-1 8 1 2z"/><path fill="#50ffa7" d="M432 290l2-.5 2.5-1.5 1.5-3.5 1-3-.5-6-.5-2-2-2.5-2-1-2 .5-2 2-1.5 3-1 4 0 4 .5 2.5 2 3zM434 223.5l4-.5 2.5-2 1-2 0-2-1-2.5-4-1.5-6.5-1-6-5-4-1.5-6-5.5-2-.5-6 0-6.5-2-26 1.5-4 .5-6.5 2-12-1-6 1-6 0-6 2-6.5-2-10 .5-4 .5-3.5 2 0 2.5 3.5 2.5 2 0 4-1 6-1 6 0 8.5 3 12 2.5 12 1.5 6.5 1.5 6 1 24 .5 6.5-2 6-.5 4-2 2-.5 10 6 4 4zM312.5 218l1-1 0-2-1-1-2 3z"/><path fill="#66ff90" d="M430 286.5l2 1 2-.5 3-3.5 0-2-1-5.5-2-2.5-2 0-2 2.5-.5 1.5-1 4 .5 2zM373.5 215l26 .5 6.5-2.5 6-1 1.5-1 1.5-2 0-2-1-2.5-2-1.5-6-1-4.5-1.5-4-.5-10 .5-6 0-8 .5-6.5 1.5-4 3-10 0-3 1.5 1.5 2 7 2 4.5 .5 6.5 2.5z"/><path fill="#7dff7a" d="M432 284.5l2-.5 .5-2.5-.5-2-2-1-1.5 3 1 2zM373.5 213l10 .5 16 0 2-1 4-3.5 0-2-4-4-2-.5-12 .5-6-.5-6 1-6 1.5-2.5 2-.5 2 1.5 2z"/><path fill="#94ff63" d="M391.5 211l6-.5 2-.5 1-1 0-2-3-1.5-10 1-6-.5-4.5 1-2.5 2 5 1.5 8-.5z"/></g><path d="M217 53l5-.5 6 3.5-2 4-.5 6.5-3.5-5.5-4-3zM99.5 94.5l4.5 .5 1 4 5.5 1 1 8-.5 10-1 4-3.5 1 .5 7-1.5 7-1.5 4 3 4 4 2.5-5 1-4-2.5-2.5-5zM113 96l4-6 2-6 4-1.5 2 1.5-4 3 4 2 9.5-.5-1.5 3.5-9 4-5-.5-2-2.5zM106.5 199l5-1-.5 7-3 7-5 4.5-3.5 .5 0-4 4.5-3 2-5zM111 221.5l1.5 .5 0 6.5-1.5-.5zM99.5 237l3.5 1 1.5 12-1 16-1.5 16-2.5 1zM573.5 64.5l12 0 0 22.5-8.5-.5-2-6.5 3-6-4-4zM582.5 292l3 0 0 110-2 0-1.5-32 1.5-40zM574.5 417l11 .5 0 12-9.5-.5 2-5zM283 402l6 1 5 7-2 9-4 9-5 4-1.5-8 3.5-9-2.5-7zM299.5 437l2.5-7 6-4.5 7 .5 4.5 6-1.5 5-3.5 0-1.5-6-5-1.5-4 3.5-1 4zM176.5 437l1.5-4 3-1.5 1.5 2-2.5 1-1 2.5zM134.5 64l2 .5-2.5 3.5-4.5 4-1.5-1.5-1-1 2-2.5 3-4.5 5.5-4zM169 43.5l0 1 .5 2-1.5-1-1.5-2.5-1-2.5 1.5 .5-.5-2.5 1.5 3.5zM522 73.5l-1.5 2.5-1.5 .5-2 0 0-4.5 1.5-2 1 0 1-2 1 2.5zM562 68l-.5 1-7 0-7.5 0-1-1-5-1 8-.5 5.5 0 12.5-.5zM349 86l.5 1-2 1.5-1 0-2 1 1-1.5 1-1.5 1.5-1 2-1.5zM338.5 96l0 1-1 1.5-2 1-.5-.5 .5-1.5 .5-1 1.5-.5 1.5-1.5zM328.5 104.5l-1.5 2.5-1 2-2 0-2 2 0-1.5 .5-1 2-1.5 2-2.5zM317.5 112.5l0 1.5-1 1-1 .5-1.5 .5-.5-.5 .5-1 1-1.5 1.5 0zM325.5 133.5l-1 .5-1 1-1.5-1 0-1-1-1 2 0 1 0 1 0zM328.5 383l-.5 1.5-1.5-1-1 0 1-1.5-.5-1.5 1-.5 1 .5 1 1zM147.6 53.4h1.5v1.5h-1.5zM148.7 274.8h1.5v1.5h-1.5zM329.3 379.3h1.5v1.5h-1.5zM321.3 139.3h1.5v1.5h-1.5zM351.3 83.3h1.5v1.5h-1.5z" fill="#fff"/><path d="M97.5 308l4-1 1.5 0 2-1 3.5-3 3.5 0 1.5-2 3.5-1 2.5-1 3.5 1.5 2.5-1 3 1.5 2 .5 3-4 2.5-.5 3-1.5 .5-1 2 1 2.5 0 3-.5 5-3.5-.5-3-.5-4-1.5-3.5 5 .5 1.5 2 2 3.5 2 0 2.5-.5 1 2 3 2 1-5.5 2-.5 3-2 3.5-.5 3.5-1.5 4 0 2 1.5 4-1 1.5 1 3-3 4 1.5 3-2.5 3-1 3 .5 4-1.5 1.5-2 1.5-3 2-2.5 5-1.5 1-3 3-1.5 3-2.5 2.5-.5 3.5-.5 2-2 1-2 3.5-2.5 .5-3 3.5-2.5 3-1 2.5-2 3.5 0 2-.5 2-2.5 1.5-2.5 .5-2.5 2-1.5 1.5-4 3-1 1-.5 3.5-1.5 3-2-1-3 .5-3 0-3.5 1.5-3.5 1-.5 2-2.5 .5-3 4-2.5 .5-3 4-4.5 1-1 1.5-3.5 1.5-4 2-2.5 2.5-2.5 1-3.5 3.5-2.5 0-3.5 3.5-1.5 3.5-.5 3-4 2.5 0 1.5-2.5 1-5 1.5-3.5 0-.5 2-4 4-3-1.5-3 .5-5.5 1.5-2-2.5-1-3-2-3-1-2-1-3-1.5-4-1-3-1-3 1-3.5-1.5-4 .5-1.5-1.5-3 .5 3-2 4-1 2.5-.5 3.5-2.5 1-.5 3.5-2.5 3.5 0 2.5-2 3.5 0 1.5-1.5 3 0 1.5-3 1.5-3.5-2.5-4.5-1.5-1.5-1.5-1.5-5.5-2 0-1.5-4.5-1.5-3-.5-2.5 0-3-2.5-3 .5-4-1.5-4 1-1.5-2 1.5 .5 5-.5 2.5-1 1.5 1 4 0 4-.5 1.5 2.5 4.5-.5 3 .5 2 1.5 1 1.5 4.5 1-3-1.5-3-4.5-2-1.5-1-1.5-4.5-3 .5-2.5-5-1.5 0-3-1.5-4.5 0-2-3-2 .5-4-2.5-3-1.5-3.5-1-3.5-1.5-3.5-2-2-.5-3-4.5-1.5-2.5-1-1-.5-2-2-1.5 .5-4.5-5-2.5 0-4-1.5 .5-3.5 .5-1-1.5-3.5-.5-3.5M302.5 235l2.5-1 2.5-3.5 3.5-1 2.5 .5 2.5 0 1.5 3.5 4 1 0 2.5-1.5 2.5-2 3 .5 3.5-1 3-1.5 4-2 2-1.5 4.5 .5 2.5 .5 4-2.5 3-1 3-1 1-.5 3-2 3-1.5 3.5-2.5 1-.5 5.5-1 2-.5 1.5-1.5 4.5-1-2.5-2.5-2.5-1-2-2-2.5-2.5-1-2-2.5-1-4.5-1-2.5-2-3.5 0-2.5 2.5-5-1-2.5 1.5-2 1.5-5.5 0-1 1.5-2 1-1.5 3.5-5.5 2-3 .5-3.5 4-1 1.5-3.5M289 415.5l0-3.5 0-3.5-1-3 0-3 2.5-4.5 0-3.5 1-1.5-.5-3.5 .5-4 0-3 .5-3 .5-2.5 1.5-4.5-1.5-2 2.5-4 1 0 5-2.5 1.5 .5 2 1.5 3 1 5 1 1.5-.5 2.5 1 5 2 .5-2 2.5-.5 2.5-.5 .5 1.5 1 4.5 1 1-1.5 4-1 3.5-2 2.5 2.5 2.5 2.5 4-.5 3 2 3 0 2-3.5 4 .5 2.5-.5 3-1 2.5-3.5 1-4 3-1.5-.5-4 3 1.5 2.5-.5 3 1.5 4.5-1.5 3.5-1.5 3-2 3-1 3M279 410.5l4 5-5 4 3 12 2 10M479 71l.5-3 2.5-1.5 1-4 3-1 5 0 2.5-1.5 1.5-.5 4.5-1.5 1-1 2.5-2 1.5 2 3 4 4.5-.5 1.5-.5 1.5-.5 4.5 1 2 4.5 .5 2.5 1.5 2 .5 3 0 2.5 1 2-1 3-2.5 3-1.5 1.5-1 4.5-2.5 2.5-1 4-.5 2-1 2.5-2.5 1.5-2.5 2.5-2 4-2.5 2.5-3.5 .5-2 3-.5-3.5-1-3-3 1-3.5-1-1.5 0 .5-4 1.5-5-2-2.5 2-2.5-1.5-4 0-1.5-1.5-3.5 2.5-1 3.5-2 2.5-3-2.5-1.5-3 0-3-2.5-1.5 2.5-4-1.5-2 4 0-3.5-2-2.5 0-2.5M527.5 67l2.5-3 2.5-3 2.5-1.5 2-2 3-3.5 3.5 0 2-.5 3.5-1.5 2.5-3 4.5 1 2-3 3-1 3.5 2.5 2-1 3.5 .5 5.5-.5 2.5 2 1 1-.5 2 2 4-2 3.5-4 1.5-1.5 3-3 1.5-2.5 0-5.5 0-.5 1.5-4-3-1 1-5-1-2 4.5-1 1.5-1.5 5-1.5 2-3-1-4 0-2-1.5-3.5-3-1.5-1-2-2-2-2M503 53l2-8 12.5-6.5 12-10M504 54l4-.5 3 .5 3.5-1.5 4.5 0 2-.5 3-1.5 2-.5 3-1 2.5-2.5 3.5 0 4 .5 3 .5 4-1 1.5-.5 4-1 2.5-2 3 0 3-1.5 2.5-.5 3.5-1.5 3.5 1 3.5-1 2-.5 4-1 2 1.5 4 0 1.5-1 3.5 1M404 26.5l1.5 3 .5 3 3 2.5 1 4.5-1 1-1.5 2.5-1.5 3.5 4-2 1.5 3 2-1.5 4.5-1.5 1.5 0 1.5-.5 3.5-1 4.5-1.5 1-1.5 3.5-1.5 2-3.5 2 1 4-1 2.5 .5 3-.5 3.5 1 4-2 2 0 3.5-2 3-.5 1.5-3.5 3.5-1M423.5 64l-1.5-1.5-3.5-.5-4 0-4 1-3 1.5-1 2 1.5 1.5 3 1 4.5 0 4-1 3-2 1-2M437 213l3.5-7.5 9-8-6 8-6.5 7.5M477.5 164.5l-2.5 0-3.5 2-3 3.5-.5 2 2.5 0 3.5-2 3-3.5 .5-2M391.5 238l-1.5-.5-2 1.5-.5 1.5 1.5 0 2-1 .5-1.5M367 246.5l-2-1-4 .5-2 2 2.5 1 4-.5 1.5-2M506.5 122l0-5-1 0-1.5 4.5-.5 4.5 1.5 .5 1.5-4.5M497.5 127l-1-2.5-3 0-1 2.5 1 2 3 0 1-2M462.5 78.5l3-5.5-2-1.5-5 4-3 5.5 2 1.5 5-4M472.5 45.5l1.5-6-1.5-.5-3.5 5-2 6 2 .5 3.5-5M330 130.5l-2-1-3.5 1.5-1.5 2 2.5 1 3.5-1 1-2.5M320.5 102.5l-2.5-2-6-1.5-3.5 .5 2.5 2 6 1.5 3.5-.5M97.5 338.5l3 5-3 5M322.5 350.5l-1.5-1.5-2 .5 0 2 2 .5 1.5-1.5M413 42.5l-2-1.5-3.5 .5 0 2.5 3.5 .5 2-2M424.5 47l-1.5-2-3 1 0 1.5 3 1 1.5-1.5M437 43.5l-2-1.5-3.5 1 0 1.5 3.5 1 2-2M459 35.5l-2-2-2.5 1 0 2.5 2.5 .5 2-2M444.5 37.5l-1.5-1.5-2.5 .5 0 2 2.5 .5 1.5-1.5" fill="none" stroke="#000" stroke-opacity=".8" stroke-width=".75" stroke-linejoin="round"/><path d="M110 41h467M110 51h467M110 60.5h467M110 70.5h467M110 80h467M110 90h467M110 100h467M110 109.5h467M110 119.5h467M110 129h467M110 139h467M110 148.5h467M110 158.5h467M110 168h467M110 178h467M110 187.5h467M110 197.5h467M110 207h467M110 217h467M110 226.5h467M110 236.5h467M110 246h467M110 256h467M110 265.5h467M110 275.5h270M400 275.5h176.5M110 285h467M110 295h467M110 304.5h467M110 314.5h467M110 324h467M110 334h467M110 344h467M110 353.5h467M110 363.5h467M110 373h467M110 383h467M110 392.5h467M110 402.5h467M110 412h467M110 422h467M110 431.5h467" stroke="#00001c" stroke-width="1.45" stroke-linecap="round" stroke-dasharray="0 10.37" fill="none" opacity=".7"/><path d="M379.5 148.5l-.5 0M400 148.5l-1 0M369 158.5l-1 0M379.5 158.5l-1 0M390 158.5l-1 0M400 158.5l-1.5 0M410.5 158.5l-.5 0M358.5 168l-.5 .5M369 168l-1 0M379.5 168l-1 0M390 168l-1.5 0M400 168l-1.5 0M410.5 168l-1 0M421 168l-.5 0M431.5 168l-1-.5M441.5 168l-1-.5M452 168l-.5-.5M317 178l-.5 .5M327.5 178l-1 1M338 178l-1 1M348.5 178l-1.5 1M358.5 178l-1.5 .5M369 178l-1 .5M379.5 178l-1.5 .5M390 178l-2 0M400 178l-2 0M410.5 178l-2-.5M421 178l-1.5-.5M431.5 178l-2-1M441.5 178l-2-1M452 178l-1.5-1M462.5 178l-1-.5M307 187.5l-1 1.5M317 187.5l-2 2M327.5 187.5l-2.5 2M338 187.5l-2.5 1.5M348.5 187.5l-2 1.5M358.5 187.5l-2 1M369 187.5l-2 .5M379.5 187.5l-2.5 .5M390 187.5l-3 0M400 187.5l-3 0M410.5 187.5l-3-.5M421 187.5l-2-.5M431.5 187.5l-2-1M441.5 187.5l-2-1M452 187.5l-1.5-1M462.5 187.5l-1-1M473 187.5l-1-.5M296.5 197.5l-.5 1M307 197.5l-2 2.5M317 197.5l-2.5 3M327.5 197.5l-3 3M338 197.5l-3 2.5M348.5 197.5l-3.5 2.5M358.5 197.5l-3.5 2M369 197.5l-4 1.5M379.5 197.5l-4.5 1M390 197.5l-4.5 0M400 197.5l-4.5-.5M410.5 197.5l-4.5-1M421 197.5l-3.5-1M431.5 197.5l-2.5-1M441.5 197.5l-2-1M452 197.5l-1.5-1M462.5 197.5l-1.5-1M473 197.5l-1-1M296.5 207l-1 2M307 207l-2 3.5M317 207l-3 4M327.5 207l-3 3.5M338 207l-3.5 3.5M348.5 207l-4 3M358.5 207l-4.5 2.5M369 207l-5.5 2M379.5 207l-6.5 1.5M390 207l-6.5 0M400 207l-6.5-1M410.5 207l-5.5-1.5M421 207l-4.5-2M431.5 207l-3.5-2M441.5 207l-3-2M452 207l-2-2M462.5 207l-1.5-1.5M473 207l-1-1M286 217l-.5 1M296.5 217l-1.5 3M307 217l-2 4M317 217l-2.5 4M327.5 217l-2 3M338 217l-2.5 2.5M348.5 217l-2.5 2.5M358.5 217l-3.5 2M369 217l-4 2M379.5 217l-4.5 1M390 217l-5 0M400 217l-5-1M410.5 217l-4-1.5M421 217l-4-2M431.5 217l-4-3M441.5 217l-3.5-3M452 217l-2.5-2.5M462.5 217l-2-2M473 217l-1-1.5M286 226.5l-.5 2M296.5 226.5l-1 3.5M307 226.5l-1.5 4M317 226.5l-1.5 3M327.5 226.5l-1 2M338 226.5l-1 1.5M348.5 226.5l-1 1M358.5 226.5l-.5 .5M369 226.5l-1 .5M379.5 226.5l-1.5 .5M390 226.5l-1.5 0M400 226.5l-2.5-.5M410.5 226.5l-2-1M421 226.5l-2-1.5M431.5 226.5l-3-2.5M441.5 226.5l-2.5-2.5M452 226.5l-2-2M462.5 226.5l-1.5-2M473 226.5l-1-1.5M483 226.5l-.5-.5M275.5 236.5l0 1M286 236.5l-.5 3M296.5 236.5l-1 4M307 236.5l-1 4M317 236.5l-1 2.5M327.5 236.5l-.5 1.5M400 236.5l-1-.5M410.5 236.5l-.5-.5M421 236.5l-.5-.5M431.5 236.5l-1-1.5M441.5 236.5l-1.5-2M452 236.5l-1.5-2M462.5 236.5l-1.5-2M473 236.5l-1-2M483 236.5l-.5-1.5M493.5 236.5l-.5-.5M275.5 246l0 1M286 246l-.5 3.5M296.5 246l-.5 4.5M307 246l-.5 4M317 246l-.5 2.5M431.5 246l-.5-1M441.5 246l-1-1.5M452 246l-1-2M462.5 246l-1-2.5M473 246l-.5-2M483 246l-.5-1.5M493.5 246l-.5-1M504 246l-.5-1M275.5 256l0 1M286 256l0 3M296.5 256l0 4.5M307 256l0 3.5M317 256l0 2M431.5 256l-1-2M441.5 256l-1-2.5M452 256l-1-2M462.5 256l-.5-2.5M473 256l-.5-2M483 256l-.5-1M493.5 256l-.5-1M504 256l-.5-1M514 256l0-.5M275.5 265.5l0 .5M286 265.5l.5 2.5M296.5 265.5l.5 4M307 265.5l0 2.5M317 265.5l0 1M431.5 265.5l-1-3.5M441.5 265.5l-.5-3.5M452 265.5l-.5-2.5M462.5 265.5l-.5-2.5M473 265.5l-.5-2M483 265.5l0-1M493.5 265.5l0-1M504 265.5l0-1.5M514 265.5l0-1M286 275.5l.5 2M296.5 275.5l.5 3M307 275.5l.5 2.5M317 275.5l.5 1M421 275.5l0-1.5M431.5 275.5l0-5.5M441.5 275.5l0-4M452 275.5l0-2M462.5 275.5l0-1.5M473 275.5l0-1.5M483 275.5l0-1.5M493.5 275.5l0-2M504 275.5l0-1.5M514 275.5l0-1M286 285l.5 1M296.5 285l1 3M307 285l1 2.5M317 285l.5 1.5M327.5 285l.5 .5M421 285l.5-1.5M431.5 285l1-5.5M441.5 285l.5-3.5M452 285l0-1M462.5 285l0-1M473 285l0-1.5M483 285l0-2.5M493.5 285l0-3M504 285l0-1.5M286 295l.5 .5M296.5 295l1 2M307 295l1 2M317 295l.5 1M421 295l.5-.5M431.5 295l1-3M441.5 295l.5-2M452 295l0-.5M462.5 295l0-1M473 295l0-2M483 295l.5-3M493.5 295l.5-3M504 295l0-.5M296.5 304.5l.5 1M307 304.5l.5 1M317 304.5l.5 .5M431.5 304.5l.5-1M462.5 304.5l.5-1M473 304.5l.5-1.5M483 304.5l.5-3M493.5 304.5l.5-2.5M462.5 314.5l.5-1M473 314.5l.5-1.5M483 314.5l1-2.5M493.5 314.5l.5-2.5M504 314.5l0-1M348.5 324l.5 .5M358.5 324l.5 0M462.5 324l.5-1.5M473 324l1-2.5M483 324l1-3M493.5 324l1-2.5M504 324l.5-1.5M514 324l0-.5M338 334l1 .5M348.5 334l1 .5M452 334l.5-1M462.5 334l1-1.5M473 334l1-2M483 334l1-2M493.5 334l1-2M504 334l.5-1M452 344l.5-.5M462.5 344l.5-1M473 344l.5-1M483 344l.5-1M493.5 344l.5-1M504 344l.5-.5M369 353.5l.5 0M379.5 353.5l.5 0M452 353.5l.5-.5M462.5 353.5l.5-.5M369 363.5l1 0M379.5 363.5l1 0M452 363.5l.5-.5M379.5 373l.5 0M390 373l.5 0M400 373l.5 0M441.5 373l.5-.5M452 373l1-.5M462.5 373l.5-.5M400 383l.5 0M410.5 383l1-.5M441.5 383l.5-.5M452 383l.5-.5M400 392.5l1 0M410.5 392.5l.5-.5" stroke="#000" stroke-width="1.25" fill="none"/><path d="M577 89l-2.5-1 1.5 2.5zM369 108.5l-2.5 1.5 3 .5zM379.5 108.5l-2.5 1.5 2.5 .5zM358.5 118.5l-2 1.5 2.5 0zM369 118l-2.5 2 3 .5zM379 118l-2.5 1.5 3 .5zM369 128l-2.5 2 3 .5zM379 128l-2.5 1.5 3 .5zM389.5 128l-2.5 1.5 3 1zM400 128l-2.5 1 2.5 1zM410.5 128l-3 1 3 1.5zM421 128l-3 1 2.5 1.5zM358.5 137.5l-2.5 2 3 0zM368.5 137.5l-3 2 3.5 .5zM379 137.5l-3.5 2 4 1zM389.5 137.5l-3.5 1.5 4 1zM400 137.5l-4 1.5 4 1.5zM410.5 137.5l-3.5 1 3.5 1.5zM421 137.5l-3.5 1 3 2zM431.5 137.5l-3.5 .5 3 2zM442 137.5l-3 .5 2.5 2zM452.5 138l-3 0 2 2zM348 147.5l-2 2 3 0zM358 147l-3 2.5 4 0zM368.5 147l-3.5 2.5 4.5 .5zM379 147l-4 2.5 4.5 1zM389.5 147l-4.5 2 4.5 1.5zM400 147l-4.5 1.5 4.5 1.5zM410.5 147l-4.5 1.5 4 2zM421 147l-4 1 3.5 2zM431.5 147l-3.5 .5 3 2zM442 147.5l-4 0 3 2.5zM452.5 147.5l-3.5 0 2.5 2.5zM463 147.5l-3.5 0 2.5 2.5zM473.5 147.5l-3-.5 2 2.5zM483.5 147.5l-2.5-.5 1.5 2zM337.5 157.5l-1.5 2 2.5-.5zM347.5 157l-2.5 2.5 3.5-.5zM358 157l-3.5 3 4.5 0zM368.5 157l-4 2.5 5 .5zM378.5 157l-4 2.5 4.5 1zM389 157l-4.5 2 4.5 1zM399.5 156.5l-4.5 1.5 4.5 1.5zM410.5 156.5l-4.5 1 4.5 2zM421 157l-4 1 3.5 2zM431.5 157l-4.5 .5 3.5 2.5zM442 157l-4.5 0 3.5 3zM452.5 157l-4 0 3 3zM463 157l-4-.5 2.5 3zM473.5 157l-3.5-.5 2.5 3zM484 157.5l-3-.5 2 2.5zM494 157.5l-3-.5 1.5 2.5zM316.5 167.5l-1.5 2.5 2.5-1zM327 167l-2 3 3-1zM337 167l-2 3 3.5-.5zM347.5 166.5l-3 3.5 4.5-.5zM358 166.5l-3.5 3 5 0zM368.5 166.5l-4 3 5 .5zM378.5 166.5l-4 2.5 4.5 1zM389 166.5l-4.5 2 4.5 1zM399 166.5l-4.5 1.5 4.5 1.5zM410 166.5l-4.5 1 4.5 2zM421 166.5l-4.5 .5 4 2.5zM431 166.5l-5 0 4 3zM441.5 166.5l-5 0 3.5 3zM452.5 166.5l-4.5-.5 3.5 3.5zM463 166.5l-4.5-.5 3 3.5zM473.5 167l-4-1 2.5 3.5zM484 167l-3.5-1 2 3zM494 167l-3-1 1.5 2.5zM295.5 177l-1 3 2.5-1.5zM306 177l-1.5 3.5 3.5-2zM316 177l-2 4.5 4.5-2zM326 177l-2.5 4 4.5-1.5zM336.5 177l-3 4 4.5-1zM346.5 177l-3 3.5 4.5-1zM357 177l-3.5 3 5-.5zM368 176.5l-4 3 5 0zM378.5 176.5l-4 2.5 4.5 .5zM388.5 176.5l-4.5 2 4.5 1.5zM398.5 176l-4.5 1.5 4.5 2zM409.5 176l-4.5 1 4 2zM420 176l-5 .5 4 2.5zM430 176l-5 0 3.5 3zM441 176l-5-.5 3.5 3.5zM452 176l-4.5-1 3 3.5zM463 176l-4.5-1 3 4zM474 176.5l-4.5-1.5 2.5 4zM484 176.5l-4-1.5 2 3.5zM494.5 177l-3-1 1.5 3zM285 187l-.5 3 2.5-1.5zM295 186.5l-1 4 3.5-2.5zM305 187.5l-1.5 4.5 4-2.5zM314.5 188l-2 4.5 4-2zM324.5 188l-2.5 4 4.5-2zM335 187.5l-2.5 4 4.5-1.5zM346 187.5l-3 3.5 4.5-1zM356.5 187l-3.5 3.5 5-.5zM367 186.5l-4 3 5 0zM377 186.5l-4 2.5 4.5 .5zM387.5 186l-4.5 2 4.5 1.5zM398 186l-4.5 1.5 4.5 2zM408.5 185.5l-4.5 1 4 2.5zM420 185.5l-5 0 4 3zM430.5 185.5l-5 0 3.5 3zM441 185.5l-4.5-.5 3.5 3.5zM452 185.5l-4.5-1 3 3.5zM462.5 186l-4.5-1.5 2.5 4zM473.5 186l-4.5-1.5 2.5 4zM484 186.5l-4-1.5 2 4zM494.5 186.5l-3.5-1.5 1.5 3.5zM505 186.5l-3-1.5 1.5 3.5zM285 197l-.5 3.5 2.5-2zM295 197l-1 4.5 3.5-3zM304 198.5l-1.5 4.5 4-3zM314 199l-1.5 4.5 4-2.5zM324 199l-2 4.5 4.5-2zM334 198.5l-2.5 4 4.5-1.5zM344.5 198l-3 4 4.5-1zM355 197.5l-3.5 3.5 4.5-.5zM365 197l-3.5 3 5 0zM375.5 196.5l-4 2.5 4.5 .5zM386 196l-4.5 2 4.5 1.5zM396 195.5l-4.5 1 4.5 2zM407 195l-4.5 .5 4 2.5zM418.5 195l-5 0 3.5 3zM430 195l-4.5-.5 3.5 3.5zM441 195l-4.5-1 3 3.5zM451.5 195l-4.5-1.5 2.5 4zM462.5 195.5l-4.5-1.5 2.5 4zM473.5 196l-4.5-2 2 4zM484 196.5l-4-2 1.5 4zM494.5 196.5l-3-1.5 1 3.5zM505 196.5l-3-2 1 3.5zM515 196.5l-2.5-1.5 .5 2.5zM285 206.5l-.5 4 3-3zM294.5 208l-.5 4.5 3.5-3zM303.5 209.5l-1 4.5 3.5-3zM313.5 210l-1.5 4.5 4-3zM323.5 209.5l-1.5 4.5 4-2.5zM333.5 209l-2 4.5 4.5-2zM343.5 208.5l-2.5 4 4.5-1.5zM353.5 208l-3 3.5 4.5-1zM363.5 207.5l-3.5 3 5 0zM373.5 206.5l-4 2.5 4.5 .5zM384 206l-4.5 2 4.5 1.5zM394.5 205l-4.5 1 4.5 2zM406 204l-5 .5 4 2.5zM417.5 204l-5-.5 3.5 3zM429 204l-4.5-1 3 3.5zM440 204l-4.5-1.5 3 4zM451.5 204.5l-4.5-1.5 2.5 4zM462 204.5l-4.5-2 2 4.5zM473.5 205.5l-4-2 2 4.5zM484.5 206l-3.5-2 1.5 4zM494.5 206.5l-3-2 1 3.5zM505 206.5l-3-2 1 3.5zM515 206.5l-2.5-2 .5 3zM525.5 206.5l-2-1.5 .5 2.5zM274.5 216.5l0 3 2-2.5zM284.5 216.5l0 5 3-3.5zM294 218.5l-.5 5 3-3.5zM303.5 219.5l-.5 4.5 3.5-3.5zM314 219.5l-1 4.5 3.5-3zM324.5 218.5l-1.5 4.5 4-3zM335 218l-2 4.5 4-2.5zM345 217.5l-2.5 4 4.5-2zM355 217.5l-3 4 4.5-1zM365 217l-3.5 3 5-.5zM375 216l-4 2.5 4.5 .5zM385.5 215.5l-4.5 1.5 4.5 1.5zM396 214.5l-4.5 1 4 2.5zM407.5 214l-5 0 3.5 3zM418.5 213.5l-4.5-.5 3.5 3.5zM428.5 213l-4.5-1 3 4zM439.5 213l-4.5-1.5 2.5 4zM451 214l-4.5-2 2 4.5zM462 214.5l-4-2.5 2 4.5zM473.5 215l-4-2.5 1.5 4.5zM484.5 216l-3.5-2.5 1 4.5zM494.5 216l-3-2.5 1 4zM505 216l-3-2.5 .5 4zM515.5 216.5l-2.5-2 .5 3.5zM525.5 216.5l-2-2 .5 3zM264.5 226.5l.5 3 1.5-2.5zM274.5 226.5l.5 4 2.5-3zM284 227.5l.5 5 3-4zM294 229.5l0 5 3-4zM304 229.5l0 5 3-3.5zM314.5 228.5l-.5 5 3.5-3.5zM325.5 227.5l-1 4.5 3.5-3zM336 226.5l-1.5 4.5 4-3zM346.5 226l-2 4.5 4-2zM357.5 225.5l-2.5 4 4.5-1.5zM368 225.5l-3.5 3.5 4.5-.5zM378 225.5l-4 2.5 4.5 .5zM388.5 225l-4.5 1.5 4.5 1.5zM399 224.5l-4.5 .5 4 2.5zM410 224.5l-5-.5 3.5 3.5zM420.5 224.5l-4.5-1 3 4zM430 223.5l-4.5-1.5 2.5 4zM440.5 223.5l-4.5-2 2 4.5zM451.5 224l-4-2.5 1.5 4.5zM462.5 224l-4-2.5 1.5 4.5zM473.5 224.5l-4-3 1 4.5zM484.5 225.5l-3.5-3 1 4.5zM495 226l-3.5-3 .5 4.5zM505.5 226l-3.5-3 .5 4.5zM515.5 226l-3-2.5 .5 4zM525.5 226l-2.5-2 0 3zM264 236l1 3 1.5-3zM274 236.5l1 4.5 2.5-4zM284 238.5l.5 4.5 2.5-4zM294 239.5l.5 4.5 2.5-4zM304.5 239.5l.5 5 2.5-4zM315 238l0 5 3-4zM326 236.5l-.5 5 3-3.5zM336.5 235.5l-.5 4.5 3.5-3zM347 235.5l-1 4 3.5-2.5zM357.5 235.5l-1.5 3.5 3.5-1.5zM368.5 235l-2.5 3 4-.5zM379 235l-3.5 2.5 4 .5zM390 235l-4.5 1.5 4 2zM400.5 235l-5 0 4 3zM411 235l-4.5-1 3 3.5zM422 235l-4.5-1.5 2.5 4zM431.5 234.5l-4-2 2 4.5zM441.5 234l-4-2.5 1.5 4.5zM452 234l-4-3 1 4.5zM462.5 234l-3.5-3 1 4.5zM473.5 234.5l-3.5-3 .5 4.5zM484 235l-3.5-3.5 .5 4.5zM495 235.5l-3.5-3.5 .5 5zM505.5 235.5l-3.5-3.5 0 5zM515.5 236l-3-3.5 0 4.5zM526 236l-2.5-2.5 0 3.5zM264 246l1 3.5 1.5-3zM274 246.5l1.5 4.5 2-4.5zM284 249l1 4.5 2-4.5zM294.5 250l1 4.5 2-4.5zM304.5 249l1 4.5 2.5-4zM315.5 247.5l.5 4.5 2.5-4zM326 245.5l.5 5 3-4zM336.5 245.5l0 3.5 2.5-2.5zM347 245.5l0 3.5 2.5-2zM357.5 245.5l-1 3.5 3-2zM368.5 245l-1.5 3 3-1zM379 245l-2.5 2 3.5 0zM390 245l-3.5 1 3 1.5zM401 245l-3.5-.5 2.5 2.5zM422 245.5l-3.5-2 1 3.5zM432.5 245l-4-3 1 4.5zM442.5 244.5l-3.5-3 1 4.5zM452.5 243.5l-3.5-3.5 .5 4.5zM463 244l-3.5-3.5 .5 5zM473.5 244.5l-3-3.5 .5 5zM484.5 245l-3-3.5 0 5zM495 245l-3-3.5 0 5zM505.5 245.5l-3-3.5 0 5zM516 245.5l-3-3.5 0 5zM526 246l-2-2.5 0 3.5zM264 256l1.5 3 1-3zM274 256.5l1.5 4.5 1.5-4.5zM284.5 258.5l1.5 4.5 1.5-4.5zM295 259.5l1.5 4.5 1.5-4.5zM305 259l1.5 4.5 1.5-4.5zM315.5 257l1.5 4.5 2-4.5zM326 256l1 4.5 2-4zM336.5 255.5l.5 3.5 1.5-3zM347 255.5l.5 3 2-2.5zM357.5 255.5l0 3 2-2.5zM422 255.5l-3-2.5 .5 4zM432 254l-3.5-3.5 .5 5zM442.5 253.5l-3-3.5 0 5zM453 254l-3-3.5 0 5zM463.5 253.5l-3-4 0 5zM474 254.5l-3-4 0 5zM484.5 255l-3-4 -.5 5zM495 255l-2.5-4 -.5 5zM505 255l-2.5-4 -.5 5zM515.5 255.5l-2.5-4 -.5 4.5zM526 255.5l-2-3 -.5 3.5zM264 266l1.5 2.5 1-3zM274 266l2 4.5 1-4.5zM284.5 268l2 4.5 1-4.5zM295 269l2 4.5 1-4.5zM305.5 268l2 4.5 1-4.5zM315.5 266.5l2 4.5 1-4.5zM326 266l1.5 3.5 1-4zM336.5 265.5l1.5 3 1-3zM347 265.5l1.5 3 1-3zM422.5 265.5l-2.5-3.5 -.5 4zM432 262.5l-2.5-4 -.5 4.5zM442.5 262.5l-2.5-4 -.5 4.5zM453 263.5l-2.5-4 -.5 4.5zM463.5 263.5l-2.5-4 -.5 4.5zM474 264l-2.5-4 -.5 4.5zM484.5 265l-2.5-4 -1 4.5zM495 265l-2.5-4 -1 4.5zM505.5 264.5l-2.5-4 -1 4.5zM516 265l-2.5-4 -1 4.5zM526 265.5l-2-3.5 -1 4zM150.5 275.5l1.5 2.5 .5-2.5zM264.5 275.5l1.5 2.5 .5-2.5zM274 275.5l2 3.5 .5-4zM285 277l2.5 4 .5-4.5zM295.5 278.5l2.5 4 .5-4.5zM305.5 277.5l2.5 4 .5-4.5zM316 276.5l2.5 4 .5-4.5zM326 276l2.5 4 .5-5zM336.5 276l2.5 3.5 .5-4.5zM347 276l2 3 0-3.5zM422.5 275l-1.5-4.5 -1.5 4.5zM433 270.5l-1.5-4.5 -1.5 4.5zM443 272l-2-4.5 -1.5 4.5zM453.5 274l-2-4.5 -1.5 4.5zM464 274l-2-4.5 -1.5 4.5zM474.5 274.5l-2-4.5 -1.5 4.5zM484.5 274.5l-2-4.5 -1 4.5zM495 274l-2-4.5 -1 4.5zM505.5 274.5l-2-4.5 -1 4.5zM516 275l-2-4.5 -1 4.5zM526 275.5l-2-3.5 -1 4zM536 275.5l-1.5-2.5 -1 3zM140 285.5l1.5 2 .5-2.5zM150 285.5l1.5 2.5 .5-3zM160.5 285.5l1.5 2 .5-2.5zM264.5 285.5l1.5 2.5 .5-3zM274.5 285.5l2.5 3 .5-4zM285 286.5l3 4 0-5zM295.5 288l3 4 0-5zM306 287.5l3 3.5 0-5zM316 286.5l3 3.5 0-5zM326 286l3.5 3.5 -.5-5zM336.5 286l3.5 3 -.5-4.5zM347 286l3 2 -.5-3.5zM422.5 284.5l-.5-5 -2.5 4zM433.5 280.5l-1-4.5 -2.5 4zM443.5 282.5l-1-4.5 -2 4.5zM453.5 284.5l-1-4.5 -2 4.5zM464 285l-1.5-4.5 -2 4.5zM474.5 284.5l-1.5-4.5 -1.5 4.5zM484.5 283l-1.5-4.5 -1.5 4.5zM495 283l-1.5-4.5 -1.5 4.5zM505.5 284.5l-1.5-4.5 -1.5 4.5zM516 285l-1.5-4 -1.5 4zM526 285l-1.5-3.5 -1.5 3.5zM536 285l-1.5-3 -1 3zM150.5 295l1.5 2.5 .5-3zM160.5 295l1.5 2.5 .5-3zM171 295l1.5 2 .5-2.5zM274.5 295.5l2 2.5 0-3zM284.5 295.5l3 3.5 -.5-5zM295.5 297l3.5 3.5 -.5-5zM306 297l3.5 3.5 -.5-4.5zM316 296l3.5 3 -1-4.5zM326 296l4 3 -1-4.5zM336.5 296l3.5 2.5 -1-4zM347.5 296l3.5 1.5 -1.5-3.5zM422.5 295.5l.5-4.5 -3.5 3.5zM433.5 293l0-5 -3 3.5zM443.5 294l-.5-5 -2.5 4zM453.5 295l-.5-4.5 -2.5 4zM464 294.5l-1-4.5 -2.5 4zM474.5 294l-1-4.5 -2 4zM485 292.5l-1-4.5 -2 4.5zM495.5 293l-1-4.5 -2 4.5zM505.5 295l-1.5-4.5 -2 4.5zM515.5 295l-1-3.5 -1.5 3zM526 295l-1-3.5 -1.5 3zM536 295l-1-3 -1 3zM171 305l1.5 2 0-2.5zM274.5 305l2 2 0-3zM284.5 305.5l3 3 -.5-4.5zM295.5 306l3.5 3 -1-4.5zM306 306l4 3 -1-4.5zM316 305.5l4 2.5 -1.5-4.5zM326.5 305.5l3.5 2 -1.5-4zM337 306l4 1.5 -2-4zM347.5 306l4 1 -2-3.5zM358 306l3 .5 -2-2.5zM369 305.5l2.5-.5 -2-1.5zM379.5 305.5l2.5-1 -2.5-1zM390 305.5l2-2 -3 0zM411.5 305.5l1-2.5 -2.5 1zM422 305.5l1-4 -3.5 2.5zM433 305l.5-4.5 -3.5 3zM443 305.5l0-4.5 -3 3.5zM453.5 305l0-4.5 -3 3.5zM464 305l-.5-5 -3 4zM474.5 304l-.5-4.5 -2.5 4zM485 303l-.5-4.5 -2.5 4zM495.5 303l-1-4.5 -2.5 4zM505.5 305l-1-4.5 -2.5 4zM515.5 305l-1-3 -1.5 3zM525.5 305l-1-3 -1.5 2.5zM285 315l2.5 2 -.5-3zM295.5 315l3 2 -1-3.5zM305.5 315.5l3.5 2 -1-4zM316 315.5l3.5 2 -1.5-3.5zM326.5 315.5l3.5 1.5 -1.5-3.5zM337 315.5l4 1 -2-3.5zM347.5 316l4.5 .5 -3-3.5zM358 316l4 0 -3-3zM369 316l3.5-.5 -3-2zM379.5 315.5l2.5-1 -3-1zM411 315.5l1.5-2.5 -2.5 1zM422 315.5l1-3 -3 1.5zM432.5 315.5l1-3.5 -3 2zM442.5 315l.5-3.5 -2.5 2zM453.5 315l.5-4 -3 3zM464 314.5l0-5 -3 3.5zM474.5 314l0-5 -3 4zM485 313l-.5-5 -3 4zM495.5 313l-.5-5 -2.5 4zM505.5 314.5l-.5-4.5 -2.5 4zM515.5 315l-.5-4 -2 3.5zM526 314.5l-.5-3 -1.5 2.5zM306 325l2.5 1 -1-2.5zM316.5 325l3 1 -1.5-2.5zM326.5 325.5l3.5 1 -2-3.5zM337 325.5l4.5 1 -2.5-3.5zM348 325.5l5 .5 -3.5-3.5zM358.5 326l5-.5 -4-3zM369 325.5l3-1 -3-1.5zM390 325.5l2.5-2 -3-.5zM400.5 325.5l2.5-2.5 -3.5 0zM411.5 325.5l2-3 -3.5 1zM421.5 325l1.5-3 -3 1zM432 325l1-3 -3 1.5zM442.5 325l1-3.5 -3 2zM453.5 325l1-4.5 -3.5 3zM464 324l.5-4.5 -3.5 3.5zM475 323l.5-5 -3.5 3.5zM485.5 322.5l0-5 -3 3.5zM495.5 322.5l0-5 -3 4zM505.5 323.5l0-5 -3 4zM516 324.5l-.5-5 -2.5 4zM526 324.5l-.5-4 -2 3zM316.5 335l2.5 1 -1.5-2.5zM327 335l4 1 -2.5-3.5zM338 335.5l4.5 .5 -3.5-3.5zM348.5 335.5l5 0 -3.5-3zM358.5 335.5l4.5-.5 -4-2.5zM369 335l3-1 -2.5-1.5zM390 335.5l3-2 -3.5-.5zM401 335.5l3.5-3 -4.5 0zM411.5 335.5l2.5-3.5 -4.5 1zM422 335l2-3.5 -3.5 1zM432.5 335l1.5-3.5 -3.5 1.5zM443 335l1.5-4 -4 2zM453.5 334.5l1.5-4.5 -4 3zM464.5 334l1-4.5 -3.5 3zM475 333.5l.5-4.5 -3.5 3zM485 333l.5-5 -3.5 3.5zM495.5 333l0-5 -3 3.5zM505.5 334l0-5 -3 3.5zM516 334.5l0-5 -3 3.5zM526 334.5l-.5-3.5 -2 3zM327 344.5l3 .5 -2-2zM337.5 345l3.5 0 -2.5-2.5zM348 345l4-.5 -3-2.5zM358.5 345l4-1 -3.5-2zM369 345.5l4-1.5 -4-2zM379.5 345.5l4-2 -4-1zM390 345l3.5-2.5 -4-.5zM400.5 345l3-3 -4 0zM411 345l2.5-3 -4 .5zM421.5 345l2-3 -3.5 1zM432 345l2-3.5 -4 1.5zM443 345l2-4 -4 2zM453.5 344.5l1.5-4.5 -4 2.5zM464 344.5l1.5-4.5 -4 3zM474.5 344.5l1-4.5 -3.5 3zM484.5 344l1-4.5 -3.5 3zM495 344l.5-4.5 -3.5 3.5zM505.5 344.5l.5-5 -3.5 3.5zM515.5 344.5l0-4.5 -3 3zM525.5 344l0-3 -2 2.5zM337.5 354.5l2.5 0 -2-2zM348 355l4-.5 -3-2.5zM358.5 355l4.5-1 -4-2zM369 355l4.5-1.5 -4.5-1.5zM379.5 355l4.5-2 -4.5-1zM390 355l4-2.5 -4.5-.5zM400.5 355l3-2.5 -4 0zM411 354.5l2.5-2.5 -3.5 .5zM421.5 354.5l2-3 -3.5 .5zM432 354.5l2-3.5 -3.5 1zM442.5 354.5l2-4 -4 1.5zM453 354.5l2-4.5 -4 2zM463.5 354.5l1.5-4.5 -4 2.5zM474 354.5l1-4.5 -4 2.5zM484.5 354.5l1-4.5 -3.5 3zM495 354.5l.5-4.5 -3.5 3zM505 354l.5-4 -3 3zM515.5 354l0-3.5 -2.5 2.5zM525.5 354l0-2.5 -2 2zM348 364.5l3.5-.5 -3-2zM358.5 365l4.5-1 -4-2zM369 365l4.5-1.5 -4.5-1.5zM380 365l4.5-2 -4.5-1zM390 365l4-2.5 -4.5-.5zM400.5 364.5l3.5-2.5 -4.5 0zM411 364.5l3-3 -4 0zM421.5 364.5l2-2.5 -3.5 .5zM432 364.5l2-3 -3.5 1zM442.5 364.5l2.5-4 -4.5 1.5zM453.5 364l2-4.5 -4.5 2zM463.5 364.5l1.5-4.5 -4.5 2zM474 364l1.5-4 -3.5 2zM484.5 364l1-4 -3.5 2zM494.5 364l.5-3.5 -2.5 2zM505 364l.5-3 -2.5 2zM515 364l.5-3 -2 2zM348 374l3-.5 -2.5-1.5zM358.5 374.5l4-1 -4-2zM369 374.5l4.5-1.5 -4.5-1.5zM379.5 374.5l4.5-2 -4.5-1zM390.5 374.5l4-2.5 -4.5-.5zM401 374.5l4-3 -5 0zM411 374.5l3.5-3.5 -5 0zM421.5 374.5l2.5-3 -4 .5zM432 374l2.5-3 -4 1zM442.5 374l2.5-4 -4.5 1.5zM453.5 374l2.5-4 -4.5 2zM463.5 374l2-4.5 -4.5 2zM474 374l1.5-4 -4 2zM484 374l1-3 -2.5 1.5zM494.5 373.5l.5-2.5 -2.5 1.5zM504.5 373.5l.5-3 -2.5 1.5zM358.5 384l3-1 -2.5-1.5zM369 384l3-1.5 -3-1zM379.5 384l3.5-1.5 -3.5-1zM390 384.5l3.5-2.5 -4.5-.5zM400.5 384.5l4-3 -5-.5zM411.5 384l3.5-3 -5 0zM421.5 384l3-3.5 -4.5 .5zM432 384l3-3.5 -4.5 1zM442.5 384l3-4 -4.5 1.5zM453 384l2.5-4 -4.5 1.5zM463.5 384l2-4 -4 1.5zM473.5 383.5l1.5-3.5 -3.5 1.5zM484 383.5l1-2.5 -2.5 1.5zM494.5 383.5l1-2.5 -2.5 1.5zM369 393.5l2.5-1 -2.5-1zM379.5 394l3-1.5 -3-1zM390 394l3.5-2.5 -4.5-1zM401 394l4-2.5 -5-.5zM411 394l3.5-3 -5 0zM421.5 394l3-3 -4.5 .5zM432 394l2.5-3 -4 .5zM442.5 394l2.5-3.5 -4 1zM453 393.5l2-3 -3.5 1zM463 393.5l1.5-3 -3 1zM473.5 393.5l1-2.5 -2.5 1zM379.5 403.5l2.5-1.5 -3-1zM390 403.5l3-2 -4-.5zM400.5 404l3.5-2.5 -4.5-.5zM411 403.5l3-2.5 -4 0zM421.5 403.5l2.5-2.5 -4 0zM432 403.5l2.5-2.5 -3.5 .5zM442.5 403.5l2-2.5 -3.5 .5zM452.5 403l1.5-2.5 -3 .5zM390 413l2.5-1.5 -3-.5zM400.5 413.5l3-2 -3.5-.5zM411 413l2.5-2 -3 0zM421.5 413l2-2 -3 0zM431.5 413l2-2 -2.5 0z" fill="#000"/></g>
<rect x="99.5" y="32.6" width="486.79999999999995" height="405.0" fill="none" stroke="#000" stroke-width="0.8"/>
<path d="M99.5 32.6h-3.5M99.5 133.8h-3.5M99.5 235.1h-3.5M99.5 336.4h-3.5M99.5 437.6h-3.5M180.6 437.6v3.5M282 437.6v3.5M383.5 437.6v3.5M484.9 437.6v3.5M586.3 437.6v3.5" stroke="#000" stroke-width="0.8"/>
<g font-family="DejaVu Sans,Liberation Sans,sans-serif" font-size="27.7" fill="#000">
<text x="93.2" y="43.5" text-anchor="end">35°N</text>
<text x="93.2" y="144.8" text-anchor="end">30°N</text>
<text x="93.2" y="246" text-anchor="end">25°N</text>
<text x="93.2" y="347.2" text-anchor="end">20°N</text>
<text x="93.2" y="448.5" text-anchor="end">15°N</text>
<text x="181.1" y="465.2" text-anchor="middle">115°E</text>
<text x="282.5" y="465.2" text-anchor="middle">120°E</text>
<text x="384" y="465.2" text-anchor="middle">125°E</text>
<text x="485.4" y="465.2" text-anchor="middle">130°E</text>
<text x="586.8" y="465.2" text-anchor="middle">135°E</text>
<rect x="616.9" y="28.2" width="21.1" height="413.7" fill="url(#jg)" stroke="#000" stroke-width="0.6"/>
<text x="643.6" y="452.5">0</text>
<text x="643.6" y="414.9">5</text>
<text x="643.6" y="377.3">10</text>
<text x="643.6" y="339.7">15</text>
<text x="643.6" y="302.1">20</text>
<text x="643.6" y="264.5">25</text>
<text x="643.6" y="226.8">30</text>
<text x="643.6" y="189.2">35</text>
<text x="643.6" y="151.6">40</text>
<text x="643.6" y="114">45</text>
<text x="643.6" y="76.4">50</text>
<text x="643.6" y="38.8">55</text>
</g>
<path d="M638 441.9h3M638 404.3h3M638 366.7h3M638 329.1h3M638 291.5h3M638 253.9h3M638 216.2h3M638 178.6h3M638 141h3M638 103.4h3M638 65.8h3M638 28.2h3" stroke="#000" stroke-width="0.8"/>
<text transform="translate(695.8 232.5) rotate(-90)" text-anchor="middle" font-family="DejaVu Sans,Liberation Sans,sans-serif" font-size="18" fill="#000">wind speed m/s</text>
</g>
<text x="364.2" y="528.5" text-anchor="middle" font-family="Liberation Serif,serif" font-size="29" fill="#000">(<tspan font-weight="bold">a</tspan>)</text>
<text x="1129.5" y="528.5" text-anchor="middle" font-family="Liberation Serif,serif" font-size="29" fill="#000">(<tspan font-weight="bold">b</tspan>)</text>
<text x="364" y="1038.4" text-anchor="middle" font-family="Liberation Serif,serif" font-size="29" fill="#000">(<tspan font-weight="bold">c</tspan>)</text>
<text x="1129.5" y="1038.4" text-anchor="middle" font-family="Liberation Serif,serif" font-size="29" fill="#000">(<tspan font-weight="bold">d</tspan>)</text>
<text x="364.2" y="1547" text-anchor="middle" font-family="Liberation Serif,serif" font-size="29" fill="#000">(<tspan font-weight="bold">e</tspan>)</text>
<text x="1130" y="1547" text-anchor="middle" font-family="Liberation Serif,serif" font-size="29" fill="#000">(<tspan font-weight="bold">f</tspan>)</text>
<text x="364.2" y="2012.5" text-anchor="middle" font-family="Liberation Serif,serif" font-size="29" fill="#000">(<tspan font-weight="bold">g</tspan>)</text>
<text x="1129.5" y="2012.5" text-anchor="middle" font-family="Liberation Serif,serif" font-size="29" fill="#000">(<tspan font-weight="bold">h</tspan>)</text>
<clipPath id="sce"><rect x="105.8" y="1085.8" width="425.6" height="345.2"/></clipPath><filter id="sbe"><feGaussianBlur stdDeviation=".45"/></filter><pattern id="pwe" width="57" height="48" patternUnits="userSpaceOnUse"><path d="M30.4 40.8h1.9M53.2 45.6h1.9M38 8.8h1.9M20.9 45.6h1.9M30.4 28h1.9M53.2 21.6h1.9M7.6 31.2h1.9M41.8 5.6h1.9M13.3 21.6h1.9M13.3 29.6h1.9M19 36h1.9M53.2 24.8h1.9M28.5 10.4h1.9M20.9 28h1.9M15.2 36h1.9M34.2 32.8h1.9M9.5 44h1.9M24.7 34.4h1.9M15.2 45.6h1.9M20.9 28h1.9M13.3 15.2h1.9M38 23.2h1.9M3.8 31.2h1.9M15.2 16.8h1.9M45.6 31.2h1.9M39.9 15.2h1.9M47.5 39.2h1.9M0 40.8h1.9M43.7 45.6h1.9M3.8 .8h1.9M43.7 21.6h1.9M26.6 37.6h1.9M7.6 29.6h1.9M24.7 21.6h1.9M24.7 47.2h1.9M49.4 40.8h1.9M9.5 28h1.9M22.8 13.6h1.9M20.9 29.6h1.9M17.1 8.8h1.9M19 37.6h1.9M55.1 40.8h1.9M43.7 28h1.9M47.5 13.6h1.9M3.8 16.8h1.9M49.4 21.6h1.9M43.7 34.4h1.9M55.1 42.4h1.9M19 21.6h1.9M49.4 20h1.9M53.2 23.2h1.9M5.7 47.2h1.9M43.7 32.8h1.9M11.4 12h1.9M30.4 7.2h1.9M26.6 40.8h1.9M22.8 16.8h1.9M26.6 2.4h1.9M3.8 32.8h1.9M11.4 15.2h1.9M11.4 7.2h1.9M1.9 45.6h1.9M9.5 36h1.9M5.7 24.8h1.9M11.4 39.2h1.9M15.2 13.6h1.9M13.3 2.4h1.9M15.2 26.4h1.9M41.8 39.2h1.9M17.1 5.6h1.9M39.9 29.6h1.9M11.4 45.6h1.9M7.6 37.6h1.9M1.9 .8h1.9M11.4 5.6h1.9M51.3 10.4h1.9M9.5 31.2h1.9M30.4 12h1.9M53.2 18.4h1.9M55.1 37.6h1.9M1.9 45.6h1.9M47.5 44h1.9M13.3 34.4h1.9M22.8 31.2h1.9M34.2 42.4h1.9M19 36h1.9M32.3 2.4h1.9M19 32.8h1.9M26.6 39.2h1.9M43.7 36h1.9M47.5 20h1.9M45.6 36h1.9M43.7 15.2h1.9M47.5 24.8h1.9M49.4 40.8h1.9M20.9 12h1.9M9.5 26.4h1.9M0 47.2h1.9M28.5 18.4h1.9M13.3 23.2h1.9M1.9 20h1.9M53.2 24.8h1.9M47.5 7.2h1.9M38 44h1.9M45.6 10.4h1.9M24.7 39.2h1.9M3.8 23.2h1.9M41.8 15.2h1.9M47.5 15.2h1.9M24.7 2.4h1.9M3.8 13.6h1.9M51.3 18.4h1.9M24.7 4h1.9M45.6 47.2h1.9M9.5 13.6h1.9M32.3 10.4h1.9M3.8 13.6h1.9M34.2 40.8h1.9M1.9 15.2h1.9M1.9 42.4h1.9M49.4 40.8h1.9M22.8 .8h1.9M43.7 36h1.9M26.6 13.6h1.9M5.7 7.2h1.9M24.7 4h1.9M36.1 18.4h1.9M36.1 24.8h1.9M38 39.2h1.9M32.3 34.4h1.9M11.4 8.8h1.9M49.4 34.4h1.9M34.2 37.6h1.9M0 31.2h1.9M49.4 20h1.9M45.6 12h1.9M49.4 16.8h1.9M0 37.6h1.9M38 37.6h1.9M3.8 7.2h1.9M11.4 5.6h1.9M43.7 40.8h1.9M39.9 18.4h1.9M22.8 .8h1.9M49.4 31.2h1.9M45.6 18.4h1.9M51.3 34.4h1.9M24.7 40.8h1.9M13.3 15.2h1.9M22.8 32.8h1.9M11.4 32.8h1.9M28.5 34.4h1.9M32.3 44h1.9M38 16.8h1.9M19 21.6h1.9M26.6 23.2h1.9M41.8 42.4h1.9M1.9 37.6h1.9M19 8.8h1.9M11.4 18.4h1.9M45.6 8.8h1.9M47.5 42.4h1.9M51.3 18.4h1.9M49.4 .8h1.9M49.4 42.4h1.9M30.4 31.2h1.9M49.4 32.8h1.9M1.9 44h1.9M47.5 4h1.9M36.1 40.8h1.9M36.1 18.4h1.9M19 20h1.9M17.1 15.2h1.9M15.2 2.4h1.9M30.4 12h1.9M45.6 42.4h1.9M30.4 47.2h1.9M15.2 16.8h1.9M11.4 32.8h1.9M39.9 37.6h1.9M5.7 2.4h1.9M9.5 21.6h1.9M49.4 47.2h1.9M53.2 24.8h1.9M17.1 47.2h1.9M43.7 34.4h1.9M38 29.6h1.9M34.2 26.4h1.9M51.3 2.4h1.9M28.5 23.2h1.9" stroke="#fff" stroke-width="1.6"/></pattern><pattern id="pve" width="61" height="53" patternUnits="userSpaceOnUse"><path d="M22.8 28h1.9M41.8 45.6h1.9M15.2 20h1.9M22.8 12h1.9M38 34.4h1.9M20.9 44h1.9M43.7 16.8h1.9M11.4 8.8h1.9M22.8 24.8h1.9M58.9 15.2h1.9M36.1 26.4h1.9M58.9 5.6h1.9M26.6 7.2h1.9M38 44h1.9M53.2 42.4h1.9M0 44h1.9M9.5 29.6h1.9M58.9 10.4h1.9M49.4 23.2h1.9M24.7 52h1.9M15.2 37.6h1.9M39.9 15.2h1.9M58.9 39.2h1.9M57 52h1.9M5.7 31.2h1.9M28.5 20h1.9M26.6 15.2h1.9M0 40.8h1.9M43.7 36h1.9M58.9 16.8h1.9M39.9 16.8h1.9M34.2 34.4h1.9M58.9 2.4h1.9M26.6 21.6h1.9M49.4 29.6h1.9M28.5 37.6h1.9M39.9 7.2h1.9M38 26.4h1.9M51.3 50.4h1.9M17.1 8.8h1.9M55.1 13.6h1.9M57 26.4h1.9M58.9 29.6h1.9M30.4 40.8h1.9M28.5 2.4h1.9M57 52h1.9M7.6 31.2h1.9M13.3 4h1.9M53.2 48.8h1.9M26.6 4h1.9M53.2 29.6h1.9M0 .8h1.9M3.8 32.8h1.9M17.1 47.2h1.9M32.3 45.6h1.9M1.9 48.8h1.9M58.9 34.4h1.9M5.7 31.2h1.9M53.2 31.2h1.9M41.8 23.2h1.9M53.2 21.6h1.9M41.8 48.8h1.9M34.2 10.4h1.9M28.5 29.6h1.9M53.2 5.6h1.9M1.9 24.8h1.9M15.2 36h1.9M1.9 13.6h1.9M58.9 10.4h1.9M55.1 37.6h1.9M11.4 12h1.9M15.2 24.8h1.9M30.4 45.6h1.9M51.3 50.4h1.9M43.7 36h1.9M32.3 26.4h1.9M32.3 48.8h1.9M0 10.4h1.9M39.9 52h1.9M49.4 29.6h1.9M0 34.4h1.9M36.1 50.4h1.9M22.8 13.6h1.9M43.7 47.2h1.9M20.9 31.2h1.9M28.5 42.4h1.9M58.9 32.8h1.9M39.9 29.6h1.9M47.5 18.4h1.9M41.8 37.6h1.9" stroke="#fff" stroke-width="1.6"/></pattern><pattern id="pae" width="67" height="59" patternUnits="userSpaceOnUse"><path d="M58.9 8.8h1.9M55.1 53.6h1.9M39.9 8.8h1.9M9.5 50.4h1.9M62.7 31.2h1.9M64.6 4h1.9M11.4 28h1.9M0 13.6h1.9M30.4 8.8h1.9M49.4 24.8h1.9M11.4 37.6h1.9M49.4 .8h1.9M11.4 47.2h1.9M53.2 55.2h1.9M49.4 28h1.9M36.1 45.6h1.9M34.2 21.6h1.9M49.4 34.4h1.9M43.7 15.2h1.9M64.6 32.8h1.9M15.2 2.4h1.9M41.8 12h1.9M19 16.8h1.9M53.2 42.4h1.9M34.2 18.4h1.9M22.8 52h1.9M30.4 42.4h1.9M43.7 20h1.9M17.1 37.6h1.9M5.7 4h1.9M30.4 39.2h1.9M28.5 2.4h1.9M24.7 52h1.9M62.7 23.2h1.9M38 32.8h1.9M62.7 56.8h1.9M36.1 45.6h1.9M7.6 37.6h1.9M0 13.6h1.9M0 39.2h1.9M34.2 8.8h1.9M62.7 8.8h1.9M7.6 18.4h1.9M62.7 8.8h1.9M30.4 28h1.9M24.7 15.2h1.9M15.2 31.2h1.9M57 18.4h1.9M38 12h1.9M30.4 29.6h1.9M9.5 12h1.9M41.8 15.2h1.9M38 28h1.9M3.8 10.4h1.9M57 .8h1.9M32.3 5.6h1.9M36.1 36h1.9M64.6 4h1.9M24.7 4h1.9M34.2 .8h1.9M58.9 31.2h1.9M0 31.2h1.9M24.7 28h1.9M3.8 16.8h1.9M5.7 52h1.9M49.4 10.4h1.9M15.2 13.6h1.9M0 4h1.9M15.2 39.2h1.9M53.2 23.2h1.9M58.9 23.2h1.9M58.9 26.4h1.9M45.6 13.6h1.9M62.7 20h1.9M1.9 26.4h1.9M36.1 34.4h1.9M7.6 36h1.9M41.8 15.2h1.9M41.8 37.6h1.9M49.4 55.2h1.9M45.6 32.8h1.9M17.1 45.6h1.9M64.6 55.2h1.9M22.8 21.6h1.9M5.7 48.8h1.9M1.9 16.8h1.9M32.3 12h1.9M13.3 37.6h1.9M60.8 8.8h1.9M24.7 52h1.9M53.2 15.2h1.9M17.1 56.8h1.9M7.6 18.4h1.9M34.2 5.6h1.9M7.6 31.2h1.9M39.9 24.8h1.9M51.3 8.8h1.9M45.6 29.6h1.9M24.7 31.2h1.9M20.9 44h1.9M43.7 39.2h1.9M30.4 40.8h1.9M49.4 40.8h1.9M45.6 28h1.9M53.2 4h1.9M47.5 13.6h1.9M3.8 53.6h1.9M22.8 16.8h1.9M26.6 42.4h1.9M43.7 13.6h1.9M1.9 53.6h1.9M30.4 48.8h1.9M22.8 10.4h1.9M32.3 44h1.9M13.3 7.2h1.9M20.9 24.8h1.9M49.4 18.4h1.9M57 20h1.9M0 53.6h1.9M47.5 37.6h1.9M51.3 2.4h1.9M57 47.2h1.9M7.6 48.8h1.9M45.6 48.8h1.9M55.1 16.8h1.9" stroke="#00008c" stroke-width="1.6"/></pattern><pattern id="pbe" width="59" height="51" patternUnits="userSpaceOnUse"><path d="M1.9 23.2h1.9M45.6 42.4h1.9M34.2 16.8h1.9M30.4 44h1.9M41.8 8.8h1.9M41.8 32.8h1.9M28.5 36h1.9M51.3 44h1.9M1.9 .8h1.9M34.2 2.4h1.9M1.9 48.8h1.9M49.4 7.2h1.9M49.4 20h1.9M22.8 2.4h1.9M41.8 12h1.9M39.9 45.6h1.9M13.3 29.6h1.9M47.5 36h1.9M39.9 26.4h1.9M11.4 10.4h1.9M34.2 21.6h1.9M38 .8h1.9M13.3 7.2h1.9M49.4 47.2h1.9M9.5 .8h1.9M26.6 8.8h1.9M53.2 44h1.9M47.5 31.2h1.9M15.2 31.2h1.9M9.5 15.2h1.9M13.3 29.6h1.9M7.6 37.6h1.9M53.2 26.4h1.9M5.7 5.6h1.9M38 12h1.9M15.2 .8h1.9M9.5 2.4h1.9M36.1 32.8h1.9M38 45.6h1.9M20.9 12h1.9M30.4 13.6h1.9M13.3 24.8h1.9M24.7 7.2h1.9M39.9 18.4h1.9M30.4 13.6h1.9M19 24.8h1.9M53.2 4h1.9M45.6 37.6h1.9M15.2 29.6h1.9M45.6 8.8h1.9M13.3 48.8h1.9M15.2 24.8h1.9M32.3 13.6h1.9M7.6 13.6h1.9M34.2 24.8h1.9M28.5 24.8h1.9M24.7 44h1.9M0 29.6h1.9M11.4 18.4h1.9M28.5 8.8h1.9M41.8 5.6h1.9M19 10.4h1.9M36.1 34.4h1.9M41.8 45.6h1.9M47.5 4h1.9M49.4 2.4h1.9M32.3 48.8h1.9M28.5 32.8h1.9M1.9 44h1.9M19 18.4h1.9M1.9 31.2h1.9M13.3 13.6h1.9M26.6 20h1.9M1.9 10.4h1.9M28.5 48.8h1.9M55.1 13.6h1.9M38 32.8h1.9M51.3 29.6h1.9M28.5 29.6h1.9M39.9 40.8h1.9M39.9 28h1.9M24.7 28h1.9M9.5 8.8h1.9M11.4 21.6h1.9M24.7 .8h1.9M0 39.2h1.9M34.2 42.4h1.9M30.4 4h1.9M19 8.8h1.9M26.6 2.4h1.9M5.7 26.4h1.9M49.4 5.6h1.9M28.5 31.2h1.9M13.3 40.8h1.9M26.6 13.6h1.9M19 45.6h1.9M24.7 39.2h1.9M5.7 16.8h1.9M17.1 47.2h1.9M41.8 2.4h1.9M15.2 23.2h1.9M0 20h1.9M30.4 18.4h1.9M1.9 5.6h1.9M57 2.4h1.9M39.9 32.8h1.9M13.3 28h1.9M24.7 23.2h1.9M7.6 20h1.9M11.4 18.4h1.9M38 28h1.9M22.8 .8h1.9M41.8 34.4h1.9M32.3 10.4h1.9M11.4 31.2h1.9M34.2 31.2h1.9M15.2 .8h1.9M36.1 28h1.9M3.8 31.2h1.9M17.1 20h1.9M36.1 45.6h1.9M13.3 13.6h1.9M53.2 18.4h1.9M3.8 26.4h1.9M15.2 39.2h1.9M28.5 48.8h1.9M1.9 31.2h1.9M45.6 34.4h1.9M36.1 13.6h1.9M51.3 15.2h1.9M53.2 45.6h1.9M17.1 23.2h1.9M32.3 48.8h1.9M19 4h1.9M32.3 47.2h1.9M55.1 10.4h1.9M38 44h1.9M11.4 2.4h1.9M19 18.4h1.9M38 7.2h1.9M3.8 7.2h1.9M26.6 39.2h1.9M45.6 37.6h1.9M24.7 5.6h1.9M32.3 24.8h1.9M51.3 29.6h1.9M22.8 16.8h1.9M45.6 12h1.9M57 7.2h1.9M41.8 45.6h1.9M55.1 24.8h1.9M47.5 10.4h1.9M24.7 2.4h1.9M19 24.8h1.9M22.8 40.8h1.9M9.5 7.2h1.9M13.3 26.4h1.9M20.9 40.8h1.9M3.8 32.8h1.9M19 15.2h1.9M43.7 4h1.9M55.1 20h1.9M22.8 23.2h1.9M15.2 42.4h1.9M20.9 7.2h1.9M9.5 44h1.9M0 34.4h1.9M15.2 16.8h1.9M41.8 15.2h1.9M24.7 10.4h1.9M20.9 12h1.9M45.6 8.8h1.9M57 31.2h1.9M5.7 32.8h1.9M9.5 20h1.9M57 23.2h1.9M15.2 26.4h1.9M5.7 21.6h1.9M43.7 48.8h1.9M57 7.2h1.9M17.1 24.8h1.9M15.2 29.6h1.9M49.4 37.6h1.9M20.9 4h1.9M26.6 36h1.9M17.1 32.8h1.9M39.9 5.6h1.9M15.2 47.2h1.9M1.9 23.2h1.9M36.1 7.2h1.9M49.4 45.6h1.9M28.5 2.4h1.9M45.6 32.8h1.9M45.6 40.8h1.9M11.4 44h1.9M49.4 29.6h1.9M53.2 24.8h1.9M22.8 18.4h1.9M57 37.6h1.9M20.9 48.8h1.9M39.9 4h1.9M30.4 48.8h1.9M24.7 39.2h1.9M38 15.2h1.9M38 47.2h1.9M36.1 15.2h1.9M34.2 24.8h1.9M45.6 28h1.9M17.1 20h1.9M3.8 28h1.9" stroke="#00008c" stroke-width="1.6"/></pattern><pattern id="pce" width="53" height="47" patternUnits="userSpaceOnUse"><path d="M19 44h1.9M13.3 .8h1.9M39.9 23.2h1.9M38 23.2h1.9M26.6 37.6h1.9M13.3 18.4h1.9M7.6 31.2h1.9M43.7 42.4h1.9M13.3 15.2h1.9M26.6 20h1.9M3.8 37.6h1.9M38 31.2h1.9M11.4 37.6h1.9M7.6 2.4h1.9M15.2 39.2h1.9M45.6 15.2h1.9M3.8 15.2h1.9M20.9 23.2h1.9M49.4 21.6h1.9M20.9 26.4h1.9M26.6 23.2h1.9M3.8 45.6h1.9M15.2 24.8h1.9M5.7 4h1.9M47.5 28h1.9M17.1 24.8h1.9M43.7 20h1.9M30.4 32.8h1.9M15.2 7.2h1.9M41.8 31.2h1.9M45.6 4h1.9M39.9 5.6h1.9M9.5 29.6h1.9M26.6 37.6h1.9M34.2 2.4h1.9M5.7 2.4h1.9M9.5 36h1.9M13.3 28h1.9M43.7 21.6h1.9M11.4 28h1.9M7.6 .8h1.9M17.1 21.6h1.9M26.6 12h1.9M34.2 32.8h1.9M36.1 5.6h1.9M43.7 8.8h1.9M45.6 24.8h1.9M13.3 42.4h1.9M3.8 18.4h1.9M34.2 10.4h1.9M13.3 32.8h1.9M26.6 2.4h1.9M0 32.8h1.9M47.5 13.6h1.9M5.7 36h1.9M3.8 36h1.9M0 44h1.9M22.8 13.6h1.9M41.8 20h1.9M36.1 37.6h1.9M34.2 23.2h1.9M43.7 5.6h1.9M22.8 .8h1.9M5.7 42.4h1.9M22.8 24.8h1.9M39.9 13.6h1.9M11.4 23.2h1.9M34.2 4h1.9M0 34.4h1.9M24.7 44h1.9M28.5 13.6h1.9M28.5 45.6h1.9M17.1 5.6h1.9M47.5 39.2h1.9M7.6 2.4h1.9M26.6 42.4h1.9M20.9 8.8h1.9M32.3 10.4h1.9M1.9 8.8h1.9M26.6 40.8h1.9M20.9 8.8h1.9M47.5 4h1.9M24.7 4h1.9M49.4 .8h1.9M15.2 20h1.9M36.1 32.8h1.9M17.1 21.6h1.9M20.9 37.6h1.9M32.3 39.2h1.9M22.8 .8h1.9M17.1 13.6h1.9M11.4 12h1.9M19 44h1.9M38 12h1.9M7.6 21.6h1.9M13.3 44h1.9M36.1 .8h1.9M9.5 13.6h1.9M17.1 8.8h1.9M49.4 45.6h1.9M49.4 23.2h1.9M9.5 10.4h1.9M22.8 23.2h1.9M7.6 7.2h1.9M22.8 .8h1.9M15.2 37.6h1.9M28.5 28h1.9M28.5 10.4h1.9M49.4 45.6h1.9M1.9 37.6h1.9M49.4 21.6h1.9M47.5 13.6h1.9M34.2 7.2h1.9M13.3 36h1.9M28.5 36h1.9M19 7.2h1.9M9.5 44h1.9M3.8 28h1.9M32.3 31.2h1.9M36.1 4h1.9M24.7 2.4h1.9M34.2 16.8h1.9M43.7 37.6h1.9M32.3 7.2h1.9M15.2 37.6h1.9M30.4 2.4h1.9M43.7 .8h1.9M26.6 32.8h1.9M15.2 4h1.9M9.5 37.6h1.9M11.4 36h1.9M34.2 26.4h1.9M34.2 20h1.9M34.2 39.2h1.9M41.8 21.6h1.9M39.9 18.4h1.9M3.8 36h1.9M9.5 2.4h1.9M26.6 45.6h1.9M41.8 13.6h1.9M7.6 24.8h1.9M5.7 26.4h1.9M30.4 28h1.9M20.9 28h1.9M17.1 2.4h1.9M41.8 31.2h1.9M13.3 32.8h1.9M28.5 18.4h1.9M49.4 34.4h1.9M45.6 21.6h1.9M13.3 44h1.9M11.4 39.2h1.9M3.8 15.2h1.9M13.3 40.8h1.9M26.6 12h1.9M36.1 13.6h1.9M45.6 12h1.9M38 18.4h1.9M36.1 29.6h1.9M47.5 42.4h1.9M22.8 10.4h1.9M41.8 37.6h1.9M24.7 21.6h1.9M9.5 8.8h1.9M47.5 2.4h1.9M20.9 37.6h1.9M36.1 2.4h1.9M20.9 13.6h1.9M15.2 21.6h1.9M17.1 7.2h1.9M0 29.6h1.9M34.2 18.4h1.9M1.9 26.4h1.9M19 21.6h1.9M5.7 15.2h1.9M11.4 8.8h1.9M15.2 10.4h1.9M24.7 12h1.9M30.4 39.2h1.9M26.6 24.8h1.9M41.8 26.4h1.9M26.6 20h1.9M34.2 16.8h1.9M49.4 31.2h1.9M43.7 24.8h1.9M7.6 18.4h1.9M49.4 7.2h1.9M19 32.8h1.9M1.9 42.4h1.9M1.9 34.4h1.9M5.7 .8h1.9M45.6 37.6h1.9M39.9 5.6h1.9M15.2 8.8h1.9M47.5 12h1.9M7.6 31.2h1.9M34.2 34.4h1.9M49.4 10.4h1.9M49.4 12h1.9M41.8 15.2h1.9M22.8 42.4h1.9M49.4 31.2h1.9M39.9 45.6h1.9M17.1 45.6h1.9M7.6 23.2h1.9M26.6 2.4h1.9M43.7 28h1.9M1.9 .8h1.9M47.5 34.4h1.9M1.9 2.4h1.9M11.4 12h1.9M7.6 5.6h1.9M49.4 7.2h1.9M0 8.8h1.9M47.5 2.4h1.9M13.3 12h1.9M3.8 8.8h1.9M39.9 37.6h1.9M38 15.2h1.9M38 12h1.9M20.9 2.4h1.9M5.7 39.2h1.9M36.1 36h1.9M24.7 24.8h1.9M43.7 40.8h1.9M5.7 24.8h1.9M3.8 10.4h1.9M26.6 10.4h1.9M0 12h1.9M36.1 36h1.9M30.4 20h1.9M3.8 8.8h1.9M47.5 20h1.9M39.9 13.6h1.9M43.7 34.4h1.9M13.3 26.4h1.9M20.9 42.4h1.9M11.4 12h1.9M38 34.4h1.9M36.1 20h1.9M45.6 31.2h1.9M15.2 37.6h1.9M26.6 23.2h1.9M47.5 26.4h1.9M7.6 20h1.9M5.7 18.4h1.9M11.4 18.4h1.9M36.1 42.4h1.9M17.1 16.8h1.9M3.8 36h1.9M22.8 42.4h1.9M20.9 44h1.9M47.5 2.4h1.9M34.2 31.2h1.9M30.4 4h1.9M39.9 2.4h1.9M22.8 20h1.9M9.5 12h1.9M41.8 37.6h1.9M43.7 21.6h1.9M36.1 31.2h1.9M49.4 39.2h1.9M9.5 23.2h1.9M39.9 13.6h1.9M3.8 2.4h1.9M36.1 16.8h1.9M36.1 21.6h1.9M30.4 20h1.9M0 16.8h1.9M26.6 10.4h1.9M32.3 8.8h1.9M17.1 34.4h1.9M45.6 16.8h1.9M0 42.4h1.9M20.9 31.2h1.9M39.9 24.8h1.9M19 45.6h1.9M17.1 32.8h1.9M24.7 23.2h1.9M17.1 31.2h1.9M26.6 39.2h1.9M36.1 21.6h1.9M49.4 23.2h1.9M39.9 39.2h1.9M28.5 8.8h1.9M26.6 42.4h1.9M36.1 12h1.9M13.3 40.8h1.9M7.6 44h1.9M9.5 44h1.9M30.4 16.8h1.9M41.8 45.6h1.9M49.4 5.6h1.9M11.4 31.2h1.9M43.7 18.4h1.9M43.7 31.2h1.9M19 2.4h1.9M19 42.4h1.9M28.5 40.8h1.9M24.7 28h1.9M49.4 31.2h1.9M9.5 29.6h1.9M15.2 18.4h1.9M19 4h1.9M38 37.6h1.9M32.3 40.8h1.9M15.2 36h1.9M3.8 31.2h1.9M34.2 12h1.9M47.5 .8h1.9M13.3 32.8h1.9M36.1 5.6h1.9M0 5.6h1.9M7.6 36h1.9M3.8 32.8h1.9M11.4 4h1.9M15.2 26.4h1.9M1.9 20h1.9M9.5 24.8h1.9M41.8 12h1.9M3.8 7.2h1.9M43.7 16.8h1.9M47.5 44h1.9M28.5 37.6h1.9M39.9 16.8h1.9M32.3 2.4h1.9M11.4 20h1.9M1.9 45.6h1.9M3.8 8.8h1.9M1.9 10.4h1.9M19 24.8h1.9M39.9 4h1.9M32.3 10.4h1.9M19 18.4h1.9M15.2 12h1.9M0 16.8h1.9M19 32.8h1.9M49.4 42.4h1.9M22.8 20h1.9M36.1 7.2h1.9M3.8 10.4h1.9M1.9 5.6h1.9M24.7 42.4h1.9M13.3 24.8h1.9M13.3 4h1.9M26.6 31.2h1.9M22.8 31.2h1.9M41.8 16.8h1.9M28.5 8.8h1.9M32.3 42.4h1.9M15.2 34.4h1.9M19 39.2h1.9M5.7 13.6h1.9M30.4 37.6h1.9M32.3 20h1.9M20.9 24.8h1.9M13.3 42.4h1.9M28.5 .8h1.9M36.1 8.8h1.9M47.5 20h1.9M3.8 24.8h1.9M15.2 40.8h1.9M43.7 34.4h1.9M28.5 39.2h1.9M15.2 45.6h1.9M34.2 31.2h1.9M13.3 18.4h1.9M49.4 4h1.9M36.1 36h1.9M26.6 .8h1.9M9.5 23.2h1.9M26.6 32.8h1.9M47.5 15.2h1.9M5.7 21.6h1.9M26.6 28h1.9M47.5 21.6h1.9M22.8 31.2h1.9M39.9 36h1.9M43.7 26.4h1.9M11.4 13.6h1.9M49.4 2.4h1.9M39.9 32.8h1.9M43.7 .8h1.9M9.5 8.8h1.9M34.2 34.4h1.9M28.5 28h1.9M9.5 34.4h1.9M39.9 13.6h1.9M19 12h1.9M43.7 45.6h1.9M20.9 40.8h1.9M49.4 44h1.9M26.6 16.8h1.9M1.9 28h1.9M38 23.2h1.9M0 7.2h1.9M34.2 34.4h1.9M0 13.6h1.9M45.6 .8h1.9M45.6 .8h1.9M9.5 29.6h1.9M0 24.8h1.9M17.1 2.4h1.9M36.1 37.6h1.9M34.2 34.4h1.9M11.4 20h1.9M9.5 45.6h1.9M9.5 28h1.9M3.8 31.2h1.9M11.4 16.8h1.9M1.9 16.8h1.9M9.5 10.4h1.9M38 16.8h1.9M49.4 2.4h1.9M47.5 40.8h1.9M38 45.6h1.9M39.9 34.4h1.9M0 32.8h1.9M28.5 21.6h1.9M47.5 32.8h1.9" stroke="#00058f" stroke-width="1.6"/></pattern><g clip-path="url(#sce)"><path d="M115.1 1289.5L112 1242.3L121.3 1192L115.8 1141.7L127.4 1110.2L130.5 1089.5L152.2 1107.1L183.1 1100.8L229.5 1094.5L268.1 1094.5L275.9 1116.5L279.7 1141.7L299.1 1154.2L322.2 1149.2L345.4 1159.3L368.6 1144.2L337.7 1179.4L278.2 1195.1L279.7 1223.4L260.4 1261.2L210.2 1280L175.4 1293.9z" fill="url(#pae)"/><path d="M132.9 1210.8L130.5 1154.2L140.6 1132.2L130.5 1092.6L138.3 1091.3L159.9 1125.9L183.1 1122.8L206.3 1138.5L237.2 1141.7L264.3 1157.4L275.9 1154.2L278.2 1192L260.4 1195.1L237.2 1182.5L206.3 1170L183.1 1163.7L171.5 1179.4L167.6 1214L183.1 1223.4L214 1217.1L244.9 1220.3L268.1 1236L256.5 1251.7L229.5 1245.4L198.6 1239.2L167.6 1229.7L144.4 1226.6z" fill="url(#pbe)"/><path d="M144.4 1204.6L142.9 1160.5L152.2 1141.7L169.2 1131.6L190.8 1138.5L198.6 1151.1L175.4 1154.2L162.2 1170L159.9 1201.4z" fill="url(#pce)"/><path d="M441.3 1202.7L455.2 1197L466 1188.8L461.4 1176.9L471.4 1184.4L474.5 1210.8L467.6 1232.9L449.8 1240.4L434.3 1236L418.9 1224.7L409.6 1213.4z" fill="url(#pbe)"/><path d="M249.6 1399.5L255 1375.6L278.2 1353L313.7 1326L340.8 1297.7L367.1 1263.7L396.4 1246.1L411.1 1214L417.3 1226.6L407.3 1254.9L380.2 1273.8L353.2 1302.1L326.1 1330.4L291.3 1355.5L268.1 1377.5L260.4 1399.5z" fill="url(#pbe)"/><g fill-rule="evenodd" filter="url(#sbe)"><path fill="#000096" d="M109.5 1430l2 .5 2-.5 2-1 11.5 0 2-.5 2-1 2 0 2-1.5 9.5 0 2 1.5 3.5 .5 8-.5 2-1.5 5.5 0 2-.5 2-1 2-.5 2-1.5 2 0 2-1.5 1.5 0 6-4.5 8 0 1.5 1.5 2 0 2 .5 2 0 2-.5 2 0 2-2 3.5 0 2-.5 2.5-2 .5-1.5 3-2 2 0 3.5-3.5 6 0 2-1.5 4 0 1.5-1.5 12 0 2-1 .5-3-2-1.5 0-8 2-1.5 0-3 2-1.5 0-1.5 2-2 0-12.5 4-3 0-1.5 1-1 2 0 .5-.5 0-2 1.5-.5 3.5 0 2-1.5 2-.5 1-.5 0-1.5 1-1 2 0 2-.5 .5-1.5 4-3.5 0-3 2-1.5 0-4.5 2-2 0-1.5 5-4 3.5 0 2 1 6-4 4 0 1.5-1.5 2 0 3-2.5 0-4.5 5-5 .5-1.5 0-4.5-2-1.5 1.5-1 2 0 1.5-1.5 2 0 2-2 6 0 21-17 2 0 2.5-.5 .5-1.5 0-3.5 3.5-3 0-1.5 2-1.5 0-5-2-1.5 0-1.5 6-5 0-1.5 3-2.5 4 0 2-1.5 2 0 1.5-1.5 2 0 2-1.5 2-.5 .5-2 2-1.5 0-1.5 1.5-1 2 0 1.5-1.5 2-.5 .5-1.5 2.5-1.5 0-6.5 1.5-1.5 .5-3 3.5-3.5 0-3 2-1.5 0-5 1.5-.5 2-1 .5-1.5 0-4.5 1-1 2 0 4-3.5 2 0 .5-.5 0-1.5 1.5-1 1.5 0 2 1.5 2 0 2 1.5 6 0 2-1.5 3.5 0 6-4.5 4 0 1.5-1.5 2 0 2-1.5 2 0 6.5-5.5 0-6.5-2-1.5 0-3-2-1.5 0-1.5-1.5-1.5 0-2-1-.5-2 0-1-1 0-1.5-3-2-1.5 0-1.5-1 0-1.5-2-2 0-9-1.5-2 0-7.5 1-1.5-1-2 0-3-4-3 0-3 2-2-.5-3-2.5-2-2 0-1.5-1.5-4 0-2 1.5-4 3-4 0-1.5-1.5-2 0-4-3-6 0-1.5 0-1 2-2 1.5 0 3-2 2 0 3-1 1-2 0-2 1.5-2 0-2 1.5-1.5 0-2 1.5-4 0-2 1.5-2 0-3.5 3.5-4 0-2 1.5-2 0-2 1.5-5.5 0-2 1.5-2 .5-.5 3.5-2 1.5 0 4.5-5.5 4.5-1.5 0-2 1.5-1 .5 0 1.5-2 1.5 0 1.5 2 1.5 0 2-3.5 3 2 1.5-.5 1.5 2 1.5-2 1.5 0 2-1 .5-4 0-2-1.5-1.5 0-2-1-2-.5-2 1.5-2 0-2 2-9.5 0-2-1.5-11.5 9-9.5 0-2 1.5-2-1.5-2 .5-2-1.5-2 0-2 1.5 0 8-2 1.5-.5 9.5 2 1.5 0 1.5 2 2 0 1.5-2 1.5 0 4.5-2 1.5 2 2 0 1.5-7.5 6 0 5 2 1.5-.5 9.5-7 5.5-2-1.5-3.5 0-2 1.5-6 0-2 1.5-2 0-1.5 1.5-2 0-8 6.5-2-1.5-3.5 0-2-1.5-2 .5-2 1-5.5 4.5-2 0-3 2.5 0 1.5-3 2.5-2 0-2 1.5-2 0-5.5 4.5-4 0-2 1.5-3.5 0-3 2.5 0 1.5-1 1-2 0-2 1.5-4 0-2 1.5-1.5-1.5-8 0-4-2.5-1.5-.5-6 0-2 1.5-2 0-4 3-1.5 0-2-1.5-11.5 0-2-1.5-2 0-2-1.5-6 0-3.5 3-1-1 0-1.5-1-1.5-2-.5-4-.5-4 1-1 3 0 8 0 104 1.5 1.5-1.5 1.5 0 17 0 2z"/><path fill="#0000cd" d="M109.5 1429.5l2 .5 2 0 2-1 11.5 0 4-1.5 2-.5 2-1 9.5 0 2 1 3.5 1 8-1 2-1 5.5-.5 4-1.5 2 0 2-1.5 2 0 2-1.5 1.5 0 6-5 8 0 1.5 1.5 2 0 2 1 6-1 2-1.5 3.5 0 2-.5 2.5-2 .5-1.5 3-2.5 2 0 3.5-3 6 0 2-1.5 4 0 1.5-2 12 0 1.5-.5 .5-3-2-1.5 .5-8 2-1.5 0-3 2-1.5 0-1.5 1.5-2 .5-12.5 3.5-3 0-1.5 1.5-1 2 0 .5-.5 0-2 1.5-1 3.5 0 2-1.5 2 0 .5-.5 0-1.5 1.5-1 2 0 2-1 .5-1 3.5-3.5 0-3 2-1.5 0-4.5 2-2 0-1.5 5.5-4.5 3.5 .5 2 .5 2-.5 4-3.5 4 0 1.5-1.5 2 0 2.5-2 0-4.5 4-3 2-3.5 0-4.5-2-1.5 1.5-1.5 2 0 1.5-1.5 2 0 2-1.5 6 0 21-17 2 0 2-1 .5-1 0-3.5 4-3 0-1.5 1.5-1.5 .5-5-2-1.5 0-1.5 5.5-5 0-1.5 3.5-2.5 4 0 2-1.5 2 0 1.5-2 2 0 2-1.5 1.5 0 .5-.5 .5-1.5 1.5-1.5 0-1.5 2-1.5 2 0 1.5-1.5 2-.5 .5-1 2-1.5 0-6.5 2-1.5 0-3 4-3.5 0-3 1.5-1.5 .5-5 1.5-1 1.5-.5 1-1.5-.5-4.5 1.5-1.5 2 0 4-3 2 0 0-2 2-1.5 1.5 .5 2 1.5 2 0 2 1.5 6 0 2-1.5 3.5-.5 6-4 4 0 1.5-2 2 0 2-1.5 2 0 6.5-5-.5-6.5-2-1.5 0-3-1.5-1.5 0-1.5-2-1.5 0-2-.5 0-2 0-1.5-1.5 0-1.5-2.5-2-1.5 0-1.5-1 0-1.5-2-2 0-9-2-2 0-7.5 1-1.5-1-2 0-3-4-3 0-3 2-2 0-1.5-2-3-2.5-.5-1.5-1.5-2 0-4 1.5-4 3.5-4 0-1.5-1.5-2-.5-4-3-7.5 .5-.5 1.5-2 1.5 0 3-2 2 0 3-1.5 1-2 0-2 1.5-2 0-2 2-1.5 0-2 1.5-4 0-2 1.5-2 0-3.5 3-4 0-2 1.5-2 0-2 1.5-5.5 .5-2 1.5-1.5 0-.5 1-.5 2.5-2 1.5 0 4.5-5.5 4.5-1.5 0-2 1.5-.5 2-2 1.5 0 1.5 2 1.5 0 2-2 1.5-1 1.5 1 1.5 0 1.5 2 1.5-2 1.5 0 2-1.5 1-4 0-2-1.5-1.5 0-2-1.5-2 0-2 1.5-2 0-2 1.5-9.5 0-2-1-2 1-9.5 7.5-9.5 .5-2 1.5-2-1.5-4-.5-4 .5 .5 8-1.5 3 0 3.5-1 1.5 0 3 2 1.5 0 1.5 2 2 0 1.5-2 1.5 0 4.5-2 1.5 2 2 0 1.5-7.5 6 0 5 1.5 1.5 0 9.5-7.5 5.5-2-1.5-3.5 0-2 1.5-6 0-2 2-2 0-1.5 1.5-2 0-8 6-2-1.5-3.5 0-2-1.5-1.5 .5-2.5 1-5.5 5-2 0-2.5 2-.5 1.5-3 2.5-2 0-2 1.5-2 0-5.5 5-4 0-2 1.5-3.5 0-3 2 0 1.5-1 1-2 0-2 1.5-4 0-2 1.5-1.5-1.5-8 0-2-1.5-3.5-1.5-6 .5-2 1.5-2 0-4 3-1.5 0-2-1.5-11.5 0-2-1.5-2-.5-2-1.5-6 0-3.5 3-1.5-1 0-1.5-1-1.5-1.5-.5-4 0-4 1-.5 2.5-.5 8 0 104 2 1.5-2 1.5 0 15.5 0 3.5z"/><path fill="#0000ff" d="M111.5 1430l4-1 11.5-.5 4-1.5 2 0 2-1.5 9.5 0 2 1.5 5.5 .5 6-.5 2-1.5 5.5 0 4-1.5 2 0 2-1.5 2 0 2-1.5 1.5-.5 6-4.5 8 0 1.5 1.5 4 .5 6-.5 2-1.5 3.5 0 4-2 .5-2 3.5-2.5 2 0 3.5-3 6-.5 2-1.5 4 0 1.5-1.5 12 0 1.5-1.5 .5-2-2-1.5 0-8 2-1.5 0-3 2-1.5 0-1.5 2-2 0-12.5 4-3 0-1.5 1.5-1.5 2.5 0 0-2 1.5-1 3.5 0 2-1.5 2 0 .5-2 1.5-1 2 0 2-1 0-1 4-3.5 0-3 2-1.5 0-4.5 2-2 0-1.5 5.5-4.5 5.5 .5 2-.5 4-3 4 0 1.5-1.5 2 0 2-2 .5-4.5 3.5-3 .5-2 1.5-1.5 0-4.5-2-1.5 2-1.5 2 0 1.5-1.5 2 0 2-1.5 6-.5 21-17 3 0 1.5-1.5-.5-3.5 4-3 0-1.5 2-1.5 0-5-2-1.5 0-1.5 6-5 0-1.5 3.5-3 4 0 2-1.5 2 0 1.5-1.5 2 0 1-1.5 3-1.5 2-2 0-1.5 2-4.5 2-1.5 1.5-1 2 1 2 0 .5-6.5 1.5-1.5 0-3 4-3.5 0-3 2-1.5 0-5 3.5-2 .5-1 0-4.5 1.5-1.5 2 0 4-3.5 1 0 0-1.5-3-1.5-2-.5-4 .5-1.5-1-1-.5-.5-1.5 1-1.5 4-.5 6-2 2 0 1 .5 1 2-1 3 0 1.5 2.5 0 2 1.5 2 0 2 1.5 5.5 0 2.5-1.5 3 0 2.5-1.5 4-3 4 0 1.5-1.5 2 0 2-1.5 2 0 6-5 0-6.5-2 0-1-1.5 1-.5 0-2.5-2-1.5 0-1.5-2-1.5 0-2-2 0-1.5-1.5 0-1.5-2.5-1.5-1.5 0-2-1.5 0-1.5-2-2 0-9-2-2 .5-7.5 .5-1.5-1-2 .5-3-4-3 0-3 2-2-.5-1.5-1-1.5-.5-1.5-2.5 0-1.5-2-3 .5-1 1-2 .5-4 3 0 1.5-4 1.5-1.5-1.5 2.5-1.5-1 0-1.5-1.5-2 0-4-3.5-6.5 .5-3.5 3 0 3-2 2 0 3-1.5 1.5-2 0-2 1.5-2 0-2 1.5-1.5 0-2 1.5-4 0-2 1.5-2 0-3.5 3.5-4 0-2 1.5-2 0-2 1.5-5.5 0-2 1.5 0 1.5-1 2-3 1.5 0 4.5-4 3 0 2-1 1.5-1 0-3.5 0-.5 1.5-2 1.5 0 1.5 2 1.5 0 2-2 1.5 0 1.5 .5 3 1.5 1.5-2 1.5 0 2-1.5 1-4 0-2-1.5-1.5 0-4-1.5-2 1.5-2 0-2 1.5-13.5 .5-9.5 7.5-9.5 0-2 1.5-1.5 .5-.5 2-1.5 1-1 1.5 0 3-.5 1.5-1.5 2-1 4.5-4.5 1.5 2 1.5 0 2 2 .5 4-.5 2 .5 1 1 .5 1.5-1.5 2-1.5 1-1 1.5-.5 3-1 1.5-2 .5-.5 4.5 0 1.5 .5 2 4 .5 2 1 .5 1.5-.5 3.5-2 2.5-2 0-2.5-1.5-1.5-3-2-1.5-1.5 1.5-2 2.5-.5 8.5-7.5 6-2-1.5-3.5 0-2 1.5-6 0-2 1.5-2 0-1.5 1.5-2 0-8 6.5-2-1.5-3.5 0-2-2-1 .5-3 1-5.5 5-2 0-2.5 2 0 1.5-3.5 2.5-2 0-2 1.5-2 .5-5.5 4.5-4 0-2 1.5-3.5 0-2.5 2 0 1.5-1.5 1.5-2 0-2 1.5-4 0-2 1.5-1.5-1.5-8 0-2-1.5-3.5-1.5-6 0-2 1.5-2 0-4 3-1.5 0-2-1.5-11.5 0-2-1.5-2 0-2-1.5-6 0-3.5 3-1.5-1.5-.5-2.5-2-1-6 .5-2 1-.5 2 0 8-.5 104 2 1.5-2 1.5 0 17 0 2 3 3zM341 1286.5l.5-1.5 2 .5 .5 1-.5 1.5-2-.5zM390.5 1187.5l-.5-2 1-1.5 6.5-5.5 6 0 6-4 .5 2-8.5 6-6 3.5-3.5 1.5zM363.5 1160.5l-1-1.5 .5-2 2-.5 1.5 .5 2 2-2 1.5-1.5 .5z"/><path fill="#0018ff" d="M111.5 1430l4-1 11.5-.5 6-1.5 2-1.5 9.5 0 2 1.5 5.5 .5 6-.5 2-1.5 5.5 0 4-1.5 2-.5 2-1 2 0 2-1.5 1.5-.5 6-4.5 8 0 1.5 1.5 4 .5 6-.5 2-1.5 4.5-.5 3-2 .5-1.5 3.5-2.5 2 0 3.5-3.5 6 0 2-1.5 4 0 1.5-1.5 7.5-.5 2-4.5 2.5-1.5 0-6.5 2-1.5 0-3 2-1.5 0-1.5 1.5-2 .5-12.5 4-3 0-1.5 1.5-1.5 2 0 0-2 2-1 3.5-.5 2-1.5 2 0 0-1.5 2-1.5 2.5 0 5-5 .5-3 1.5-2.5 0-3.5 2-2 0-1.5 2-1.5 1-1.5-1.5-1.5 0-1.5 .5-.5 2-1.5 4 1 1.5 0 2.5 1-1.5 1.5 3 0 4-3 1 0 1-3.5 2-2.5 1.5 1 3 0 0-1.5-1.5-1.5 2.5-5 .5-1.5-2.5-2-2-1-1.5 1-2 2 1 6.5-1 1.5-4-1-.5-.5 .5-2.5 1.5-4-1-3 1-1.5 .5-.5 2 .5 2 1 1.5 0 .5-1 3-5 0-1.5-.5-3 1-1.5 2-1.5 4-1.5 2 1.5-5 4.5-.5 1.5 .5 1.5 2 2 3 0 1.5-2 2 0 2-1.5 1 0-.5-1.5 1.5-3-2-6.5-3-3 0-1.5 .5-1.5 4.5-3.5 2-3 4-.5 2 1 5.5 .5 2.5-1 0-1.5-2.5-2-2 0-3.5 2-1.5-1.5-.5-3 .5-2 1.5-.5 1.5 0 4 2 1.5-1.5 .5-3 3.5-3-1-3.5 0-1.5 3.5-4.5 1.5-1.5 4 .5 1.5 1 2.5 3 6 3.5 1.5-.5 .5-1.5 3.5-3 4 0 0-1.5-4 0-2-1.5 0-1.5 1-2 .5-1.5 0-1.5-.5-1.5-3-1-1.5-1.5-1-2 .5-2 2-1 6 .5 1.5-1-2.5-4.5 1-2 2-2 2-.5 3.5 0 4-5 2-.5 2 0 1.5 .5 1 1.5 1 3 4 5 4-5-1.5-3 .5-1.5 2-1.5 5-1.5 0-3.5 4-3-.5-4-3 1-2 3-6.5 4-2 .5-2-.5-.5-1 .5-1 2-1.5 1-2 4-4.5 0-2-1-1.5 0-2 2.5-1 1-3 1.5-1.5 3-2.5 1.5-1 4-.5 5.5-2.5 .5-1.5-.5-1.5-1.5-1.5 0-2 1.5-1.5 6 3 1.5-1.5 .5-1.5 2-1.5 1 1.5 0 3.5 3.5 4.5 7 3.5 2 .5 1-2.5 3-3 2 .5 2 1 1 1.5-1 3-2 2-2 0-2 0-1 1.5-.5 1.5 1.5 0 2-1.5 4 0 1.5-1.5 2 0 2-1.5 2 0 6-5 0-2.5-4 0-6-3.5-2 0-1.5 .5-4 4-4-2-1-1-1-3.5 6-.5 7.5-6.5 4-2.5-2 0-2-1.5 0-1.5-2-1.5-1.5 0-2-1.5 0-1.5-8 0-3.5 .5-2-.5 0-2-2-1-2 .5-8 4.5-1.5 0-1-.5-1.5-3.5-2.5-3 1-1.5 2.5 3 1.5 1 1.5 .5 2 0 2-1.5 1.5-1.5 0-1.5-1-1.5-2.5-2-2-1-1.5 .5-3.5 2.5-.5 1.5-2-1.5-2-.5-2 0-.5 .5-1 1.5 .5 3-1 1-3.5 .5-6-.5-.5 2.5 1 1.5 2 1.5 1.5 2 2-1 .5-1 3-2.5 2 .5 2 1.5 1 2 .5 1.5-3.5 5-7.5 5.5-11.5 5.5-4 1.5-6 1-7.5 3.5-8 .5-1.5-.5 .5-1.5 3-1.5 1.5-1.5 .5-1.5-.5-1.5-1.5-2-5.5-1-5-2-1-1.5 11-8 0-1.5-1.5-.5-3.5-5-2-.5-2 .5-2.5 4-3 1.5-4 1-2-1-2 0 0 1.5 2 1.5 0 2.5 2 4 0 1.5-4 3 0 2-2 1-4 0-2-1.5-4 .5 1 4.5-.5 1.5-6-1-3 1-2 1.5 0 1.5 3 2 4 .5 6.5-2.5 5-2.5 6-2 3.5 0 1.5 1.5-1 1.5-3 1.5-.5 2 .5 1.5 2 3 1.5 4.5 4 3.5-1 1-5.5 1.5-2 1.5-2.5 3.5-5.5 3-2 2.5-1.5 1-1-1.5 1.5-5-.5-1.5-2-2.5-3.5-2 3.5-5 1-1.5-1-1-8 1-2 1-.5 .5 .5 2 3 3-6.5 3-2-.5-1-1-1-1.5 .5-3-4-9.5 .5-1.5 0-2-3-1-2 1-1-1.5-.5 0-2 0-2 1.5-10 0 1 5-1 3 2 1 12-8.5 1.5 0 2.5 3-2.5 4.5 1.5 5-.5 1.5-4.5 1.5-8.5 6-1 2-1.5 6 3.5 1.5 7.5 1.5 2-.5 3.5-1.5 1.5 .5 .5 1.5-5.5 3-2 3.5-2 .5-2 0-1.5 1 1 1.5 2 1.5 .5 2-9.5 3-1.5 3-2.5 2.5-2 .5-2 0-4-3-2-.5-1 .5-1.5 1.5-1 3 0 2-8 6-2-1.5-3.5 0-2 1.5-6 0-2 1.5-2 0-1.5 1.5-2 0-8 6.5-2-1.5-3.5 0-2-1.5-2 1-2 .5-5.5 4.5-2 0-2 1.5-.5 2-3.5 3-2 0-2 1.5-2 0-5.5 4.5-4 0-2 1.5-3.5 0-2.5 2 0 1.5-1.5 1.5-2 0-2 1.5-4 0-2 1.5-1.5-1.5-8 0-2-1.5-2 0-1.5-1.5-2.5 0 0 1.5-1.5 1.5-4 1-4-1-2 1.5-1.5 0-2-1.5-13.5 .5-4-3.5-6 0-3.5 3-2-1.5 0-2-1.5-1-6.5 0-2 1.5 0 1.5-.5 8-.5 104 2 1.5-2 1.5 0 15.5 .5 3.5 2.5 3zM324.5 1233l-4-3.5-.5-1.5 0-3 2-1.5 6 3 6 .5 1.5 2.5 0 2-1.5 1.5-2 .5-4 .5zM341.5 1295l2-1 1.5-1.5-3.5-.5-2 0-.5 .5 1 1.5zM349.5 1289.5l3.5-3 2.5 0 1.5-2-2-1-2 0-3.5 2-1 1-.5 1.5-.5 1.5zM355 1282.5l3-4 .5-1.5-1-1.5-2.5-1.5-2 0-2 1.5-.5 1.5 0 1.5 .5 1.5zM378.5 1250.5l1.5 .5 2.5-1 2-1.5 .5-1.5 0-3-.5-6.5-.5-1.5-2-1.5-2 .5-2.5 2.5-1 1.5 .5 3.5-1 3zM428.5 1203.5l2 0 2-.5 .5-1.5-2.5-1.5-2 .5-1 1 .5 1.5zM424.5 1196l2 .5 2-.5 1-2.5-3-3-2 0-2.5 1.5 0 1.5zM380 1187.5l2 .5 2.5-2.5 1.5-6 2-1.5-1.5-6.5-3-3-.5-1.5 1.5-3.5 3.5-3 2-2.5 2 0 5.5 3.5 2 .5 2-.5 4.5-4 2-3.5 1-1 6-1 4-2.5 2.5 0 1-.5 1.5-1-2-1.5-5-1.5 0-2 1.5-3 0-1.5-3-9.5 1-1.5-1.5-1.5-4 0-3.5 3.5-2 .5 0 2-2 2 0 3-2 1.5-2 0-2 1.5-2 0 0 1.5 2 1 4-1 2-.5 1 .5 1 1.5 0 2-1 1.5-1 .5-4 0-3.5 2.5-.5 1-.5-4-1.5-1.5-1.5-3-2 1-4 0-1 2 6.5 6 0 1.5-1.5 1-2 0-4-3-2-.5-5.5 0-7.5 1-.5 1.5 4 1 4 2 3.5 .5 1.5 1.5-1.5 .5-3.5 0-2 1.5-2 2.5 0 1.5 0 1.5 2 3 2.5 2 .5 1.5-1 4-1.5 2.5-4 3 0 1.5 3.5 1.5zM390 1179.5l2 0 1-1.5 .5-3.5-4.5 2-1 1.5zM442 1155.5l2-1 0-5-3 3-.5 1.5zM432.5 1153l2 .5 2-1 .5-1.5-2-3 1-1.5 4-1 3.5 2.5 .5 1 0-9-4-3 0-2-3.5 .5-6 2.5-6 0 0 .5 4 .5 3 7.5-4 1.5-2 1.5 2 1.5zM432.5 1129.5l4 0 1-.5 .5-1.5-1.5-1.5-2.5 0-1.5 1.5-2 0z"/></g><path fill-rule="evenodd" d="M109.5 1430l2 .5 2-.5 2-1 11.5 0 2-.5 2-1 2 0 2-1.5 9.5 0 2 1.5 3.5 .5 8-.5 2-1.5 5.5 0 2-.5 2-1 2-.5 2-1.5 2 0 2-1.5 1.5 0 6-4.5 8 0 1.5 1.5 2 0 2 .5 2 0 2-.5 2 0 2-2 3.5 0 2-.5 2.5-2 .5-1.5 3-2 2 0 3.5-3.5 6 0 2-1.5 4 0 1.5-1.5 12 0 2-1 .5-3-2-1.5 0-8 2-1.5 0-3 2-1.5 0-1.5 2-2 0-12.5 4-3 0-1.5 1-1 2 0 .5-.5 0-2 1.5-.5 3.5 0 2-1.5 2-.5 1-.5 0-1.5 1-1 2 0 2-.5 .5-1.5 4-3.5 0-3 2-1.5 0-4.5 2-2 0-1.5 5-4 3.5 0 2 1 6-4 4 0 1.5-1.5 2 0 3-2.5 0-4.5 5-5 .5-1.5 0-4.5-2-1.5 1.5-1 2 0 1.5-1.5 2 0 2-2 6 0 21-17 2 0 2.5-.5 .5-1.5 0-3.5 3.5-3 0-1.5 2-1.5 0-5-2-1.5 0-1.5 6-5 0-1.5 3-2.5 4 0 2-1.5 2 0 1.5-1.5 2 0 2-1.5 2-.5 .5-2 2-1.5 0-1.5 1.5-1 2 0 1.5-1.5 2-.5 .5-1.5 2.5-1.5 0-6.5 1.5-1.5 .5-3 3.5-3.5 0-3 2-1.5 0-5 1.5-.5 2-1 .5-1.5 0-4.5 1-1 2 0 4-3.5 2 0 .5-.5 0-1.5 1.5-1 1.5 0 2 1.5 2 0 2 1.5 6 0 2-1.5 3.5 0 6-4.5 4 0 1.5-1.5 2 0 2-1.5 2 0 6.5-5.5 0-6.5-2-1.5 0-3-2-1.5 0-1.5-1.5-1.5 0-2-1-.5-2 0-1-1 0-1.5-3-2-1.5 0-1.5-1 0-1.5-2-2 0-9-1.5-2 0-7.5 1-1.5-1-2 0-3-4-3 0-3 2-2-.5-3-2.5-2-2 0-1.5-1.5-4 0-2 1.5-4 3-4 0-1.5-1.5-2 0-4-3-6 0-1.5 0-1 2-2 1.5 0 3-2 2 0 3-1 1-2 0-2 1.5-2 0-2 1.5-1.5 0-2 1.5-4 0-2 1.5-2 0-3.5 3.5-4 0-2 1.5-2 0-2 1.5-5.5 0-2 1.5-2 .5-.5 3.5-2 1.5 0 4.5-5.5 4.5-1.5 0-2 1.5-1 .5 0 1.5-2 1.5 0 1.5 2 1.5 0 2-3.5 3 2 1.5-.5 1.5 2 1.5-2 1.5 0 2-1 .5-4 0-2-1.5-1.5 0-2-1-2-.5-2 1.5-2 0-2 2-9.5 0-2-1.5-11.5 9-9.5 0-2 1.5-2-1.5-2 .5-2-1.5-2 0-2 1.5 0 8-2 1.5-.5 9.5 2 1.5 0 1.5 2 2 0 1.5-2 1.5 0 4.5-2 1.5 2 2 0 1.5-7.5 6 0 5 2 1.5-.5 9.5-7 5.5-2-1.5-3.5 0-2 1.5-6 0-2 1.5-2 0-1.5 1.5-2 0-8 6.5-2-1.5-3.5 0-2-1.5-2 .5-2 1-5.5 4.5-2 0-3 2.5 0 1.5-3 2.5-2 0-2 1.5-2 0-5.5 4.5-4 0-2 1.5-3.5 0-3 2.5 0 1.5-1 1-2 0-2 1.5-4 0-2 1.5-1.5-1.5-8 0-4-2.5-1.5-.5-6 0-2 1.5-2 0-4 3-1.5 0-2-1.5-11.5 0-2-1.5-2 0-2-1.5-6 0-3.5 3-1-1 0-1.5-1-1.5-2-.5-4-.5-4 1-1 3 0 8 0 104 1.5 1.5-1.5 1.5 0 17 0 2z" fill="url(#pwe)"/><g fill-rule="evenodd" filter="url(#sbe)"><path fill="#0040ff" d="M111.5 1430l4-1.5 11.5 0 6-1.5 2-1.5 9.5 0 2 1.5 3.5 .5 8-.5 2-1.5 5.5 0 6-2 2-1 2 0 2-2 1.5 0 6-4.5 8 0 1.5 1.5 10-.5 2-1.5 4 0 3.5-2.5 .5-1 3.5-2.5 2-.5 3.5-3 6 0 2-1.5 2 0-2-2 1.5-1.5 2.5 0 3.5 1 2-.5 1.5-2 .5-3 1-1.5 1-1 4-2 0-2 2-1.5 0-3 1.5-1.5 0-1.5 2-4 .5-10.5 3.5-3 0-1.5 2-1.5 2 0 0-2 2-1.5 1.5-.5 2-2.5 2-1.5 6-.5 2-1 1.5-1.5 1-3.5 0-4.5 1.5-5 3-3-1-4.5 1.5-1.5 2-1.5 2-.5 4-.5 1-1 .5-6 2-1 1.5-2.5-.5-4.5 .5-1.5 4.5-4.5 2 0 2 .5 1-1 0-3 .5-1.5 4.5-6.5 .5-1.5-1.5-3 0-1.5 4.5-7.5 2-2 2-1 1.5 0 8-3.5 2-3.5 2-2 3-1-.5-1.5-1-1.5 0-2 1-1.5 1-2 6.5-2.5 3.5-6.5 2-1 1.5 0 2 .5 4 2 2 0 2-1.5 .5-1.5-1-4.5 .5-5 5.5-4 4-8.5 6.5-3 1-3 2-2 1.5 0 2.5 2 2 .5 1-.5 .5-2 0-1.5-1.5-3 1-1.5 3-1.5 3.5 0 3-1.5 0-5 1-2 6.5-6 9.5-6 1.5-6.5 2-1.5 4.5-1.5 .5-1.5 0-3 .5-2.5 2-1 2 0 2-1 .5-2-.5-.5-2 0-4 2.5-1.5-.5-2 .5-2 1-1.5 1.5-.5 2-1 3-1 .5-4 1.5-3.5 3-12 5.5-7.5 3-11.5 5-5.5 .5-4 1.5 0 1.5 6 1.5-.5 1.5-5 3-2 5-.5 1-4 1-6 .5-2.5 .5-1.5 1.5-1.5 3.5-5.5 3-3 4.5-1 3.5-2 2-2 1.5-2 1-4 1-6-.5-5.5-1.5-4 .5-2 1-2.5 2.5-1 1.5 .5 2 2 3 0 1.5-2.5 1.5-2 .5-2-.5-2-1.5-2 .5-2.5 2.5-5 3-2 1-6 1-3 4.5-2.5 1-2 0-2-2.5-2 0-2 1.5-2 4-2 1.5-3 1-2.5 2.5-2.5 .5-3.5-1.5-4-3-3.5 0-4 3-2 2.5-2 .5-5.5 0-4-1-2 .5-4 5-1.5 .5-4 .5 0 1-4 3-2 0-2 1.5-2 0-5.5 5-4 0-2 1.5-3.5 0-2 1.5 0 1.5-2 1.5-4 1.5-4 0-2 1.5-1.5-1.5-4 0-2 2.5-4-1-11.5 1-13.5-1-6 .5-3.5 1-6-3-2-.5-3.5-.5-2 1-2-1.5 0-1.5-2-1.5-4.5 0-3.5 2-.5 9-.5 104 2 1.5-2 1.5 .5 17 0 2 2.5 2.5zM156 1308.5l-1-1.5-.5-2 1.5-1.5 4-1 2 1 .5 1.5-.5 .5zM206 1286.5l1-1.5 1-1 2 0 .5 1 0 1.5-.5 .5-2 1zM310.5 1219l1-.5 1-1.5-2-1.5-2 .5-.5 1zM359 1194.5l2.5-2.5 .5-1.5-.5-1.5-4.5-1.5-4-2.5-2 0-3 2.5 .5 1.5 6.5 1 2 3.5zM339.5 1191.5l2-.5 2-.5 1-1.5-6.5 0 0 1.5zM436.5 1190l1-1 0-1.5-1-2-2 0-.5 2 .5 1zM442 1177l2-1 1.5-1.5 .5-1.5-.5-1.5-2-1.5-3.5 0-2.5 1.5-.5 1.5 1 2zM378.5 1166l1.5-2.5-1-1.5-.5-.5-2 .5-1 1.5 1 1.5zM436.5 1142l1.5-.5 1.5-1.5-1-1.5-2.5 1.5z"/><path fill="#0068ff" d="M111.5 1429.5l4-1 11.5 0 6-2 2-1 9.5 0 2 1 3.5 1 8-.5 2-1.5 5.5 0 6-2 2-1.5 2 0 2-1.5 1.5 0 6-4.5 8-.5 1.5 1.5 10 0 2-1.5 4 0 7.5-6.5 2 0 6.5-6.5 3-4.5 2-1.5 5.5 2 2-.5 1-3 0-3.5-3-3 0-1.5 2-1.5 4 1.5 4-2.5 3.5-2 2-4.5 2-3-1-4 0-1.5 2-4.5 2-1.5 2.5-5 3-1.5 1.5-1.5 1.5-3.5 2-1.5 6.5-1.5 2.5-1.5 0-1.5-1-1.5-6-2-.5-1 .5-1.5 4-2 1-1.5 4-7.5 .5-1 4-.5 4-2.5 3.5-1 .5-1.5 0-1-2.5-2-.5-1.5 0-3.5 1-.5 2-1 2.5-3 4-3 1.5-2 1.5-5.5 2-1 3.5-1 1.5-1.5 .5-2 0-1.5-2-3 .5-2 .5-1 3-2 1.5-1.5 4.5-7 2-2 5-2 1-1.5-1-3 0-1.5 .5-2.5 2-1.5 2-.5 4-.5 2-1 1-3.5 1-1.5 1.5-1 4-1.5 5-4 9-6 1-2 1.5-3 1-1.5 4-1.5 1.5-1.5 4-8 5.5-3 4.5-5.5 7.5-5.5 7-3.5 3-6 1.5-2 8-5.5 5.5-5 .5-1.5-.5-2.5-2-.5-15.5 7.5-5.5 2-7 4.5-3 3-10 8-2 4.5-2.5 1.5-10.5 3-2 3.5-7 4.5-8 8.5-8 5.5-6 2.5-3.5 3-3 4-1 1-2 .5-4-.5-3 .5-2 2 .5 1.5 2 1.5 0 1.5-1.5 1.5-3.5 1.5-2-1.5-2-1-2 .5-3.5 1.5-8 1-5.5 2.5-4 0-2 .5-2 1.5-1 1.5 1 1 4 1.5 4-3 .5 2-.5 1.5-4 1-2 1.5-2 1-2 0-3.5-3-2 0-3 1 0 2 3.5 6-.5 2-4-1.5-6-.5-.5-1.5 3-6.5-1-1.5-5-3.5-2 0-1 .5 0 3-3 1.5-7.5 1-6-.5-2 1.5-2 4.5-5 0-5 3-1 5-2.5 3-2 1.5-2-.5-5.5-1.5-4 .5-5 1.5-3 5-1.5 .5-4 .5-1.5 .5-1.5 1.5 0 1.5-.5 3 1.5 3.5-1 1.5-1 .5-3.5-.5-2 1-2.5 2-.5 3-1 .5-2 0-5.5-2-2 .5-2 1.5-2 .5-2-1-4-3-.5-1.5-.5-3 0-2 1-1.5 7.5-4.5-23-1.5-3.5 1-8-2.5-12-2-1.5-1-1-2-1 0-2 1 0 8.5-.5 104 2 1.5-2 1.5 0 17 0 2 2.5 2.5zM137.5 1308.5l0-1.5 1-2 2-.5 2 0 1 .5 .5 2-1.5 2-2 .5zM222.5 1283l1-1 2-1 2 2-2 1.5-2 0zM164 1301l1.5 .5 2-1-2-2-3.5 .5z"/></g><path fill-rule="evenodd" d="M111.5 1430l4-1.5 11.5 0 6-1.5 2-1.5 9.5 0 2 1.5 3.5 .5 8-.5 2-1.5 5.5 0 6-2 2-1 2 0 2-2 1.5 0 6-4.5 8 0 1.5 1.5 10-.5 2-1.5 4 0 3.5-2.5 .5-1 3.5-2.5 2-.5 3.5-3 6 0 2-1.5 2 0-2-2 1.5-1.5 2.5 0 3.5 1 2-.5 1.5-2 .5-3 1-1.5 1-1 4-2 0-2 2-1.5 0-3 1.5-1.5 0-1.5 2-4 .5-10.5 3.5-3 0-1.5 2-1.5 2 0 0-2 2-1.5 1.5-.5 2-2.5 2-1.5 6-.5 2-1 1.5-1.5 1-3.5 0-4.5 1.5-5 3-3-1-4.5 1.5-1.5 2-1.5 2-.5 4-.5 1-1 .5-6 2-1 1.5-2.5-.5-4.5 .5-1.5 4.5-4.5 2 0 2 .5 1-1 0-3 .5-1.5 4.5-6.5 .5-1.5-1.5-3 0-1.5 4.5-7.5 2-2 2-1 1.5 0 8-3.5 2-3.5 2-2 3-1-.5-1.5-1-1.5 0-2 1-1.5 1-2 6.5-2.5 3.5-6.5 2-1 1.5 0 2 .5 4 2 2 0 2-1.5 .5-1.5-1-4.5 .5-5 5.5-4 4-8.5 6.5-3 1-3 2-2 1.5 0 2.5 2 2 .5 1-.5 .5-2 0-1.5-1.5-3 1-1.5 3-1.5 3.5 0 3-1.5 0-5 1-2 6.5-6 9.5-6 1.5-6.5 2-1.5 4.5-1.5 .5-1.5 0-3 .5-2.5 2-1 2 0 2-1 .5-2-.5-.5-2 0-4 2.5-1.5-.5-2 .5-2 1-1.5 1.5-.5 2-1 3-1 .5-4 1.5-3.5 3-12 5.5-7.5 3-11.5 5-5.5 .5-4 1.5 0 1.5 6 1.5-.5 1.5-5 3-2 5-.5 1-4 1-6 .5-2.5 .5-1.5 1.5-1.5 3.5-5.5 3-3 4.5-1 3.5-2 2-2 1.5-2 1-4 1-6-.5-5.5-1.5-4 .5-2 1-2.5 2.5-1 1.5 .5 2 2 3 0 1.5-2.5 1.5-2 .5-2-.5-2-1.5-2 .5-2.5 2.5-5 3-2 1-6 1-3 4.5-2.5 1-2 0-2-2.5-2 0-2 1.5-2 4-2 1.5-3 1-2.5 2.5-2.5 .5-3.5-1.5-4-3-3.5 0-4 3-2 2.5-2 .5-5.5 0-4-1-2 .5-4 5-1.5 .5-4 .5 0 1-4 3-2 0-2 1.5-2 0-5.5 5-4 0-2 1.5-3.5 0-2 1.5 0 1.5-2 1.5-4 1.5-4 0-2 1.5-1.5-1.5-4 0-2 2.5-4-1-11.5 1-13.5-1-6 .5-3.5 1-6-3-2-.5-3.5-.5-2 1-2-1.5 0-1.5-2-1.5-4.5 0-3.5 2-.5 9-.5 104 2 1.5-2 1.5 .5 17 0 2 2.5 2.5zM156 1308.5l-1-1.5-.5-2 1.5-1.5 4-1 2 1 .5 1.5-.5 .5zM206 1286.5l1-1.5 1-1 2 0 .5 1 0 1.5-.5 .5-2 1zM310.5 1219l1-.5 1-1.5-2-1.5-2 .5-.5 1zM359 1194.5l2.5-2.5 .5-1.5-.5-1.5-4.5-1.5-4-2.5-2 0-3 2.5 .5 1.5 6.5 1 2 3.5zM339.5 1191.5l2-.5 2-.5 1-1.5-6.5 0 0 1.5zM436.5 1190l1-1 0-1.5-1-2-2 0-.5 2 .5 1zM442 1177l2-1 1.5-1.5 .5-1.5-.5-1.5-2-1.5-3.5 0-2.5 1.5-.5 1.5 1 2zM378.5 1166l1.5-2.5-1-1.5-.5-.5-2 .5-1 1.5 1 1.5zM436.5 1142l1.5-.5 1.5-1.5-1-1.5-2.5 1.5z" fill="url(#pve)"/><g fill-rule="evenodd" filter="url(#sbe)"><path fill="#0094ff" d="M111.5 1429.5l4-1 11.5-.5 6-1.5 2-1 9.5 0 2 1 3.5 .5 8 0 2-1.5 5.5-.5 6-1.5 2-1.5 2 0 2-1.5 1.5 0 6-5 8 0 1.5 1.5 10 0 2-1.5 2 0-.5-2 2-1 4-.5 4-3 1 0 4-14 2-1.5 4.5-1.5 3.5-3.5 1.5-3 .5-5 1.5-1.5 2.5-1.5 4-1 2 .5 2 3 2 0 1.5-4-1-3 1.5-5-1-3 1-1.5 3.5-3.5 2-2 4-2.5 1-1.5 0-1.5-1.5-1.5-.5-2 .5-1.5 3.5-3 3.5-6.5 5-3 3-3 .5-3 0-5 1-1.5 2-1.5 5-2 1-1 .5-2-1-3 .5-1.5 10.5-6.5 1.5-1.5 1.5-7.5 1-1.5 2-1 2-2 1-5 .5-1.5 6-5 2.5-3 2-5 4.5-4.5 3.5-5 1-1 6-3 6-6 7-4 4.5-3.5 9.5-10 6-4 4.5-7.5 5-3 3-6.5 13-6.5 2-1.5 3-4.5 2.5-6.5-4-.5-2 .5-7.5 5-3 3-5 3.5-3 3-.5 1.5 .5 3-2 1.5-8.5 3-6 4-7.5 4-19.5 16.5-7.5 4.5-4 4.5-2 1-4 .5-1.5 1.5 0 3-.5 1.5-5 3-2.5 2.5-9.5 3.5-4 0-2 0-1 2 0 3.5-1 .5-2 .5-5.5 0-4 1-6 1 1 4.5-1 1.5-1.5 1.5-2 .5-2-1-4-1.5-6 0-3-1 0-3 1.5-3.5-2-.5-4 .5-1 .5-2 6 1 2 4-.5 2 0 0 2-1.5 1.5-4.5 .5-2 .5-2 2-7.5 .5-4 2.5-2 0-.5-3-1-1-4-1-2 1-1 1 0 1.5 .5 3 0 2-1 1.5-4.5 1.5-3.5 3-2 .5-5-3.5 1-2 1.5-1 4.5 0 1 0 .5-2-1.5-1-2-.5-2.5 0-1.5 1-4 0-.5 .5-1 2 1 1.5 1.5 1.5 0 1.5-3 3-1.5 1-4 .5-2 6.5 1 3-4 1.5-5 1-7.5 2.5-.5 1.5 .5 1.5-1 1.5-1 .5-5.5 .5-5-2.5-9.5-9.5-.5-1.5-.5-3-2-.5-2 2.5-2 1.5-6-1.5-3.5 0-2-.5-2-3 0-2 2-2 2-.5 2 1 1.5 .5 4-1.5 2-.5 4 1 2-.5 .5-.5-.5-1.5-12-2-3.5 2-2 0-11.5-3-8-1-2.5-.5-1.5-1.5-.5 110 2 1.5-2 1.5 0 17 0 2 2.5 2.5z"/><path fill="#00bcff" d="M109.5 1429l2 .5 4-1 11.5-.5 6-1.5 2-1 9.5 0 2 1 3.5 .5 8-.5 2-1 5.5-.5 6-1.5 2-1.5 2 0 2-1.5 1.5-.5 6-4.5 8 0 1.5 1.5 4.5 0-.5-3.5 .5-1.5 1.5-1.5 11.5-.5 3-1 1-1.5 1.5-8 1.5-3 .5-3 2.5-2.5 5.5-1.5 4-3.5 1.5-5.5 2.5-3.5 1.5-1.5 5-1 2.5-1.5 1-2-.5-1.5-2-3 3.5-3 4.5-8 2.5-3 3-6 4.5-5 3.5-5 6-3 1.5-1.5 1-3-2-3.5 0-1.5 .5-3 .5-1 4-2.5 1.5-1.5 .5-3 3.5-6 .5-3.5 1.5-5 1.5-1 2.5-1.5 2-2 2-3.5 2-1.5 3.5 1 2 0 1-.5 1-1 2-5 4-7.5 3.5-2.5 3.5-4.5 2.5-2 5.5-6 6-3.5 8-7.5 5.5-3 4-3 2.5-3.5 2.5-4.5 .5-.5 10-6 2.5-3 3-6-1.5-1-4 1-4 3.5-8 4-3.5 3.5-6 3.5-5 4-5.5 6.5-7 3-5.5 5.5-3.5 2.5-1.5 3-1.5 1.5-5 3.5-3.5 3-12 4-3.5 4-2.5 1-7.5 2-4 1.5-6 5.5-3.5 1-2 0-4-1.5-4-.5-2 1-3.5 3.5-5 2-3 3-2 0-3.5-2-2 0-1.5 .5-1.5 1.5 0 3.5-1 1.5-2 1.5-2 1-3.5-.5-4 1-4 1.5-2 1.5-3.5 1.5-2 0-4-2-2 .5-3 5-2 1.5-.5 1.5 0 1.5 3 5-.5 1.5-1 .5-1.5 0-6-1-2 .5-2 2-2 1.5-.5-.5 .5-1.5 1-1.5-3-1-1.5 .5-2 .5 0 1.5 0 1.5-1.5 1.5-8.5 2-1.5 0-10-5-4-3-5.5-2.5-8-4.5-3.5 1-2 1 0 1-1.5-4-4.5-4.5 0-2 1-1.5 0-1.5-1 0-1 0-1 1.5 1.5 1.5-.5 2-1 0-1.5 1.5-4 1.5-2-.5-2.5-1-1-1.5 4.5-5 .5-1.5-3.5-1.5-6-1.5-.5 107 2 1.5-2 1.5 0 15.5 .5 3.5zM125.5 1333.5l-4-4-1.5-.5 0-2 5-2.5 2-5 2-3 2 0 1.5 6-.5 3-1.5 5-3.5 4.5zM384 1205.5l2-.5 2.5-3.5-.5-.5-2 0-2 1.5-1 2z"/><path fill="#00e4f8" d="M109.5 1428.5l2 .5 4-.5 11.5-.5 2-1 4-.5 2-1.5 9.5 .5 4 1.5 3.5 0 6-.5 2-1 5.5-.5 2-1 4-1 2-1 2 0 2-1.5 1.5-.5 6-4.5 8 0 2 1.5 1-5 1-1.5 1.5-2 4-1.5 6 .5 3.5-1.5 0-1.5-2-1.5-2 0-2-.5 2-2 4-2.5-.5-3 1-3.5 1.5-1 6-2 1.5-1.5-1-4.5 .5-2 1.5-3 0-1.5-1-3 .5-2 3.5-3 2-1 2 .5 4.5 3.5 3 2 3 0 2-2 0-1.5-2.5-3 .5-1.5 3-2 1.5-1-.5-3.5 2.5-4.5-.5-3 1.5-2 3.5-1.5 1-1.5 7.5-8 3-4.5-4-2.5-.5-.5 0-1.5 2.5-2.5 4 0 2-1 1.5-1.5 0-1.5-1-6.5 .5-1.5 .5-.5 4 1 2-1 3.5-5.5 0-1.5 0-3.5 .5-1.5 4-4.5 5.5-4.5 4-5.5 2-1 5.5 0 2.5-5 1-4.5 1-3 1.5-1.5 2-.5 2-1.5 .5-1.5-1-3-5.5 4.5-11.5 2-2 1.5-3.5 3-4.5 2-7.5 4.5-6 4.5-3.5 .5-10-.5-2 1.5 0 3 0 1.5-2 1.5-5.5 3-6 1-3.5 1.5-6 .5-4 3.5-5.5-1.5-2 .5-1.5 1-2.5 5-5 1.5-3 3-1.5 1.5-2 .5-4-.5-.5 0 .5 2 2 3-.5 1.5-3.5 1-7.5 .5-3.5 1.5-2.5 3-2 0-5.5-1-10 1.5-3 0-14-7-4-.5-1.5-.5-4.5-3-2-2-.5 2-.5 6-2 6.5-3 4.5-2.5 6.5-1 1-2 1.5-2-2-1-2-.5-2 .5-4.5-.5-1-2-1-4 0-2-2.5 0-2.5 2-4-1-3-1-2-4-3-2-1.5-.5 91.5 2 1.5-2 1.5 0 15.5 .5 3.5zM229.5 1381l2.5-5 0-1.5-.5-.5-2 1-2 4zM121.5 1315.5l1.5 0 1.5-1 .5-1.5 0-1.5-2-1-1.5 .5-2 1-1 1 1 1.5zM316.5 1261.5l2 0 5.5-3.5 6-5 1-1.5 .5-1.5-1.5-1-4 0-2.5 1-5.5 5-1 1.5-1 3zM334 1244l2 1 1.5 0 6-2.5 2-2 .5-1.5 0-3-.5-.5-2 0-2 0-2 1.5-4.5 3.5-1 2z"/><path fill="#1fffd7" d="M109.5 1428.5l2 .5 4-.5 11.5-.5 2-1 3.5-.5 2.5-1.5 9.5 0 2 1.5 3.5 .5 8-.5 2-1.5 5.5 0 2-1 3.5-1 2.5-1 2 0 2-2 1.5 0 2-1.5 4-3 6.5 0-1.5-3.5 1.5-6 1.5-1 3.5 0 2-1 4-3 1.5-3 .5-3 3.5-2 2.5-3 1.5-3.5 4-2 .5-.5 3-6.5 0-1.5-2-3 1-2 7-6 3-5 5-2 3.5-2.5 1.5-1.5 1.5-5 1-1.5 4-3 4-1.5 3-1.5 2-6.5-.5-4.5 .5-1.5 4.5-4.5 2-1 4 0 .5-1 0-1.5-2-1.5-.5-1.5 .5-2 3-5 2-2.5 4-2 7.5-9 6.5-5 1-1.5 3-6 3.5-3 3.5-1 1-2.5-.5-3-2.5-1.5-1.5 0-2 .5-4 3.5-4 2-4 3-3.5 2-6 4-7 3.5-2.5 3.5-2.5 1.5-5.5 1-7.5 3.5-6 .5-3.5 2-4 1-6 3-2 0-3.5-1.5-1 1.5 1 1.5 2.5 1.5 0 1.5-.5 1.5-2 2.5-4 2-2.5-3-1.5-.5-2 .5-2 .5-1 1.5-.5 1.5 1.5 1.5 2 .5 4-1 2 1 0 2.5-2 1-6 1-3.5-1-15.5 1.5-1.5 .5 0 2 .5 3-1 .5-4-.5-9.5-2.5-8 1-3.5-.5-6-2-4-1-3.5 .5-6 2.5-6 1-4.5 7-3 5-3.5 4.5 0 1.5 1 2 0 1.5-1.5 1-2 1-1.5-.5-2-1.5-1-1.5 1-2 1.5-1.5 .5-1.5 0-2-5-9-3-1.5-1-1.5-3-6.5 0-1.5 2-3-1.5-1.5-2.5-1 0 86 1.5 1.5-1.5 1.5 0 15.5 0 3.5zM147 1338l-4-1.5-1-1.5 .5-1.5 2-.5 4 2 2 1.5 .5 1.5-1 1-1.5 0zM233.5 1364l2 1 1.5-3-1.5-1-2 1-.5 1.5z"/><path fill="#43ffb4" d="M109.5 1428.5l2 .5 4-1 11.5 0 2-1 3-.5 3-1.5 9.5 0 2.5 1.5 3 .5 8-.5 2-1.5 5.5 0 2-1.5 3-.5 3-1 2-.5 2-1.5 3.5-1.5 4-3 1 0-3-2 5.5-9 2.5-2.5 6.5-2.5 1-1.5 .5-3 1-1.5 2.5-2 4-1.5 0-2-2-1 2.5-3 1-3.5 2-1.5 2 0 2-1.5 .5-4.5 .5-2 5-3 3.5-4.5 1-1.5 0-3.5 1-1 6.5-2 2-1.5 1.5-1.5 1-3.5-1-3 3.5-3 .5-1.5-1-3.5 .5-1.5 1-1.5 3-1 4 .5 3-1 .5-1.5-2-3 0-2 6-2 1-1 1-1.5 .5-3 1-1.5 5-5 3-5.5 8-6.5 5-5 6-5 1-1.5 0-1.5-.5-4.5-2-.5-7.5 3.5-9 7.5-6.5 4.5-11.5 4-2 1-2 1.5-1 3.5-1.5 1.5-3.5 1-7.5-1-2 .5-10 10.5-1.5 5-2 1.5-4 1-4 4-1.5 .5-4-.5-1-.5-1-1.5-2-1-4 1-.5 3-1 1.5-2 .5-13.5-1.5-4-2-2-.5-4 0-3.5 1-2 1-1 1.5-2 1.5-.5 1.5 1 2 2.5 .5 1.5-.5 .5-1 1.5-.5 3 1.5-4.5 1.5-.5 6-1 1.5-.5 1-2 0-2-2-2-.5-4 .5-2-.5-3.5-2-4 0-2-.5-1-2 .5-3-3.5-3.5-2 1.5-2.5 5-3 3 0 1.5 1.5 3.5-.5 1.5-5.5 4.5-1.5 3-3.5-1.5-2-2.5-2-4.5-2-2-4 1.5-2 0 0 53.5 2 1.5-2 1.5 0 15.5 0 3.5zM109.5 1342l2 .5 1.5-1 .5-1.5-1.5-2-1 0-1.5 2-.5 1.5zM154 1333.5l3 0 1-1.5-2-1.5-2-.5-2 .5-.5 1.5z"/><path fill="#63ff94" d="M109.5 1428.5l2 0 14.5-.5 3-1.5 3 0 3-1.5 9.5 0 4 1.5 7.5 0 2 0 2-1.5 5.5-.5 2-1 3-.5 1-1 4-.5 3.5-3 1.5 0-1.5-1.5-1-1.5 0-2 0-1.5 3.5-4.5 0-1.5-1-3.5 .5-1.5 4 0 2-.5 2.5-2.5 1-1.5 0-3 0-2 2.5-2.5 1.5-.5 2 1 2 0 1-1-1-2-3.5-2.5-.5-1.5 .5-2 1.5-1.5 4-2 4-1 3.5 0 2-.5 1-1 .5-5 .5-1 4-.5 2-1.5 1-1.5 .5-3-1.5-5 .5-1.5 1.5-1 5.5-2 4 .5 2-.5 2-1.5-1-5 0-1.5 2.5-3 0-5 .5-1.5 1.5-1.5 6.5-3 2-5 1.5-1 5.5-2 1.5-1.5 1-3 6-5 1-1.5 2.5-4 3-4 2-3-.5-1.5-4.5-.5-8 3.5-6 1.5-2 1.5-2.5 5-1 1-8 2.5-1.5 3-2 1.5-4 2-2 0-2-.5-2 .5-1.5 1.5-1.5 4-1 1.5-1.5 1.5-4.5 2-3 3-2.5 1-5.5 1-6 2.5-3.5 1-2 0-4-2-2-.5-4 0-3.5 1.5-3 5-3.5 3-.5 1.5-.5 3.5-1 1.5-9 .5-6-2-4-.5-3.5-2.5-6-.5-2-1-2-2-1.5 0-3 1.5-.5 1.5 1.5 5-1.5 1.5-4 3-1.5 5-3 2-6.5-2-2.5-2-2.5-4.5-2-1.5-2 0 0 50.5 2 1.5-2 1.5 0 15.5 0 3zM167.5 1335.5l2 .5 2 0 1.5-1-1.5-1-2-.5-2 1 0 .5zM272 1296l2 0 2-.5 4.5-3 2-1.5 .5-1.5-.5-1.5-1-1-2 0-1.5 .5-2 1-3 2.5-.5 1.5z"/><path fill="#83ff73" d="M109.5 1428.5l16-.5 1.5-1 4.5-.5 1.5-1.5 2 0 9.5 0 2 .5 2 1 7.5 0 1.5 0 2.5-1.5 5-.5 2.5-1 2.5-.5 1.5-1 4-.5 .5-1.5 0-1.5-1-3-.5-2 1-3 2-3 0-5 1.5-3 4-2 2-1 5-8 1.5-6 5-7 2-1.5 8-3-.5-1.5-1.5-1-4-1-1.5-1 1-1.5 2-1.5 2.5-1 5.5-1 1-1.5 0-3 .5-1.5 3.5-3 3-2 5.5-2.5 3.5-2 2-3 2.5-2.5 2-7.5 2-1 4-1.5 1.5-1 1-2.5 1-3.5 .5-1 5-1.5 2-1.5 0-1.5-.5-3.5 .5 0 2 .5 2-.5 4-1.5 2-1.5 2-6 1.5-2 .5-1.5 0-.5-2 .5-4 2-6 1-2 1.5-.5 2-1 3 .5 1.5-.5 1-2 .5-4-.5-4 .5-1.5 3.5-1.5 1.5-11.5 4.5-4.5 5-10 6.5-15 6-1.5 1.5-1 3-1.5 1.5-2 .5-2-.5-4-1-2 0-5.5 2.5-.5 0 0 2 3.5 1.5 1 1.5 0 1.5-.5 1-1.5 1-4 1-6-2-5 .5-2.5 1-4 2.5-5.5 1.5-.5 .5-1.5-.5-4-4-7-4-.5-1.5 1.5-1.5-.5-2-1.5-1.5-1.5 1-.5 .5 2 3.5-.5 1.5-5 3-.5 1.5 1 3.5 0 1.5-2.5 .5-2 1-1.5 1.5 .5 4.5-1 2-2 1-3-1-1.5-2 .5-4.5-1.5-.5-2 .5-2 1-2 .5-4-1 0 37.5 2 1.5-2 1.5 0 15.5 0 2.5zM151.5 1371l-5.5-1.5-1.5-1.5-.5-1.5 1-1.5 3.5-1.5 5.5 3.5 2 2.5 0 1.5-2 1zM181 1343.5l2 .5 3-2.5 0-1.5-1-1-2-.5-2 1-1 2z"/><path fill="#a4ff53" d="M109.5 1428l14.5 0 3-1.5 4 0 2-1.5 2 0 9.5 0 2 0 2 1.5 7.5 0 4-1.5 4.5-.5 1-1 3.5-.5 1.5-3 .5-1.5-1-3 4.5-8 3-9.5 1.5-2.5 1.5-.5 6-6.5 .5-1.5-1-4.5 5-3.5 1.5-1.5 0-1.5-1.5-3 1-2 2.5-2 2.5-4 1.5-1.5 4-2 4-2 1-1 1.5-3 3-3.5 4-3 5.5-3 4-4.5 4-2.5 1-2.5 1-4.5 2-2 4-1 2-2 .5-1.5 0-1.5-1-2-2-.5-1.5 0-9 4-10 8-14 8.5-4 .5-2 1.5-2.5 3.5-5.5 3.5-1.5 1.5 0 1.5-1 1.5-4 4.5-1 1-5.5 2-4 4-2 .5-1.5-1-2.5-2-1.5-.5-2-.5-2 1-1 6.5-.5 2-2.5 1.5-2 0-4-1-3.5 .5-2-1-4-4.5-2-.5-7.5 0-1 1.5-1 5-2 1.5-4 1.5-1.5-1-6 0-2-.5-3.5-5-2.5-.5 0 34 2 1.5-2 1.5 0 15.5 .5 1.5zM113.5 1395l-.5-1.5 .5-1 4 1 0 1.5zM136.5 1362.5l2.5-.5 2-2-1.5-1.5-3-1.5-1.5 1.5 0 1.5zM256.5 1311.5l2-1.5 0-1.5-2-1.5-2 .5-1 1 0 1.5 1 1z"/><path fill="#c7ff30" d="M109.5 1428l7.5 0 2.5-1.5 3.5-1 6-2.5 4 .5 3.5-.5 1.5 1.5 8.5 .5 2 1.5 7.5 0 2-1.5 6-.5 2-1.5 1.5-3-.5-6.5 3-4.5 1-4.5 2.5-3 1.5-5 4-7 2.5-2.5 .5-1.5-1.5-3 0-2 .5-1 2-1.5 4-2 1-1.5 2-5 3-2 3-4 4.5-3 4-2 6.5-7.5 9-6.5 6.5-6.5 1.5-1.5 .5-1.5-.5-4.5 .5-1.5-1-.5-9.5 6.5-6 3-4.5 3.5-3 3-2 1-4 1-4 2.5-2 2-3.5 4.5-5.5 6.5-2 1.5-4 1.5-4 3-10.5 5-5 3.5-2 .5-2 0-4-1-5.5 0-4-3-4-2.5-2 .5-1 2-1 3-4.5 3-3 5-3.5 4-2-1-2-2.5-2-.5-4 2-2-.5-.5 1.5 0 1.5 .5 1.5 2-1 6 .5 2-1 2 2 1 3 .5 1.5-1 3-4.5 4.5-2 8-2 3-2 1-2 0-.5 1 0 3 .5 1.5-1 3zM109.5 1405l1.5-4 0-1.5-1.5-1.5-.5 1.5-.5 1.5z"/><path fill="#e7ff0f" d="M109.5 1428l4.5 0 1.5-2.5 2-1.5 5.5-.5 10-3.5 5.5-1.5 4 0 6.5 1.5 4.5 3 1.5 3.5 1 0 2-1.5 4-.5 1-1.5 1-6-2-6.5 2.5-3 .5-1.5-1-6.5 1.5-1.5 4 .5 1-.5 1-1 .5-2 1.5-1 2-2.5 1.5-4.5 0-3 2-5.5 2-2 4.5-2 1-1.5 1-3.5 1-1.5 4-3 1.5-3 10.5-7.5 3-5.5-1-.5-6 0-4 1.5-3 2.5-1.5 3-2.5 3-6 6.5-13 6-6 5-4.5 1.5-6 3.5-2 .5-3.5-1-4 3-2 .5-2 0-2-5-2-.5-1.5 1-4 .5-2 2.5 .5 3-4 3 .5 5-1 4.5-3.5 6.5-8 12.5-1.5 4.5-2.5 2.5zM208 1348.5l2.5-1 1.5-1 .5-2-2.5 .5-2.5 2.5zM220 1339.5l2-.5 1-1 0-1.5-1 0-3 1.5z"/><path fill="#ffe200" d="M121.5 1421.5l1.5 0 2-.5 11.5-5 2-.5 8 1 2 0 3-1 .5-2 0-3 0-2 2-1.5 6-1-.5-5 1-3 1.5-1.5 5.5-5 6-1.5 0-3 .5-3 3.5-6.5 1.5-2 4.5-2.5 .5-2-1-1-2-1-7 2-2.5 2-2 1.5-2 3.5-2 1-3.5 0-2 .5-6 3-5.5 2-5 4-3 1-4 2.5-5.5 .5-1.5 1-1 1.5-1 3-.5 1.5 0 3-.5 2-1.5 1.5-5.5 4.5-2 3 0 3.5 .5 1.5 1 1.5zM158 1422l2 .5 0-1 0-3-2-1-2 1 0 1.5zM196.5 1354.5l3-.5 1.5-1.5-2.5-1-1.5 1-1 1.5z"/><path fill="#ffbd00" d="M123 1418.5l2 .5 4-1.5 5.5-4 6-1.5 8-4 6-5.5 4.5-6 11-9.5 1-4.5-1.5-1-7.5-1-2 .5-6 3-4 1.5-1.5 1-4 3.5-3 1.5-5 4-3.5 2.5-1.5 1.5-1 3-2.5 3.5-1.5 1.5-4.5 3-1.5 1.5-1 1.5 .5 2 1.5 2z"/><path fill="#ff9400" d="M123 1416l2 .5 2 0 2-1 3.5-3.5 6-1.5 10-5.5 4.5-4 5-7 9-7 .5-1.5-.5-1.5-5-2-2 .5-6 3.5-4 1.5-3.5 3-4 2-2.5 2.5-4 4.5-3.5 5-3.5 4-6.5 3.5-.5 1.5z"/><path fill="#ff6f00" d="M135 1409l2.5 0 11-6.5 3.5-3.5 2-3 2-6-4-1-2 .5-7.5 5.5-5 6-1.5 3.5-2.5 3 .5 1.5zM158 1389l2-1.5 2.5-2-.5-.5-2 .5-2 1.5-.5 1.5z"/><path fill="#ff4a00" d="M140.5 1403.5l2 0 2-.5 2-1 .5-1 .5-3 4-3 .5-2-2-.5-1.5 1-2.5 1.5-3.5 2.5-2 3.5-.5 1.5z"/></g></g><path d="M105.8 1431H531.4V1085.8" fill="none" stroke="#444" stroke-width=".8"/><path d="M105.8 1431L527.1 1088.2" stroke="#111" stroke-width="1.3"/><path d="M105.8 1431v3.5M104.3 1431h-3M183.1 1431v3.5M104.3 1368.1h-3M260.4 1431v3.5M104.3 1305.2h-3M337.7 1431v3.5M104.3 1242.3h-3M415 1431v3.5M104.3 1179.4h-3M492.3 1431v3.5M104.3 1116.5h-3" stroke="#222" stroke-width=".8"/><g font-family="DejaVu Sans,Liberation Sans,sans-serif" font-size="21.7" fill="#111"><text x="105.9" y="1453.5" text-anchor="middle">0</text><text x="98.1" y="1439.5" text-anchor="end">0</text><text x="183.2" y="1453.5" text-anchor="middle">10</text><text x="98.1" y="1376.6" text-anchor="end">10</text><text x="260.5" y="1453.5" text-anchor="middle">20</text><text x="98.1" y="1313.7" text-anchor="end">20</text><text x="337.8" y="1453.5" text-anchor="middle">30</text><text x="98.1" y="1250.8" text-anchor="end">30</text><text x="415.1" y="1453.5" text-anchor="middle">40</text><text x="98.1" y="1187.9" text-anchor="end">40</text><text x="492.4" y="1453.5" text-anchor="middle">50</text><text x="98.1" y="1125" text-anchor="end">50</text><rect x="557.9" y="1085.8" width="17.8" height="345.2" fill="url(#jg)"/><text x="580.6" y="1438.1" font-size="23.6">10<tspan dy="-9.4" font-size="16.6">0</tspan></text><text x="580.6" y="1351.5" font-size="23.6">10<tspan dy="-9.4" font-size="16.6">1</tspan></text><text x="580.6" y="1264.5" font-size="23.6">10<tspan dy="-9.4" font-size="16.6">2</tspan></text><text x="580.6" y="1177.4" font-size="23.6">10<tspan dy="-9.4" font-size="16.6">3</tspan></text><path d="M575.7 1431h2.5M575.7 1405.1h1.5M575.7 1389.9h1.5M575.7 1379.2h1.5M575.7 1370.8h1.5M575.7 1364h1.5M575.7 1358.2h1.5M575.7 1353.2h1.5M575.7 1348.8h1.5M575.7 1344.9h2.5M575.7 1319h1.5M575.7 1303.8h1.5M575.7 1293.1h1.5M575.7 1284.7h1.5M575.7 1277.9h1.5M575.7 1272.1h1.5M575.7 1267.1h1.5M575.7 1262.7h1.5M575.7 1258.8h2.5M575.7 1232.9h1.5M575.7 1217.7h1.5M575.7 1207h1.5M575.7 1198.6h1.5M575.7 1191.8h1.5M575.7 1186h1.5M575.7 1181h1.5M575.7 1176.6h1.5M575.7 1172.7h2.5M575.7 1146.8h1.5M575.7 1131.6h1.5M575.7 1120.9h1.5M575.7 1112.5h1.5M575.7 1105.7h1.5M575.7 1099.9h1.5M575.7 1094.9h1.5M575.7 1090.5h1.5" stroke="#222" stroke-width=".7"/><text x="383.3" y="1373.8" font-size="24.1">R=0.815</text><text x="383.3" y="1405.6" font-size="24.1">MAE=2.900</text><text x="317.8" y="1480" text-anchor="middle" font-size="23.95">Optical Flow Winds(m/s)</text><text transform="translate(59.5 1258) rotate(-90)" text-anchor="middle" font-size="23.7">WRF Model Winds(m/s)</text></g>
<clipPath id="scf"><rect x="871" y="1087.5" width="426" height="345.1"/></clipPath><filter id="sbf"><feGaussianBlur stdDeviation=".45"/></filter><pattern id="pwf" width="57" height="48" patternUnits="userSpaceOnUse"><path d="M26.6 18.4h1.9M28.5 34.4h1.9M30.4 21.6h1.9M24.7 37.6h1.9M1.9 7.2h1.9M34.2 45.6h1.9M24.7 23.2h1.9M55.1 5.6h1.9M45.6 21.6h1.9M15.2 44h1.9M43.7 2.4h1.9M9.5 21.6h1.9M38 8.8h1.9M53.2 39.2h1.9M53.2 31.2h1.9M28.5 .8h1.9M30.4 28h1.9M28.5 45.6h1.9M34.2 7.2h1.9M7.6 2.4h1.9M13.3 20h1.9M11.4 32.8h1.9M17.1 18.4h1.9M45.6 23.2h1.9M5.7 16.8h1.9M24.7 12h1.9M32.3 5.6h1.9M47.5 10.4h1.9M7.6 26.4h1.9M30.4 36h1.9M32.3 7.2h1.9M13.3 28h1.9M5.7 39.2h1.9M30.4 8.8h1.9M13.3 42.4h1.9M1.9 45.6h1.9M17.1 34.4h1.9M38 36h1.9M11.4 44h1.9M47.5 16.8h1.9M26.6 10.4h1.9M19 42.4h1.9M15.2 39.2h1.9M24.7 5.6h1.9M28.5 4h1.9M5.7 32.8h1.9M34.2 28h1.9M13.3 2.4h1.9M26.6 21.6h1.9M15.2 37.6h1.9M49.4 32.8h1.9M24.7 39.2h1.9M22.8 31.2h1.9M49.4 37.6h1.9M3.8 39.2h1.9M49.4 37.6h1.9M28.5 7.2h1.9M45.6 10.4h1.9M24.7 45.6h1.9M22.8 8.8h1.9M22.8 26.4h1.9M36.1 32.8h1.9M53.2 34.4h1.9M15.2 12h1.9M0 37.6h1.9M22.8 23.2h1.9M7.6 10.4h1.9M53.2 16.8h1.9M34.2 47.2h1.9M51.3 7.2h1.9M26.6 8.8h1.9M17.1 39.2h1.9M24.7 2.4h1.9M7.6 12h1.9M17.1 44h1.9M51.3 10.4h1.9M43.7 15.2h1.9M13.3 5.6h1.9M45.6 32.8h1.9M28.5 18.4h1.9M49.4 21.6h1.9M30.4 18.4h1.9M5.7 2.4h1.9M1.9 8.8h1.9M49.4 34.4h1.9M1.9 21.6h1.9M47.5 40.8h1.9M55.1 36h1.9M53.2 29.6h1.9M49.4 24.8h1.9M41.8 29.6h1.9M19 37.6h1.9M47.5 34.4h1.9M51.3 32.8h1.9M38 7.2h1.9M38 16.8h1.9M47.5 16.8h1.9M1.9 42.4h1.9M1.9 28h1.9M17.1 40.8h1.9M0 36h1.9M51.3 37.6h1.9M1.9 36h1.9M9.5 15.2h1.9M19 2.4h1.9M38 28h1.9M26.6 40.8h1.9M55.1 15.2h1.9M22.8 34.4h1.9M34.2 15.2h1.9M41.8 .8h1.9M53.2 26.4h1.9M28.5 18.4h1.9M0 40.8h1.9M20.9 31.2h1.9M1.9 4h1.9M3.8 24.8h1.9M7.6 8.8h1.9M55.1 .8h1.9M53.2 29.6h1.9M0 5.6h1.9M11.4 39.2h1.9M5.7 31.2h1.9M20.9 39.2h1.9M32.3 5.6h1.9M26.6 13.6h1.9M13.3 44h1.9M20.9 44h1.9M45.6 5.6h1.9M45.6 10.4h1.9M32.3 29.6h1.9M1.9 28h1.9M49.4 .8h1.9M39.9 8.8h1.9M32.3 36h1.9M45.6 15.2h1.9M1.9 20h1.9M19 18.4h1.9M53.2 16.8h1.9M5.7 23.2h1.9M36.1 18.4h1.9M26.6 10.4h1.9M47.5 4h1.9M34.2 42.4h1.9M17.1 42.4h1.9M32.3 29.6h1.9M38 42.4h1.9M36.1 40.8h1.9M9.5 4h1.9M7.6 23.2h1.9M45.6 .8h1.9M15.2 47.2h1.9M53.2 34.4h1.9M30.4 28h1.9M28.5 15.2h1.9M3.8 10.4h1.9M30.4 18.4h1.9M11.4 36h1.9M0 2.4h1.9M13.3 34.4h1.9M53.2 29.6h1.9M45.6 2.4h1.9M41.8 5.6h1.9M45.6 32.8h1.9M43.7 5.6h1.9M45.6 8.8h1.9M49.4 29.6h1.9M34.2 39.2h1.9M13.3 12h1.9M1.9 39.2h1.9M39.9 42.4h1.9M36.1 28h1.9M38 26.4h1.9M38 28h1.9M36.1 12h1.9M43.7 21.6h1.9M47.5 2.4h1.9M17.1 42.4h1.9M17.1 26.4h1.9M22.8 2.4h1.9M15.2 44h1.9M45.6 16.8h1.9M30.4 26.4h1.9M36.1 40.8h1.9M51.3 20h1.9M30.4 42.4h1.9M34.2 21.6h1.9M45.6 29.6h1.9M13.3 8.8h1.9M30.4 37.6h1.9" stroke="#fff" stroke-width="1.6"/></pattern><pattern id="pvf" width="61" height="53" patternUnits="userSpaceOnUse"><path d="M1.9 50.4h1.9M57 52h1.9M0 24.8h1.9M0 10.4h1.9M53.2 31.2h1.9M24.7 52h1.9M22.8 7.2h1.9M1.9 39.2h1.9M43.7 36h1.9M1.9 2.4h1.9M3.8 39.2h1.9M30.4 44h1.9M41.8 44h1.9M51.3 23.2h1.9M1.9 12h1.9M45.6 26.4h1.9M15.2 45.6h1.9M1.9 10.4h1.9M43.7 29.6h1.9M11.4 21.6h1.9M51.3 36h1.9M57 50.4h1.9M51.3 4h1.9M53.2 10.4h1.9M28.5 45.6h1.9M49.4 44h1.9M0 4h1.9M36.1 24.8h1.9M43.7 24.8h1.9M38 16.8h1.9M38 44h1.9M24.7 7.2h1.9M41.8 31.2h1.9M47.5 44h1.9M15.2 52h1.9M17.1 47.2h1.9M17.1 36h1.9M3.8 13.6h1.9M7.6 26.4h1.9M57 32.8h1.9M19 34.4h1.9M17.1 48.8h1.9M58.9 18.4h1.9M22.8 42.4h1.9M39.9 42.4h1.9M43.7 26.4h1.9M47.5 20h1.9M24.7 21.6h1.9M55.1 40.8h1.9M38 52h1.9M36.1 24.8h1.9M9.5 36h1.9M26.6 13.6h1.9M55.1 4h1.9M55.1 2.4h1.9M17.1 48.8h1.9M17.1 48.8h1.9M32.3 13.6h1.9M57 10.4h1.9M32.3 23.2h1.9M41.8 37.6h1.9M32.3 20h1.9M34.2 18.4h1.9M28.5 47.2h1.9M19 13.6h1.9M49.4 36h1.9M17.1 23.2h1.9M32.3 5.6h1.9M36.1 24.8h1.9M49.4 2.4h1.9M7.6 37.6h1.9M9.5 13.6h1.9M38 13.6h1.9M24.7 31.2h1.9M24.7 29.6h1.9M24.7 23.2h1.9M45.6 21.6h1.9M38 18.4h1.9M28.5 5.6h1.9M39.9 26.4h1.9M3.8 12h1.9M47.5 12h1.9M38 39.2h1.9M11.4 15.2h1.9M1.9 31.2h1.9M53.2 12h1.9M41.8 42.4h1.9M20.9 31.2h1.9M13.3 13.6h1.9M5.7 28h1.9" stroke="#fff" stroke-width="1.6"/></pattern><pattern id="paf" width="67" height="59" patternUnits="userSpaceOnUse"><path d="M17.1 50.4h1.9M57 47.2h1.9M39.9 .8h1.9M57 8.8h1.9M30.4 34.4h1.9M30.4 7.2h1.9M51.3 56.8h1.9M32.3 55.2h1.9M11.4 21.6h1.9M32.3 15.2h1.9M60.8 13.6h1.9M57 47.2h1.9M60.8 26.4h1.9M60.8 40.8h1.9M9.5 5.6h1.9M11.4 52h1.9M28.5 44h1.9M22.8 16.8h1.9M7.6 4h1.9M47.5 29.6h1.9M32.3 7.2h1.9M45.6 45.6h1.9M60.8 23.2h1.9M26.6 32.8h1.9M62.7 15.2h1.9M17.1 29.6h1.9M3.8 10.4h1.9M36.1 31.2h1.9M11.4 52h1.9M5.7 45.6h1.9M11.4 50.4h1.9M55.1 53.6h1.9M41.8 .8h1.9M34.2 8.8h1.9M15.2 50.4h1.9M34.2 2.4h1.9M43.7 4h1.9M45.6 39.2h1.9M11.4 50.4h1.9M11.4 10.4h1.9M43.7 12h1.9M3.8 32.8h1.9M58.9 .8h1.9M26.6 24.8h1.9M41.8 28h1.9M49.4 28h1.9M45.6 20h1.9M49.4 5.6h1.9M30.4 47.2h1.9M5.7 23.2h1.9M62.7 21.6h1.9M62.7 50.4h1.9M58.9 16.8h1.9M0 13.6h1.9M0 12h1.9M51.3 23.2h1.9M32.3 32.8h1.9M5.7 36h1.9M7.6 37.6h1.9M20.9 47.2h1.9M11.4 42.4h1.9M24.7 23.2h1.9M49.4 42.4h1.9M49.4 21.6h1.9M9.5 7.2h1.9M49.4 50.4h1.9M38 4h1.9M57 45.6h1.9M38 12h1.9M36.1 37.6h1.9M41.8 18.4h1.9M22.8 32.8h1.9M47.5 44h1.9M5.7 39.2h1.9M34.2 2.4h1.9M28.5 53.6h1.9M15.2 12h1.9M49.4 36h1.9M7.6 31.2h1.9M32.3 37.6h1.9M7.6 44h1.9M3.8 .8h1.9M7.6 44h1.9M41.8 23.2h1.9M13.3 42.4h1.9M41.8 20h1.9M53.2 31.2h1.9M3.8 48.8h1.9M11.4 53.6h1.9M43.7 47.2h1.9M53.2 37.6h1.9M39.9 34.4h1.9M9.5 56.8h1.9M45.6 44h1.9M15.2 13.6h1.9M19 52h1.9M41.8 15.2h1.9M9.5 2.4h1.9M7.6 15.2h1.9M20.9 48.8h1.9M60.8 48.8h1.9M0 42.4h1.9M9.5 13.6h1.9M45.6 7.2h1.9M9.5 44h1.9M22.8 10.4h1.9M47.5 18.4h1.9M30.4 34.4h1.9M20.9 8.8h1.9M34.2 56.8h1.9M32.3 56.8h1.9M53.2 37.6h1.9M24.7 24.8h1.9M24.7 44h1.9M0 32.8h1.9M55.1 47.2h1.9M55.1 20h1.9M5.7 44h1.9M47.5 50.4h1.9M19 56.8h1.9M11.4 31.2h1.9M49.4 8.8h1.9M45.6 45.6h1.9M17.1 40.8h1.9M36.1 55.2h1.9" stroke="#00008c" stroke-width="1.6"/></pattern><pattern id="pbf" width="59" height="51" patternUnits="userSpaceOnUse"><path d="M34.2 31.2h1.9M41.8 40.8h1.9M38 4h1.9M5.7 10.4h1.9M20.9 5.6h1.9M3.8 16.8h1.9M26.6 36h1.9M13.3 13.6h1.9M30.4 28h1.9M13.3 21.6h1.9M57 20h1.9M0 47.2h1.9M38 47.2h1.9M41.8 7.2h1.9M49.4 24.8h1.9M32.3 28h1.9M3.8 28h1.9M15.2 31.2h1.9M24.7 21.6h1.9M20.9 47.2h1.9M17.1 29.6h1.9M47.5 2.4h1.9M32.3 29.6h1.9M49.4 12h1.9M45.6 31.2h1.9M43.7 39.2h1.9M49.4 40.8h1.9M3.8 18.4h1.9M7.6 28h1.9M55.1 24.8h1.9M9.5 42.4h1.9M11.4 7.2h1.9M39.9 48.8h1.9M51.3 45.6h1.9M0 47.2h1.9M15.2 37.6h1.9M41.8 37.6h1.9M15.2 12h1.9M17.1 39.2h1.9M39.9 4h1.9M7.6 7.2h1.9M13.3 42.4h1.9M39.9 12h1.9M9.5 24.8h1.9M22.8 2.4h1.9M3.8 44h1.9M41.8 42.4h1.9M1.9 36h1.9M41.8 12h1.9M11.4 18.4h1.9M36.1 2.4h1.9M15.2 31.2h1.9M11.4 39.2h1.9M47.5 12h1.9M45.6 39.2h1.9M47.5 37.6h1.9M11.4 29.6h1.9M43.7 42.4h1.9M24.7 31.2h1.9M3.8 44h1.9M39.9 39.2h1.9M49.4 29.6h1.9M39.9 37.6h1.9M51.3 12h1.9M22.8 18.4h1.9M34.2 8.8h1.9M30.4 47.2h1.9M24.7 2.4h1.9M19 20h1.9M55.1 16.8h1.9M43.7 12h1.9M49.4 2.4h1.9M43.7 48.8h1.9M34.2 .8h1.9M11.4 45.6h1.9M15.2 16.8h1.9M57 16.8h1.9M11.4 7.2h1.9M24.7 20h1.9M17.1 40.8h1.9M7.6 5.6h1.9M26.6 40.8h1.9M17.1 7.2h1.9M13.3 26.4h1.9M30.4 40.8h1.9M5.7 44h1.9M45.6 5.6h1.9M43.7 45.6h1.9M47.5 2.4h1.9M3.8 23.2h1.9M41.8 26.4h1.9M3.8 28h1.9M38 44h1.9M45.6 40.8h1.9M19 8.8h1.9M1.9 44h1.9M38 40.8h1.9M13.3 15.2h1.9M51.3 16.8h1.9M0 13.6h1.9M43.7 8.8h1.9M15.2 23.2h1.9M53.2 4h1.9M22.8 29.6h1.9M36.1 21.6h1.9M9.5 29.6h1.9M20.9 5.6h1.9M51.3 13.6h1.9M11.4 24.8h1.9M39.9 15.2h1.9M15.2 5.6h1.9M5.7 48.8h1.9M19 20h1.9M32.3 26.4h1.9M39.9 32.8h1.9M43.7 40.8h1.9M11.4 32.8h1.9M39.9 4h1.9M1.9 39.2h1.9M47.5 12h1.9M0 24.8h1.9M15.2 16.8h1.9M32.3 39.2h1.9M0 4h1.9M0 .8h1.9M17.1 .8h1.9M20.9 21.6h1.9M30.4 28h1.9M36.1 4h1.9M39.9 47.2h1.9M41.8 4h1.9M39.9 13.6h1.9M32.3 7.2h1.9M26.6 15.2h1.9M43.7 2.4h1.9M36.1 7.2h1.9M45.6 31.2h1.9M38 39.2h1.9M28.5 29.6h1.9M19 5.6h1.9M32.3 45.6h1.9M43.7 16.8h1.9M55.1 26.4h1.9M9.5 40.8h1.9M39.9 .8h1.9M32.3 48.8h1.9M45.6 47.2h1.9M3.8 15.2h1.9M15.2 39.2h1.9M3.8 42.4h1.9M1.9 4h1.9M28.5 36h1.9M0 10.4h1.9M57 15.2h1.9M22.8 40.8h1.9M57 .8h1.9M1.9 47.2h1.9M24.7 12h1.9M28.5 4h1.9M39.9 12h1.9M9.5 2.4h1.9M30.4 7.2h1.9M17.1 36h1.9M11.4 2.4h1.9M49.4 15.2h1.9M15.2 44h1.9M20.9 32.8h1.9M34.2 .8h1.9M9.5 10.4h1.9M36.1 34.4h1.9M11.4 23.2h1.9M22.8 13.6h1.9M57 13.6h1.9M38 21.6h1.9M11.4 8.8h1.9M55.1 39.2h1.9M7.6 32.8h1.9M20.9 16.8h1.9M47.5 37.6h1.9M49.4 13.6h1.9M38 37.6h1.9M43.7 8.8h1.9M55.1 37.6h1.9M19 2.4h1.9M55.1 36h1.9M24.7 24.8h1.9M49.4 21.6h1.9M15.2 45.6h1.9M53.2 16.8h1.9M3.8 21.6h1.9M51.3 2.4h1.9M17.1 5.6h1.9M15.2 28h1.9M41.8 .8h1.9M36.1 28h1.9M1.9 28h1.9M20.9 36h1.9M15.2 .8h1.9M0 32.8h1.9M19 29.6h1.9M30.4 44h1.9M32.3 2.4h1.9M53.2 8.8h1.9M11.4 10.4h1.9M11.4 7.2h1.9M0 28h1.9M57 16.8h1.9M24.7 4h1.9M1.9 28h1.9M51.3 5.6h1.9" stroke="#00008c" stroke-width="1.6"/></pattern><pattern id="pcf" width="53" height="47" patternUnits="userSpaceOnUse"><path d="M34.2 12h1.9M0 42.4h1.9M28.5 45.6h1.9M41.8 28h1.9M9.5 18.4h1.9M39.9 40.8h1.9M22.8 40.8h1.9M11.4 16.8h1.9M43.7 5.6h1.9M13.3 16.8h1.9M24.7 31.2h1.9M24.7 39.2h1.9M3.8 8.8h1.9M3.8 2.4h1.9M13.3 7.2h1.9M0 8.8h1.9M34.2 10.4h1.9M39.9 44h1.9M45.6 .8h1.9M43.7 .8h1.9M34.2 26.4h1.9M9.5 44h1.9M38 18.4h1.9M9.5 23.2h1.9M49.4 45.6h1.9M24.7 28h1.9M26.6 26.4h1.9M19 .8h1.9M15.2 26.4h1.9M7.6 40.8h1.9M28.5 4h1.9M9.5 12h1.9M47.5 28h1.9M13.3 21.6h1.9M11.4 44h1.9M17.1 37.6h1.9M39.9 37.6h1.9M19 7.2h1.9M5.7 28h1.9M19 44h1.9M36.1 18.4h1.9M1.9 13.6h1.9M26.6 24.8h1.9M49.4 40.8h1.9M36.1 32.8h1.9M5.7 26.4h1.9M26.6 5.6h1.9M3.8 34.4h1.9M7.6 15.2h1.9M45.6 26.4h1.9M9.5 31.2h1.9M32.3 21.6h1.9M20.9 42.4h1.9M20.9 8.8h1.9M15.2 36h1.9M11.4 7.2h1.9M20.9 10.4h1.9M22.8 10.4h1.9M0 42.4h1.9M24.7 23.2h1.9M26.6 23.2h1.9M9.5 13.6h1.9M11.4 34.4h1.9M17.1 45.6h1.9M30.4 5.6h1.9M38 12h1.9M45.6 20h1.9M1.9 31.2h1.9M1.9 12h1.9M19 20h1.9M15.2 40.8h1.9M32.3 36h1.9M32.3 29.6h1.9M47.5 26.4h1.9M20.9 5.6h1.9M34.2 7.2h1.9M28.5 32.8h1.9M34.2 39.2h1.9M39.9 40.8h1.9M3.8 32.8h1.9M49.4 4h1.9M24.7 21.6h1.9M5.7 16.8h1.9M17.1 10.4h1.9M7.6 29.6h1.9M28.5 15.2h1.9M13.3 5.6h1.9M3.8 18.4h1.9M36.1 36h1.9M1.9 18.4h1.9M22.8 13.6h1.9M1.9 2.4h1.9M39.9 16.8h1.9M20.9 21.6h1.9M32.3 8.8h1.9M39.9 16.8h1.9M28.5 18.4h1.9M20.9 7.2h1.9M0 42.4h1.9M20.9 37.6h1.9M15.2 32.8h1.9M28.5 20h1.9M30.4 4h1.9M43.7 5.6h1.9M43.7 29.6h1.9M34.2 18.4h1.9M0 7.2h1.9M30.4 15.2h1.9M39.9 34.4h1.9M28.5 12h1.9M17.1 24.8h1.9M22.8 40.8h1.9M41.8 36h1.9M22.8 34.4h1.9M34.2 23.2h1.9M5.7 29.6h1.9M3.8 42.4h1.9M20.9 23.2h1.9M3.8 31.2h1.9M15.2 10.4h1.9M11.4 36h1.9M26.6 8.8h1.9M19 29.6h1.9M20.9 34.4h1.9M47.5 20h1.9M1.9 5.6h1.9M38 15.2h1.9M20.9 31.2h1.9M45.6 42.4h1.9M17.1 29.6h1.9M3.8 2.4h1.9M41.8 39.2h1.9M45.6 29.6h1.9M1.9 12h1.9M20.9 23.2h1.9M39.9 40.8h1.9M11.4 10.4h1.9M22.8 23.2h1.9M17.1 12h1.9M28.5 31.2h1.9M22.8 21.6h1.9M19 16.8h1.9M30.4 21.6h1.9M15.2 10.4h1.9M3.8 2.4h1.9M9.5 26.4h1.9M7.6 7.2h1.9M36.1 34.4h1.9M38 44h1.9M43.7 24.8h1.9M7.6 34.4h1.9M13.3 20h1.9M5.7 24.8h1.9M32.3 23.2h1.9M22.8 39.2h1.9M47.5 10.4h1.9M36.1 18.4h1.9M49.4 16.8h1.9M24.7 13.6h1.9M24.7 2.4h1.9M15.2 45.6h1.9M15.2 18.4h1.9M24.7 40.8h1.9M30.4 18.4h1.9M0 45.6h1.9M43.7 4h1.9M24.7 44h1.9M38 36h1.9M11.4 36h1.9M41.8 44h1.9M3.8 34.4h1.9M11.4 16.8h1.9M45.6 12h1.9M13.3 15.2h1.9M11.4 7.2h1.9M43.7 34.4h1.9M43.7 18.4h1.9M36.1 24.8h1.9M32.3 45.6h1.9M1.9 42.4h1.9M13.3 10.4h1.9M38 4h1.9M26.6 39.2h1.9M0 28h1.9M43.7 10.4h1.9M32.3 21.6h1.9M20.9 15.2h1.9M26.6 18.4h1.9M7.6 44h1.9M19 26.4h1.9M3.8 .8h1.9M26.6 13.6h1.9M9.5 13.6h1.9M13.3 31.2h1.9M19 26.4h1.9M7.6 39.2h1.9M38 12h1.9M24.7 26.4h1.9M39.9 37.6h1.9M36.1 44h1.9M28.5 36h1.9M1.9 34.4h1.9M1.9 37.6h1.9M32.3 10.4h1.9M36.1 16.8h1.9M28.5 5.6h1.9M38 7.2h1.9M39.9 20h1.9M45.6 31.2h1.9M28.5 13.6h1.9M41.8 45.6h1.9M47.5 10.4h1.9M22.8 18.4h1.9M34.2 2.4h1.9M28.5 34.4h1.9M45.6 20h1.9M17.1 5.6h1.9M32.3 45.6h1.9M22.8 10.4h1.9M9.5 36h1.9M1.9 39.2h1.9M38 2.4h1.9M17.1 7.2h1.9M9.5 4h1.9M38 32.8h1.9M24.7 32.8h1.9M47.5 .8h1.9M34.2 24.8h1.9M39.9 29.6h1.9M5.7 44h1.9M38 37.6h1.9M15.2 23.2h1.9M28.5 39.2h1.9M22.8 42.4h1.9M49.4 4h1.9M30.4 13.6h1.9M22.8 15.2h1.9M32.3 37.6h1.9M41.8 20h1.9M19 7.2h1.9M20.9 36h1.9M26.6 18.4h1.9M15.2 16.8h1.9M43.7 24.8h1.9M19 20h1.9M49.4 13.6h1.9M7.6 28h1.9M38 36h1.9M0 29.6h1.9M1.9 28h1.9M41.8 7.2h1.9M24.7 4h1.9M9.5 39.2h1.9M0 26.4h1.9M11.4 13.6h1.9M26.6 31.2h1.9M26.6 31.2h1.9M15.2 31.2h1.9M36.1 31.2h1.9M38 24.8h1.9M3.8 31.2h1.9M36.1 26.4h1.9M22.8 4h1.9M7.6 2.4h1.9M5.7 4h1.9M3.8 26.4h1.9M13.3 31.2h1.9M45.6 7.2h1.9M30.4 15.2h1.9M1.9 20h1.9M38 28h1.9M45.6 23.2h1.9M19 42.4h1.9M13.3 29.6h1.9M1.9 .8h1.9M28.5 39.2h1.9M7.6 13.6h1.9M38 28h1.9M19 34.4h1.9M11.4 21.6h1.9M13.3 45.6h1.9M11.4 39.2h1.9M47.5 40.8h1.9M1.9 39.2h1.9M7.6 36h1.9M0 24.8h1.9M13.3 8.8h1.9M15.2 4h1.9M26.6 23.2h1.9M49.4 20h1.9M26.6 29.6h1.9M32.3 44h1.9M43.7 26.4h1.9M0 26.4h1.9M36.1 45.6h1.9M45.6 34.4h1.9M39.9 28h1.9M5.7 28h1.9M5.7 4h1.9M15.2 7.2h1.9M28.5 20h1.9M5.7 20h1.9M20.9 28h1.9M9.5 40.8h1.9M28.5 4h1.9M45.6 20h1.9M13.3 8.8h1.9M41.8 7.2h1.9M43.7 28h1.9M34.2 32.8h1.9M22.8 10.4h1.9M38 13.6h1.9M26.6 20h1.9M36.1 16.8h1.9M3.8 29.6h1.9M7.6 8.8h1.9M3.8 15.2h1.9M39.9 4h1.9M43.7 18.4h1.9M9.5 42.4h1.9M47.5 20h1.9M1.9 31.2h1.9M20.9 13.6h1.9M9.5 15.2h1.9M20.9 16.8h1.9M26.6 42.4h1.9M36.1 20h1.9M36.1 32.8h1.9M20.9 18.4h1.9M30.4 12h1.9M7.6 21.6h1.9M1.9 42.4h1.9M38 10.4h1.9M22.8 26.4h1.9M13.3 10.4h1.9M24.7 15.2h1.9M30.4 31.2h1.9M49.4 26.4h1.9M0 42.4h1.9M1.9 13.6h1.9M17.1 23.2h1.9M39.9 42.4h1.9M22.8 23.2h1.9M20.9 16.8h1.9M0 34.4h1.9M45.6 40.8h1.9M3.8 20h1.9M17.1 40.8h1.9M22.8 .8h1.9M9.5 34.4h1.9M38 42.4h1.9M15.2 45.6h1.9M20.9 34.4h1.9M20.9 .8h1.9M0 40.8h1.9M34.2 15.2h1.9M15.2 23.2h1.9M7.6 10.4h1.9M19 12h1.9M30.4 24.8h1.9M32.3 5.6h1.9M49.4 8.8h1.9M22.8 4h1.9M47.5 12h1.9M38 18.4h1.9M47.5 10.4h1.9M22.8 44h1.9M19 .8h1.9M15.2 4h1.9M15.2 40.8h1.9M24.7 20h1.9M17.1 21.6h1.9M47.5 26.4h1.9M17.1 39.2h1.9M43.7 36h1.9M26.6 37.6h1.9M0 2.4h1.9M36.1 34.4h1.9M39.9 24.8h1.9M41.8 26.4h1.9M34.2 40.8h1.9M9.5 5.6h1.9M0 24.8h1.9M20.9 39.2h1.9M38 21.6h1.9M32.3 44h1.9M47.5 44h1.9M0 40.8h1.9M24.7 34.4h1.9M0 34.4h1.9M3.8 18.4h1.9M1.9 13.6h1.9M7.6 23.2h1.9M19 .8h1.9M36.1 37.6h1.9M3.8 18.4h1.9M41.8 18.4h1.9M20.9 29.6h1.9M5.7 24.8h1.9M0 37.6h1.9M20.9 36h1.9M34.2 37.6h1.9M5.7 7.2h1.9M47.5 45.6h1.9M38 16.8h1.9M5.7 5.6h1.9M5.7 37.6h1.9M0 32.8h1.9M9.5 28h1.9M45.6 8.8h1.9M3.8 37.6h1.9M32.3 44h1.9M20.9 4h1.9M32.3 24.8h1.9M30.4 40.8h1.9M30.4 13.6h1.9M24.7 20h1.9M38 15.2h1.9M38 12h1.9M3.8 34.4h1.9" stroke="#00058f" stroke-width="1.6"/></pattern><g clip-path="url(#scf)"><path d="M902 1281.9L891.9 1249.9L882.6 1225.4L876 1192.1L882.6 1178.3L891.9 1175.1L905.1 1153.1L916.7 1140L929.9 1129.9L936.1 1118.6L936.1 1143.7L926.8 1156.3L917.5 1175.1L909.7 1200.2L913.6 1225.4L905.9 1244.2L898.9 1263z" fill="url(#pcf)"/><path d="M966.3 1162.6L967 1146.2L971.7 1141.8L994.9 1144.3L1032.1 1149.4L1039.8 1153.1L1037.5 1168.8L1018.2 1179.5L1002.7 1185.8L983.3 1179.5L973.2 1170.1z" fill="url(#pcf)"/><path d="M1041.4 1194L1050.7 1175.1L1045.3 1159.4L1053 1168.8L1056.9 1194L1072.4 1219.1L1080.1 1237.9L1084 1269.3L1089.4 1281.9L1080.1 1291.3L1064.6 1319.6L1049.1 1335.3L1025.9 1354.1L1018.2 1376.1L998.8 1394.9L987.2 1420L975.6 1429.5L971.7 1407.5L987.2 1382.4L1010.4 1351L1037.5 1319.6L1056.9 1294.4L1068.5 1263L1064.6 1231.6L1049.1 1212.8z" fill="url(#pbf)"/><g fill-rule="evenodd" filter="url(#sbf)"><path fill="#000096" d="M888.5 1435l4 .5 1-3 0-1.5 .5-.5 6 0 4-3 2 0 2 1.5 5.5 0 2-1.5 2 0 2-1.5 2 0 3.5-3.5 2 0 2-1.5 2 0 2-1.5 2 0 2-1.5 3.5 0 3.5-2.5 0-1.5 .5-1 10 0 1.5-.5 .5-.5-1-1.5 6.5-5 9.5-.5 5 4 0 1.5 2 1.5 1 2 4-2.5 1.5-.5 1-2-.5-1.5-1.5-1.5 0-1.5-2-1.5 .5-5 1.5-1.5 .5-3-2-1.5 0-2 1-.5 3.5 2.5 2.5-2 .5-1.5 0-1.5 2-1.5 0-1.5 4-3 0-2 2-1.5 0-1.5 9.5-8 0-1.5 1-.5 2 0 4.5-4 .5-8 1.5-1.5 0-1.5 2-1.5 0-1.5-1.5-2 0-1.5 1.5-1.5 0-1.5 3-2 4-.5 2.5-2 .5-6.5 1-.5 1.5 0 2 1 2-1 7-5.5 0-2 1.5-1.5 .5-3 3.5-3 0-1.5 5-4 4 0 7.5-6.5 2 0 .5-.5 .5-2 2-1.5 0-4.5 2-1.5 0-3.5-4-3 0-1.5 1-1 4 0 2-.5 1.5-1 2.5-2 0-2-1.5-1.5 0-3-1.5-1.5 0-3-2-1.5 0-2-4-3 0-8 2-1.5 0-9.5 1.5-1.5 0-3 2-1.5 0-5-2-1.5 0-1.5-4-3 0-1.5-3.5-3.5 0-1.5-6-4.5 0-5-2.5-2-8 0-7-5.5 0-1.5-2-2 0-12.5 2-1.5 0-1.5 2-1.5 0-3 2-1.5-2-2 2-1.5 0-1.5 1.5-1.5 0-1.5-2-.5-4 0-1.5-1 0-1.5 2-2 0-6-.5-1.5-2-2-2 0-2.5 2 0 1.5-2 1.5 0 1.5-2 1.5 0 1.5-4 3.5 0 1.5-3.5 3 0 1.5-3.5 2.5-4 0-7.5 6.5-9.5 0-2-1.5-2 0-2-1.5-2 0-2-2-5.5 0-2-1.5-2 0-2-1.5-2 0-1-1 0-1.5-2-1.5 0-3 2-1.5 0-2 1.5-1.5 0-1.5-2.5-2-2 0-1-1-1-2-1.5 0-2 0-.5 2-2 1.5 0 1.5-1.5 1.5 1 1.5 0 5-5 4-2 0-1-1 0-4.5-.5-1.5-2-1-3-2.5 0-1.5-2-1.5 0-1.5-2-1.5 0-8 1.5-1.5-1.5-1.5 0-1.5-2-2 0-4.5-2-1.5 1.5-1.5-1.5-1.5 0-2-1-.5-.5 .5 0 2-2 1.5 0 1.5-2 1.5 0 3-5 4-2 1-.5 1.5 0 3-2 1.5 0 6.5-2 1.5 0 8-1 1-2 0-2.5 .5-.5 1.5 .5 3-2 1.5 0 2-2 1.5 0 3-2 1.5 0 3-4 3.5 0 7.5 2 1.5 0 3.5 5.5 4.5-5.5 5 0 6 2 1.5 0 3.5 1.5 1.5-3 3 1.5 1.5 0 6.5 2 1.5-2 1.5 0 1.5-5.5 5 1.5 1.5 0 3-9 7-2 1 1 1.5 0 4.5 2 1.5 0 2-1.5 1.5 0 7.5 2 1.5 0 2 1.5 1.5 0 17-1 1-9.5 0-1 .5 0 2-1 .5-2 0-4-3-2 0-2-1.5-2 1.5-.5-1-.5-4.5-.5-2-2-.5-2 .5-1 2-.5 135 1.5 3.5 4 .5 1.5-1.5 2 1.5 2-1.5 2 1.5 2 0zM939 1132l2.5-2.5-2-1.5-.5-2-2 0-.5 3.5z"/><path fill="#0000cd" d="M888.5 1435l4 .5 1-3 0-1.5 .5-.5 6 0 4-3 2 0 2 1.5 5.5 0 2-2 2 0 2-1.5 2 0 3.5-3 2 0 2-1.5 2 0 2-1.5 2 0 2-2 3.5 0 3-2 0-1.5 1-1 10 0 1.5-1-1-1.5 7-5.5 9.5 0 5.5 4 0 1.5 2 1.5 .5 1.5 2-1 2-1.5 1.5-.5 1-1.5-2-3 0-1.5-2-1.5 0-5 2-1.5 0-3-2-1.5 0-2 1.5-.5 1.5 1.5 2 .5 2-1.5 1-1.5 0-1.5 2-1.5 0-1.5 3.5-3 0-2 2-1.5 0-1.5 9.5-8 0-1.5 1.5-1 2 0 4.5-3.5 0-8 2-1.5 0-1.5 2-1.5 0-1.5-2-2 0-1.5 2-1.5 0-1.5 3-2.5 4 0 2.5-2 0-6.5 1.5-1 1.5 0 2 1 2-1 6.5-5 0-2 2-1.5 0-3 4-3 0-1.5 5-4.5 4 0 7.5-6 2.5-.5 0-2 2-1.5 0-4.5 2-1.5 0-3.5-3.5-3 0-1.5 1-1 4 0 1.5-.5 2.5-1.5 1-1.5 .5-2-1-1.5 0-3-2-1.5 0-3-1.5-1.5-.5-2-4-3 0-8 2-1.5 0-9.5 2-1.5 0-3 2-1.5 0-5-2-1.5-.5-1.5-3.5-3 0-1.5-4-3.5 0-1.5-5.5-4.5 0-5-2.5-1.5-8-.5-7-5.5 0-1.5-2-2 0-12.5 2-1.5 0-1.5 2-1.5 0-3 2-1.5-2-2 1.5-1.5 0-1.5 1-1.5 0-1.5-5-.5-1.5-1 0-1.5 2-2 0-6-.5-1.5-2-1.5-2 0-2.5 1.5 0 1.5-2 1.5 0 1.5-2 1.5 0 1.5-3.5 3.5 0 1.5-4 3 0 1.5-3.5 3-4 0-7.5 6-9.5 .5-2-1.5-2-.5-2-1.5-2 0-2-1.5-5.5 0-2-1.5-2 0-2-1.5-2 0-1.5-1.5 0-1.5-2-1.5 0-3 2-1.5 0-2 1-1.5 0-1.5-1.5-2-2 0-1.5-1-.5-1-.5-.5-2.5 0-1 1.5-2 1.5 0 1.5-1 1.5 1 1.5 0 5-5.5 4-2 .5-1.5-1.5 0-4.5 0-1.5-2-.5-3-3 0-1.5-2-1.5 0-1.5-2.5-1.5 0-8 1-1.5-1-1.5 0-1.5-2-2 0-4.5-2-1.5 1.5-1.5-1-1.5 0-2-1 0-.5 0 0 2-1.5 1.5 0 1.5-2 1.5 0 3-5.5 4.5-2 .5-.5 1.5 0 3-2 1.5 0 6.5-2 1.5 .5 8-1.5 1-2 0-2 1-.5 1 0 3-2 1.5 0 2-2 1.5 .5 3-2.5 1.5 0 3-3.5 3.5 0 7.5 1.5 1.5 .5 3.5 5.5 4.5-6 5 0 6 2 1.5 0 3.5 2 1.5-2 1.5-1 1.5 1 1.5 0 6.5 2 1.5-2 1.5 0 1.5-3.5 3-1 2 1 1.5 0 3-9.5 7.5-1.5 .5 1 1.5 0 4.5 2 1.5 0 2-2 1.5 0 7.5 2 1.5 0 2 2 1.5-.5 17-1 1-9.5 .5-1 2-1 .5-2 0-4-3-2 0-2-1.5-2 1.5-1-1 0-4.5-1-1.5-1.5-.5-2 .5-1 1.5 0 135 1.5 3 3.5 1 1.5-1.5 2 1.5 2-1.5 2 1.5 2 0zM939 1131.5l2-2-2-1.5 0-1-1.5 1-.5 1.5z"/><path fill="#0000ff" d="M888.5 1435l2 0 2-.5 1-2 0-1.5 .5-.5 6-.5 4-3 2 0 2 1.5 5.5 0 2-1.5 2 0 2-1.5 2 0 3.5-3 2 0 2-1.5 2-.5 2-1 2-.5 2-1.5 3.5 0 3-2 0-1.5 1-1 10-.5 1-.5-.5-1.5 7-5.5 9.5 0 5.5 4 0 1.5 2 1.5 .5 1 2-.5 2-1.5 1-.5 1-1.5-2-3 0-1.5-1.5-1.5 0-5 2-1.5 0-3-2-1.5 0-2 1.5-1 1.5 1.5 2 1 2-2 .5-1 0-1.5 2-1.5 0-1.5 4-3 0-2 2-1.5 0-1.5 9.5-8 0-1.5 1.5-1 2 0 4.5-3.5 0-8 2-1.5 0-1.5 1.5-1.5 0-1.5-1.5-2 0-1.5 2-1.5 0-1.5 3-2.5 4 0 2-2 .5-6.5 1.5-1 3.5 .5 2-.5 6.5-5 0-2 2-1.5 0-3 3.5-3 .5-1.5 5-4.5 4 0 7.5-6.5 2 0 .5-2 2-1.5 0-4.5 2-1.5 0-3.5-4-3 0-1.5 1.5-1 4 0 1-.5 1-1 1.5-.5 1-3.5-.5-1.5 0-3-1.5-1.5 0-3-2-1.5 0-2-4-3 0-8 2-1.5 0-9.5 2-1.5-.5-3 2-1.5 0-5-2-1.5 0-1.5-4-3 0-1.5-3.5-3.5 0-1.5-6-4.5 0-5-2-1.5-8-.5-7.5-5.5 0-1.5-2-2 0-12.5 2-1.5 0-1.5 2-1.5 0-3 2-1.5-2-2 2-1.5 .5-3-.5-1.5-4 0-2-1.5 0-1.5 2-2 0-6-2-2-4 .5 0 1.5-2 1.5 0 1.5-2 1.5 0 1.5-4 3.5 0 1.5-3.5 3 0 1.5-4 3-4 0-7.5 6.5-8 0-1.5 .5-2.5-.5-.5-1.5-1 0-2-1.5-2-.5-2-1.5-5.5 0-2-1.5-2 0-2-1.5-2 0-1.5-1.5 0-1.5-2-1.5 0-3 2-1.5 0-5-.5-1.5-2 0-2-2-1 .5-.5 1.5-2 1-2-.5-.5 2.5 .5 6.5-6 4.5-2 0-1.5-1.5 0-5.5-5.5-4 0-1.5-2-1.5 0-1.5-2-1.5-.5-8 1-1.5-.5-3-2-2 0-4.5-2-1.5 .5-1.5-1-3.5 0 2-2 1.5 0 1.5-2 1.5 0 3-5.5 4.5-2 1 0 4-2 1.5 0 6.5-2 1.5 0 8-1.5 1.5-2.5 0-1.5 1 0 3.5-2 1.5 0 2-2 1.5 0 1.5 8-1 1.5 .5 4 3.5 6 .5 1 1-.5 1.5-.5 1.5-2.5 2-1 1.5 1 7.5-1.5 2-2-1-3-4 .5-1.5 2-3 .5-1.5 0-2-2-1.5-2-.5-5.5 1.5-2-.5-2-6 0 1-2 1.5 0 3-4 3.5 0 7.5 2 1.5 0 2.5 1 1 1 1.5 3.5 3-5.5 5 0 6 2 1.5 0 3.5 1.5 1.5-1.5 1.5-1 1.5 1 1.5 0 6.5 2 1.5-2 1.5 0 1.5-2 1.5-.5 1.5 1.5 2-1 .5-2-.5 0 4.5-7.5 6.5-2.5 1.5 .5 1.5-.5 4.5 2 1.5 0 2-1.5 1.5 0 7.5 2 1.5 0 2 2 1.5-.5 17-1.5 1-9.5 .5-1 2-1 1-2 0-4-3-2 0-2-1.5-2 1.5-1-1.5-.5-4.5-1-1.5-1-.5-1.5 .5-1 1.5-.5 135 1 2.5 1 .5 3 1 1.5-1.5 2 1.5 2-1.5 2 1.5 2 0zM905.5 1275.5l-1-1.5 0-1.5 .5-1.5 3.5-3 3-2.5 2 0 2 .5 .5 2-.5 1-2 2.5-4 3.5-1.5 1zM1031.5 1269.5l-.5-1.5 .5-2.5 4-1.5 2 0 2 .5 .5 3.5-1.5 1.5-1 .5-4 .5-2-.5zM1018 1268l-.5-2-1.5-1-1.5-1-1-1 1-1 4.5 2.5 1 1.5 0 2zM966 1260l.5-1.5 1.5-.5 2 .5-2 1.5zM989.5 1246l-1.5-2 1-1.5 4-3-1-3 1-1.5 6.5-2 1-3 2-3 1-3 1-2 2 0 1.5 2 .5 1.5-3 4.5-2.5 5 1.5 1 .5 3.5-.5 3-.5-1.5-3.5-1.5-1.5-.5-2 0-1.5 .5-.5 1.5 0 1.5-.5 1.5-1.5 1.5-2 .5zM1034 1239.5l-3.5-3 .5-1.5 2-2 .5-4.5 2-1 2 1 1 1.5 2.5 5 0 1.5-1.5 3.5-2 .5zM973 1230l-.5-1.5 1-2 2 .5 2 1.5-.5 1.5-1.5 1-2 0zM1024.5 1227l-1-1.5 .5-1.5 .5-2 1.5-1 2-.5 2 .5 1.5 1 2-1 1-2 1-.5 2 .5 2 1 1.5 2-.5 2-3 2-2-.5-2-1-2 2.5-1.5 1-2 0zM989 1214.5l-.5-1.5 2.5-2 2 .5 2 3 0 1-2 .5zM1008.5 1191l0-2.5 2 .5 0 2-2 0zM939 1131.5l2-2-2-2-1 .5 0 1.5z"/><path fill="#0018ff" d="M888.5 1435l2 0 2-1 .5-1.5 .5-1.5 .5-.5 6-.5 4-3 2 0 2 1.5 5.5 0 2-1.5 2 0 2-1.5 2 0 3.5-3 2-.5 2-1 2-.5 2-1.5 2 0 2-1.5 3.5 0 3-2 0-1.5 1-1 10-.5 1-.5-.5-1.5 7-5.5 9.5-.5 5.5 4.5 0 1.5 2.5 2 2 0 2.5-2 1.5-1.5-1.5-1.5-.5-3-2-1.5 0-5 2-1.5 0-3-1.5-1.5 0-2 1.5-1 1.5 1.5 2 .5 2-1.5 .5-2.5 2-1.5 0-1.5 4-3 0-2 1.5-1.5 .5-1.5 9.5-8 0-1.5 1.5-1 2 0 4-3.5 0-8 2-1.5 0-1.5 2-1.5 0-1.5-2-2 0-1.5 2-1.5 0-1.5 3.5-2.5 4 0 2-2 .5-6.5 1.5-1 3.5 .5 2-.5 6-5 0-2 2-1.5 0-3 4-3 0-1.5 5.5-4.5 4 0 7.5-6.5 2-1 .5-1 1.5-1.5 .5-4.5 1.5-1.5 0-3.5-3.5-3 0-1.5 1.5-1.5 4.5 0 1.5-1.5 0-1.5 1.5-2 .5-1.5 0-3-2-1.5 0-3-1.5-1.5-.5-2-3.5-3 0-8 1.5-1.5 0-9.5 2-1.5 0-2.5-2 2-4 2-1.5-1.5-.5-3 0-1.5 1.5-3-.5-3.5 .5-3-1-1.5-8-2.5-3 1-1 1-1.5-7.5 .5-1.5 1-2 2-.5 2 .5 2 3.5 2 1.5 1.5 0 .5-1.5-4-3 0-5-2-1.5-8 0-5.5-4.5-4-.5-2-.5-4-3.5-3.5-1.5-2 0-3 4.5-5 4-2 .5-.5-1.5 1-4.5-3-9.5-.5-3.5 .5-3 2.5-4.5-2-2.5-1.5 1-2 1.5-1 1.5 2 4.5 0 3.5-4 7.5-1 1.5-4 3-4 1-1.5 1-3 3 0 1.5 3 3 1.5 .5 6-1.5 2 .5 2 2.5-.5 1.5-1.5 3 2 5 0 1.5-3 6 0 8 1.5 6.5-2.5 3.5-2 1-2-1.5-2-3.5-1.5-1-2 1-2 2-.5 1.5 2.5 2 5.5 .5 2 2 1.5 3.5 0 1.5-1.5 6.5-1.5 4.5-2.5 1.5-1 3-.5 1.5 .5 1.5 2.5 1.5 .5 2-2 1.5-3-5-2.5-1-1.5-3.5 0-1.5 2.5-3 1-2 0-3-.5-1.5-5-4.5-5-3.5-1-1.5-1-8 0-1.5 3-3 .5-1.5-3-4.5-1.5-1-2-.5-2 .5-4.5 2.5-1.5 1.5 .5 4.5-.5 1-2 1.5-2.5-2.5-3-1-1-2-1-3 .5-3.5 1.5-2.5 .5-.5 1-1.5 .5-1.5 1.5-1.5 2-1 2 0 4 1.5 2 .5 1.5-1-.5-2-1-.5-6-1-2-1-1-2 0-1.5 3-1.5 1.5-1.5 1-2 0-1.5-3.5-3 0-1.5 1-2.5 2-1.5 2 1 2 1.5 1 1.5 1 3 2 1.5 1.5-.5 2-2 2.5-3.5-.5-1.5-5.5-4-6-1.5-1-2.5 0-1.5 1-2 2-2.5 2-.5 3.5 3.5 2 .5 2-1 2-3 0-6-2-1.5-6 0-1.5 1.5 0 1.5-2 2-1-2-2-1.5-3-.5-2 0-1 .5-1 5-1.5-.5 1.5-3-.5-4.5 2.5-5.5 0-5.5-2 0-1.5 1-4.5 3.5-3.5 1.5-2 1.5-1 0 .5 1.5 .5 2-.5 1.5-1.5 .5-1.5 0-1.5-.5-1-1.5 .5-3.5-.5-3 .5-2 1.5-1-5-5 0-1.5-2-1.5 0-1.5-2.5-2-2 1-5.5 0-2.5 2.5-3.5 2-1 1 .5 3.5 2.5 2 2 0 2-1 2-1.5 1.5-.5 2 2.5 0 1.5-1 3 1 3 0 7-3 4 0 3.5-.5 .5-4 1.5-1 2.5 2.5 4.5 .5 4 3.5-1 1 2 0 4.5-1 13-2.5 6 0 1.5-1 1.5-4 3.5-4 1.5-2 1-1-1-.5-1.5 1-2 3.5-3 .5-1.5-1.5-4.5 1-2 4.5-3 1-1.5 0-3-1.5-3.5 1.5-4.5-.5-.5-4-.5-6-4.5-1.5 0-5 4-1 1.5 0 1.5-1 1.5 4 3.5 0 1.5-1 3-.5 3-1 1.5-.5 .5-4-.5 0 2 2 1.5-2 1.5 0 6.5 2 0 .5 1.5-.5 3-2 1.5 0 .5 2 .5 2 2 .5 3.5 2 4.5 0 1.5-2.5 1.5-4 .5-2.5 4.5-1.5 1-1.5 1-4 .5-4-2.5 0 6 2 1.5 0 2.5 2-.5 5.5-4 4-1.5 11.5-2 2 0 2 .5 2.5 2 2 5 1.5 1.5 .5 3-.5 3-2.5-4.5-1.5-1-7.5-4.5-2-.5-2 1-2.5 6.5-.5 3 2.5 5 .5 1.5-1.5 1.5-2.5 .5-4-1.5-3.5-2.5-2 .5-2 4-.5 14.5-1.5 1.5-9 0-1 2-1.5 1-2 0-4-3-2 0-2-1.5-2 1.5-1.5-1.5 0-4.5-1.5-1.5-1.5 0-1.5 1.5-.5 135 1 1.5 1.5 1.5 2.5 1 1.5-1.5 2 1.5 2-1.5 2 1.5 2 0zM968.5 1286.5l-1-1.5-1-3 0-1.5 0-2-2.5-3 1.5-4.5-1.5-4-1-7 .5-3 2.5-3.5-1-4.5 0-1.5 1-2.5 3.5 1 2 1 2 1.5 1.5 2 .5 4.5-.5 3.5-.5 1.5-5.5 3-1 1.5 .5 1.5 2 3.5 1.5 4.5 4 4.5 .5 3.5 0 1.5-1.5 1.5-5.5 2.5zM1011.5 1286.5l-1-1-.5-3.5 2.5-3.5 2-1 2 4.5-2.5 3-1.5 2zM926.5 1285l-1.5-1 0-.5 2-1.5 6 1.5-5 1.5zM942.5 1285l0-4 .5-.5-.5-3.5 0-3.5 2-2.5 2-1.5 1-1.5 0-2-3-4.5 0-4 1.5-2.5 .5-3 2-1.5 4-2 1 2 .5 4.5-.5 2-3 1.5-1.5 1.5-.5 1.5 1 1.5 3 4 .5 2.5 .5 3-1 3 1 5-.5 1.5-.5 1-4 .5-4 2.5-2-.5zM1028.5 1278.5l0-3-1-3-1.5-3.5-1 2-2 1.5-8.5 3 0 1-2-5.5-2-8 .5-1.5 1.5-2 2-.5 5.5 .5 4 3.5 2 .5 2-2 0-1.5-.5-1.5-2-1.5-.5-2 3-2.5 7.5-1.5 1 1 .5 1.5 .5 3.5 2 1 .5 3.5 1 3 .5 3.5-.5 1.5-1.5 1.5-6 3-.5 3-1 1.5-2 1zM982.5 1274l-1-2-.5-2.5 4-6 2-.5 1.5 1.5 0 1.5 0 3.5-1 1.5-2.5 3.5-1.5 1zM930 1255l0-1.5 1-2 2-1 3 0 1 1.5-2 3.5-2 1-2-.5zM1053.5 1253.5l-4.5-2.5-.5-2 0-3 .5-2 2-1.5 2 .5 2 1 3 5-1 5-2 .5zM1033.5 1247.5l-2-1.5 .5-3.5-1.5-1.5-2.5-1-8-.5-4 3-.5-1.5 .5-3 0-3-2-9.5 .5-5-1-4.5 .5-1.5 2-2 6 1 4-3 2-.5 3.5 4.5 8 2.5 2 1.5 1 2 .5 3.5-1.5 3 0 1.5 1.5 3 0 3.5-3 12.5-.5 .5-2 .5-2 0zM925 1246l-1-3.5 1-2 2 .5 2.5 1.5 1 1.5 0 2-1.5 1-2 0zM946.5 1244l-1.5-3-.5-1.5 .5-4.5 1.5-10 2-1.5 2-.5 .5-1 .5-1.5-1-3 1.5-4.5-3.5-1.5-1-2 0-3 1-3 6 1.5 3-1.5-1.5-1.5-5.5-3.5-1-6 .5-6.5 .5-1.5 2 .5 3.5 1 2 1 1 2 .5 11-1 3.5-.5 3-1.5 1.5 0 1.5 1.5 1.5 .5 3.5-1.5 4.5 0 5-1 3.5-1.5 2-4.5 2 0 1.5 1 2 1.5 2 2.5 2.5 0 1.5-.5 1-2 0-1.5 .5-2.5 2zM1056 1241l-3-3-.5-1.5 .5-1.5 6-.5 2 2 .5 1.5-2.5 3.5-2 .5zM1074.5 1238l0-5-2 0-1.5 2 .5 1.5 2 1.5zM1022 1232.5l2 .5 2.5-1.5-2.5-1.5-2 .5-1.5 1zM991 1230.5l2 1 2-.5 2-1 2-3 .5-1.5-.5-1.5-2-1-2 0-4 2.5-1 1.5 0 1.5 0 1.5zM911.5 1218.5l1.5-2.5 0-1.5-1.5-1.5zM1024 1218.5l3.5-1 .5-1.5-2-.5-2 0-1 2zM913.5 1201l2 0 2-1 2-4 5.5-3.5 0-1.5-1.5-.5-4 1-6 .5-1 .5-1 1.5 .5 1.5zM1026 1197.5l2 1 1.5-1.5 0-1.5-1.5-1.5-2.5 0-.5 1.5zM1000.5 1195l2 .5 2.5-1.5 .5-1.5-1-5-2 0-3.5 1.5-.5 2 .5 1.5 .5 1.5zM1024 1188l2 0 4.5-3.5 1-1.5 2-.5 1 2 3 3.5 2 0 2-2 0-1.5 2-1.5 0-3 2-1.5-2-2 2-1.5-4-.5-2-1-2-3-.5-1.5 .5-1 4-2.5 0-3-2-1-4-1-2 .5 0 1.5-2 1.5 0 1.5-1.5 2 .5 4.5-.5 3-4 2-1.5 1.5-.5 3-.5 4.5zM929 1152l1.5-.5 2.5-2 7.5 0 4-1 0-3-2-2 0-1-5.5-1.5 0 1-8 6z"/></g><path fill-rule="evenodd" d="M888.5 1435l4 .5 1-3 0-1.5 .5-.5 6 0 4-3 2 0 2 1.5 5.5 0 2-1.5 2 0 2-1.5 2 0 3.5-3.5 2 0 2-1.5 2 0 2-1.5 2 0 2-1.5 3.5 0 3.5-2.5 0-1.5 .5-1 10 0 1.5-.5 .5-.5-1-1.5 6.5-5 9.5-.5 5 4 0 1.5 2 1.5 1 2 4-2.5 1.5-.5 1-2-.5-1.5-1.5-1.5 0-1.5-2-1.5 .5-5 1.5-1.5 .5-3-2-1.5 0-2 1-.5 3.5 2.5 2.5-2 .5-1.5 0-1.5 2-1.5 0-1.5 4-3 0-2 2-1.5 0-1.5 9.5-8 0-1.5 1-.5 2 0 4.5-4 .5-8 1.5-1.5 0-1.5 2-1.5 0-1.5-1.5-2 0-1.5 1.5-1.5 0-1.5 3-2 4-.5 2.5-2 .5-6.5 1-.5 1.5 0 2 1 2-1 7-5.5 0-2 1.5-1.5 .5-3 3.5-3 0-1.5 5-4 4 0 7.5-6.5 2 0 .5-.5 .5-2 2-1.5 0-4.5 2-1.5 0-3.5-4-3 0-1.5 1-1 4 0 2-.5 1.5-1 2.5-2 0-2-1.5-1.5 0-3-1.5-1.5 0-3-2-1.5 0-2-4-3 0-8 2-1.5 0-9.5 1.5-1.5 0-3 2-1.5 0-5-2-1.5 0-1.5-4-3 0-1.5-3.5-3.5 0-1.5-6-4.5 0-5-2.5-2-8 0-7-5.5 0-1.5-2-2 0-12.5 2-1.5 0-1.5 2-1.5 0-3 2-1.5-2-2 2-1.5 0-1.5 1.5-1.5 0-1.5-2-.5-4 0-1.5-1 0-1.5 2-2 0-6-.5-1.5-2-2-2 0-2.5 2 0 1.5-2 1.5 0 1.5-2 1.5 0 1.5-4 3.5 0 1.5-3.5 3 0 1.5-3.5 2.5-4 0-7.5 6.5-9.5 0-2-1.5-2 0-2-1.5-2 0-2-2-5.5 0-2-1.5-2 0-2-1.5-2 0-1-1 0-1.5-2-1.5 0-3 2-1.5 0-2 1.5-1.5 0-1.5-2.5-2-2 0-1-1-1-2-1.5 0-2 0-.5 2-2 1.5 0 1.5-1.5 1.5 1 1.5 0 5-5 4-2 0-1-1 0-4.5-.5-1.5-2-1-3-2.5 0-1.5-2-1.5 0-1.5-2-1.5 0-8 1.5-1.5-1.5-1.5 0-1.5-2-2 0-4.5-2-1.5 1.5-1.5-1.5-1.5 0-2-1-.5-.5 .5 0 2-2 1.5 0 1.5-2 1.5 0 3-5 4-2 1-.5 1.5 0 3-2 1.5 0 6.5-2 1.5 0 8-1 1-2 0-2.5 .5-.5 1.5 .5 3-2 1.5 0 2-2 1.5 0 3-2 1.5 0 3-4 3.5 0 7.5 2 1.5 0 3.5 5.5 4.5-5.5 5 0 6 2 1.5 0 3.5 1.5 1.5-3 3 1.5 1.5 0 6.5 2 1.5-2 1.5 0 1.5-5.5 5 1.5 1.5 0 3-9 7-2 1 1 1.5 0 4.5 2 1.5 0 2-1.5 1.5 0 7.5 2 1.5 0 2 1.5 1.5 0 17-1 1-9.5 0-1 .5 0 2-1 .5-2 0-4-3-2 0-2-1.5-2 1.5-.5-1-.5-4.5-.5-2-2-.5-2 .5-1 2-.5 135 1.5 3.5 4 .5 1.5-1.5 2 1.5 2-1.5 2 1.5 2 0zM939 1132l2.5-2.5-2-1.5-.5-2-2 0-.5 3.5z" fill="url(#pwf)"/><g fill-rule="evenodd" filter="url(#sbf)"><path fill="#0040ff" d="M888.5 1434.5l2 .5 2-1 .5-1.5 0-1.5 1-1 6 0 4-3 2 0 2 1.5 5.5 0 2-1.5 2 0 2-1.5 2 0 3.5-3.5 2 0 2-1.5 2 0 2-1.5 2 0 2-1.5 3.5 0 3-2 0-1.5 1-1.5 10.5-.5-.5-1.5 7.5-6 9.5 0 6 4.5 0 1.5 2 2 2-.5 2-1.5 0-1.5 0-.5-2 1.5-2-.5-1-5 1-3.5 2-1 0-2 2-1.5 0-3-2-1.5 0-2 2-1 1.5 1.5 2 0 2-1.5 .5-2 2-1.5 0-1.5 3.5-3 0-2 2-1.5 0-1.5 9.5-8 0-1.5 2-1.5 2 0 4-3 0-8 2-1.5 0-1.5 2-1.5 0-1.5-2-2 0-1.5 2-1.5 0-1.5 3.5-3 4 0 2-2 0-6 2-1.5 5.5 0 6-4.5 0-2 2-1.5 0-3 4-3 0-1.5 5.5-5 4 0 0-1-4.5-2 0-1.5 6.5-4 2-1 3.5-.5 4 .5 0-4.5 2-1.5 0-3.5-4-3 0-1.5 2-1.5 2 0 0-1.5 1.5-3.5 4-3 .5-1.5-2-1.5 0-3-2-1.5 0-2-4-3 0-8 2-1.5 0-9-2 1.5-1 1.5 0 4.5-1 3-2 .5-2-5-1.5-.5-1.5 5-2.5 2-2 0-4-1-2-1-2-3.5-.5-2.5 .5-3 3.5-6.5-2.5-6.5 2-11 .5-6 1.5-5-1-1.5-2 0-2-1.5-1.5 0-1 0-1 1.5 0 3.5-.5 3 1.5 6 0 2-.5 3 1 6-2 8-1.5 11 .5 9.5 1.5 6-1 3.5-2 3 1 1.5 2 1 0 .5 0 1-2 1-4-.5-6.5 6.5-3 .5-6-1-4 .5-5.5 5-2 0-2-1-1.5-2.5-.5-1-2 .5-3 2-.5 1.5 0 6.5-.5 3-1.5 1-2-.5-1.5-2-2.5-2-4-1-2-1-.5-2-1-2-2-.5-8 0-1 .5-2 5-1 .5-2 0-3.5-4-2-.5-4 4-2-.5-2-1-3.5 1.5-2 0-2-3-2-1-4-.5-1.5-5 .5-4.5 .5-8 .5-3 1-1.5 .5-2-1-6 1.5-12.5-.5-6.5 0-6 2-16 1.5-4.5-1-3.5-.5-3 2-9.5 .5-13.5 1.5-3.5 0-9.5 1-4.5-.5-2-1.5-1.5 0-1.5-2-1.5-.5-2-1.5 .5-1.5 3 .5 16-.5 6-1 4.5 0 3.5-.5 4.5 1 9.5-1.5 17.5-2 11 0 6-1.5 6.5 .5 4.5-1.5 7-3.5 1 0 1.5 3.5 6.5 .5 4.5-1.5 12.5-3 7.5-2 2-2 1-2 .5-3.5-4-5.5-4-10-4-2 3-2 1.5-.5 10.5-1.5 1.5-8.5 0-3 3-2 0-4-3-2 0-2-1.5-2 1.5-1.5-1.5 0-4.5-2-1.5-2 1.5-.5 22-.5 113 1 1.5 2 1.5 2 .5 1.5-1 2 1 2-1 2 1.5 2 0zM887 1330.5l-4.5-3-.5-1.5 .5-1.5 2-1 2-.5 4.5 3 1.5 1.5-1 1.5-1 1.5-2 .5zM913.5 1299l-2-1.5-1-1.5 1-.5 4 0 1 .5 1.5 1.5-.5 2-2 0zM1052.5 1271l-4.5-1.5-2-1.5 .5-3.5 2.5-4.5 2 1 2 2.5 4 .5 .5 .5 1.5 5-.5 1.5-1.5 1-2-.5zM956 1289.5l2-.5 1-1 2.5-3 0-1.5-1-5 .5-3 1.5-4.5-1-6.5 0-7.5 1.5-5-.5-8 .5-11 3-12.5-1-6 1-3 2-3.5 0-1.5 0-1.5-2-3-.5-2 2.5-4.5 1.5-1 2-.5 0-2-2 1 0-.5-1.5-1-2-4 0-6-1-5-1-1-1 1-.5 2-2 4.5 1 4.5-.5 6.5 0 6-1.5 8 .5 6.5-2 12.5-2 4-1.5 2 2.5 5 1 3-2.5 11 .5 5-1 3 .5 3-1 12.5 .5 5-1 4.5 0 1.5zM1006.5 1281l.5-.5 1.5-.5 2.5-4.5 0-3-2.5-4.5-2 2-3 4 .5 1.5 2 3zM923.5 1279l2-.5 .5-1.5-2.5-1.5-1.5 0-.5 1.5zM975.5 1274.5l2 .5 1.5-1 0-1.5-.5-3 0-1.5 2-3.5-1-2.5-2 .5-3.5 2-.5 1.5 1 3.5 0 3zM921.5 1271.5l2-.5 .5-1.5-.5-1-2 .5zM921.5 1258.5l2 0 1.5-1.5 1.5-5-1.5-2-.5 .5-2 3-4.5 3.5zM1008.5 1258.5l2 0 1-1.5 .5-2-1.5-3.5-2 0-1 2zM977.5 1247.5l2 1.5 1-1.5 .5-1.5-.5-2-1-1-2 .5-.5 .5-.5 2zM1020 1248l2.5-.5 1.5-1.5-2-1.5-2 1-.5 2zM1010.5 1242l2-1.5 .5-1-.5-11-2 .5-.5 1-.5 9.5zM921.5 1230l2 1 1.5-.5 2-2 0-2-1.5-2.5 .5-2 1-1.5-.5-1.5-1.5-.5-.5 .5-.5 1.5 .5 1.5 0 2-4 3-.5 1.5zM925 1213l2 0 2-.5 1-3-.5-1.5-2.5-2.5-2-1-1.5 0-3 2-.5 1.5 .5 1.5 3 2.5zM1012.5 1212.5l2-2 1-7 .5-1.5-1.5-4.5-2 1-2.5 3.5 0 1.5-.5 6z"/><path fill="#0068ff" d="M888.5 1434.5l2 0 1-.5 1.5-1.5 0-1.5 1-1 6 0 4-3 2 0 2 1.5 5.5 0 2-1.5 2 0 2-1.5 2-.5 3.5-3 2 0 2-1.5 2 0 2-1.5 2 0 2-1.5 3.5 0 2.5-2 0-1.5 1.5-1.5 10-.5 0-1.5 7.5-6 9.5 0 2 1.5 1.5 0-1-1.5 .5-1.5 1.5-3.5 1.5-1.5 2.5-1.5 2-1.5 .5-1.5-1-1.5 0-2 2-1.5 1.5 1.5 2-3 2-1.5 2 0 0-1.5 3.5-3 .5-2 2-1.5 0-1.5 2-1.5 1-1.5-1.5-3 0-2 4-4 2-1 6 1 .5-.5-.5-1.5-1.5-3 0-2 5.5-2.5 1.5-2 0-1.5 2-3-1.5-2 0-1.5 2-1.5 0-1.5 3.5-3 4 0 .5-1.5 1.5-1 0-5.5 2-1.5 5.5 0 3.5-3-.5-1.5-1-1.5-1.5-.5-.5-1.5 4-2 7.5-5.5 4-3.5 0-.5-2-1-1-1.5-.5-1.5 1-1.5 6-5 2.5-4 3.5-2 1-6.5 1-.5 2-.5 2-1 4-6.5 4-4.5 0-4-2-2 0-1-2-2-1.5 0-1 1.5-1.5 2-2 1-3 3.5-2.5 1.5-2 .5-6-.5-2 .5-1.5 2.5-2 6-6 0-2 1-3.5 4-8 2-2 0-4-1.5-2 .5-3.5 4-6 1.5-2 1.5 0 1.5 2 1.5-.5 1.5-3.5 1.5-4 .5-3.5-.5-2-1.5-2-2.5-2-1-2-.5-5.5 1.5-2-1.5-2-2.5-2 .5-2 3 .5 1.5 1.5 1.5 4 0 1.5 3.5-.5 4.5 0 3-1 1.5-3.5-1.5 0-3-2.5-3.5-2-1-2 0-2-1-.5-.5-.5-3.5-.5-1.5-2-1-2 0-1 1-1 3-2 .5-4-1-1.5 0-6.5 4 1 1.5 5.5 .5 1.5 1 .5 1.5-1 1.5-3 1.5-2 0-2-1-2-3.5-4.5-3 .5-1.5 3-2 0-1.5-5-2-.5-1 .5-3-1-8 1-4.5-.5-5 2.5-9.5-.5-7.5 1.5-11-.5-8 .5-15.5 .5-2 .5-.5 1.5-7-1-5 0-4.5 2-8 .5-12.5 1.5-6 .5-11 0-2-1-1.5 0-1.5-2-1.5 0-1.5-.5 0-1 3-.5 20.5-1 6 .5 20.5-1.5 6.5-1 23.5-2 6.5 0 6-.5 5-2 6 1.5 9.5-1 8 .5 4.5-2.5 9.5-1 1.5-2.5 1.5-.5 1.5 1.5 2 4 .5 2 1-5.5 3-1 1.5-1.5 3-2 1-2-.5-3.5-2-2 0-2 .5-3.5 2.5-4.5 1-2 0-1-1-.5-1.5 2.5-7.5-1-2-5.5-3.5 0 2-2 1.5-5 0 .5 2 2 1.5 0 1.5-4.5 3-2.5 2.5-2 .5-12-7-3.5 0-2-3-.5 15 0 113 1 1.5 1.5 1.5 2 .5 1.5-1.5 2 1.5 2-1.5 2 1.5 2 0zM875 1338.5l-.5-11 .5-5.5 3.5 1 6-2 4-.5 4 2 3.5 1.5 6 3 4 1 3.5-1.5 4-2.5 1.5 2 0 1.5-.5 1.5-3 2-2 .5-3.5-1.5-6 1-4-1-2 .5-1.5 2.5-2 .5-4 .5-6 3.5-3.5 1zM927 1333.5l-2-1.5 0-2 1-1-1.5-3 .5-1 2 1 0 1.5 2 1 2 .5 6-2 2 .5 1 1.5-1 1.5-4 1-6 2zM888.5 1305.5l2 0 2-1 .5-.5 0-1.5-.5 0-2 1.5-2 0-2-1.5-1 0 0 1.5zM956 1286l2-.5 .5-.5 .5-1.5-.5-5 2-7.5-.5-6.5 .5-7.5 1-5-1.5-9-2 4.5-1 4.5 .5 5-.5 6-1 6.5 0 6 0 3 1 2-1 1 0 2zM1006.5 1276l2 .5 .5-1 .5-1.5-1-1.5-2 1zM1045.5 1262l1-5-1-5-1.5 1.5 0 6.5 0 1.5zM1059 1260l2 1 1-1-.5-1.5-.5-.5-2 1.5zM1045.5 1245.5l0-1.5 2.5-3 0-1.5-1-3.5-1.5 1-.5 1-.5 4.5zM960 1241l1-3 .5-5 1.5-6 .5-6.5-.5-6 2.5-6.5 0-3-1.5-3-2 1.5-1 4.5 .5 8-3.5 17 0 2zM1047 1227l.5-3 1-5-.5-4.5 1.5-3.5-2.5-1.5-.5 1.5 0 3.5-1 4.5 1.5 5zM964 1199.5l2-5.5 0-1.5-2-3-1.5 4.5 .5 3z"/></g><path fill-rule="evenodd" d="M888.5 1434.5l2 .5 2-1 .5-1.5 0-1.5 1-1 6 0 4-3 2 0 2 1.5 5.5 0 2-1.5 2 0 2-1.5 2 0 3.5-3.5 2 0 2-1.5 2 0 2-1.5 2 0 2-1.5 3.5 0 3-2 0-1.5 1-1.5 10.5-.5-.5-1.5 7.5-6 9.5 0 6 4.5 0 1.5 2 2 2-.5 2-1.5 0-1.5 0-.5-2 1.5-2-.5-1-5 1-3.5 2-1 0-2 2-1.5 0-3-2-1.5 0-2 2-1 1.5 1.5 2 0 2-1.5 .5-2 2-1.5 0-1.5 3.5-3 0-2 2-1.5 0-1.5 9.5-8 0-1.5 2-1.5 2 0 4-3 0-8 2-1.5 0-1.5 2-1.5 0-1.5-2-2 0-1.5 2-1.5 0-1.5 3.5-3 4 0 2-2 0-6 2-1.5 5.5 0 6-4.5 0-2 2-1.5 0-3 4-3 0-1.5 5.5-5 4 0 0-1-4.5-2 0-1.5 6.5-4 2-1 3.5-.5 4 .5 0-4.5 2-1.5 0-3.5-4-3 0-1.5 2-1.5 2 0 0-1.5 1.5-3.5 4-3 .5-1.5-2-1.5 0-3-2-1.5 0-2-4-3 0-8 2-1.5 0-9-2 1.5-1 1.5 0 4.5-1 3-2 .5-2-5-1.5-.5-1.5 5-2.5 2-2 0-4-1-2-1-2-3.5-.5-2.5 .5-3 3.5-6.5-2.5-6.5 2-11 .5-6 1.5-5-1-1.5-2 0-2-1.5-1.5 0-1 0-1 1.5 0 3.5-.5 3 1.5 6 0 2-.5 3 1 6-2 8-1.5 11 .5 9.5 1.5 6-1 3.5-2 3 1 1.5 2 1 0 .5 0 1-2 1-4-.5-6.5 6.5-3 .5-6-1-4 .5-5.5 5-2 0-2-1-1.5-2.5-.5-1-2 .5-3 2-.5 1.5 0 6.5-.5 3-1.5 1-2-.5-1.5-2-2.5-2-4-1-2-1-.5-2-1-2-2-.5-8 0-1 .5-2 5-1 .5-2 0-3.5-4-2-.5-4 4-2-.5-2-1-3.5 1.5-2 0-2-3-2-1-4-.5-1.5-5 .5-4.5 .5-8 .5-3 1-1.5 .5-2-1-6 1.5-12.5-.5-6.5 0-6 2-16 1.5-4.5-1-3.5-.5-3 2-9.5 .5-13.5 1.5-3.5 0-9.5 1-4.5-.5-2-1.5-1.5 0-1.5-2-1.5-.5-2-1.5 .5-1.5 3 .5 16-.5 6-1 4.5 0 3.5-.5 4.5 1 9.5-1.5 17.5-2 11 0 6-1.5 6.5 .5 4.5-1.5 7-3.5 1 0 1.5 3.5 6.5 .5 4.5-1.5 12.5-3 7.5-2 2-2 1-2 .5-3.5-4-5.5-4-10-4-2 3-2 1.5-.5 10.5-1.5 1.5-8.5 0-3 3-2 0-4-3-2 0-2-1.5-2 1.5-1.5-1.5 0-4.5-2-1.5-2 1.5-.5 22-.5 113 1 1.5 2 1.5 2 .5 1.5-1 2 1 2-1 2 1.5 2 0zM887 1330.5l-4.5-3-.5-1.5 .5-1.5 2-1 2-.5 4.5 3 1.5 1.5-1 1.5-1 1.5-2 .5zM913.5 1299l-2-1.5-1-1.5 1-.5 4 0 1 .5 1.5 1.5-.5 2-2 0zM1052.5 1271l-4.5-1.5-2-1.5 .5-3.5 2.5-4.5 2 1 2 2.5 4 .5 .5 .5 1.5 5-.5 1.5-1.5 1-2-.5zM956 1289.5l2-.5 1-1 2.5-3 0-1.5-1-5 .5-3 1.5-4.5-1-6.5 0-7.5 1.5-5-.5-8 .5-11 3-12.5-1-6 1-3 2-3.5 0-1.5 0-1.5-2-3-.5-2 2.5-4.5 1.5-1 2-.5 0-2-2 1 0-.5-1.5-1-2-4 0-6-1-5-1-1-1 1-.5 2-2 4.5 1 4.5-.5 6.5 0 6-1.5 8 .5 6.5-2 12.5-2 4-1.5 2 2.5 5 1 3-2.5 11 .5 5-1 3 .5 3-1 12.5 .5 5-1 4.5 0 1.5zM1006.5 1281l.5-.5 1.5-.5 2.5-4.5 0-3-2.5-4.5-2 2-3 4 .5 1.5 2 3zM923.5 1279l2-.5 .5-1.5-2.5-1.5-1.5 0-.5 1.5zM975.5 1274.5l2 .5 1.5-1 0-1.5-.5-3 0-1.5 2-3.5-1-2.5-2 .5-3.5 2-.5 1.5 1 3.5 0 3zM921.5 1271.5l2-.5 .5-1.5-.5-1-2 .5zM921.5 1258.5l2 0 1.5-1.5 1.5-5-1.5-2-.5 .5-2 3-4.5 3.5zM1008.5 1258.5l2 0 1-1.5 .5-2-1.5-3.5-2 0-1 2zM977.5 1247.5l2 1.5 1-1.5 .5-1.5-.5-2-1-1-2 .5-.5 .5-.5 2zM1020 1248l2.5-.5 1.5-1.5-2-1.5-2 1-.5 2zM1010.5 1242l2-1.5 .5-1-.5-11-2 .5-.5 1-.5 9.5zM921.5 1230l2 1 1.5-.5 2-2 0-2-1.5-2.5 .5-2 1-1.5-.5-1.5-1.5-.5-.5 .5-.5 1.5 .5 1.5 0 2-4 3-.5 1.5zM925 1213l2 0 2-.5 1-3-.5-1.5-2.5-2.5-2-1-1.5 0-3 2-.5 1.5 .5 1.5 3 2.5zM1012.5 1212.5l2-2 1-7 .5-1.5-1.5-4.5-2 1-2.5 3.5 0 1.5-.5 6z" fill="url(#pvf)"/><g fill-rule="evenodd" filter="url(#sbf)"><path fill="#0094ff" d="M888.5 1434.5l2 0 1-.5 1.5-1.5 0-1.5 1-1 6-.5 4-2.5 2 0 2 1.5 5.5-.5 2-1.5 2 0 2-1.5 2 0 3.5-3 2 0 2-1.5 2-.5 2-1 2 0 2-2 3.5 0 2.5-1.5 0-1.5 1.5-1.5 7-.5 1-1.5 2 0 1.5-1.5 6-4.5 7 0 4-5 .5-1.5-1.5-4.5 1-1.5 .5-1 2 0 2 1 2-1.5 1-2 3.5-3 1-1.5-.5-1.5-3-3.5-.5-1.5 1-1.5 1.5-1 4-2 2-1.5-1.5-5 1-1.5 2 0 4 .5 2-.5 1.5-1.5 5.5-8 2.5-2 6-1.5 1-1 1-3 0-5 .5-1.5 9-4 3.5-2 0-2-3-4.5 .5-3 0-3.5 1-1 2-2 2-.5 3.5-.5 4-1.5 5.5-3.5 2-3.5-.5-3 1.5-3 5.5-5 1-1.5-1-3 1.5-1.5 4.5-1.5 .5-2 1-4.5 2-1 3.5-1.5 2.5-2 4-8 3.5-1.5-1.5-1.5-.5-2-2 .5-2 3-9.5 6-2 .5-6 0-1.5 1-.5 1.5 0 3.5-.5 1.5-1.5 .5-5.5 1-3.5 3-2.5 1.5-6 .5-7.5 4-4.5 3.5-3 2.5-12 3.5-5.5-1-2 1.5-.5 1.5-1.5 2-4 0-1.5 1-2 5-2 1-8 0-4-1.5-3.5-2-4 1-2-.5-2-1.5-2 0-2 .5-1.5 1.5-1 1.5 0 1.5 4.5 2.5 1.5 2 0 1.5-1.5 2-3.5 1-2-.5-4-1.5-1.5 1 0 1.5-3 4.5-1.5 5-3.5-1.5-4 0-10 3-1.5 .5-4-1-4 2.5-2-.5-3.5-1.5-4-3.5-2 0-2 2-.5 1.5-1 1.5-2.5 1.5-2 1-2-1.5-1.5-2-3-.5-1 0-2 1-4 4.5-2 .5-2-.5-3.5-.5-1-3.5-.5-11 .5-6.5 1-3 3.5 2 2 0 8-2 4 1.5 3.5 .5 6 4 2 .5 2 0 3.5-3 2-.5 2-.5 6 1 5.5-1.5 2 0 6 2 2 0 4-1.5 1 .5-1 .5-1 1 1 2 1.5 .5 3-.5 1.5-2-3.5-1.5 5-2.5 1.5-2 0-1.5-3.5-4-2-1.5-3.5-1-2 .5-6 4.5-4 1-2-.5-1.5-1-2-.5-10 1.5-3.5 0-2.5-2.5-1-3-.5-.5-2-.5-4 1.5-4 4-3.5 2-2 0-4.5-3.5-3.5-1-3.5 3-2-.5-.5-4.5-.5-1.5-1-1-.5 123.5 2.5 2.5 2 1 1.5-1.5 2 1.5 2-1.5 2 1.5 2 0zM962 1308l4-.5 0-.5-2-1.5-2 .5-1.5 1zM958 1273.5l1-4-1-2.5-.5 2.5zM940.5 1270l1-5.5-.5-14 1.5-3 0-1.5-2-1-.5 13.5-1.5 3-.5 3 1 4.5zM944.5 1191.5l2-.5 0-6.5 2.5-17-.5-5-2-1.5-.5 4.5-.5 9.5 .5 6.5 .5 3-.5 1.5-1.5 2.5z"/><path fill="#00bcff" d="M888.5 1434.5l2.5-.5 2-1.5 0-1.5 1-1 6-.5 4-3 2 0 2 2 5.5-.5 2-1.5 2 0 2-1.5 2 0 3.5-3 2-.5 2-1 2-.5 2-1.5 2 0 2-1.5 3.5 0 2.5-1.5 0-1.5 1.5-1.5 3.5-.5 .5-1.5 2-2.5 2-1 5.5 0 4-2.5 4-1.5 .5-2-.5-1.5-2-1-4 .5-1.5-1 .5-1.5 5-4.5 4-.5 1.5-1 1-2 0-3 5-7.5 2-2 7.5-4.5 .5-1.5-2-5 2.5-1.5 3-1.5 6-1 1.5-4 .5-3 4-1.5 1.5-1 1.5-2 .5-1.5-1.5-3.5 0-1.5 3.5-2.5 5.5-2 3-1.5 1.5-1.5 0-2-1-1.5 0-1.5 4.5-5 3-4.5 5-4.5 2-.5 3.5 .5 4-1.5 1-1.5 .5-3.5 4-6 5-5-.5-1.5-1.5-1.5 0-1.5 5-5-1-1.5-6.5 .5-6 4-9.5 3.5-4.5 3-7.5 4.5-5.5 .5-3 1.5-3 3-5.5 1-5 4-.5 1.5 0 3-2.5 1.5-2 0-5.5-1-4 1-1 1.5-.5 3.5-1.5 1.5-3 1-5.5 0-4 1.5-2.5 3.5-5.5 2.5-1.5 2.5-2 1.5-2 .5-6 1.5-2-.5-3.5-3-2-.5-2 0-4.5 2-2 1.5-1.5 3-.5 0-3 .5-4 2-10-6-3.5-.5-4 1.5-6 4-4 0-2.5-1.5-1-1.5-1 1.5-3 1.5-6.5 1.5-1.5 2 0 1.5 2.5 4.5 2 1.5 5.5 1 1.5 .5 1.5 3.5-5 3-6 .5-2 1 0 1.5 2 1 2-.5 4-2.5 .5 .5 1.5 .5 1.5 4.5-3.5 6.5-2 1.5-4 .5-1 .5-2.5 4.5-1-2.5 0-11 .5-3.5-1-4.5 1-12.5 0-6.5-1.5-4.5 0-7-.5 98 2.5 2.5 2 1 1.5-1.5 2 1.5 2-1.5 2 1.5 2 0zM891 1362l-.5-1.5 3.5-1.5 2 .5 .5 2.5-.5 .5-2 .5zM873 1321.5l1-5-1-6 0 6zM904 1319.5l2 0 2-1 1.5-.5-3.5-2-2-.5-2 1-.5 1.5zM913.5 1318l4 .5 1.5-.5 1-1.5-2.5-1-6 1 .5 1.5zM931 1318l2 .5 2-.5 1-1.5 0-1.5-3 0-2 1-.5 .5zM964 1319l2 0 2.5-1-2-1.5-3 0-1 1.5zM900 1314.5l2-1 0-2-2-.5-.5 .5-.5 2zM1055 1284.5l2.5-2.5-2-1.5-2.5-.5-.5 2 1 1.5z"/><path fill="#00e4f8" d="M888.5 1434l2.5 0 1.5-1.5 0-1.5 1.5-1 6-.5 4-3 2 0 2 1.5 5.5 0 2-1.5 2 0 2-1.5 2 0 3.5-3 2-.5 2-1.5 1.5 0 2.5-1.5 2 0 2-1.5 1.5 0 .5-.5 1.5 .5 2-1.5 0-1.5 2.5-2 1-4.5 1-1.5 1.5-1.5 2-.5 5.5 0 1.5-1-2-3.5 0-1.5 .5-1.5 6-7.5 4-1 2-2 3.5-5 1-3.5 1-1.5 8-4.5 1-1.5-1-2-2.5-1.5-1.5-1.5-.5-1.5 .5-1.5 2-1.5 2-.5 5.5 0 3-1 2-2-1-2-1.5-1 0-1.5 3-6.5 8-3.5 4-3 5-2.5 1-1.5 .5-3.5 1.5-5 3.5-4.5 2-1.5 6-3 1-1.5 3-8 2-1 5.5-.5 1.5-1.5 2-3 2.5-3.5 0-3 .5-1.5-.5-.5-4 1-6 3.5-8.5 4-5 4-7.5 5-10 2-1.5 1.5-.5 1.5 .5 1.5 0 1.5-2 2-4 1-6 3.5-5.5 1.5-6 3-6-1-1.5 .5-1 .5-2 3-1 1.5-4 1.5-2 2-.5 1.5 .5 1 3 2 0 1.5-1 .5-1.5-.5-2.5-3-1.5-.5-4 0-6 2.5-2 .5-2.5-1-1-1.5-2-1-2 2.5-2 1.5-1 1.5 .5 2 4 3 .5 1.5-2 1-2 .5-8 .5-1.5-.5-9-4.5-.5-3.5-2.5-2-5.5-2-3 1-1.5 1.5 0 1.5 .5 1 6-.5 1.5 1 3 2-.5 1.5-2.5 2-3.5 .5-1.5 .5-3.5 3-1 2-.5 4.5-1.5 3-2 1-3.5 .5 0 2-4 3.5-1.5 2.5-2 5 1.5 1.5-.5 1.5-5 3-2.5 .5-1.5 1-2 3-2-8-.5 46 2.5 2.5 2 1 1.5-1.5 2 1.5 2-1.5 2 1.5 2 0zM873 1359l1-9.5-.5-6.5-.5-2zM882.5 1353l2-.5 2-1 2-1 4 1 1.5 0 2.5-2-.5-1.5-3.5-1-10 .5-2 0-1 2 .5 1.5 .5 1z"/><path fill="#1fffd7" d="M890.5 1434.5l2-1.5 0-2 1.5-1.5 5.5 0 4.5-3 2 0 2 1.5 5.5 0 2-1.5 2 0 2-1.5 2 0 3.5-3.5 5-1.5 1-1 3.5-.5 1-3 1.5-3 3.5-3 5-6.5 1-1.5 3.5-2 6-7 2-4 0-3 2-4 1 1 3 1.5 2-.5 2.5-2.5-.5-2-1.5-1.5 1-1.5 4-1.5 6-3 1-1.5-3.5-5-.5-1.5 1-2.5 4.5-4 4.5-4.5 2.5-1.5 2-1.5 1-3.5 1-1 9.5-4.5 4.5-3.5 1-1.5 3-8 3.5-5 3.5-2.5 6.5-3.5 3-6.5 .5-3 0-1-2-.5-2 1-5 3.5-7.5 5-10.5 8-6 2.5-4 3-2 .5-3.5 .5-6 3.5-2 .5-4-1-2 0-.5 1-.5 3.5-.5 1.5-2.5 1.5-1 1.5-.5 3-2 2-4 .5-2.5-1-3-1.5-2-.5-6.5 4-1 1.5-.5 3-2 2-3.5 1-12 1.5-1.5 2 3 3 0 1.5-1.5 .5-3.5 1-2-1-4-3-7.5-3.5-2 0-2.5 1.5-1.5 1.5 0 6-.5 1.5-3.5 4-1.5 1-4 .5-2 .5-1.5 2 .5 1.5 1 1.5 4.5 2 2 1.5-3 1.5-3.5 1-9.5 5-1 2 0 1.5-1.5 1-3.5 .5-2-2-.5 36.5 2.5 2 2 1 1.5-1 2 1 2-1 2 1.5 2 0 2.5 1zM1028 1305.5l3.5 0 2-1 1-.5 0-1.5-1-2-5 2-2.5 1.5 .5 1.5z"/><path fill="#43ffb4" d="M890.5 1434l2-1.5 0-1.5 1.5-1.5 4.5 0 1.5-1 2-.5 2-1.5 2 0 2 1.5 4 0 3.5-3 2-.5 2-1 2-2.5 3.5-2.5 2-1.5 2 .5 2-1.5 2-2.5 2-5.5 5.5-3.5 4.5-6.5 7.5-6 1-2-1.5-3 .5-1.5 2.5-3 1-4.5 2-2 2-1 11.5-3 2-1 1-1-.5-2-1.5-1.5-.5-1.5 0-1.5 .5-1.5 9.5-9.5 4-3 1-1.5 1-3.5 11-6 1.5-3 4.5-5 1.5-3 3.5-6.5 10-5.5 1-.5 .5-1.5 0-2-1.5-.5-7 4-2 1.5-2 3-4.5 1.5-5 3.5-4.5 1.5-2 1.5-2 2.5-2 1.5-14 5.5-2 1.5-5 2.5-2 2-1 3-1.5 2-1.5 .5-7.5 .5-4-.5-2 1-1 3 0 3-1 1.5-2 1-5.5-.5-8 1.5-1 1.5 .5 3-1.5 2-5.5 1-4 0-6-3-8-1.5-.5 1.5 0 1.5 1 3.5 3.5 1 2 1 1 1-1 1.5-2 0-3.5-2.5-4 2-2 3.5 .5 1.5 1.5 1.5-.5 3.5-1.5 1.5-5.5 3-4 3.5-4 1.5-1.5 1.5-4.5 7-2 .5-1.5 .5-2 2.5-2 6.5-.5 17.5 .5 1.5 2 2 2 1 1.5-1 2 1 2-1.5 2 1.5 2 0z"/><path fill="#63ff94" d="M884.5 1432.5l5.5 0 2.5-.5 0-1 1.5-1.5 2 0 6-3 2-1.5 4 .5 1.5-.5 8-4.5 7.5-6 5-2.5 2.5-4.5 6.5-4.5 1-2 1-3 6-4.5 1.5-1.5 .5-2-1.5-3 0-1.5 5-3.5 3-6 2.5-2 7-2.5 3-1.5 1-2-1-4.5 5.5-4.5 4-5 7-6 1.5-3.5 1-1 6-3.5 4-4.5 4.5-3.5 1-1.5 1-1.5 0-3-1-1-5.5 2-3 2-1 3-2 1.5-11.5 4.5-4 2.5-6 1.5-1.5 1.5-2 4-2 2-4 .5-3 1-4 6-2.5 2.5-2 .5-6 0-2 1-7 5.5-2.5 1.5-6 0-3.5 1.5-4-1-1.5 1.5 1.5 1 4 0 .5 2-1 1.5-4 1.5-2.5 3-3 0-3.5-1-2 .5-3 5.5-5 3-11.5 10-2.5 6-1.5 .5-4 .5-1.5 1.5-1 2-1 4.5-2 2.5 0 14.5 2 2.5 2 .5 1.5-1 2 .5 2-.5z"/><path fill="#83ff73" d="M875 1431.5l2 0 5.5-.5 6 0 2-.5 12.5-9 3-.5 3.5 0 2-.5 3.5-3.5 4.5-1 2-1 1-1 .5-2-.5-1.5 1-1.5 5.5-1 6-5 1-2 .5-3 1-1.5 5-2.5 2-1.5 1-.5 0-2-.5-1.5 .5-3 1-1.5 4-2 1-1 2-5 2.5-2.5 4-3 4-1 1.5-1.5 .5-5 1-1 5-3 3.5-5 5.5-4.5 4-6.5 5.5-3 1.5-1.5 .5-1.5-1.5-2-4 1.5-5.5 2.5-6 3.5-6 2-3 5-2.5 1-4 1-1.5 1-3.5 4.5-2.5 3-4 1.5-6 1-2 1-7.5 6-6 2.5-9.5 9-2 1-2 0-4-1-1.5 0-1.5 1.5-2.5 3.5-2 1-3 3-5 3-4.5 5-.5 1.5 0 3.5-2.5 2.5-2 1-4-.5-2 1 0 .5 .5 3-1 1.5-3 5-2 4 0 7.5zM997 1331l2.5-.5 .5-1.5-1-1-1.5 1-1 1.5z"/><path fill="#a4ff53" d="M875 1431l2.5 0 7-2 4 0 2-.5 9.5-7 4-2 5.5-1.5 2.5-2.5 1.5-1 4-1.5 1.5-4 2.5-1.5 7.5-2.5 1-.5 1.5-1.5 1-2-.5-1.5 .5-1.5 2.5-3.5 2-1.5 3.5-1 1.5-2 1.5-4.5 1-1.5 5-3 1.5-2 1.5-4.5 5.5-5 4.5-3 1-3 1.5-1.5 5-3 1.5-2 2-3 6-4.5 3-6.5 1-1.5 0-.5-6 3-6 1.5-2 2-1 2-1.5 1.5-7 2-6.5 7.5-5 2.5-4 1-3 1-8.5 6.5-6 3-8.5 8-3 1-6 0-1 .5-5.5 8-3 1.5-4 1-2 1.5-3 7-2 3-2.5 1.5-4 1.5-1.5 1.5-2 5 0 3-4 4.5-2 3.5 0 1.5z"/><path fill="#c7ff30" d="M875 1430l15.5-4.5 3.5-1.5 5.5-4 8.5-4 7.5-5 4-3.5 7.5-4.5 7.5-11 4.5-2.5 4-5.5 5.5-5 2-4.5 1.5-1.5 7-6.5 4-4.5 6.5-5 1-1.5 1-3 6-3 .5-1.5-.5-2-4.5 2-2.5 3-1 .5-1.5 1-6 1-1.5 .5-4.5 5.5-3.5 3-10 4.5-5.5 4-4 3-9.5 6-4 3.5-2 .5-7 1.5-7 8-6.5 3-1.5 1.5-4.5 8-2.5 2-4.5 2.5-1 1.5-2.5 6.5-5 6.5-1 1.5z"/><path fill="#e7ff0f" d="M877 1427.5l1.5 0 2 0 13.5-5.5 8.5-5 9-6.5 4-2 9-5.5 1-2 2-3 3-3 2.5-4 4-2.5 9-9.5 3.5-6 8.5-8 2-3 4-2 3.5-3 .5-1.5 0-1.5-4 0-2 .5-2 1-2.5 5-1.5 1-17 10-10 7.5-4 2-4 3-3.5 1.5-6 1-2 1.5-4 5.5-2 1.5-5.5 2.5-1.5 2-4 7-2 2-5 3.5-4.5 8-4 5z"/><path fill="#ffe200" d="M880.5 1425.5l13.5-5 6-3.5 9.5-8 6-2 6-4.5 2-1.5 1.5-3 3.5-3 3.5-5 7-5.5 5-5.5 1.5-1.5 1-4.5 5-5-1-.5-6 3-5.5 2.5-8 6-6 3-3.5 3-2 1-6 1.5-2 1-5 6.5-6.5 3.5-1 1-6 8-6.5 6.5-7 11zM962 1359.5l2-1 1.5-1.5 .5-1.5-2 0-2 0-1 1.5-.5 2z"/><path fill="#ffbd00" d="M884.5 1422.5l9.5-3.5 4-2.5 11.5-9 6-3 4.5-3.5 7-6.5 3.5-4.5 9-7.5 4-5 .5-1.5 0-1.5-1.5-1-3.5 1-8.5 6.5-5.5 2.5-3.5 2.5-9.5 4-3.5 5-8.5 6.5-11.5 12.5-4 5.5-1 2z"/><path fill="#ff9400" d="M888.5 1418.5l4-.5 5.5-2.5 4-4 7.5-5.5 4-2 6-4.5 7-6 4-5 7.5-6 3.5-6.5-1-.5-9.5 6.5-4.5 2-5 3-8 3.5-4.5 6-10.5 8-8 9.5z"/><path fill="#ff6f00" d="M892.5 1415.5l3.5-.5 2-1 3-3.5 18.5-12.5 5.5-4.5 10-11-2-.5-11.5 6-5 2-2.5 2-3 4.5-11 8-7 9.5-1 1.5z"/><path fill="#ff4a00" d="M900 1409.5l4-2 4-3.5 5.5-4 6-3 4-3.5 2.5-5-1-.5-6 2-3 2-1.5 1.5-1.5 3-1.5 1.5-5.5 4.5-4 1.5-2 2-.5 3z"/><path fill="#ff2500" d="M917.5 1396l3.5-2.5 1-1.5-.5-1-2 1-2 1-1 2z"/></g><path d="M935.7 1137.4L936.8 1094.7L939.5 1094.7L941.5 1137.4z" fill="#0010f0"/></g><path d="M871 1432.6H1297V1087.5" fill="none" stroke="#444" stroke-width=".8"/><path d="M871 1432.6L1287.7 1094.7" stroke="#111" stroke-width="1.3"/><path d="M871 1432.6v3.5M869.5 1432.6h-3M948.5 1432.6v3.5M869.5 1369.8h-3M1025.9 1432.6v3.5M869.5 1307h-3M1103.3 1432.6v3.5M869.5 1244.2h-3M1180.8 1432.6v3.5M869.5 1181.4h-3M1258.2 1432.6v3.5M869.5 1118.6h-3" stroke="#222" stroke-width=".8"/><g font-family="DejaVu Sans,Liberation Sans,sans-serif" font-size="21.7" fill="#111"><text x="871.1" y="1455.1" text-anchor="middle">0</text><text x="863.3" y="1441.1" text-anchor="end">0</text><text x="948.6" y="1455.1" text-anchor="middle">10</text><text x="863.3" y="1378.3" text-anchor="end">10</text><text x="1026" y="1455.1" text-anchor="middle">20</text><text x="863.3" y="1315.5" text-anchor="end">20</text><text x="1103.4" y="1455.1" text-anchor="middle">30</text><text x="863.3" y="1252.7" text-anchor="end">30</text><text x="1180.9" y="1455.1" text-anchor="middle">40</text><text x="863.3" y="1189.9" text-anchor="end">40</text><text x="1258.3" y="1455.1" text-anchor="middle">50</text><text x="863.3" y="1127.1" text-anchor="end">50</text><rect x="1323.9" y="1087.5" width="17.5" height="345.3" fill="url(#jg)"/><text x="1346.3" y="1440" font-size="23.6">10<tspan dy="-9.4" font-size="16.6">0</tspan></text><text x="1346.3" y="1356.8" font-size="23.6">10<tspan dy="-9.4" font-size="16.6">1</tspan></text><text x="1346.3" y="1271.8" font-size="23.6">10<tspan dy="-9.4" font-size="16.6">2</tspan></text><text x="1346.3" y="1186.3" font-size="23.6">10<tspan dy="-9.4" font-size="16.6">3</tspan></text><text x="1346.3" y="1100.7" font-size="23.6">10<tspan dy="-9.4" font-size="16.6">4</tspan></text><path d="M1341.4 1432.8h2.5M1341.4 1407.2h1.5M1341.4 1392.1h1.5M1341.4 1381.5h1.5M1341.4 1373.2h1.5M1341.4 1366.5h1.5M1341.4 1360.8h1.5M1341.4 1355.9h1.5M1341.4 1351.5h1.5M1341.4 1347.6h2.5M1341.4 1322h1.5M1341.4 1306.9h1.5M1341.4 1296.3h1.5M1341.4 1288h1.5M1341.4 1281.3h1.5M1341.4 1275.6h1.5M1341.4 1270.7h1.5M1341.4 1266.3h1.5M1341.4 1262.4h2.5M1341.4 1236.8h1.5M1341.4 1221.7h1.5M1341.4 1211.1h1.5M1341.4 1202.8h1.5M1341.4 1196.1h1.5M1341.4 1190.4h1.5M1341.4 1185.5h1.5M1341.4 1181.1h1.5M1341.4 1177.2h2.5M1341.4 1151.6h1.5M1341.4 1136.5h1.5M1341.4 1125.9h1.5M1341.4 1117.6h1.5M1341.4 1110.9h1.5M1341.4 1105.2h1.5M1341.4 1100.3h1.5M1341.4 1095.9h1.5M1341.4 1092h2.5" stroke="#222" stroke-width=".7"/><text x="1148.6" y="1375.6" font-size="24.1">R=0.687</text><text x="1148.6" y="1407.6" font-size="24.1">MAE=2.772</text><text x="1083.2" y="1481.7" text-anchor="middle" font-size="23.95">Optical Flow Winds(m/s)</text><text transform="translate(824.8 1259.6) rotate(-90)" text-anchor="middle" font-size="23.7">WRF Model Winds(m/s)</text></g>
<g font-family="Liberation Serif,serif" font-weight="bold" fill="#595959">
<text x="363" y="1597.4" text-anchor="middle" font-size="29.8">Non-typhoon Area</text>
<path d="M136.6 1617V1904.7H600.8V1617M136.6 1617h-6.7M136.6 1665h-6.7M136.6 1712.9h-6.7M136.6 1760.8h-6.7M136.6 1808.8h-6.7M136.6 1856.8h-6.7M136.6 1904.7h-6.7M136.6 1904.7v6.7M178.8 1904.7v6.7M221 1904.7v6.7M263.2 1904.7v6.7M305.4 1904.7v6.7M347.6 1904.7v6.7M389.8 1904.7v6.7M432 1904.7v6.7M474.2 1904.7v6.7M516.4 1904.7v6.7M558.6 1904.7v6.7M600.8 1904.7v6.7M600.8 1636.3h6.7M600.8 1674.6h6.7M600.8 1713h6.7M600.8 1751.3h6.7M600.8 1789.7h6.7M600.8 1828h6.7M600.8 1866.4h6.7M600.8 1904.7h6.7" fill="none" stroke="#222" stroke-width="1.3"/>
<g font-size="24.5">
<text x="116.6" y="1625.4" text-anchor="end">0.4</text>
<text x="116.6" y="1673.4" text-anchor="end">0.35</text>
<text x="116.6" y="1721.3" text-anchor="end">0.3</text>
<text x="116.6" y="1769.2" text-anchor="end">0.25</text>
<text x="116.6" y="1817.2" text-anchor="end">0.2</text>
<text x="116.6" y="1865.2" text-anchor="end">0.15</text>
<text x="116.6" y="1913.1" text-anchor="end">0.1</text>
<text x="621.6" y="1644.7">2.9</text>
<text x="621.6" y="1683">2.7</text>
<text x="621.6" y="1721.4">2.5</text>
<text x="621.6" y="1759.7">2.3</text>
<text x="621.6" y="1798.1">2.1</text>
<text x="621.6" y="1836.4">1.9</text>
<text x="621.6" y="1874.8">1.7</text>
<text x="621.6" y="1913.1">1.5</text>
<text x="157.7" y="1940" text-anchor="middle">5</text>
<text x="199.9" y="1940" text-anchor="middle">10</text>
<text x="242.1" y="1940" text-anchor="middle">15</text>
<text x="284.3" y="1940" text-anchor="middle">20</text>
<text x="326.5" y="1940" text-anchor="middle">25</text>
<text x="368.7" y="1940" text-anchor="middle">30</text>
<text x="410.9" y="1940" text-anchor="middle">35</text>
<text x="453.1" y="1940" text-anchor="middle">40</text>
<text x="495.3" y="1940" text-anchor="middle">45</text>
<text x="537.5" y="1940" text-anchor="middle">50</text>
<text x="579.7" y="1940" text-anchor="middle">55</text>
</g><g font-size="24">
<text x="383.5" y="1965.2" text-anchor="middle">Time diff (min)</text>
<text transform="translate(72.5 1760.8) rotate(-90)" text-anchor="middle">Relative error</text>
<text transform="translate(674 1760.8) rotate(-90)" text-anchor="middle">Absolute error (m/s)</text>
</g>
<path d="M146.7 1829.1H177.5" stroke="#ED7D31" stroke-width="2.7" stroke-linecap="round"/>
<text x="180.3" y="1836.5" font-size="24">0-17.5 m/s RE</text>
<path d="M146.7 1868.8H177.5" stroke="#FFC000" stroke-width="2.7" stroke-linecap="round"/>
<text x="180.3" y="1876.2" font-size="24">0-17.5 m/s AE</text>
</g>
<path d="M157.7 1648L199.9 1660L242.1 1665L284.3 1673L326.5 1696L368.7 1717L410.9 1740.5L453.1 1752.5L495.3 1763.5L537.5 1775L579.7 1785" fill="none" stroke="#ED7D31" stroke-width="2.7" stroke-linecap="round" stroke-linejoin="round"/>
<path d="M157.7 1688.5L199.9 1706L242.1 1711L284.3 1723.5L326.5 1746L368.7 1772.5L410.9 1792L453.1 1805.5L495.3 1817L537.5 1830.5L579.7 1849.5" fill="none" stroke="#FFC000" stroke-width="2.7" stroke-linecap="round" stroke-linejoin="round"/>
<g font-family="Liberation Serif,serif" font-weight="bold" fill="#595959">
<text x="1129.7" y="1598.1" text-anchor="middle" font-size="29.8">Typhoon area</text>
<path d="M902.4 1614.7V1901.6H1377.8V1614.7M902.4 1614.7h-6.7M902.4 1662.5h-6.7M902.4 1710.3h-6.7M902.4 1758.2h-6.7M902.4 1806h-6.7M902.4 1853.8h-6.7M902.4 1901.6h-6.7M902.4 1901.6v6.7M945.6 1901.6v6.7M988.8 1901.6v6.7M1032.1 1901.6v6.7M1075.3 1901.6v6.7M1118.5 1901.6v6.7M1161.7 1901.6v6.7M1204.9 1901.6v6.7M1248.1 1901.6v6.7M1291.4 1901.6v6.7M1334.6 1901.6v6.7M1377.8 1901.6v6.7M1377.8 1614.7h6.7M1377.8 1646.6h6.7M1377.8 1678.5h6.7M1377.8 1710.3h6.7M1377.8 1742.2h6.7M1377.8 1774.1h6.7M1377.8 1806h6.7M1377.8 1837.8h6.7M1377.8 1869.7h6.7M1377.8 1901.6h6.7" fill="none" stroke="#222" stroke-width="1.3"/>
<g font-size="24.5">
<text x="882.4" y="1623.1" text-anchor="end">0.4</text>
<text x="882.4" y="1670.9" text-anchor="end">0.35</text>
<text x="882.4" y="1718.7" text-anchor="end">0.3</text>
<text x="882.4" y="1766.6" text-anchor="end">0.25</text>
<text x="882.4" y="1814.4" text-anchor="end">0.2</text>
<text x="882.4" y="1862.2" text-anchor="end">0.15</text>
<text x="882.4" y="1910" text-anchor="end">0.1</text>
<text x="1397.4" y="1623.1">12</text>
<text x="1397.4" y="1655">11</text>
<text x="1397.4" y="1686.9">10</text>
<text x="1397.4" y="1718.7">9</text>
<text x="1397.4" y="1750.6">8</text>
<text x="1397.4" y="1782.5">7</text>
<text x="1397.4" y="1814.4">6</text>
<text x="1397.4" y="1846.2">5</text>
<text x="1397.4" y="1878.1">4</text>
<text x="1397.4" y="1910">3</text>
<text x="924" y="1936.9" text-anchor="middle">5</text>
<text x="967.2" y="1936.9" text-anchor="middle">10</text>
<text x="1010.4" y="1936.9" text-anchor="middle">15</text>
<text x="1053.7" y="1936.9" text-anchor="middle">20</text>
<text x="1096.9" y="1936.9" text-anchor="middle">25</text>
<text x="1140.1" y="1936.9" text-anchor="middle">30</text>
<text x="1183.3" y="1936.9" text-anchor="middle">35</text>
<text x="1226.5" y="1936.9" text-anchor="middle">40</text>
<text x="1269.8" y="1936.9" text-anchor="middle">45</text>
<text x="1313" y="1936.9" text-anchor="middle">50</text>
<text x="1356.2" y="1936.9" text-anchor="middle">55</text>
</g><g font-size="24">
<text x="1135" y="1966" text-anchor="middle">Time diff (min)</text>
<text transform="translate(837.8 1758.2) rotate(-90)" text-anchor="middle">Relative error</text>
<text transform="translate(1440.3 1758.2) rotate(-90)" text-anchor="middle">Absolute error (m/s)</text>
</g>
<path d="M1181 1840H1212" stroke="#ED7D31" stroke-width="2.7" stroke-linecap="round"/>
<text x="1214.3" y="1847.4" font-size="24">&gt;17.5 m/s RE</text>
<path d="M1181 1878H1212" stroke="#FFC000" stroke-width="2.7" stroke-linecap="round"/>
<text x="1214.3" y="1885.4" font-size="24">&gt;17.5 m/s AE</text>
</g>
<path d="M924 1798.5L967.2 1801.5L1010.4 1793L1053.7 1767.5L1096.9 1752.5L1140.1 1722.5L1183.3 1680.5L1226.5 1663L1269.8 1653L1313 1660.5L1356.2 1649.5" fill="none" stroke="#ED7D31" stroke-width="2.7" stroke-linecap="round" stroke-linejoin="round"/>
<path d="M924 1843L967.2 1844.5L1010.4 1836.5L1053.7 1807.5L1096.9 1795.5L1140.1 1766.5L1183.3 1723.5L1226.5 1708L1269.8 1699.5L1313 1707L1356.2 1694" fill="none" stroke="#FFC000" stroke-width="2.7" stroke-linecap="round" stroke-linejoin="round"/></svg></body></html>
